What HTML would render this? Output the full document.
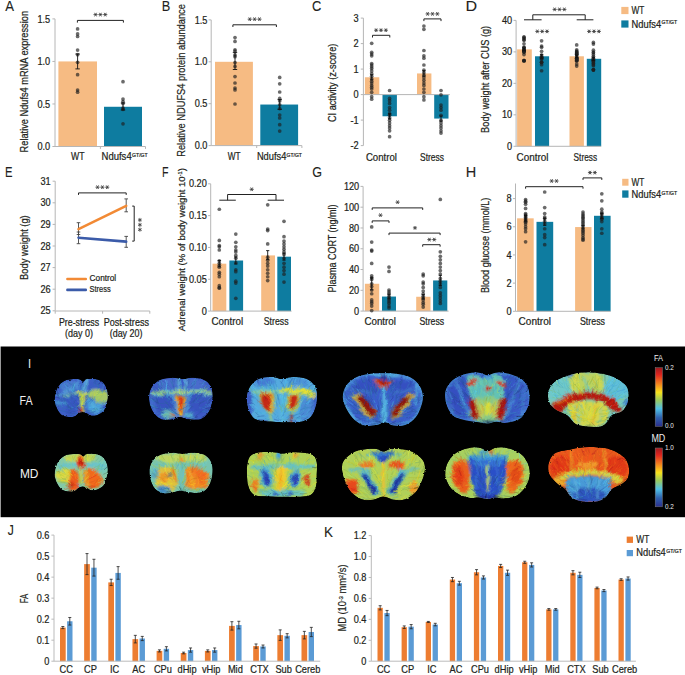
<!DOCTYPE html>
<html><head><meta charset="utf-8"><style>
html,body{margin:0;padding:0;background:#fff;width:685px;height:675px;overflow:hidden}
svg{display:block}
text{font-family:"Liberation Sans", sans-serif}
</style></head><body>
<svg width="685" height="675" viewBox="0 0 685 675">
<rect x="0" y="0" width="685" height="675" fill="#fff"/>
<text x="5.27" y="10.70" font-size="15.2" textLength="8.77" lengthAdjust="spacingAndGlyphs" fill="#231f20" stroke="#231f20" stroke-width="0.1">A</text>
<rect x="58.40" y="61.43" width="38.60" height="85.07" fill="#f6bb83"/>
<rect x="104.00" y="106.77" width="38.00" height="39.73" fill="#0e7ca0"/>
<line x1="55.00" y1="18.90" x2="55.00" y2="146.50" stroke="#b6b6b6" stroke-width="1.0" />
<line x1="52.40" y1="146.50" x2="55.00" y2="146.50" stroke="#b6b6b6" stroke-width="1.0" />
<text x="50.20" y="150.10" font-size="10.2" text-anchor="end" textLength="12.76" lengthAdjust="spacingAndGlyphs" fill="#231f20" stroke="#231f20" stroke-width="0.22" >0.0</text>
<line x1="52.40" y1="103.97" x2="55.00" y2="103.97" stroke="#b6b6b6" stroke-width="1.0" />
<text x="50.20" y="107.57" font-size="10.2" text-anchor="end" textLength="12.76" lengthAdjust="spacingAndGlyphs" fill="#231f20" stroke="#231f20" stroke-width="0.22" >0.5</text>
<line x1="52.40" y1="61.43" x2="55.00" y2="61.43" stroke="#b6b6b6" stroke-width="1.0" />
<text x="50.20" y="65.03" font-size="10.2" text-anchor="end" textLength="12.76" lengthAdjust="spacingAndGlyphs" fill="#231f20" stroke="#231f20" stroke-width="0.22" >1.0</text>
<line x1="52.40" y1="18.90" x2="55.00" y2="18.90" stroke="#b6b6b6" stroke-width="1.0" />
<text x="50.20" y="22.50" font-size="10.2" text-anchor="end" textLength="12.76" lengthAdjust="spacingAndGlyphs" fill="#231f20" stroke="#231f20" stroke-width="0.22" >1.5</text>
<line x1="55.00" y1="146.50" x2="145.50" y2="146.50" stroke="#b6b6b6" stroke-width="1.0" />
<line x1="100.40" y1="146.50" x2="100.40" y2="148.90" stroke="#b6b6b6" stroke-width="1.0" />
<line x1="145.50" y1="146.50" x2="145.50" y2="148.90" stroke="#b6b6b6" stroke-width="1.0" />
<circle cx="77.60" cy="28.90" r="1.85" fill="rgba(30,30,30,0.66)"/>
<circle cx="77.60" cy="33.90" r="1.85" fill="rgba(30,30,30,0.66)"/>
<circle cx="77.60" cy="36.50" r="1.85" fill="rgba(30,30,30,0.66)"/>
<circle cx="77.60" cy="50.10" r="1.85" fill="rgba(30,30,30,0.66)"/>
<circle cx="77.60" cy="54.70" r="1.85" fill="rgba(30,30,30,0.66)"/>
<circle cx="77.60" cy="62.30" r="1.85" fill="rgba(30,30,30,0.66)"/>
<circle cx="77.60" cy="74.70" r="1.85" fill="rgba(30,30,30,0.66)"/>
<circle cx="77.60" cy="90.10" r="1.85" fill="rgba(30,30,30,0.66)"/>
<circle cx="77.60" cy="92.20" r="1.85" fill="rgba(30,30,30,0.66)"/>
<line x1="77.60" y1="54.00" x2="77.60" y2="68.90" stroke="#111" stroke-width="0.9" />
<line x1="75.40" y1="54.00" x2="79.80" y2="54.00" stroke="#111" stroke-width="0.9" />
<line x1="75.40" y1="68.90" x2="79.80" y2="68.90" stroke="#111" stroke-width="0.9" />
<circle cx="123.00" cy="81.70" r="1.85" fill="rgba(30,30,30,0.66)"/>
<circle cx="123.00" cy="99.10" r="1.85" fill="rgba(30,30,30,0.66)"/>
<circle cx="123.00" cy="101.50" r="1.85" fill="rgba(30,30,30,0.66)"/>
<circle cx="123.00" cy="103.60" r="1.85" fill="rgba(30,30,30,0.66)"/>
<circle cx="123.00" cy="108.00" r="1.85" fill="rgba(30,30,30,0.66)"/>
<circle cx="123.00" cy="109.30" r="1.85" fill="rgba(30,30,30,0.66)"/>
<circle cx="123.00" cy="123.80" r="1.85" fill="rgba(30,30,30,0.66)"/>
<line x1="123.00" y1="103.00" x2="123.00" y2="110.00" stroke="#111" stroke-width="0.9" />
<line x1="120.80" y1="103.00" x2="125.20" y2="103.00" stroke="#111" stroke-width="0.9" />
<line x1="120.80" y1="110.00" x2="125.20" y2="110.00" stroke="#111" stroke-width="0.9" />
<path d="M77.40,22.60 V20.40 H123.40 V22.60" stroke="#222" stroke-width="1.0" fill="none" />
<path d="M93.50,14.60L97.60,14.60M94.53,12.82L96.58,16.38M96.58,12.82L94.53,16.38M98.35,14.60L102.45,14.60M99.38,12.82L101.43,16.38M101.43,12.82L99.38,16.38M103.20,14.60L107.30,14.60M104.22,12.82L106.28,16.38M106.28,12.82L104.22,16.38" stroke="#3a3a3a" stroke-width="0.85" fill="none" />
<text transform="translate(27.70,81.70) rotate(-90)" x="0" y="0" font-size="10.2" text-anchor="middle" textLength="141.40" lengthAdjust="spacingAndGlyphs" fill="#231f20" stroke="#231f20" stroke-width="0.22">Relative Ndufs4 mRNA expression</text>
<text x="71.00" y="160.30" font-size="10.3" textLength="13.50" lengthAdjust="spacingAndGlyphs" fill="#231f20" stroke="#231f20" stroke-width="0.22" >WT</text>
<text x="101.50" y="160.30" font-size="10.3" textLength="30.20" lengthAdjust="spacingAndGlyphs" fill="#231f20" stroke="#231f20" stroke-width="0.22" >Ndufs4</text>
<text x="132.10" y="157.00" font-size="5.4" textLength="15.60" lengthAdjust="spacingAndGlyphs" fill="#231f20" stroke="#231f20" stroke-width="0.22" >GT/GT</text>
<text x="161.85" y="10.50" font-size="15.2" textLength="8.54" lengthAdjust="spacingAndGlyphs" fill="#231f20" stroke="#231f20" stroke-width="0.1">B</text>
<rect x="215.00" y="61.80" width="37.90" height="83.80" fill="#f6bb83"/>
<rect x="260.30" y="104.54" width="37.80" height="41.06" fill="#0e7ca0"/>
<line x1="211.20" y1="19.90" x2="211.20" y2="145.60" stroke="#b6b6b6" stroke-width="1.0" />
<line x1="208.60" y1="145.60" x2="211.20" y2="145.60" stroke="#b6b6b6" stroke-width="1.0" />
<text x="207.40" y="149.20" font-size="10.2" text-anchor="end" textLength="12.76" lengthAdjust="spacingAndGlyphs" fill="#231f20" stroke="#231f20" stroke-width="0.22" >0.0</text>
<line x1="208.60" y1="103.70" x2="211.20" y2="103.70" stroke="#b6b6b6" stroke-width="1.0" />
<text x="207.40" y="107.30" font-size="10.2" text-anchor="end" textLength="12.76" lengthAdjust="spacingAndGlyphs" fill="#231f20" stroke="#231f20" stroke-width="0.22" >0.5</text>
<line x1="208.60" y1="61.80" x2="211.20" y2="61.80" stroke="#b6b6b6" stroke-width="1.0" />
<text x="207.40" y="65.40" font-size="10.2" text-anchor="end" textLength="12.76" lengthAdjust="spacingAndGlyphs" fill="#231f20" stroke="#231f20" stroke-width="0.22" >1.0</text>
<line x1="208.60" y1="19.90" x2="211.20" y2="19.90" stroke="#b6b6b6" stroke-width="1.0" />
<text x="207.40" y="23.50" font-size="10.2" text-anchor="end" textLength="12.76" lengthAdjust="spacingAndGlyphs" fill="#231f20" stroke="#231f20" stroke-width="0.22" >1.5</text>
<line x1="211.20" y1="145.60" x2="301.90" y2="145.60" stroke="#b6b6b6" stroke-width="1.0" />
<line x1="256.70" y1="145.60" x2="256.70" y2="148.00" stroke="#b6b6b6" stroke-width="1.0" />
<line x1="301.90" y1="145.60" x2="301.90" y2="148.00" stroke="#b6b6b6" stroke-width="1.0" />
<circle cx="235.00" cy="37.60" r="1.85" fill="rgba(30,30,30,0.66)"/>
<circle cx="235.00" cy="41.40" r="1.85" fill="rgba(30,30,30,0.66)"/>
<circle cx="235.00" cy="49.80" r="1.85" fill="rgba(30,30,30,0.66)"/>
<circle cx="235.00" cy="51.10" r="1.85" fill="rgba(30,30,30,0.66)"/>
<circle cx="235.00" cy="54.90" r="1.85" fill="rgba(30,30,30,0.66)"/>
<circle cx="235.00" cy="56.70" r="1.85" fill="rgba(30,30,30,0.66)"/>
<circle cx="235.00" cy="62.60" r="1.85" fill="rgba(30,30,30,0.66)"/>
<circle cx="235.00" cy="66.40" r="1.85" fill="rgba(30,30,30,0.66)"/>
<circle cx="235.00" cy="76.60" r="1.85" fill="rgba(30,30,30,0.66)"/>
<circle cx="235.00" cy="83.00" r="1.85" fill="rgba(30,30,30,0.66)"/>
<circle cx="235.00" cy="88.10" r="1.85" fill="rgba(30,30,30,0.66)"/>
<circle cx="235.00" cy="89.90" r="1.85" fill="rgba(30,30,30,0.66)"/>
<circle cx="235.00" cy="104.00" r="1.85" fill="rgba(30,30,30,0.66)"/>
<line x1="235.00" y1="52.40" x2="235.00" y2="69.50" stroke="#111" stroke-width="0.9" />
<line x1="232.80" y1="52.40" x2="237.20" y2="52.40" stroke="#111" stroke-width="0.9" />
<line x1="232.80" y1="69.50" x2="237.20" y2="69.50" stroke="#111" stroke-width="0.9" />
<circle cx="279.70" cy="77.40" r="1.85" fill="rgba(30,30,30,0.66)"/>
<circle cx="279.70" cy="83.80" r="1.85" fill="rgba(30,30,30,0.66)"/>
<circle cx="279.70" cy="92.00" r="1.85" fill="rgba(30,30,30,0.66)"/>
<circle cx="279.70" cy="98.40" r="1.85" fill="rgba(30,30,30,0.66)"/>
<circle cx="279.70" cy="100.90" r="1.85" fill="rgba(30,30,30,0.66)"/>
<circle cx="279.70" cy="104.80" r="1.85" fill="rgba(30,30,30,0.66)"/>
<circle cx="279.70" cy="108.60" r="1.85" fill="rgba(30,30,30,0.66)"/>
<circle cx="279.70" cy="115.00" r="1.85" fill="rgba(30,30,30,0.66)"/>
<circle cx="279.70" cy="118.00" r="1.85" fill="rgba(30,30,30,0.66)"/>
<circle cx="279.70" cy="124.70" r="1.85" fill="rgba(30,30,30,0.66)"/>
<circle cx="279.70" cy="131.10" r="1.85" fill="rgba(30,30,30,0.66)"/>
<line x1="279.70" y1="99.60" x2="279.70" y2="109.40" stroke="#111" stroke-width="0.9" />
<line x1="277.50" y1="99.60" x2="281.90" y2="99.60" stroke="#111" stroke-width="0.9" />
<line x1="277.50" y1="109.40" x2="281.90" y2="109.40" stroke="#111" stroke-width="0.9" />
<path d="M232.90,27.00 V24.80 H276.40 V27.00" stroke="#222" stroke-width="1.0" fill="none" />
<path d="M247.70,19.20L251.80,19.20M248.72,17.42L250.78,20.98M250.78,17.42L248.72,20.98M252.55,19.20L256.65,19.20M253.57,17.42L255.62,20.98M255.62,17.42L253.57,20.98M257.40,19.20L261.50,19.20M258.43,17.42L260.47,20.98M260.47,17.42L258.43,20.98" stroke="#3a3a3a" stroke-width="0.85" fill="none" />
<text transform="translate(185.20,80.45) rotate(-90)" x="0" y="0" font-size="10.2" text-anchor="middle" textLength="152.70" lengthAdjust="spacingAndGlyphs" fill="#231f20" stroke="#231f20" stroke-width="0.22">Relative NDUFS4 protein abundance</text>
<text x="227.80" y="160.30" font-size="10.3" textLength="12.80" lengthAdjust="spacingAndGlyphs" fill="#231f20" stroke="#231f20" stroke-width="0.22" >WT</text>
<text x="256.90" y="160.30" font-size="10.3" textLength="29.50" lengthAdjust="spacingAndGlyphs" fill="#231f20" stroke="#231f20" stroke-width="0.22" >Ndufs4</text>
<text x="286.60" y="157.00" font-size="5.4" textLength="15.30" lengthAdjust="spacingAndGlyphs" fill="#231f20" stroke="#231f20" stroke-width="0.22" >GT/GT</text>
<text x="312.05" y="10.60" font-size="15.2" textLength="9.25" lengthAdjust="spacingAndGlyphs" fill="#231f20" stroke="#231f20" stroke-width="0.1">C</text>
<rect x="364.90" y="77.26" width="14.40" height="17.34" fill="#f6bb83"/>
<rect x="382.50" y="94.60" width="14.40" height="21.67" fill="#0e7ca0"/>
<rect x="417.00" y="73.44" width="14.40" height="21.16" fill="#f6bb83"/>
<rect x="434.20" y="94.60" width="14.30" height="23.97" fill="#0e7ca0"/>
<line x1="363.40" y1="94.60" x2="449.80" y2="94.60" stroke="#b6b6b6" stroke-width="1.0" />
<line x1="363.40" y1="18.10" x2="363.40" y2="145.60" stroke="#b6b6b6" stroke-width="1.0" />
<line x1="360.80" y1="18.10" x2="363.40" y2="18.10" stroke="#b6b6b6" stroke-width="1.0" />
<text x="358.60" y="21.70" font-size="10.2" text-anchor="end" textLength="5.11" lengthAdjust="spacingAndGlyphs" fill="#231f20" stroke="#231f20" stroke-width="0.22" >3</text>
<line x1="360.80" y1="43.60" x2="363.40" y2="43.60" stroke="#b6b6b6" stroke-width="1.0" />
<text x="358.60" y="47.20" font-size="10.2" text-anchor="end" textLength="5.11" lengthAdjust="spacingAndGlyphs" fill="#231f20" stroke="#231f20" stroke-width="0.22" >2</text>
<line x1="360.80" y1="69.10" x2="363.40" y2="69.10" stroke="#b6b6b6" stroke-width="1.0" />
<text x="358.60" y="72.70" font-size="10.2" text-anchor="end" textLength="5.11" lengthAdjust="spacingAndGlyphs" fill="#231f20" stroke="#231f20" stroke-width="0.22" >1</text>
<line x1="360.80" y1="94.60" x2="363.40" y2="94.60" stroke="#b6b6b6" stroke-width="1.0" />
<text x="358.60" y="98.20" font-size="10.2" text-anchor="end" textLength="5.11" lengthAdjust="spacingAndGlyphs" fill="#231f20" stroke="#231f20" stroke-width="0.22" >0</text>
<line x1="360.80" y1="120.10" x2="363.40" y2="120.10" stroke="#b6b6b6" stroke-width="1.0" />
<text x="358.60" y="123.70" font-size="10.2" text-anchor="end" textLength="8.16" lengthAdjust="spacingAndGlyphs" fill="#231f20" stroke="#231f20" stroke-width="0.22" >-1</text>
<line x1="360.80" y1="145.60" x2="363.40" y2="145.60" stroke="#b6b6b6" stroke-width="1.0" />
<text x="358.60" y="149.20" font-size="10.2" text-anchor="end" textLength="8.16" lengthAdjust="spacingAndGlyphs" fill="#231f20" stroke="#231f20" stroke-width="0.22" >-2</text>
<circle cx="371.70" cy="43.34" r="1.85" fill="rgba(30,30,30,0.66)"/>
<circle cx="371.70" cy="52.27" r="1.85" fill="rgba(30,30,30,0.66)"/>
<circle cx="371.70" cy="54.05" r="1.85" fill="rgba(30,30,30,0.66)"/>
<circle cx="371.70" cy="55.84" r="1.85" fill="rgba(30,30,30,0.66)"/>
<circle cx="371.70" cy="63.49" r="1.85" fill="rgba(30,30,30,0.66)"/>
<circle cx="371.70" cy="65.02" r="1.85" fill="rgba(30,30,30,0.66)"/>
<circle cx="371.70" cy="66.80" r="1.85" fill="rgba(30,30,30,0.66)"/>
<circle cx="371.70" cy="68.59" r="1.85" fill="rgba(30,30,30,0.66)"/>
<circle cx="371.70" cy="70.88" r="1.85" fill="rgba(30,30,30,0.66)"/>
<circle cx="371.70" cy="73.69" r="1.85" fill="rgba(30,30,30,0.66)"/>
<circle cx="371.70" cy="76.24" r="1.85" fill="rgba(30,30,30,0.66)"/>
<circle cx="371.70" cy="78.79" r="1.85" fill="rgba(30,30,30,0.66)"/>
<circle cx="371.70" cy="81.34" r="1.85" fill="rgba(30,30,30,0.66)"/>
<circle cx="371.70" cy="83.12" r="1.85" fill="rgba(30,30,30,0.66)"/>
<circle cx="371.70" cy="85.42" r="1.85" fill="rgba(30,30,30,0.66)"/>
<circle cx="371.70" cy="87.20" r="1.85" fill="rgba(30,30,30,0.66)"/>
<circle cx="371.70" cy="88.99" r="1.85" fill="rgba(30,30,30,0.66)"/>
<circle cx="371.70" cy="92.30" r="1.85" fill="rgba(30,30,30,0.66)"/>
<circle cx="371.70" cy="96.64" r="1.85" fill="rgba(30,30,30,0.66)"/>
<circle cx="371.70" cy="99.19" r="1.85" fill="rgba(30,30,30,0.66)"/>
<circle cx="389.60" cy="90.52" r="1.85" fill="rgba(30,30,30,0.66)"/>
<circle cx="389.60" cy="98.42" r="1.85" fill="rgba(30,30,30,0.66)"/>
<circle cx="389.60" cy="100.72" r="1.85" fill="rgba(30,30,30,0.66)"/>
<circle cx="389.60" cy="103.52" r="1.85" fill="rgba(30,30,30,0.66)"/>
<circle cx="389.60" cy="107.60" r="1.85" fill="rgba(30,30,30,0.66)"/>
<circle cx="389.60" cy="110.16" r="1.85" fill="rgba(30,30,30,0.66)"/>
<circle cx="389.60" cy="113.72" r="1.85" fill="rgba(30,30,30,0.66)"/>
<circle cx="389.60" cy="115.25" r="1.85" fill="rgba(30,30,30,0.66)"/>
<circle cx="389.60" cy="117.80" r="1.85" fill="rgba(30,30,30,0.66)"/>
<circle cx="389.60" cy="120.35" r="1.85" fill="rgba(30,30,30,0.66)"/>
<circle cx="389.60" cy="122.91" r="1.85" fill="rgba(30,30,30,0.66)"/>
<circle cx="389.60" cy="125.71" r="1.85" fill="rgba(30,30,30,0.66)"/>
<circle cx="389.60" cy="128.00" r="1.85" fill="rgba(30,30,30,0.66)"/>
<circle cx="389.60" cy="130.81" r="1.85" fill="rgba(30,30,30,0.66)"/>
<circle cx="389.60" cy="136.67" r="1.85" fill="rgba(30,30,30,0.66)"/>
<circle cx="423.90" cy="26.00" r="1.85" fill="rgba(30,30,30,0.66)"/>
<circle cx="423.90" cy="29.32" r="1.85" fill="rgba(30,30,30,0.66)"/>
<circle cx="423.90" cy="50.48" r="1.85" fill="rgba(30,30,30,0.66)"/>
<circle cx="423.90" cy="55.84" r="1.85" fill="rgba(30,30,30,0.66)"/>
<circle cx="423.90" cy="58.13" r="1.85" fill="rgba(30,30,30,0.66)"/>
<circle cx="423.90" cy="65.02" r="1.85" fill="rgba(30,30,30,0.66)"/>
<circle cx="423.90" cy="70.12" r="1.85" fill="rgba(30,30,30,0.66)"/>
<circle cx="423.90" cy="72.67" r="1.85" fill="rgba(30,30,30,0.66)"/>
<circle cx="423.90" cy="75.22" r="1.85" fill="rgba(30,30,30,0.66)"/>
<circle cx="423.90" cy="77.77" r="1.85" fill="rgba(30,30,30,0.66)"/>
<circle cx="423.90" cy="80.32" r="1.85" fill="rgba(30,30,30,0.66)"/>
<circle cx="423.90" cy="83.12" r="1.85" fill="rgba(30,30,30,0.66)"/>
<circle cx="423.90" cy="85.42" r="1.85" fill="rgba(30,30,30,0.66)"/>
<circle cx="423.90" cy="88.99" r="1.85" fill="rgba(30,30,30,0.66)"/>
<circle cx="423.90" cy="92.30" r="1.85" fill="rgba(30,30,30,0.66)"/>
<circle cx="423.90" cy="96.64" r="1.85" fill="rgba(30,30,30,0.66)"/>
<circle cx="423.90" cy="99.95" r="1.85" fill="rgba(30,30,30,0.66)"/>
<circle cx="441.00" cy="90.52" r="1.85" fill="rgba(30,30,30,0.66)"/>
<circle cx="441.00" cy="94.85" r="1.85" fill="rgba(30,30,30,0.66)"/>
<circle cx="441.00" cy="105.05" r="1.85" fill="rgba(30,30,30,0.66)"/>
<circle cx="441.00" cy="107.60" r="1.85" fill="rgba(30,30,30,0.66)"/>
<circle cx="441.00" cy="110.16" r="1.85" fill="rgba(30,30,30,0.66)"/>
<circle cx="441.00" cy="115.25" r="1.85" fill="rgba(30,30,30,0.66)"/>
<circle cx="441.00" cy="120.35" r="1.85" fill="rgba(30,30,30,0.66)"/>
<circle cx="441.00" cy="122.91" r="1.85" fill="rgba(30,30,30,0.66)"/>
<circle cx="441.00" cy="125.71" r="1.85" fill="rgba(30,30,30,0.66)"/>
<circle cx="441.00" cy="128.00" r="1.85" fill="rgba(30,30,30,0.66)"/>
<circle cx="441.00" cy="130.81" r="1.85" fill="rgba(30,30,30,0.66)"/>
<circle cx="441.00" cy="133.10" r="1.85" fill="rgba(30,30,30,0.66)"/>
<line x1="371.70" y1="79.81" x2="371.70" y2="74.71" stroke="#111" stroke-width="0.9" />
<line x1="370.10" y1="79.81" x2="373.30" y2="79.81" stroke="#111" stroke-width="0.9" />
<line x1="370.10" y1="74.71" x2="373.30" y2="74.71" stroke="#111" stroke-width="0.9" />
<line x1="389.60" y1="113.72" x2="389.60" y2="118.82" stroke="#111" stroke-width="0.9" />
<line x1="388.00" y1="113.72" x2="391.20" y2="113.72" stroke="#111" stroke-width="0.9" />
<line x1="388.00" y1="118.82" x2="391.20" y2="118.82" stroke="#111" stroke-width="0.9" />
<line x1="423.90" y1="76.24" x2="423.90" y2="70.63" stroke="#111" stroke-width="0.9" />
<line x1="422.30" y1="76.24" x2="425.50" y2="76.24" stroke="#111" stroke-width="0.9" />
<line x1="422.30" y1="70.63" x2="425.50" y2="70.63" stroke="#111" stroke-width="0.9" />
<line x1="441.00" y1="116.02" x2="441.00" y2="121.12" stroke="#111" stroke-width="0.9" />
<line x1="439.40" y1="116.02" x2="442.60" y2="116.02" stroke="#111" stroke-width="0.9" />
<line x1="439.40" y1="121.12" x2="442.60" y2="121.12" stroke="#111" stroke-width="0.9" />
<path d="M372.50,37.50 V35.30 H389.80 V37.50" stroke="#222" stroke-width="1.0" fill="none" />
<path d="M374.10,30.20L378.20,30.20M375.12,28.42L377.17,31.98M377.17,28.42L375.12,31.98M378.95,30.20L383.05,30.20M379.98,28.42L382.02,31.98M382.02,28.42L379.98,31.98M383.80,30.20L387.90,30.20M384.83,28.42L386.88,31.98M386.88,28.42L384.83,31.98" stroke="#3a3a3a" stroke-width="0.85" fill="none" />
<path d="M423.90,21.10 V18.90 H441.00 V21.10" stroke="#222" stroke-width="1.0" fill="none" />
<path d="M425.60,13.90L429.70,13.90M426.62,12.12L428.67,15.68M428.67,12.12L426.62,15.68M430.45,13.90L434.55,13.90M431.48,12.12L433.52,15.68M433.52,12.12L431.48,15.68M435.30,13.90L439.40,13.90M436.33,12.12L438.38,15.68M438.38,12.12L436.33,15.68" stroke="#3a3a3a" stroke-width="0.85" fill="none" />
<text transform="translate(335.90,82.85) rotate(-90)" x="0" y="0" font-size="10.2" text-anchor="middle" textLength="78.30" lengthAdjust="spacingAndGlyphs" fill="#231f20" stroke="#231f20" stroke-width="0.22">CI activity (z-score)</text>
<text x="365.90" y="160.60" font-size="10.3" textLength="31.00" lengthAdjust="spacingAndGlyphs" fill="#231f20" stroke="#231f20" stroke-width="0.22" >Control</text>
<text x="420.00" y="160.60" font-size="10.3" textLength="24.00" lengthAdjust="spacingAndGlyphs" fill="#231f20" stroke="#231f20" stroke-width="0.22" >Stress</text>
<text x="465.48" y="10.50" font-size="15.2" textLength="11.61" lengthAdjust="spacingAndGlyphs" fill="#231f20" stroke="#231f20" stroke-width="0.1">D</text>
<rect x="517.10" y="49.36" width="14.70" height="96.94" fill="#f6bb83"/>
<rect x="535.00" y="56.28" width="14.10" height="90.02" fill="#0e7ca0"/>
<rect x="569.50" y="56.28" width="14.40" height="90.02" fill="#f6bb83"/>
<rect x="586.80" y="58.80" width="14.40" height="87.50" fill="#0e7ca0"/>
<line x1="516.10" y1="20.40" x2="516.10" y2="146.30" stroke="#b6b6b6" stroke-width="1.0" />
<line x1="513.50" y1="146.30" x2="516.10" y2="146.30" stroke="#b6b6b6" stroke-width="1.0" />
<text x="512.20" y="149.90" font-size="10.2" text-anchor="end" textLength="5.11" lengthAdjust="spacingAndGlyphs" fill="#231f20" stroke="#231f20" stroke-width="0.22" >0</text>
<line x1="513.50" y1="114.83" x2="516.10" y2="114.83" stroke="#b6b6b6" stroke-width="1.0" />
<text x="512.20" y="118.43" font-size="10.2" text-anchor="end" textLength="10.21" lengthAdjust="spacingAndGlyphs" fill="#231f20" stroke="#231f20" stroke-width="0.22" >10</text>
<line x1="513.50" y1="83.35" x2="516.10" y2="83.35" stroke="#b6b6b6" stroke-width="1.0" />
<text x="512.20" y="86.95" font-size="10.2" text-anchor="end" textLength="10.21" lengthAdjust="spacingAndGlyphs" fill="#231f20" stroke="#231f20" stroke-width="0.22" >20</text>
<line x1="513.50" y1="51.88" x2="516.10" y2="51.88" stroke="#b6b6b6" stroke-width="1.0" />
<text x="512.20" y="55.48" font-size="10.2" text-anchor="end" textLength="10.21" lengthAdjust="spacingAndGlyphs" fill="#231f20" stroke="#231f20" stroke-width="0.22" >30</text>
<line x1="513.50" y1="20.40" x2="516.10" y2="20.40" stroke="#b6b6b6" stroke-width="1.0" />
<text x="512.20" y="24.00" font-size="10.2" text-anchor="end" textLength="10.21" lengthAdjust="spacingAndGlyphs" fill="#231f20" stroke="#231f20" stroke-width="0.22" >40</text>
<line x1="516.10" y1="146.30" x2="601.20" y2="146.30" stroke="#b6b6b6" stroke-width="1.0" />
<circle cx="524.00" cy="60.69" r="1.85" fill="rgba(30,30,30,0.66)"/>
<circle cx="524.00" cy="37.08" r="1.85" fill="rgba(30,30,30,0.66)"/>
<circle cx="524.00" cy="38.50" r="1.85" fill="rgba(30,30,30,0.66)"/>
<circle cx="524.00" cy="60.69" r="1.85" fill="rgba(30,30,30,0.66)"/>
<circle cx="524.00" cy="40.36" r="1.85" fill="rgba(30,30,30,0.66)"/>
<circle cx="524.00" cy="43.76" r="1.85" fill="rgba(30,30,30,0.66)"/>
<circle cx="524.00" cy="52.21" r="1.85" fill="rgba(30,30,30,0.66)"/>
<circle cx="524.00" cy="47.56" r="1.85" fill="rgba(30,30,30,0.66)"/>
<circle cx="524.00" cy="52.11" r="1.85" fill="rgba(30,30,30,0.66)"/>
<circle cx="524.00" cy="39.64" r="1.85" fill="rgba(30,30,30,0.66)"/>
<circle cx="524.00" cy="48.12" r="1.85" fill="rgba(30,30,30,0.66)"/>
<circle cx="524.00" cy="50.63" r="1.85" fill="rgba(30,30,30,0.66)"/>
<circle cx="524.00" cy="50.70" r="1.85" fill="rgba(30,30,30,0.66)"/>
<circle cx="524.00" cy="50.54" r="1.85" fill="rgba(30,30,30,0.66)"/>
<circle cx="524.00" cy="50.40" r="1.85" fill="rgba(30,30,30,0.66)"/>
<circle cx="524.00" cy="54.54" r="1.85" fill="rgba(30,30,30,0.66)"/>
<circle cx="524.00" cy="37.21" r="1.85" fill="rgba(30,30,30,0.66)"/>
<circle cx="524.00" cy="60.63" r="1.85" fill="rgba(30,30,30,0.66)"/>
<circle cx="524.00" cy="60.69" r="1.85" fill="rgba(30,30,30,0.66)"/>
<circle cx="524.00" cy="50.08" r="1.85" fill="rgba(30,30,30,0.66)"/>
<circle cx="524.00" cy="50.22" r="1.85" fill="rgba(30,30,30,0.66)"/>
<circle cx="524.00" cy="47.16" r="1.85" fill="rgba(30,30,30,0.66)"/>
<circle cx="541.60" cy="70.76" r="1.85" fill="rgba(30,30,30,0.66)"/>
<circle cx="541.60" cy="40.86" r="1.85" fill="rgba(30,30,30,0.66)"/>
<circle cx="541.60" cy="47.30" r="1.85" fill="rgba(30,30,30,0.66)"/>
<circle cx="541.60" cy="57.54" r="1.85" fill="rgba(30,30,30,0.66)"/>
<circle cx="541.60" cy="57.36" r="1.85" fill="rgba(30,30,30,0.66)"/>
<circle cx="541.60" cy="56.62" r="1.85" fill="rgba(30,30,30,0.66)"/>
<circle cx="541.60" cy="64.76" r="1.85" fill="rgba(30,30,30,0.66)"/>
<circle cx="541.60" cy="51.28" r="1.85" fill="rgba(30,30,30,0.66)"/>
<circle cx="541.60" cy="46.02" r="1.85" fill="rgba(30,30,30,0.66)"/>
<circle cx="541.60" cy="54.98" r="1.85" fill="rgba(30,30,30,0.66)"/>
<circle cx="541.60" cy="58.06" r="1.85" fill="rgba(30,30,30,0.66)"/>
<circle cx="541.60" cy="58.22" r="1.85" fill="rgba(30,30,30,0.66)"/>
<circle cx="541.60" cy="62.12" r="1.85" fill="rgba(30,30,30,0.66)"/>
<circle cx="541.60" cy="62.29" r="1.85" fill="rgba(30,30,30,0.66)"/>
<circle cx="541.60" cy="59.28" r="1.85" fill="rgba(30,30,30,0.66)"/>
<circle cx="541.60" cy="62.58" r="1.85" fill="rgba(30,30,30,0.66)"/>
<circle cx="576.70" cy="66.04" r="1.85" fill="rgba(30,30,30,0.66)"/>
<circle cx="576.70" cy="44.95" r="1.85" fill="rgba(30,30,30,0.66)"/>
<circle cx="576.70" cy="64.07" r="1.85" fill="rgba(30,30,30,0.66)"/>
<circle cx="576.70" cy="59.90" r="1.85" fill="rgba(30,30,30,0.66)"/>
<circle cx="576.70" cy="57.66" r="1.85" fill="rgba(30,30,30,0.66)"/>
<circle cx="576.70" cy="52.80" r="1.85" fill="rgba(30,30,30,0.66)"/>
<circle cx="576.70" cy="54.99" r="1.85" fill="rgba(30,30,30,0.66)"/>
<circle cx="576.70" cy="59.95" r="1.85" fill="rgba(30,30,30,0.66)"/>
<circle cx="576.70" cy="54.12" r="1.85" fill="rgba(30,30,30,0.66)"/>
<circle cx="576.70" cy="51.08" r="1.85" fill="rgba(30,30,30,0.66)"/>
<circle cx="576.70" cy="57.06" r="1.85" fill="rgba(30,30,30,0.66)"/>
<circle cx="576.70" cy="58.60" r="1.85" fill="rgba(30,30,30,0.66)"/>
<circle cx="576.70" cy="58.36" r="1.85" fill="rgba(30,30,30,0.66)"/>
<circle cx="576.70" cy="52.01" r="1.85" fill="rgba(30,30,30,0.66)"/>
<circle cx="576.70" cy="53.44" r="1.85" fill="rgba(30,30,30,0.66)"/>
<circle cx="576.70" cy="61.18" r="1.85" fill="rgba(30,30,30,0.66)"/>
<circle cx="576.70" cy="54.30" r="1.85" fill="rgba(30,30,30,0.66)"/>
<circle cx="576.70" cy="58.81" r="1.85" fill="rgba(30,30,30,0.66)"/>
<circle cx="576.70" cy="60.24" r="1.85" fill="rgba(30,30,30,0.66)"/>
<circle cx="576.70" cy="49.75" r="1.85" fill="rgba(30,30,30,0.66)"/>
<circle cx="576.70" cy="51.95" r="1.85" fill="rgba(30,30,30,0.66)"/>
<circle cx="576.70" cy="60.10" r="1.85" fill="rgba(30,30,30,0.66)"/>
<circle cx="593.40" cy="69.82" r="1.85" fill="rgba(30,30,30,0.66)"/>
<circle cx="593.40" cy="42.43" r="1.85" fill="rgba(30,30,30,0.66)"/>
<circle cx="593.40" cy="44.11" r="1.85" fill="rgba(30,30,30,0.66)"/>
<circle cx="593.40" cy="69.82" r="1.85" fill="rgba(30,30,30,0.66)"/>
<circle cx="593.40" cy="69.82" r="1.85" fill="rgba(30,30,30,0.66)"/>
<circle cx="593.40" cy="52.08" r="1.85" fill="rgba(30,30,30,0.66)"/>
<circle cx="593.40" cy="54.44" r="1.85" fill="rgba(30,30,30,0.66)"/>
<circle cx="593.40" cy="60.94" r="1.85" fill="rgba(30,30,30,0.66)"/>
<circle cx="593.40" cy="59.17" r="1.85" fill="rgba(30,30,30,0.66)"/>
<circle cx="593.40" cy="69.82" r="1.85" fill="rgba(30,30,30,0.66)"/>
<circle cx="593.40" cy="63.11" r="1.85" fill="rgba(30,30,30,0.66)"/>
<circle cx="593.40" cy="65.87" r="1.85" fill="rgba(30,30,30,0.66)"/>
<circle cx="593.40" cy="60.32" r="1.85" fill="rgba(30,30,30,0.66)"/>
<circle cx="593.40" cy="52.73" r="1.85" fill="rgba(30,30,30,0.66)"/>
<circle cx="593.40" cy="58.44" r="1.85" fill="rgba(30,30,30,0.66)"/>
<circle cx="593.40" cy="56.25" r="1.85" fill="rgba(30,30,30,0.66)"/>
<circle cx="593.40" cy="63.58" r="1.85" fill="rgba(30,30,30,0.66)"/>
<circle cx="593.40" cy="61.78" r="1.85" fill="rgba(30,30,30,0.66)"/>
<circle cx="593.40" cy="58.03" r="1.85" fill="rgba(30,30,30,0.66)"/>
<circle cx="593.40" cy="60.73" r="1.85" fill="rgba(30,30,30,0.66)"/>
<circle cx="593.40" cy="50.14" r="1.85" fill="rgba(30,30,30,0.66)"/>
<circle cx="593.40" cy="64.79" r="1.85" fill="rgba(30,30,30,0.66)"/>
<line x1="524.00" y1="50.62" x2="524.00" y2="48.10" stroke="#111" stroke-width="0.9" />
<line x1="522.40" y1="50.62" x2="525.60" y2="50.62" stroke="#111" stroke-width="0.9" />
<line x1="522.40" y1="48.10" x2="525.60" y2="48.10" stroke="#111" stroke-width="0.9" />
<line x1="541.60" y1="58.17" x2="541.60" y2="54.39" stroke="#111" stroke-width="0.9" />
<line x1="540.00" y1="58.17" x2="543.20" y2="58.17" stroke="#111" stroke-width="0.9" />
<line x1="540.00" y1="54.39" x2="543.20" y2="54.39" stroke="#111" stroke-width="0.9" />
<line x1="576.70" y1="57.54" x2="576.70" y2="55.02" stroke="#111" stroke-width="0.9" />
<line x1="575.10" y1="57.54" x2="578.30" y2="57.54" stroke="#111" stroke-width="0.9" />
<line x1="575.10" y1="55.02" x2="578.30" y2="55.02" stroke="#111" stroke-width="0.9" />
<line x1="593.40" y1="60.37" x2="593.40" y2="57.23" stroke="#111" stroke-width="0.9" />
<line x1="591.80" y1="60.37" x2="595.00" y2="60.37" stroke="#111" stroke-width="0.9" />
<line x1="591.80" y1="57.23" x2="595.00" y2="57.23" stroke="#111" stroke-width="0.9" />
<path d="M532.8,19.8 V14.8 H585.2 V19.8" stroke="#222" stroke-width="1.0" fill="none" />
<line x1="524.00" y1="19.80" x2="541.60" y2="19.80" stroke="#222" stroke-width="1.0" />
<line x1="576.70" y1="19.80" x2="593.40" y2="19.80" stroke="#222" stroke-width="1.0" />
<path d="M552.60,9.40L556.70,9.40M553.62,7.62L555.67,11.18M555.67,7.62L553.62,11.18M557.45,9.40L561.55,9.40M558.48,7.62L560.52,11.18M560.52,7.62L558.48,11.18M562.30,9.40L566.40,9.40M563.33,7.62L565.38,11.18M565.38,7.62L563.33,11.18" stroke="#3a3a3a" stroke-width="0.85" fill="none" />
<path d="M535.30,31.40L539.40,31.40M536.33,29.62L538.38,33.18M538.38,29.62L536.33,33.18M540.15,31.40L544.25,31.40M541.18,29.62L543.23,33.18M543.23,29.62L541.18,33.18M545.00,31.40L549.10,31.40M546.03,29.62L548.08,33.18M548.08,29.62L546.03,33.18" stroke="#3a3a3a" stroke-width="0.85" fill="none" />
<path d="M587.10,31.40L591.20,31.40M588.12,29.62L590.17,33.18M590.17,29.62L588.12,33.18M591.95,31.40L596.05,31.40M592.98,29.62L595.02,33.18M595.02,29.62L592.98,33.18M596.80,31.40L600.90,31.40M597.83,29.62L599.88,33.18M599.88,29.62L597.83,33.18" stroke="#3a3a3a" stroke-width="0.85" fill="none" />
<rect x="621.30" y="6.90" width="7.20" height="7.20" fill="#f6bb83"/>
<text x="631.60" y="14.40" font-size="10.0" textLength="12.80" lengthAdjust="spacingAndGlyphs" fill="#231f20" stroke="#231f20" stroke-width="0.22" >WT</text>
<rect x="621.30" y="20.40" width="7.20" height="7.20" fill="#0e7ca0"/>
<text x="631.60" y="27.80" font-size="10.2" textLength="29.60" lengthAdjust="spacingAndGlyphs" fill="#231f20" stroke="#231f20" stroke-width="0.22" >Ndufs4</text>
<text x="661.60" y="24.40" font-size="5.4" textLength="15.60" lengthAdjust="spacingAndGlyphs" fill="#231f20" stroke="#231f20" stroke-width="0.22" >GT/GT</text>
<text transform="translate(489.10,79.35) rotate(-90)" x="0" y="0" font-size="10.2" text-anchor="middle" textLength="107.10" lengthAdjust="spacingAndGlyphs" fill="#231f20" stroke="#231f20" stroke-width="0.22">Body weight after CUS (g)</text>
<text x="516.50" y="160.60" font-size="10.3" textLength="32.00" lengthAdjust="spacingAndGlyphs" fill="#231f20" stroke="#231f20" stroke-width="0.22" >Control</text>
<text x="573.60" y="160.60" font-size="10.3" textLength="23.50" lengthAdjust="spacingAndGlyphs" fill="#231f20" stroke="#231f20" stroke-width="0.22" >Stress</text>
<text x="4.98" y="176.90" font-size="15.2" textLength="7.52" lengthAdjust="spacingAndGlyphs" fill="#231f20" stroke="#231f20" stroke-width="0.1">E</text>
<line x1="55.20" y1="181.20" x2="55.20" y2="310.80" stroke="#b6b6b6" stroke-width="1.0" />
<line x1="52.60" y1="310.80" x2="55.20" y2="310.80" stroke="#b6b6b6" stroke-width="1.0" />
<text x="50.60" y="314.40" font-size="10.2" text-anchor="end" textLength="10.21" lengthAdjust="spacingAndGlyphs" fill="#231f20" stroke="#231f20" stroke-width="0.22" >25</text>
<line x1="52.60" y1="289.20" x2="55.20" y2="289.20" stroke="#b6b6b6" stroke-width="1.0" />
<text x="50.60" y="292.80" font-size="10.2" text-anchor="end" textLength="10.21" lengthAdjust="spacingAndGlyphs" fill="#231f20" stroke="#231f20" stroke-width="0.22" >26</text>
<line x1="52.60" y1="267.60" x2="55.20" y2="267.60" stroke="#b6b6b6" stroke-width="1.0" />
<text x="50.60" y="271.20" font-size="10.2" text-anchor="end" textLength="10.21" lengthAdjust="spacingAndGlyphs" fill="#231f20" stroke="#231f20" stroke-width="0.22" >27</text>
<line x1="52.60" y1="246.00" x2="55.20" y2="246.00" stroke="#b6b6b6" stroke-width="1.0" />
<text x="50.60" y="249.60" font-size="10.2" text-anchor="end" textLength="10.21" lengthAdjust="spacingAndGlyphs" fill="#231f20" stroke="#231f20" stroke-width="0.22" >28</text>
<line x1="52.60" y1="224.40" x2="55.20" y2="224.40" stroke="#b6b6b6" stroke-width="1.0" />
<text x="50.60" y="228.00" font-size="10.2" text-anchor="end" textLength="10.21" lengthAdjust="spacingAndGlyphs" fill="#231f20" stroke="#231f20" stroke-width="0.22" >29</text>
<line x1="52.60" y1="202.80" x2="55.20" y2="202.80" stroke="#b6b6b6" stroke-width="1.0" />
<text x="50.60" y="206.40" font-size="10.2" text-anchor="end" textLength="10.21" lengthAdjust="spacingAndGlyphs" fill="#231f20" stroke="#231f20" stroke-width="0.22" >30</text>
<line x1="52.60" y1="181.20" x2="55.20" y2="181.20" stroke="#b6b6b6" stroke-width="1.0" />
<text x="50.60" y="184.80" font-size="10.2" text-anchor="end" textLength="10.21" lengthAdjust="spacingAndGlyphs" fill="#231f20" stroke="#231f20" stroke-width="0.22" >31</text>
<line x1="55.20" y1="311.00" x2="149.80" y2="311.00" stroke="#b6b6b6" stroke-width="1.0" />
<line x1="102.60" y1="311.00" x2="102.60" y2="313.70" stroke="#b6b6b6" stroke-width="1.0" />
<line x1="149.80" y1="311.00" x2="149.80" y2="313.70" stroke="#b6b6b6" stroke-width="1.0" />
<line x1="55.20" y1="311.00" x2="55.20" y2="313.70" stroke="#b6b6b6" stroke-width="1.0" />
<line x1="78.50" y1="222.70" x2="78.50" y2="234.50" stroke="#444" stroke-width="0.9" />
<line x1="76.70" y1="222.70" x2="80.30" y2="222.70" stroke="#444" stroke-width="0.9" />
<line x1="76.70" y1="234.50" x2="80.30" y2="234.50" stroke="#444" stroke-width="0.9" />
<line x1="78.50" y1="232.00" x2="78.50" y2="243.70" stroke="#444" stroke-width="0.9" />
<line x1="76.70" y1="232.00" x2="80.30" y2="232.00" stroke="#444" stroke-width="0.9" />
<line x1="76.70" y1="243.70" x2="80.30" y2="243.70" stroke="#444" stroke-width="0.9" />
<line x1="126.20" y1="198.90" x2="126.20" y2="211.80" stroke="#444" stroke-width="0.9" />
<line x1="124.40" y1="198.90" x2="128.00" y2="198.90" stroke="#444" stroke-width="0.9" />
<line x1="124.40" y1="211.80" x2="128.00" y2="211.80" stroke="#444" stroke-width="0.9" />
<line x1="126.20" y1="236.40" x2="126.20" y2="247.30" stroke="#444" stroke-width="0.9" />
<line x1="124.40" y1="236.40" x2="128.00" y2="236.40" stroke="#444" stroke-width="0.9" />
<line x1="124.40" y1="247.30" x2="128.00" y2="247.30" stroke="#444" stroke-width="0.9" />
<line x1="78.50" y1="229.20" x2="126.20" y2="205.90" stroke="#f28a35" stroke-width="2.6" stroke-linecap="round"/>
<line x1="78.50" y1="237.70" x2="126.20" y2="241.60" stroke="#3b5ba9" stroke-width="2.6" stroke-linecap="round"/>
<path d="M78.50,194.90 V192.90 H126.20 V194.90" stroke="#222" stroke-width="1.0" fill="none" />
<path d="M95.50,187.20L99.60,187.20M96.53,185.42L98.58,188.98M98.58,185.42L96.53,188.98M100.35,187.20L104.45,187.20M101.38,185.42L103.43,188.98M103.43,185.42L101.38,188.98M105.20,187.20L109.30,187.20M106.22,185.42L108.28,188.98M108.28,185.42L106.22,188.98" stroke="#3a3a3a" stroke-width="0.85" fill="none" />
<path d="M132.2,206.1 H134.2 V241.1 H132.2" stroke="#222" stroke-width="1.0" fill="none" />
<path d="M139.90,217.90L139.90,222.00M141.68,218.93L138.12,220.98M141.68,220.98L138.12,218.93M139.90,222.75L139.90,226.85M141.68,223.78L138.12,225.83M141.68,225.83L138.12,223.78M139.90,227.60L139.90,231.70M141.68,228.62L138.12,230.68M141.68,230.68L138.12,228.62" stroke="#3a3a3a" stroke-width="0.85" fill="none" />
<line x1="67.40" y1="279.00" x2="85.80" y2="279.00" stroke="#f28a35" stroke-width="2.6" stroke-linecap="round"/>
<text x="89.60" y="281.30" font-size="8.8" textLength="26.60" lengthAdjust="spacingAndGlyphs" fill="#231f20" stroke="#231f20" stroke-width="0.22" >Control</text>
<line x1="67.40" y1="289.90" x2="85.80" y2="289.90" stroke="#3b5ba9" stroke-width="2.6" stroke-linecap="round"/>
<text x="89.60" y="292.10" font-size="8.8" textLength="21.00" lengthAdjust="spacingAndGlyphs" fill="#231f20" stroke="#231f20" stroke-width="0.22" >Stress</text>
<text transform="translate(27.60,247.60) rotate(-90)" x="0" y="0" font-size="10.2" text-anchor="middle" textLength="64.60" lengthAdjust="spacingAndGlyphs" fill="#231f20" stroke="#231f20" stroke-width="0.22">Body weight (g)</text>
<text x="58.90" y="325.60" font-size="10.3" textLength="40.30" lengthAdjust="spacingAndGlyphs" fill="#231f20" stroke="#231f20" stroke-width="0.22" >Pre-stress</text>
<text x="103.70" y="325.60" font-size="10.3" textLength="45.30" lengthAdjust="spacingAndGlyphs" fill="#231f20" stroke="#231f20" stroke-width="0.22" >Post-stress</text>
<text x="64.90" y="337.00" font-size="10.3" textLength="28.00" lengthAdjust="spacingAndGlyphs" fill="#231f20" stroke="#231f20" stroke-width="0.22" >(day 0)</text>
<text x="109.70" y="337.00" font-size="10.3" textLength="32.80" lengthAdjust="spacingAndGlyphs" fill="#231f20" stroke="#231f20" stroke-width="0.22" >(day 20)</text>
<text x="161.93" y="176.90" font-size="15.2" textLength="6.51" lengthAdjust="spacingAndGlyphs" fill="#231f20" stroke="#231f20" stroke-width="0.1">F</text>
<rect x="212.50" y="263.68" width="13.80" height="47.42" fill="#f6bb83"/>
<rect x="229.40" y="260.50" width="13.70" height="50.60" fill="#0e7ca0"/>
<rect x="261.20" y="255.41" width="13.80" height="55.69" fill="#f6bb83"/>
<rect x="277.30" y="256.68" width="13.70" height="54.42" fill="#0e7ca0"/>
<line x1="210.70" y1="183.80" x2="210.70" y2="311.10" stroke="#b6b6b6" stroke-width="1.0" />
<line x1="208.10" y1="311.10" x2="210.70" y2="311.10" stroke="#b6b6b6" stroke-width="1.0" />
<text x="206.80" y="314.70" font-size="10.2" text-anchor="end" textLength="5.11" lengthAdjust="spacingAndGlyphs" fill="#231f20" stroke="#231f20" stroke-width="0.22" >0</text>
<line x1="208.10" y1="279.28" x2="210.70" y2="279.28" stroke="#b6b6b6" stroke-width="1.0" />
<text x="206.80" y="282.88" font-size="10.2" text-anchor="end" textLength="17.87" lengthAdjust="spacingAndGlyphs" fill="#231f20" stroke="#231f20" stroke-width="0.22" >0.05</text>
<line x1="208.10" y1="247.45" x2="210.70" y2="247.45" stroke="#b6b6b6" stroke-width="1.0" />
<text x="206.80" y="251.05" font-size="10.2" text-anchor="end" textLength="17.87" lengthAdjust="spacingAndGlyphs" fill="#231f20" stroke="#231f20" stroke-width="0.22" >0.10</text>
<line x1="208.10" y1="215.63" x2="210.70" y2="215.63" stroke="#b6b6b6" stroke-width="1.0" />
<text x="206.80" y="219.23" font-size="10.2" text-anchor="end" textLength="17.87" lengthAdjust="spacingAndGlyphs" fill="#231f20" stroke="#231f20" stroke-width="0.22" >0.15</text>
<line x1="208.10" y1="183.80" x2="210.70" y2="183.80" stroke="#b6b6b6" stroke-width="1.0" />
<text x="206.80" y="187.40" font-size="10.2" text-anchor="end" textLength="17.87" lengthAdjust="spacingAndGlyphs" fill="#231f20" stroke="#231f20" stroke-width="0.22" >0.20</text>
<line x1="210.70" y1="311.10" x2="291.60" y2="311.10" stroke="#b6b6b6" stroke-width="1.0" />
<circle cx="219.30" cy="209.26" r="1.85" fill="rgba(30,30,30,0.66)"/>
<circle cx="219.30" cy="240.45" r="1.85" fill="rgba(30,30,30,0.66)"/>
<circle cx="219.30" cy="245.54" r="1.85" fill="rgba(30,30,30,0.66)"/>
<circle cx="219.30" cy="246.81" r="1.85" fill="rgba(30,30,30,0.66)"/>
<circle cx="219.30" cy="250.00" r="1.85" fill="rgba(30,30,30,0.66)"/>
<circle cx="219.30" cy="260.82" r="1.85" fill="rgba(30,30,30,0.66)"/>
<circle cx="219.30" cy="263.36" r="1.85" fill="rgba(30,30,30,0.66)"/>
<circle cx="219.30" cy="265.27" r="1.85" fill="rgba(30,30,30,0.66)"/>
<circle cx="219.30" cy="267.18" r="1.85" fill="rgba(30,30,30,0.66)"/>
<circle cx="219.30" cy="272.27" r="1.85" fill="rgba(30,30,30,0.66)"/>
<circle cx="219.30" cy="274.18" r="1.85" fill="rgba(30,30,30,0.66)"/>
<circle cx="219.30" cy="276.73" r="1.85" fill="rgba(30,30,30,0.66)"/>
<circle cx="219.30" cy="285.64" r="1.85" fill="rgba(30,30,30,0.66)"/>
<circle cx="219.30" cy="287.55" r="1.85" fill="rgba(30,30,30,0.66)"/>
<circle cx="219.30" cy="288.19" r="1.85" fill="rgba(30,30,30,0.66)"/>
<circle cx="235.80" cy="234.08" r="1.85" fill="rgba(30,30,30,0.66)"/>
<circle cx="235.80" cy="242.36" r="1.85" fill="rgba(30,30,30,0.66)"/>
<circle cx="235.80" cy="246.81" r="1.85" fill="rgba(30,30,30,0.66)"/>
<circle cx="235.80" cy="250.00" r="1.85" fill="rgba(30,30,30,0.66)"/>
<circle cx="235.80" cy="251.91" r="1.85" fill="rgba(30,30,30,0.66)"/>
<circle cx="235.80" cy="255.41" r="1.85" fill="rgba(30,30,30,0.66)"/>
<circle cx="235.80" cy="258.27" r="1.85" fill="rgba(30,30,30,0.66)"/>
<circle cx="235.80" cy="262.73" r="1.85" fill="rgba(30,30,30,0.66)"/>
<circle cx="235.80" cy="269.73" r="1.85" fill="rgba(30,30,30,0.66)"/>
<circle cx="235.80" cy="271.64" r="1.85" fill="rgba(30,30,30,0.66)"/>
<circle cx="235.80" cy="281.18" r="1.85" fill="rgba(30,30,30,0.66)"/>
<circle cx="235.80" cy="283.09" r="1.85" fill="rgba(30,30,30,0.66)"/>
<circle cx="235.80" cy="298.37" r="1.85" fill="rgba(30,30,30,0.66)"/>
<circle cx="267.70" cy="204.80" r="1.85" fill="rgba(30,30,30,0.66)"/>
<circle cx="267.70" cy="228.99" r="1.85" fill="rgba(30,30,30,0.66)"/>
<circle cx="267.70" cy="230.58" r="1.85" fill="rgba(30,30,30,0.66)"/>
<circle cx="267.70" cy="243.95" r="1.85" fill="rgba(30,30,30,0.66)"/>
<circle cx="267.70" cy="257.19" r="1.85" fill="rgba(30,30,30,0.66)"/>
<circle cx="267.70" cy="260.18" r="1.85" fill="rgba(30,30,30,0.66)"/>
<circle cx="267.70" cy="263.36" r="1.85" fill="rgba(30,30,30,0.66)"/>
<circle cx="267.70" cy="266.10" r="1.85" fill="rgba(30,30,30,0.66)"/>
<circle cx="267.70" cy="269.73" r="1.85" fill="rgba(30,30,30,0.66)"/>
<circle cx="267.70" cy="273.23" r="1.85" fill="rgba(30,30,30,0.66)"/>
<circle cx="267.70" cy="276.73" r="1.85" fill="rgba(30,30,30,0.66)"/>
<circle cx="267.70" cy="280.55" r="1.85" fill="rgba(30,30,30,0.66)"/>
<circle cx="284.00" cy="221.35" r="1.85" fill="rgba(30,30,30,0.66)"/>
<circle cx="284.00" cy="236.63" r="1.85" fill="rgba(30,30,30,0.66)"/>
<circle cx="284.00" cy="241.09" r="1.85" fill="rgba(30,30,30,0.66)"/>
<circle cx="284.00" cy="243.95" r="1.85" fill="rgba(30,30,30,0.66)"/>
<circle cx="284.00" cy="246.81" r="1.85" fill="rgba(30,30,30,0.66)"/>
<circle cx="284.00" cy="249.36" r="1.85" fill="rgba(30,30,30,0.66)"/>
<circle cx="284.00" cy="251.91" r="1.85" fill="rgba(30,30,30,0.66)"/>
<circle cx="284.00" cy="254.45" r="1.85" fill="rgba(30,30,30,0.66)"/>
<circle cx="284.00" cy="258.27" r="1.85" fill="rgba(30,30,30,0.66)"/>
<circle cx="284.00" cy="263.36" r="1.85" fill="rgba(30,30,30,0.66)"/>
<circle cx="284.00" cy="267.18" r="1.85" fill="rgba(30,30,30,0.66)"/>
<circle cx="284.00" cy="270.62" r="1.85" fill="rgba(30,30,30,0.66)"/>
<circle cx="284.00" cy="274.18" r="1.85" fill="rgba(30,30,30,0.66)"/>
<circle cx="284.00" cy="282.08" r="1.85" fill="rgba(30,30,30,0.66)"/>
<line x1="219.30" y1="266.86" x2="219.30" y2="260.50" stroke="#111" stroke-width="0.9" />
<line x1="217.70" y1="266.86" x2="220.90" y2="266.86" stroke="#111" stroke-width="0.9" />
<line x1="217.70" y1="260.50" x2="220.90" y2="260.50" stroke="#111" stroke-width="0.9" />
<line x1="235.80" y1="264.00" x2="235.80" y2="257.00" stroke="#111" stroke-width="0.9" />
<line x1="234.20" y1="264.00" x2="237.40" y2="264.00" stroke="#111" stroke-width="0.9" />
<line x1="234.20" y1="257.00" x2="237.40" y2="257.00" stroke="#111" stroke-width="0.9" />
<line x1="267.70" y1="259.54" x2="267.70" y2="250.63" stroke="#111" stroke-width="0.9" />
<line x1="266.10" y1="259.54" x2="269.30" y2="259.54" stroke="#111" stroke-width="0.9" />
<line x1="266.10" y1="250.63" x2="269.30" y2="250.63" stroke="#111" stroke-width="0.9" />
<line x1="284.00" y1="260.18" x2="284.00" y2="253.18" stroke="#111" stroke-width="0.9" />
<line x1="282.40" y1="260.18" x2="285.60" y2="260.18" stroke="#111" stroke-width="0.9" />
<line x1="282.40" y1="253.18" x2="285.60" y2="253.18" stroke="#111" stroke-width="0.9" />
<path d="M227.6,200.2 V194.5 H276.0 V200.2" stroke="#222" stroke-width="1.0" fill="none" />
<line x1="219.30" y1="200.20" x2="235.80" y2="200.20" stroke="#222" stroke-width="1.0" />
<line x1="267.70" y1="200.20" x2="284.00" y2="200.20" stroke="#222" stroke-width="1.0" />
<path d="M249.65,189.30L253.75,189.30M250.67,187.52L252.72,191.08M252.72,187.52L250.67,191.08" stroke="#3a3a3a" stroke-width="0.85" fill="none" />
<text transform="translate(184.90,249.65) rotate(-90)" x="0" y="0" font-size="9.8" text-anchor="middle" textLength="163.30" lengthAdjust="spacingAndGlyphs" fill="#231f20" stroke="#231f20" stroke-width="0.22">Adrenal weight (% of body weight 10<tspan font-size="6" dy="-3">-1</tspan><tspan dy="3">)</tspan></text>
<text x="211.50" y="325.10" font-size="10.3" textLength="31.60" lengthAdjust="spacingAndGlyphs" fill="#231f20" stroke="#231f20" stroke-width="0.22" >Control</text>
<text x="263.80" y="325.10" font-size="10.3" textLength="24.70" lengthAdjust="spacingAndGlyphs" fill="#231f20" stroke="#231f20" stroke-width="0.22" >Stress</text>
<text x="312.17" y="176.80" font-size="15.2" textLength="9.78" lengthAdjust="spacingAndGlyphs" fill="#231f20" stroke="#231f20" stroke-width="0.1">G</text>
<rect x="364.90" y="283.77" width="14.30" height="27.33" fill="#f6bb83"/>
<rect x="382.00" y="296.55" width="14.00" height="14.55" fill="#0e7ca0"/>
<rect x="416.20" y="296.76" width="14.30" height="14.34" fill="#f6bb83"/>
<rect x="433.10" y="280.44" width="14.20" height="30.66" fill="#0e7ca0"/>
<line x1="363.10" y1="186.40" x2="363.10" y2="311.10" stroke="#b6b6b6" stroke-width="1.0" />
<line x1="360.50" y1="311.10" x2="363.10" y2="311.10" stroke="#b6b6b6" stroke-width="1.0" />
<text x="359.20" y="314.70" font-size="10.2" text-anchor="end" textLength="5.11" lengthAdjust="spacingAndGlyphs" fill="#231f20" stroke="#231f20" stroke-width="0.22" >0</text>
<line x1="360.50" y1="290.32" x2="363.10" y2="290.32" stroke="#b6b6b6" stroke-width="1.0" />
<text x="359.20" y="293.92" font-size="10.2" text-anchor="end" textLength="10.21" lengthAdjust="spacingAndGlyphs" fill="#231f20" stroke="#231f20" stroke-width="0.22" >20</text>
<line x1="360.50" y1="269.53" x2="363.10" y2="269.53" stroke="#b6b6b6" stroke-width="1.0" />
<text x="359.20" y="273.13" font-size="10.2" text-anchor="end" textLength="10.21" lengthAdjust="spacingAndGlyphs" fill="#231f20" stroke="#231f20" stroke-width="0.22" >40</text>
<line x1="360.50" y1="248.75" x2="363.10" y2="248.75" stroke="#b6b6b6" stroke-width="1.0" />
<text x="359.20" y="252.35" font-size="10.2" text-anchor="end" textLength="10.21" lengthAdjust="spacingAndGlyphs" fill="#231f20" stroke="#231f20" stroke-width="0.22" >60</text>
<line x1="360.50" y1="227.97" x2="363.10" y2="227.97" stroke="#b6b6b6" stroke-width="1.0" />
<text x="359.20" y="231.57" font-size="10.2" text-anchor="end" textLength="10.21" lengthAdjust="spacingAndGlyphs" fill="#231f20" stroke="#231f20" stroke-width="0.22" >80</text>
<line x1="360.50" y1="207.18" x2="363.10" y2="207.18" stroke="#b6b6b6" stroke-width="1.0" />
<text x="359.20" y="210.78" font-size="10.2" text-anchor="end" textLength="15.32" lengthAdjust="spacingAndGlyphs" fill="#231f20" stroke="#231f20" stroke-width="0.22" >100</text>
<line x1="360.50" y1="186.40" x2="363.10" y2="186.40" stroke="#b6b6b6" stroke-width="1.0" />
<text x="359.20" y="190.00" font-size="10.2" text-anchor="end" textLength="15.32" lengthAdjust="spacingAndGlyphs" fill="#231f20" stroke="#231f20" stroke-width="0.22" >120</text>
<line x1="363.10" y1="311.10" x2="448.60" y2="311.10" stroke="#b6b6b6" stroke-width="1.0" />
<circle cx="371.70" cy="226.93" r="1.85" fill="rgba(30,30,30,0.66)"/>
<circle cx="371.70" cy="242.10" r="1.85" fill="rgba(30,30,30,0.66)"/>
<circle cx="371.70" cy="250.10" r="1.85" fill="rgba(30,30,30,0.66)"/>
<circle cx="371.70" cy="251.04" r="1.85" fill="rgba(30,30,30,0.66)"/>
<circle cx="371.70" cy="263.40" r="1.85" fill="rgba(30,30,30,0.66)"/>
<circle cx="371.70" cy="275.87" r="1.85" fill="rgba(30,30,30,0.66)"/>
<circle cx="371.70" cy="277.74" r="1.85" fill="rgba(30,30,30,0.66)"/>
<circle cx="371.70" cy="279.41" r="1.85" fill="rgba(30,30,30,0.66)"/>
<circle cx="371.70" cy="283.87" r="1.85" fill="rgba(30,30,30,0.66)"/>
<circle cx="371.70" cy="286.58" r="1.85" fill="rgba(30,30,30,0.66)"/>
<circle cx="371.70" cy="290.11" r="1.85" fill="rgba(30,30,30,0.66)"/>
<circle cx="371.70" cy="293.75" r="1.85" fill="rgba(30,30,30,0.66)"/>
<circle cx="371.70" cy="299.88" r="1.85" fill="rgba(30,30,30,0.66)"/>
<circle cx="371.70" cy="301.75" r="1.85" fill="rgba(30,30,30,0.66)"/>
<circle cx="371.70" cy="303.41" r="1.85" fill="rgba(30,30,30,0.66)"/>
<circle cx="371.70" cy="306.11" r="1.85" fill="rgba(30,30,30,0.66)"/>
<circle cx="371.70" cy="310.58" r="1.85" fill="rgba(30,30,30,0.66)"/>
<circle cx="389.00" cy="267.04" r="1.85" fill="rgba(30,30,30,0.66)"/>
<circle cx="389.00" cy="271.40" r="1.85" fill="rgba(30,30,30,0.66)"/>
<circle cx="389.00" cy="290.11" r="1.85" fill="rgba(30,30,30,0.66)"/>
<circle cx="389.00" cy="291.88" r="1.85" fill="rgba(30,30,30,0.66)"/>
<circle cx="389.00" cy="293.75" r="1.85" fill="rgba(30,30,30,0.66)"/>
<circle cx="389.00" cy="296.34" r="1.85" fill="rgba(30,30,30,0.66)"/>
<circle cx="389.00" cy="298.11" r="1.85" fill="rgba(30,30,30,0.66)"/>
<circle cx="389.00" cy="299.88" r="1.85" fill="rgba(30,30,30,0.66)"/>
<circle cx="389.00" cy="301.75" r="1.85" fill="rgba(30,30,30,0.66)"/>
<circle cx="389.00" cy="303.41" r="1.85" fill="rgba(30,30,30,0.66)"/>
<circle cx="389.00" cy="306.11" r="1.85" fill="rgba(30,30,30,0.66)"/>
<circle cx="389.00" cy="307.88" r="1.85" fill="rgba(30,30,30,0.66)"/>
<circle cx="423.20" cy="274.11" r="1.85" fill="rgba(30,30,30,0.66)"/>
<circle cx="423.20" cy="275.87" r="1.85" fill="rgba(30,30,30,0.66)"/>
<circle cx="423.20" cy="282.11" r="1.85" fill="rgba(30,30,30,0.66)"/>
<circle cx="423.20" cy="283.87" r="1.85" fill="rgba(30,30,30,0.66)"/>
<circle cx="423.20" cy="287.41" r="1.85" fill="rgba(30,30,30,0.66)"/>
<circle cx="423.20" cy="291.04" r="1.85" fill="rgba(30,30,30,0.66)"/>
<circle cx="423.20" cy="293.75" r="1.85" fill="rgba(30,30,30,0.66)"/>
<circle cx="423.20" cy="296.34" r="1.85" fill="rgba(30,30,30,0.66)"/>
<circle cx="423.20" cy="298.11" r="1.85" fill="rgba(30,30,30,0.66)"/>
<circle cx="423.20" cy="299.88" r="1.85" fill="rgba(30,30,30,0.66)"/>
<circle cx="423.20" cy="302.58" r="1.85" fill="rgba(30,30,30,0.66)"/>
<circle cx="423.20" cy="304.35" r="1.85" fill="rgba(30,30,30,0.66)"/>
<circle cx="423.20" cy="307.05" r="1.85" fill="rgba(30,30,30,0.66)"/>
<circle cx="440.30" cy="199.39" r="1.85" fill="rgba(30,30,30,0.66)"/>
<circle cx="440.30" cy="251.87" r="1.85" fill="rgba(30,30,30,0.66)"/>
<circle cx="440.30" cy="256.34" r="1.85" fill="rgba(30,30,30,0.66)"/>
<circle cx="440.30" cy="259.87" r="1.85" fill="rgba(30,30,30,0.66)"/>
<circle cx="440.30" cy="263.40" r="1.85" fill="rgba(30,30,30,0.66)"/>
<circle cx="440.30" cy="267.04" r="1.85" fill="rgba(30,30,30,0.66)"/>
<circle cx="440.30" cy="270.57" r="1.85" fill="rgba(30,30,30,0.66)"/>
<circle cx="440.30" cy="274.11" r="1.85" fill="rgba(30,30,30,0.66)"/>
<circle cx="440.30" cy="278.47" r="1.85" fill="rgba(30,30,30,0.66)"/>
<circle cx="440.30" cy="281.17" r="1.85" fill="rgba(30,30,30,0.66)"/>
<circle cx="440.30" cy="283.87" r="1.85" fill="rgba(30,30,30,0.66)"/>
<circle cx="440.30" cy="287.41" r="1.85" fill="rgba(30,30,30,0.66)"/>
<circle cx="440.30" cy="292.81" r="1.85" fill="rgba(30,30,30,0.66)"/>
<circle cx="440.30" cy="295.41" r="1.85" fill="rgba(30,30,30,0.66)"/>
<circle cx="440.30" cy="298.11" r="1.85" fill="rgba(30,30,30,0.66)"/>
<circle cx="440.30" cy="300.81" r="1.85" fill="rgba(30,30,30,0.66)"/>
<circle cx="440.30" cy="303.41" r="1.85" fill="rgba(30,30,30,0.66)"/>
<line x1="371.70" y1="289.80" x2="371.70" y2="277.74" stroke="#111" stroke-width="0.9" />
<line x1="370.10" y1="289.80" x2="373.30" y2="289.80" stroke="#111" stroke-width="0.9" />
<line x1="370.10" y1="277.74" x2="373.30" y2="277.74" stroke="#111" stroke-width="0.9" />
<line x1="389.00" y1="298.84" x2="389.00" y2="294.27" stroke="#111" stroke-width="0.9" />
<line x1="387.40" y1="298.84" x2="390.60" y2="298.84" stroke="#111" stroke-width="0.9" />
<line x1="387.40" y1="294.27" x2="390.60" y2="294.27" stroke="#111" stroke-width="0.9" />
<line x1="423.20" y1="298.94" x2="423.20" y2="294.58" stroke="#111" stroke-width="0.9" />
<line x1="421.60" y1="298.94" x2="424.80" y2="298.94" stroke="#111" stroke-width="0.9" />
<line x1="421.60" y1="294.58" x2="424.80" y2="294.58" stroke="#111" stroke-width="0.9" />
<line x1="440.30" y1="285.54" x2="440.30" y2="275.35" stroke="#111" stroke-width="0.9" />
<line x1="438.70" y1="285.54" x2="441.90" y2="285.54" stroke="#111" stroke-width="0.9" />
<line x1="438.70" y1="275.35" x2="441.90" y2="275.35" stroke="#111" stroke-width="0.9" />
<path d="M372.20,209.90 V207.90 H422.70 V209.90" stroke="#222" stroke-width="1.0" fill="none" />
<path d="M395.55,202.20L399.65,202.20M396.58,200.42L398.62,203.98M398.62,200.42L396.58,203.98" stroke="#3a3a3a" stroke-width="0.85" fill="none" />
<path d="M372.20,222.90 V220.90 H389.00 V222.90" stroke="#222" stroke-width="1.0" fill="none" />
<path d="M378.45,215.20L382.55,215.20M379.48,213.42L381.52,216.98M381.52,213.42L379.48,216.98" stroke="#3a3a3a" stroke-width="0.85" fill="none" />
<path d="M389.00,235.10 V233.10 H440.10 V235.10" stroke="#222" stroke-width="1.0" fill="none" />
<path d="M412.95,227.90L417.05,227.90M413.98,226.12L416.02,229.68M416.02,226.12L413.98,229.68" stroke="#3a3a3a" stroke-width="0.85" fill="none" />
<path d="M422.70,246.70 V244.70 H440.10 V246.70" stroke="#222" stroke-width="1.0" fill="none" />
<path d="M427.32,239.60L431.43,239.60M428.35,237.82L430.40,241.38M430.40,237.82L428.35,241.38M432.18,239.60L436.28,239.60M433.20,237.82L435.25,241.38M435.25,237.82L433.20,241.38" stroke="#3a3a3a" stroke-width="0.85" fill="none" />
<text transform="translate(336.30,248.50) rotate(-90)" x="0" y="0" font-size="10.2" text-anchor="middle" textLength="88.20" lengthAdjust="spacingAndGlyphs" fill="#231f20" stroke="#231f20" stroke-width="0.22">Plasma CORT (ng/ml)</text>
<text x="364.40" y="325.10" font-size="10.3" textLength="31.60" lengthAdjust="spacingAndGlyphs" fill="#231f20" stroke="#231f20" stroke-width="0.22" >Control</text>
<text x="419.40" y="325.10" font-size="10.3" textLength="24.80" lengthAdjust="spacingAndGlyphs" fill="#231f20" stroke="#231f20" stroke-width="0.22" >Stress</text>
<text x="465.81" y="176.80" font-size="15.2" textLength="10.48" lengthAdjust="spacingAndGlyphs" fill="#231f20" stroke="#231f20" stroke-width="0.1">H</text>
<rect x="517.10" y="218.32" width="16.60" height="92.98" fill="#f6bb83"/>
<rect x="536.50" y="221.84" width="16.70" height="89.46" fill="#0e7ca0"/>
<rect x="575.10" y="227.06" width="16.40" height="84.24" fill="#f6bb83"/>
<rect x="594.00" y="215.79" width="16.60" height="95.51" fill="#0e7ca0"/>
<line x1="515.50" y1="183.50" x2="515.50" y2="311.30" stroke="#b6b6b6" stroke-width="1.0" />
<line x1="512.90" y1="311.30" x2="515.50" y2="311.30" stroke="#b6b6b6" stroke-width="1.0" />
<text x="511.60" y="314.90" font-size="10.2" text-anchor="end" textLength="5.11" lengthAdjust="spacingAndGlyphs" fill="#231f20" stroke="#231f20" stroke-width="0.22" >0</text>
<line x1="512.90" y1="283.12" x2="515.50" y2="283.12" stroke="#b6b6b6" stroke-width="1.0" />
<text x="511.60" y="286.73" font-size="10.2" text-anchor="end" textLength="5.11" lengthAdjust="spacingAndGlyphs" fill="#231f20" stroke="#231f20" stroke-width="0.22" >2</text>
<line x1="512.90" y1="254.95" x2="515.50" y2="254.95" stroke="#b6b6b6" stroke-width="1.0" />
<text x="511.60" y="258.55" font-size="10.2" text-anchor="end" textLength="5.11" lengthAdjust="spacingAndGlyphs" fill="#231f20" stroke="#231f20" stroke-width="0.22" >4</text>
<line x1="512.90" y1="226.78" x2="515.50" y2="226.78" stroke="#b6b6b6" stroke-width="1.0" />
<text x="511.60" y="230.38" font-size="10.2" text-anchor="end" textLength="5.11" lengthAdjust="spacingAndGlyphs" fill="#231f20" stroke="#231f20" stroke-width="0.22" >6</text>
<line x1="512.90" y1="198.60" x2="515.50" y2="198.60" stroke="#b6b6b6" stroke-width="1.0" />
<text x="511.60" y="202.20" font-size="10.2" text-anchor="end" textLength="5.11" lengthAdjust="spacingAndGlyphs" fill="#231f20" stroke="#231f20" stroke-width="0.22" >8</text>
<line x1="515.50" y1="311.30" x2="610.60" y2="311.30" stroke="#b6b6b6" stroke-width="1.0" />
<circle cx="525.60" cy="199.59" r="1.85" fill="rgba(30,30,30,0.66)"/>
<circle cx="525.60" cy="201.14" r="1.85" fill="rgba(30,30,30,0.66)"/>
<circle cx="525.60" cy="202.26" r="1.85" fill="rgba(30,30,30,0.66)"/>
<circle cx="525.60" cy="204.24" r="1.85" fill="rgba(30,30,30,0.66)"/>
<circle cx="525.60" cy="208.46" r="1.85" fill="rgba(30,30,30,0.66)"/>
<circle cx="525.60" cy="213.53" r="1.85" fill="rgba(30,30,30,0.66)"/>
<circle cx="525.60" cy="214.80" r="1.85" fill="rgba(30,30,30,0.66)"/>
<circle cx="525.60" cy="215.65" r="1.85" fill="rgba(30,30,30,0.66)"/>
<circle cx="525.60" cy="216.91" r="1.85" fill="rgba(30,30,30,0.66)"/>
<circle cx="525.60" cy="217.76" r="1.85" fill="rgba(30,30,30,0.66)"/>
<circle cx="525.60" cy="219.03" r="1.85" fill="rgba(30,30,30,0.66)"/>
<circle cx="525.60" cy="220.01" r="1.85" fill="rgba(30,30,30,0.66)"/>
<circle cx="525.60" cy="221.14" r="1.85" fill="rgba(30,30,30,0.66)"/>
<circle cx="525.60" cy="222.13" r="1.85" fill="rgba(30,30,30,0.66)"/>
<circle cx="525.60" cy="223.96" r="1.85" fill="rgba(30,30,30,0.66)"/>
<circle cx="525.60" cy="226.63" r="1.85" fill="rgba(30,30,30,0.66)"/>
<circle cx="525.60" cy="228.75" r="1.85" fill="rgba(30,30,30,0.66)"/>
<circle cx="525.60" cy="231.71" r="1.85" fill="rgba(30,30,30,0.66)"/>
<circle cx="525.60" cy="241.85" r="1.85" fill="rgba(30,30,30,0.66)"/>
<circle cx="544.70" cy="191.98" r="1.85" fill="rgba(30,30,30,0.66)"/>
<circle cx="544.70" cy="207.62" r="1.85" fill="rgba(30,30,30,0.66)"/>
<circle cx="544.70" cy="213.53" r="1.85" fill="rgba(30,30,30,0.66)"/>
<circle cx="544.70" cy="217.05" r="1.85" fill="rgba(30,30,30,0.66)"/>
<circle cx="544.70" cy="218.60" r="1.85" fill="rgba(30,30,30,0.66)"/>
<circle cx="544.70" cy="221.14" r="1.85" fill="rgba(30,30,30,0.66)"/>
<circle cx="544.70" cy="223.68" r="1.85" fill="rgba(30,30,30,0.66)"/>
<circle cx="544.70" cy="228.75" r="1.85" fill="rgba(30,30,30,0.66)"/>
<circle cx="544.70" cy="234.66" r="1.85" fill="rgba(30,30,30,0.66)"/>
<circle cx="544.70" cy="237.62" r="1.85" fill="rgba(30,30,30,0.66)"/>
<circle cx="544.70" cy="244.67" r="1.85" fill="rgba(30,30,30,0.66)"/>
<circle cx="583.00" cy="211.98" r="1.85" fill="rgba(30,30,30,0.66)"/>
<circle cx="583.00" cy="214.10" r="1.85" fill="rgba(30,30,30,0.66)"/>
<circle cx="583.00" cy="215.65" r="1.85" fill="rgba(30,30,30,0.66)"/>
<circle cx="583.00" cy="217.20" r="1.85" fill="rgba(30,30,30,0.66)"/>
<circle cx="583.00" cy="218.60" r="1.85" fill="rgba(30,30,30,0.66)"/>
<circle cx="583.00" cy="220.44" r="1.85" fill="rgba(30,30,30,0.66)"/>
<circle cx="583.00" cy="222.13" r="1.85" fill="rgba(30,30,30,0.66)"/>
<circle cx="583.00" cy="223.96" r="1.85" fill="rgba(30,30,30,0.66)"/>
<circle cx="583.00" cy="225.93" r="1.85" fill="rgba(30,30,30,0.66)"/>
<circle cx="583.00" cy="228.04" r="1.85" fill="rgba(30,30,30,0.66)"/>
<circle cx="583.00" cy="230.30" r="1.85" fill="rgba(30,30,30,0.66)"/>
<circle cx="583.00" cy="231.71" r="1.85" fill="rgba(30,30,30,0.66)"/>
<circle cx="583.00" cy="233.26" r="1.85" fill="rgba(30,30,30,0.66)"/>
<circle cx="583.00" cy="235.23" r="1.85" fill="rgba(30,30,30,0.66)"/>
<circle cx="583.00" cy="237.62" r="1.85" fill="rgba(30,30,30,0.66)"/>
<circle cx="583.00" cy="239.03" r="1.85" fill="rgba(30,30,30,0.66)"/>
<circle cx="583.00" cy="240.16" r="1.85" fill="rgba(30,30,30,0.66)"/>
<circle cx="601.80" cy="193.81" r="1.85" fill="rgba(30,30,30,0.66)"/>
<circle cx="601.80" cy="200.85" r="1.85" fill="rgba(30,30,30,0.66)"/>
<circle cx="601.80" cy="209.17" r="1.85" fill="rgba(30,30,30,0.66)"/>
<circle cx="601.80" cy="211.98" r="1.85" fill="rgba(30,30,30,0.66)"/>
<circle cx="601.80" cy="213.39" r="1.85" fill="rgba(30,30,30,0.66)"/>
<circle cx="601.80" cy="214.94" r="1.85" fill="rgba(30,30,30,0.66)"/>
<circle cx="601.80" cy="217.05" r="1.85" fill="rgba(30,30,30,0.66)"/>
<circle cx="601.80" cy="218.32" r="1.85" fill="rgba(30,30,30,0.66)"/>
<circle cx="601.80" cy="219.31" r="1.85" fill="rgba(30,30,30,0.66)"/>
<circle cx="601.80" cy="221.56" r="1.85" fill="rgba(30,30,30,0.66)"/>
<circle cx="601.80" cy="228.75" r="1.85" fill="rgba(30,30,30,0.66)"/>
<circle cx="601.80" cy="233.26" r="1.85" fill="rgba(30,30,30,0.66)"/>
<line x1="525.60" y1="221.14" x2="525.60" y2="215.50" stroke="#111" stroke-width="0.9" />
<line x1="524.00" y1="221.14" x2="527.20" y2="221.14" stroke="#111" stroke-width="0.9" />
<line x1="524.00" y1="215.50" x2="527.20" y2="215.50" stroke="#111" stroke-width="0.9" />
<line x1="544.70" y1="225.37" x2="544.70" y2="218.32" stroke="#111" stroke-width="0.9" />
<line x1="543.10" y1="225.37" x2="546.30" y2="225.37" stroke="#111" stroke-width="0.9" />
<line x1="543.10" y1="218.32" x2="546.30" y2="218.32" stroke="#111" stroke-width="0.9" />
<line x1="583.00" y1="228.89" x2="583.00" y2="225.37" stroke="#111" stroke-width="0.9" />
<line x1="581.40" y1="228.89" x2="584.60" y2="228.89" stroke="#111" stroke-width="0.9" />
<line x1="581.40" y1="225.37" x2="584.60" y2="225.37" stroke="#111" stroke-width="0.9" />
<line x1="601.80" y1="218.32" x2="601.80" y2="213.39" stroke="#111" stroke-width="0.9" />
<line x1="600.20" y1="218.32" x2="603.40" y2="218.32" stroke="#111" stroke-width="0.9" />
<line x1="600.20" y1="213.39" x2="603.40" y2="213.39" stroke="#111" stroke-width="0.9" />
<path d="M525.60,188.70 V186.70 H583.00 V188.70" stroke="#222" stroke-width="1.0" fill="none" />
<path d="M549.63,181.00L553.73,181.00M550.65,179.22L552.70,182.78M552.70,179.22L550.65,182.78M554.48,181.00L558.57,181.00M555.50,179.22L557.55,182.78M557.55,179.22L555.50,182.78" stroke="#3a3a3a" stroke-width="0.85" fill="none" />
<path d="M583.00,179.90 V177.90 H601.80 V179.90" stroke="#222" stroke-width="1.0" fill="none" />
<path d="M587.93,172.60L592.02,172.60M588.95,170.82L591.00,174.38M591.00,170.82L588.95,174.38M592.77,172.60L596.87,172.60M593.80,170.82L595.85,174.38M595.85,170.82L593.80,174.38" stroke="#3a3a3a" stroke-width="0.85" fill="none" />
<rect x="622.20" y="178.80" width="6.30" height="6.90" fill="#f6bb83"/>
<text x="631.60" y="186.10" font-size="10.0" textLength="12.80" lengthAdjust="spacingAndGlyphs" fill="#231f20" stroke="#231f20" stroke-width="0.22" >WT</text>
<rect x="622.20" y="190.40" width="6.30" height="7.30" fill="#0e7ca0"/>
<text x="631.60" y="197.90" font-size="10.2" textLength="29.60" lengthAdjust="spacingAndGlyphs" fill="#231f20" stroke="#231f20" stroke-width="0.22" >Ndufs4</text>
<text x="661.60" y="194.50" font-size="5.4" textLength="15.60" lengthAdjust="spacingAndGlyphs" fill="#231f20" stroke="#231f20" stroke-width="0.22" >GT/GT</text>
<text transform="translate(488.60,245.40) rotate(-90)" x="0" y="0" font-size="10.2" text-anchor="middle" textLength="95.40" lengthAdjust="spacingAndGlyphs" fill="#231f20" stroke="#231f20" stroke-width="0.22">Blood glucose (mmol/L)</text>
<text x="518.60" y="325.40" font-size="10.3" textLength="32.40" lengthAdjust="spacingAndGlyphs" fill="#231f20" stroke="#231f20" stroke-width="0.22" >Control</text>
<text x="579.90" y="325.40" font-size="10.3" textLength="25.10" lengthAdjust="spacingAndGlyphs" fill="#231f20" stroke="#231f20" stroke-width="0.22" >Stress</text>
<rect x="0.6" y="346.5" width="684.4" height="170.7" fill="#000"/>
<g id="brains"><filter id="rag" x="-5%" y="-5%" width="110%" height="110%">
<feTurbulence type="fractalNoise" baseFrequency="0.6" numOctaves="2" seed="4" result="n"/>
<feDisplacementMap in="SourceGraphic" in2="n" scale="2.2" xChannelSelector="R" yChannelSelector="G"/>
</filter>
<filter id="bl1" x="-20%" y="-20%" width="140%" height="140%"><feGaussianBlur stdDeviation="0.9" result="b"/><feTurbulence type="fractalNoise" baseFrequency="0.12" numOctaves="2" seed="1" result="t"/><feDisplacementMap in="b" in2="t" scale="5" xChannelSelector="R" yChannelSelector="G"/></filter>
<clipPath id="c1"><path d="M83.19,381.74 C84.37,381.67 84.73,379.38 87.00,378.99 C89.27,378.59 94.09,378.72 96.81,379.38 C99.53,380.03 101.62,381.15 103.35,382.92 C105.08,384.68 106.44,387.50 107.16,389.99 C107.89,392.48 107.89,395.36 107.71,397.85 C107.53,400.34 106.80,402.70 106.07,404.92 C105.35,407.15 104.89,409.51 103.35,411.21 C101.81,412.91 98.99,414.42 96.81,415.14 C94.63,415.86 91.91,415.80 90.27,415.53 C88.63,415.27 88.27,414.16 87.00,413.57 C85.73,412.98 84.09,412.00 82.64,412.00 C81.19,412.00 79.55,412.85 78.28,413.57 C77.01,414.29 76.28,415.73 75.01,416.32 C73.74,416.91 72.74,417.24 70.65,417.11 C68.56,416.98 64.65,416.78 62.47,415.53 C60.29,414.29 58.84,411.93 57.57,409.64 C56.30,407.35 55.21,404.40 54.84,401.78 C54.48,399.16 54.75,396.54 55.39,393.92 C56.03,391.30 57.02,388.29 58.66,386.06 C60.29,383.83 62.75,381.74 65.20,380.56 C67.65,379.38 70.92,379.18 73.38,378.99 C75.83,378.79 78.28,378.92 79.91,379.38 C81.55,379.84 82.00,381.80 83.19,381.74Z"/></clipPath>
<g filter="url(#rag)"><g clip-path="url(#c1)"><path d="M83.19,381.74 C84.37,381.67 84.73,379.38 87.00,378.99 C89.27,378.59 94.09,378.72 96.81,379.38 C99.53,380.03 101.62,381.15 103.35,382.92 C105.08,384.68 106.44,387.50 107.16,389.99 C107.89,392.48 107.89,395.36 107.71,397.85 C107.53,400.34 106.80,402.70 106.07,404.92 C105.35,407.15 104.89,409.51 103.35,411.21 C101.81,412.91 98.99,414.42 96.81,415.14 C94.63,415.86 91.91,415.80 90.27,415.53 C88.63,415.27 88.27,414.16 87.00,413.57 C85.73,412.98 84.09,412.00 82.64,412.00 C81.19,412.00 79.55,412.85 78.28,413.57 C77.01,414.29 76.28,415.73 75.01,416.32 C73.74,416.91 72.74,417.24 70.65,417.11 C68.56,416.98 64.65,416.78 62.47,415.53 C60.29,414.29 58.84,411.93 57.57,409.64 C56.30,407.35 55.21,404.40 54.84,401.78 C54.48,399.16 54.75,396.54 55.39,393.92 C56.03,391.30 57.02,388.29 58.66,386.06 C60.29,383.83 62.75,381.74 65.20,380.56 C67.65,379.38 70.92,379.18 73.38,378.99 C75.83,378.79 78.28,378.92 79.91,379.38 C81.55,379.84 82.00,381.80 83.19,381.74Z" fill="#3d5fc6"/><g filter="url(#bl1)"><ellipse cx="69.56" cy="386.06" rx="9.27" ry="5.11" fill="#4c78d2" fill-opacity="1" transform="rotate(-10 69.56 386.06)"/><line x1="57.57" y1="394.71" x2="73.92" y2="388.42" stroke="#5cb4e0" stroke-width="2.5" stroke-opacity="0.7" stroke-linecap="round"/><line x1="77.73" y1="378.99" x2="78.83" y2="392.35" stroke="#5ab8e0" stroke-width="2" stroke-opacity="0.7" stroke-linecap="round"/><line x1="85.91" y1="378.20" x2="84.82" y2="391.56" stroke="#6cc8e4" stroke-width="2.4" stroke-opacity="0.95" stroke-linecap="round"/><ellipse cx="95.72" cy="385.27" rx="7.63" ry="4.72" fill="#3a5cc4" fill-opacity="1" transform="rotate(0 95.72 385.27)"/><line x1="64.11" y1="395.10" x2="78.83" y2="393.92" stroke="#80c8b0" stroke-width="2.6" stroke-opacity="0.9" stroke-linecap="round"/><line x1="77.19" y1="393.53" x2="87.00" y2="393.13" stroke="#e0de40" stroke-width="2.6" stroke-opacity="1" stroke-linecap="round"/><path d="M87.00,391.95 C88.82,391.04 94.54,389.79 97.90,389.99 C101.26,390.19 105.53,391.17 107.16,393.13 C108.80,395.10 108.71,400.21 107.71,401.78 C106.71,403.35 103.71,403.22 101.17,402.57 C98.63,401.91 94.81,399.03 92.45,397.85 C90.09,396.67 87.91,396.47 87.00,395.49 C86.09,394.51 85.18,392.87 87.00,391.95Z" fill="#b4d45e" fill-opacity="0.9"/><line x1="82.09" y1="394.71" x2="82.64" y2="410.43" stroke="#c4d850" stroke-width="4" stroke-opacity="0.95" stroke-linecap="round"/><line x1="82.37" y1="395.88" x2="82.64" y2="409.64" stroke="#ece030" stroke-width="1.8" stroke-opacity="0.9" stroke-linecap="round"/><ellipse cx="81.00" cy="409.25" rx="2.18" ry="2.36" fill="#d42818" fill-opacity="1" transform="rotate(0 81.00 409.25)"/><ellipse cx="71.74" cy="404.92" rx="6.54" ry="10.22" fill="#3857c2" fill-opacity="1" transform="rotate(0 71.74 404.92)"/><line x1="55.93" y1="403.75" x2="65.20" y2="404.14" stroke="#4db6dc" stroke-width="2.5" stroke-opacity="0.7" stroke-linecap="round"/><path d="M88.09,399.81 C90.18,398.31 97.90,400.93 100.62,402.57 C103.35,404.20 105.35,407.67 104.44,409.64 C103.53,411.61 97.90,414.03 95.17,414.36 C92.45,414.68 89.27,414.03 88.09,411.61 C86.91,409.18 86.00,401.32 88.09,399.81Z" fill="#4aa6da" fill-opacity="0.85"/><line x1="90.27" y1="401.78" x2="100.62" y2="411.61" stroke="#6ccbe0" stroke-width="1.4" stroke-opacity="0.7" stroke-linecap="round"/></g><g fill="none" stroke-width="0.9" stroke-opacity="0.5" stroke-linecap="round"><path d="M87.4,398.8Q89.2,395.1 90.2,391.1" stroke="#6bb18c"/><path d="M72.9,391.7Q73.1,388.7 73.0,385.7" stroke="#387ac9"/><path d="M86.0,389.4Q86.1,387.0 85.2,384.7" stroke="#3b89c0"/><path d="M82.3,409.9Q83.5,405.2 84.3,400.4" stroke="#6986a2"/><path d="M72.6,407.8Q67.9,407.6 64.6,404.3" stroke="#3474b1"/><path d="M66.8,397.3Q64.3,396.0 62.1,394.3" stroke="#2e64a3"/><path d="M74.8,391.8Q74.6,387.6 74.5,383.4" stroke="#419cc2"/><path d="M96.4,395.2Q100.9,395.0 105.1,393.3" stroke="#c8d538"/><path d="M101.3,403.2Q102.6,400.5 105.6,401.1" stroke="#60b2a5"/><path d="M64.9,398.2Q62.2,395.6 59.0,393.6" stroke="#295197"/><path d="M64.7,401.8Q62.0,398.6 57.8,397.9" stroke="#2a549c"/><path d="M58.2,406.0Q56.1,405.3 53.9,404.7" stroke="#273688"/><path d="M70.3,395.7Q68.5,394.6 66.7,393.8" stroke="#3d91bb"/><path d="M62.3,406.5Q58.5,405.4 54.6,405.3" stroke="#3678b7"/><path d="M87.5,397.8Q88.5,395.5 87.9,393.0" stroke="#98cb63"/><path d="M73.8,393.2Q72.0,389.2 72.9,385.0" stroke="#3883b3"/><path d="M65.1,404.4Q63.9,401.5 62.3,398.8" stroke="#3981bf"/><path d="M80.4,390.3Q80.1,387.2 79.0,384.3" stroke="#44a1d5"/><path d="M99.4,393.1Q103.4,391.7 107.4,390.0" stroke="#95db8a"/><path d="M83.3,395.2Q81.9,391.1 81.8,386.8" stroke="#59bbc9"/><path d="M89.1,401.7Q91.8,401.2 92.4,398.6" stroke="#3472b2"/><path d="M100.1,413.7Q100.9,411.1 102.6,408.9" stroke="#2c5f9f"/><path d="M58.5,395.4Q58.5,392.0 55.8,389.8" stroke="#2e5baa"/><path d="M95.1,386.3Q99.3,383.8 104.0,382.4" stroke="#3571c2"/><path d="M87.8,413.3Q91.8,413.1 95.3,411.3" stroke="#2c53a0"/><path d="M68.2,386.1Q63.9,384.9 61.1,381.4" stroke="#2f67a4"/><path d="M71.9,413.3Q70.3,411.8 68.2,412.0" stroke="#2c479d"/><path d="M94.0,381.9Q93.3,379.6 93.1,377.2" stroke="#336cbd"/><path d="M83.4,405.0Q86.0,402.6 88.3,399.8" stroke="#5ecbdf"/><path d="M93.7,382.7Q96.6,381.5 96.1,378.4" stroke="#2b58a0"/><path d="M67.0,387.7Q65.3,385.4 63.7,383.1" stroke="#4ab2e3"/><path d="M70.9,398.0Q69.6,393.4 67.9,388.9" stroke="#3475b2"/><path d="M96.1,408.1Q98.5,409.6 100.7,411.2" stroke="#3777c1"/><path d="M72.0,386.9Q72.9,383.9 74.8,381.5" stroke="#4098c3"/><path d="M66.4,403.6Q65.4,401.3 64.8,399.0" stroke="#3474b7"/><path d="M59.4,402.8Q55.7,400.1 51.7,398.0" stroke="#3f91c9"/><path d="M97.1,390.6Q100.5,387.6 97.3,384.3" stroke="#377fb2"/><path d="M65.5,405.6Q62.2,404.1 59.0,402.5" stroke="#3b85c8"/><path d="M75.0,411.6Q71.6,411.7 68.5,410.2" stroke="#2c4fa0"/><path d="M103.9,391.5Q104.5,387.3 106.5,383.4" stroke="#2a2e8d"/><path d="M82.1,400.8Q82.1,398.7 81.2,396.8" stroke="#d7d52a"/><path d="M60.8,388.3Q61.3,385.3 60.9,382.2" stroke="#3c8bbf"/><path d="M75.5,409.6Q72.7,406.6 69.7,403.7" stroke="#3269b8"/><path d="M93.3,410.4Q94.4,408.4 96.6,408.6" stroke="#3984bc"/><path d="M70.0,398.9Q65.3,398.4 65.1,393.7" stroke="#3a81cb"/><path d="M79.2,413.3Q74.4,412.4 70.6,415.5" stroke="#2e66a4"/><path d="M98.7,383.6Q100.5,382.1 101.7,380.1" stroke="#294f97"/><path d="M73.8,391.7Q74.9,387.3 72.8,383.2" stroke="#377cb9"/><path d="M95.7,383.8Q95.0,379.8 93.6,376.0" stroke="#2c5ca3"/><path d="M95.0,395.8Q97.6,392.6 99.3,388.7" stroke="#c4e24e"/><path d="M96.6,402.1Q100.3,399.6 102.3,395.6" stroke="#9bc858"/><path d="M97.7,388.0Q99.5,385.5 99.2,382.4" stroke="#3163b4"/><path d="M59.1,406.1Q56.4,404.4 53.7,402.7" stroke="#2e67a0"/><path d="M88.2,399.1Q90.7,395.3 92.2,391.0" stroke="#b6d74e"/><path d="M78.8,398.0Q75.4,396.3 72.8,393.5" stroke="#2d49a1"/><path d="M70.6,401.5Q67.8,398.0 64.6,394.9" stroke="#377abc"/><path d="M70.1,387.6Q70.9,384.4 69.7,381.4" stroke="#3679bc"/><path d="M81.8,401.7Q80.5,398.5 83.4,396.5" stroke="#8eb750"/><path d="M95.9,384.0Q98.3,381.4 97.4,377.9" stroke="#3262b8"/><path d="M77.4,406.7Q75.2,404.4 72.5,402.7" stroke="#3470bf"/><path d="M59.7,397.4Q55.3,398.3 51.7,395.6" stroke="#2d389a"/><path d="M97.7,392.6Q101.4,392.0 104.9,390.5" stroke="#7eae5c"/><path d="M82.1,410.4Q81.8,408.3 82.0,406.2" stroke="#d0954b"/><path d="M100.1,408.4Q103.9,407.9 107.5,406.7" stroke="#2d429d"/><path d="M74.6,394.9Q77.0,392.8 80.1,392.1" stroke="#73b88a"/><path d="M57.4,394.8Q56.1,392.7 54.3,391.2" stroke="#294993"/><path d="M70.5,408.7Q67.9,408.3 67.5,405.6" stroke="#295799"/><path d="M74.7,408.6Q70.8,409.9 67.9,407.0" stroke="#2f64a8"/><path d="M88.5,391.9Q90.5,389.4 90.0,386.2" stroke="#305cb0"/><path d="M69.6,406.1Q65.6,404.4 64.7,400.2" stroke="#2c5ea0"/><path d="M79.1,401.0Q77.8,397.6 77.1,394.0" stroke="#2c56a3"/><path d="M79.5,401.3Q79.4,396.9 80.5,392.6" stroke="#718c9a"/><path d="M81.8,392.3Q81.1,387.4 83.1,383.1" stroke="#49ace4"/><path d="M83.1,409.7Q85.4,406.0 86.9,402.0" stroke="#357aac"/><path d="M70.3,412.9Q65.6,411.4 60.8,410.5" stroke="#305fb1"/><path d="M87.1,410.4Q90.9,410.2 93.8,412.7" stroke="#3372ab"/><path d="M81.4,388.9Q82.7,385.0 82.8,380.8" stroke="#3263ba"/><path d="M96.5,405.1Q98.6,405.0 100.5,404.1" stroke="#4296d8"/><path d="M89.7,407.3Q91.8,406.7 93.9,407.2" stroke="#55cefb"/><path d="M81.9,406.9Q82.0,402.8 80.5,398.9" stroke="#9cd46c"/><path d="M93.6,408.5Q97.9,409.9 102.3,411.3" stroke="#387ebb"/><path d="M72.3,409.4Q67.7,407.7 62.8,408.9" stroke="#3371b0"/><path d="M97.2,398.0Q98.0,394.0 99.1,390.1" stroke="#9ccd5d"/><path d="M71.6,409.3Q71.0,407.3 69.1,406.6" stroke="#2a549c"/><path d="M92.9,402.3Q93.9,399.6 95.0,397.0" stroke="#55c0db"/><path d="M75.4,398.8Q72.2,396.3 72.7,392.2" stroke="#3572c1"/><path d="M59.5,397.9Q58.3,393.9 54.3,392.5" stroke="#2d55a6"/><path d="M85.6,411.0Q84.2,408.3 83.5,405.3" stroke="#6c7b8b"/><path d="M77.5,410.6Q77.4,407.2 77.0,403.8" stroke="#274d91"/><path d="M97.1,402.2Q101.2,402.1 105.0,403.3" stroke="#63b7aa"/><path d="M82.3,398.0Q81.9,394.4 80.1,391.2" stroke="#a4d35b"/><path d="M68.6,390.8Q65.1,388.7 63.1,385.1" stroke="#3a7eca"/><path d="M97.0,384.7Q101.6,383.0 106.1,380.7" stroke="#2c58a2"/><path d="M81.8,388.8Q81.7,386.1 79.6,384.4" stroke="#3a83c0"/><path d="M75.0,396.1Q78.4,395.6 79.3,392.3" stroke="#387fb9"/><path d="M83.2,400.9Q81.1,397.0 79.5,392.8" stroke="#c7e149"/><path d="M86.2,396.8Q84.4,394.0 82.2,391.5" stroke="#b9d245"/><path d="M73.5,399.8Q70.4,397.7 70.6,393.9" stroke="#3363ba"/><path d="M72.6,392.1Q72.8,387.8 74.9,384.1" stroke="#5ed3ed"/><path d="M65.3,391.3Q63.3,389.2 61.1,387.5" stroke="#3f94c6"/><path d="M83.6,412.5Q79.4,411.8 78.1,407.8" stroke="#432a3e"/><path d="M73.4,401.0Q71.7,399.1 69.7,397.3" stroke="#326bb4"/><path d="M71.4,384.6Q69.3,383.6 67.5,382.0" stroke="#2f64a8"/><path d="M62.4,406.7Q60.7,403.3 58.5,400.2" stroke="#3c88ca"/><path d="M91.8,410.8Q94.6,409.9 97.3,408.9" stroke="#6cc8b8"/><path d="M61.1,399.4Q59.8,396.8 57.4,395.3" stroke="#3b89c0"/><path d="M98.7,383.9Q102.7,382.8 105.5,379.9" stroke="#2d3899"/><path d="M88.5,392.1Q90.3,390.9 91.9,389.4" stroke="#67c6c2"/><path d="M66.8,411.7Q62.0,411.2 57.5,409.8" stroke="#3061b2"/><path d="M75.1,407.7Q73.0,405.9 70.8,404.0" stroke="#305baf"/><path d="M90.5,403.0Q93.7,400.6 94.7,396.8" stroke="#326cb3"/><path d="M77.0,406.8Q80.9,405.1 81.7,400.9" stroke="#91cd76"/><path d="M74.6,417.9Q72.0,414.1 67.8,415.9" stroke="#2e53a8"/><path d="M75.1,405.6Q74.5,403.5 74.2,401.3" stroke="#2b5c9c"/><path d="M85.2,384.7Q84.7,380.8 85.2,376.9" stroke="#44a1d7"/><path d="M58.1,396.0Q57.1,391.6 57.2,387.1" stroke="#2b4d9a"/><path d="M97.9,386.2Q98.0,382.5 98.6,378.8" stroke="#3473b3"/><path d="M102.2,393.1Q102.1,388.4 104.0,384.0" stroke="#3f90cf"/><path d="M72.0,399.0Q71.8,395.9 71.0,392.8" stroke="#2c58a3"/><path d="M61.8,401.4Q59.6,401.0 57.3,400.9" stroke="#3474b3"/><path d="M62.6,387.2Q61.0,385.1 60.2,382.6" stroke="#3b86c4"/><path d="M79.7,398.5Q80.3,396.0 81.3,393.7" stroke="#a8c546"/><path d="M74.7,413.4Q71.3,413.7 68.0,413.1" stroke="#2f52a8"/><path d="M77.5,409.6Q73.2,408.4 69.5,405.8" stroke="#3f8dd2"/><path d="M83.9,391.1Q86.0,387.0 88.2,383.0" stroke="#377fb6"/><path d="M72.0,391.7Q71.0,389.2 70.1,386.8" stroke="#43a3c9"/><path d="M67.0,386.9Q66.6,382.0 65.9,377.1" stroke="#3c88c7"/><path d="M97.8,405.4Q102.3,403.7 107.1,403.9" stroke="#4ebfe7"/><path d="M55.8,405.1Q55.7,403.0 53.6,403.0" stroke="#3e8bd5"/><path d="M95.6,398.9Q97.9,399.1 99.5,397.4" stroke="#a9d558"/><path d="M80.9,400.3Q80.9,397.7 81.3,395.2" stroke="#9cb842"/><path d="M97.9,396.0Q99.8,395.4 101.0,393.7" stroke="#a9dd63"/><path d="M91.0,387.1Q94.0,384.9 96.7,382.3" stroke="#336eba"/><path d="M102.4,394.8Q103.7,392.6 105.1,390.6" stroke="#98cd66"/><path d="M93.5,399.1Q94.6,396.1 94.5,393.0" stroke="#d1d935"/><path d="M94.4,407.9Q97.2,408.5 99.8,409.5" stroke="#429bcc"/><path d="M88.3,398.7Q87.5,396.2 88.0,393.6" stroke="#3c89c7"/><path d="M83.6,403.8Q84.0,401.9 84.5,399.9" stroke="#9ed870"/><path d="M92.3,399.6Q95.8,396.8 98.5,393.0" stroke="#81bd76"/><path d="M80.5,411.9Q77.2,409.8 75.6,406.1" stroke="#346fbc"/><path d="M85.2,406.1Q87.6,402.9 90.5,400.1" stroke="#3b87c2"/><path d="M71.8,403.5Q67.9,400.7 63.3,399.3" stroke="#3063b2"/></g></g></g>

<filter id="bl2" x="-20%" y="-20%" width="140%" height="140%"><feGaussianBlur stdDeviation="0.9" result="b"/><feTurbulence type="fractalNoise" baseFrequency="0.12" numOctaves="2" seed="2" result="t"/><feDisplacementMap in="b" in2="t" scale="5" xChannelSelector="R" yChannelSelector="G"/></filter>
<clipPath id="c2"><path d="M182.97,379.03 C185.92,379.03 187.67,377.69 190.84,377.69 C194.01,377.69 198.93,377.99 201.99,379.03 C205.05,380.07 207.46,381.71 209.21,383.94 C210.96,386.17 212.05,389.14 212.49,392.41 C212.93,395.68 212.60,400.07 211.83,403.56 C211.07,407.05 209.75,410.77 207.90,413.37 C206.04,415.97 204.07,418.20 200.68,419.17 C197.29,420.14 191.06,419.54 187.56,419.17 C184.06,418.80 182.09,416.94 179.69,416.94 C177.28,416.94 176.19,418.80 173.13,419.17 C170.07,419.54 164.60,420.28 161.32,419.17 C158.04,418.05 155.42,415.23 153.45,412.48 C151.48,409.73 150.17,405.94 149.51,402.67 C148.86,399.40 148.86,395.83 149.51,392.86 C150.17,389.88 151.48,387.06 153.45,384.83 C155.42,382.60 158.04,380.67 161.32,379.48 C164.60,378.29 169.52,377.77 173.13,377.69 C176.74,377.62 180.02,379.03 182.97,379.03Z"/></clipPath>
<g filter="url(#rag)"><g clip-path="url(#c2)"><path d="M182.97,379.03 C185.92,379.03 187.67,377.69 190.84,377.69 C194.01,377.69 198.93,377.99 201.99,379.03 C205.05,380.07 207.46,381.71 209.21,383.94 C210.96,386.17 212.05,389.14 212.49,392.41 C212.93,395.68 212.60,400.07 211.83,403.56 C211.07,407.05 209.75,410.77 207.90,413.37 C206.04,415.97 204.07,418.20 200.68,419.17 C197.29,420.14 191.06,419.54 187.56,419.17 C184.06,418.80 182.09,416.94 179.69,416.94 C177.28,416.94 176.19,418.80 173.13,419.17 C170.07,419.54 164.60,420.28 161.32,419.17 C158.04,418.05 155.42,415.23 153.45,412.48 C151.48,409.73 150.17,405.94 149.51,402.67 C148.86,399.40 148.86,395.83 149.51,392.86 C150.17,389.88 151.48,387.06 153.45,384.83 C155.42,382.60 158.04,380.67 161.32,379.48 C164.60,378.29 169.52,377.77 173.13,377.69 C176.74,377.62 180.02,379.03 182.97,379.03Z" fill="#3d5cc6"/><g filter="url(#bl2)"><ellipse cx="167.88" cy="383.49" rx="10.50" ry="4.91" fill="#4a6ccc" fill-opacity="1" transform="rotate(0 167.88 383.49)"/><ellipse cx="195.43" cy="383.49" rx="9.84" ry="4.91" fill="#4a6ccc" fill-opacity="1" transform="rotate(0 195.43 383.49)"/><line x1="177.72" y1="377.69" x2="178.38" y2="390.18" stroke="#70c8e0" stroke-width="2" stroke-opacity="0.9" stroke-linecap="round"/><line x1="186.25" y1="377.69" x2="185.59" y2="390.18" stroke="#70c8e0" stroke-width="2" stroke-opacity="0.9" stroke-linecap="round"/><path d="M152.14,392.86 C154.76,391.89 163.07,390.40 167.88,390.18 C172.69,389.96 176.41,391.59 181.00,391.52 C185.59,391.44 190.51,389.73 195.43,389.73 C200.35,389.73 208.01,390.70 210.52,391.52 C213.03,392.34 213.03,394.42 210.52,394.64 C208.01,394.86 200.35,392.86 195.43,392.86 C190.51,392.86 185.59,394.57 181.00,394.64 C176.41,394.71 172.69,393.08 167.88,393.30 C163.07,393.53 154.76,396.05 152.14,395.98 C149.51,395.90 149.51,393.82 152.14,392.86Z" fill="#9ccc80" fill-opacity="0.95"/><line x1="161.32" y1="390.18" x2="203.96" y2="389.73" stroke="#70c4d8" stroke-width="1.4" stroke-opacity="0.8" stroke-linecap="round"/><ellipse cx="181.00" cy="392.86" rx="5.25" ry="2.23" fill="#c8d858" fill-opacity="0.9" transform="rotate(0 181.00 392.86)"/><line x1="154.76" y1="394.64" x2="210.52" y2="393.75" stroke="#6cc4dc" stroke-width="1.5" stroke-opacity="0.8" stroke-linecap="round"/><ellipse cx="164.60" cy="403.56" rx="8.53" ry="9.81" fill="#3852c0" fill-opacity="1" transform="rotate(8 164.60 403.56)"/><ellipse cx="198.06" cy="403.56" rx="8.53" ry="10.70" fill="#3852c0" fill-opacity="1" transform="rotate(-8 198.06 403.56)"/><polygon points="175.10,396.87 186.90,396.87 182.31,416.05 179.03,416.05" fill="#e8c030" fill-opacity="1"/><polygon points="177.39,397.76 184.61,397.76 181.66,412.48 180.02,412.48" fill="#d83018" fill-opacity="1"/><path d="M162.63,411.59 C164.05,410.03 171.16,408.76 173.13,409.80 C175.10,410.84 175.86,416.27 174.44,417.83 C173.02,419.39 166.57,420.21 164.60,419.17 C162.63,418.13 161.21,413.15 162.63,411.59Z" fill="#70c0b0" fill-opacity="0.8"/><ellipse cx="173.13" cy="415.16" rx="2.30" ry="1.78" fill="#e06020" fill-opacity="0.8" transform="rotate(0 173.13 415.16)"/><ellipse cx="188.87" cy="416.05" rx="5.25" ry="2.23" fill="#60c0c8" fill-opacity="0.8" transform="rotate(0 188.87 416.05)"/><line x1="173.13" y1="394.64" x2="177.06" y2="414.71" stroke="#60c0e0" stroke-width="1.4" stroke-opacity="0.8" stroke-linecap="round"/><line x1="189.53" y1="394.64" x2="185.59" y2="414.71" stroke="#60c0e0" stroke-width="1.4" stroke-opacity="0.8" stroke-linecap="round"/><line x1="152.14" y1="399.10" x2="154.76" y2="412.48" stroke="#4a88d8" stroke-width="2" stroke-opacity="0.6" stroke-linecap="round"/></g><g fill="none" stroke-width="0.9" stroke-opacity="0.5" stroke-linecap="round"><path d="M192.3,384.0Q193.1,381.1 195.3,379.1" stroke="#4bb2e9"/><path d="M179.0,414.5Q175.4,413.8 172.0,412.3" stroke="#3370b6"/><path d="M178.5,397.2Q177.1,395.2 176.4,392.8" stroke="#7e777c"/><path d="M171.7,410.5Q168.5,407.7 164.4,407.7" stroke="#3372b3"/><path d="M188.5,384.3Q189.0,379.7 189.1,375.1" stroke="#285395"/><path d="M166.7,391.6Q164.5,387.7 164.4,383.3" stroke="#3a7ecb"/><path d="M178.6,407.7Q174.2,405.8 170.7,402.5" stroke="#439dd5"/><path d="M180.1,393.7Q179.0,389.2 181.7,385.3" stroke="#6bc0ab"/><path d="M175.6,408.7Q175.8,406.5 174.9,404.5" stroke="#7e90ad"/><path d="M191.7,384.5Q195.3,382.5 197.9,379.4" stroke="#3c85cd"/><path d="M175.3,417.7Q173.2,417.9 171.2,418.9" stroke="#274b90"/><path d="M199.1,403.2Q201.7,403.0 203.8,401.5" stroke="#2b4e9b"/><path d="M189.0,417.7Q193.0,419.0 196.8,417.0" stroke="#2c409a"/><path d="M182.5,410.5Q183.3,408.3 183.4,405.9" stroke="#b48d6b"/><path d="M168.1,414.5Q163.9,413.4 160.4,410.9" stroke="#77ccac"/><path d="M157.6,407.7Q153.0,406.7 148.9,404.6" stroke="#3d8bc8"/><path d="M178.3,404.5Q180.0,401.2 183.3,399.5" stroke="#d7481c"/><path d="M193.6,401.9Q196.8,398.1 197.7,393.3" stroke="#2f67a4"/><path d="M202.5,406.8Q206.2,405.8 209.8,407.0" stroke="#2e62a8"/><path d="M168.1,397.2Q168.3,394.7 168.5,392.1" stroke="#2e5ea9"/><path d="M166.5,385.9Q167.7,383.3 167.1,380.6" stroke="#4cb6e5"/><path d="M174.7,409.6Q172.6,405.9 169.5,403.0" stroke="#2d63a0"/><path d="M163.7,417.6Q160.9,416.9 158.0,416.9" stroke="#3064b2"/><path d="M165.1,389.7Q162.7,387.1 161.1,383.9" stroke="#3b8aba"/><path d="M170.8,402.0Q167.7,399.0 165.6,395.2" stroke="#2f65ac"/><path d="M183.5,413.1Q184.5,409.3 183.1,405.6" stroke="#3c86d0"/><path d="M191.4,383.9Q192.7,381.4 195.5,380.8" stroke="#2e61a7"/><path d="M201.9,385.8Q203.0,381.1 207.6,379.7" stroke="#49abe3"/><path d="M168.7,400.8Q165.6,396.9 163.3,392.5" stroke="#3269b8"/><path d="M157.2,401.4Q153.5,399.8 150.0,397.6" stroke="#2d63a0"/><path d="M192.5,418.3Q196.2,417.3 199.6,419.0" stroke="#316baf"/><path d="M163.2,392.5Q160.8,392.3 158.5,392.7" stroke="#60ab97"/><path d="M156.8,406.8Q154.1,406.8 151.5,407.3" stroke="#285596"/><path d="M158.2,397.9Q155.6,397.0 153.2,395.7" stroke="#387dc2"/><path d="M203.4,395.2Q207.4,394.3 211.5,394.5" stroke="#84d39d"/><path d="M190.8,395.2Q192.9,393.1 195.1,391.1" stroke="#409bc1"/><path d="M173.0,412.6Q171.2,411.4 169.3,410.3" stroke="#3167b8"/><path d="M173.1,383.5Q171.6,379.8 172.6,376.0" stroke="#2d61a5"/><path d="M166.2,418.1Q163.7,419.1 161.2,419.8" stroke="#3148aa"/><path d="M183.3,395.7Q182.6,393.5 181.0,391.7" stroke="#a1df78"/><path d="M166.9,417.4Q164.2,414.8 160.8,413.4" stroke="#66cfd7"/><path d="M185.6,416.6Q189.2,414.4 192.0,411.2" stroke="#4197cd"/><path d="M191.1,386.9Q193.9,385.7 195.7,383.4" stroke="#2c5f9c"/><path d="M164.1,395.6Q161.1,394.3 158.2,392.7" stroke="#90c260"/><path d="M186.9,410.0Q188.0,407.6 188.1,404.8" stroke="#45a7d3"/><path d="M162.1,385.9Q160.8,382.6 161.0,379.0" stroke="#2d5ba7"/><path d="M168.0,395.0Q168.1,390.9 166.1,387.3" stroke="#5ec5d3"/><path d="M166.3,412.2Q161.7,411.9 157.4,413.2" stroke="#3a7ecb"/><path d="M164.9,412.5Q160.5,413.5 157.1,410.6" stroke="#325eb7"/><path d="M168.1,403.5Q166.4,402.2 164.6,401.2" stroke="#2f67a3"/><path d="M163.7,409.1Q161.9,408.0 160.4,406.6" stroke="#3a80cb"/><path d="M169.0,396.3Q169.7,393.3 168.7,390.3" stroke="#50c2e8"/><path d="M182.6,401.3Q184.2,398.8 184.3,395.7" stroke="#b67c3b"/><path d="M154.6,400.8Q152.8,399.8 150.8,399.1" stroke="#3e94bf"/><path d="M158.3,393.7Q154.6,391.7 152.0,388.5" stroke="#76b781"/><path d="M168.2,384.0Q164.6,382.7 161.6,380.5" stroke="#305db1"/><path d="M208.5,399.9Q210.2,398.6 211.3,396.7" stroke="#3c87cb"/><path d="M205.6,404.6Q208.9,405.3 211.7,403.6" stroke="#3981c0"/><path d="M186.1,398.3Q183.5,395.3 182.9,391.4" stroke="#419ac8"/><path d="M168.6,400.6Q168.5,397.8 166.0,396.7" stroke="#3265b8"/><path d="M157.2,407.9Q152.8,407.0 149.4,404.0" stroke="#3d8cc4"/><path d="M177.6,394.9Q175.9,391.3 175.8,387.4" stroke="#7ec58d"/><path d="M199.8,412.0Q203.8,409.9 208.2,409.4" stroke="#2d60a4"/><path d="M186.2,411.7Q187.9,409.3 189.5,406.9" stroke="#44a1d7"/><path d="M196.2,397.1Q197.8,395.2 198.2,392.7" stroke="#367cb3"/><path d="M177.5,399.5Q177.4,396.8 176.0,394.5" stroke="#dd9819"/><path d="M184.9,383.6Q182.8,380.8 183.7,377.4" stroke="#48aae3"/><path d="M166.2,394.9Q164.8,391.8 161.8,390.3" stroke="#83bc70"/><path d="M202.2,407.8Q205.8,406.0 208.7,403.3" stroke="#336bbb"/><path d="M178.7,416.9Q175.7,413.5 173.6,409.5" stroke="#397dc8"/><path d="M165.1,412.9Q161.0,413.9 158.2,417.0" stroke="#48a9e0"/><path d="M199.6,383.8Q203.1,383.6 206.2,382.0" stroke="#326db2"/><path d="M180.8,401.7Q181.4,399.3 181.8,397.0" stroke="#f35320"/><path d="M157.1,407.3Q154.5,406.1 152.1,404.7" stroke="#326eab"/><path d="M199.3,396.5Q201.3,395.4 202.3,393.4" stroke="#294895"/><path d="M193.4,402.1Q194.4,399.4 197.0,398.3" stroke="#2d49a0"/><path d="M171.1,397.1Q171.9,394.3 171.4,391.5" stroke="#4cb2d2"/><path d="M172.5,391.9Q170.7,387.7 166.9,385.0" stroke="#45a0dd"/><path d="M177.9,416.6Q174.9,412.6 170.2,410.9" stroke="#4092d2"/><path d="M175.2,416.5Q171.2,416.5 167.9,418.9" stroke="#8ada9f"/><path d="M201.6,402.3Q204.9,400.8 208.1,399.0" stroke="#2b5e9c"/><path d="M202.3,411.7Q206.4,412.4 210.3,410.8" stroke="#387cc5"/><path d="M188.6,385.9Q189.6,382.4 189.9,378.9" stroke="#3677bb"/><path d="M194.8,416.8Q198.1,414.5 201.0,411.8" stroke="#2b539e"/><path d="M177.8,383.7Q177.3,379.8 176.6,375.9" stroke="#3882b3"/><path d="M168.3,415.0Q165.5,414.7 163.0,415.9" stroke="#61b5aa"/><path d="M183.8,418.7Q185.4,417.0 187.5,418.0" stroke="#293a8f"/><path d="M205.8,408.6Q208.5,408.4 211.1,408.5" stroke="#305db1"/><path d="M171.3,401.9Q169.4,399.7 167.5,397.5" stroke="#3e8ad0"/><path d="M196.1,392.0Q199.5,390.5 202.8,388.5" stroke="#74c098"/><path d="M176.3,416.6Q174.1,415.4 171.7,414.5" stroke="#89819c"/><path d="M199.7,391.7Q203.6,389.1 206.3,385.4" stroke="#79bd87"/><path d="M187.8,418.5Q192.8,418.6 197.4,416.9" stroke="#2c3094"/><path d="M180.2,415.5Q175.7,413.8 172.2,410.5" stroke="#285195"/><path d="M198.9,405.5Q199.7,403.6 201.4,402.4" stroke="#2c4d9f"/><path d="M162.2,388.3Q159.9,384.5 155.8,382.6" stroke="#2a569c"/><path d="M183.7,416.1Q188.2,415.6 192.8,415.2" stroke="#49ade5"/><path d="M155.5,398.0Q152.5,395.7 148.8,394.9" stroke="#326fb1"/><path d="M158.2,396.7Q156.4,395.0 155.5,392.8" stroke="#3c8cbd"/><path d="M163.3,413.8Q160.2,411.6 160.4,407.8" stroke="#294a95"/><path d="M190.7,405.4Q193.6,403.4 196.3,401.1" stroke="#3269b7"/><path d="M179.6,409.4Q181.1,407.0 181.8,404.3" stroke="#ff9b20"/><path d="M190.9,397.8Q193.4,395.7 194.3,392.5" stroke="#2f67a8"/><path d="M202.9,390.7Q206.3,388.6 208.5,385.3" stroke="#3b82ca"/><path d="M181.5,384.3Q180.2,380.2 178.5,376.1" stroke="#4bb1e7"/><path d="M161.1,409.3Q158.4,408.5 155.6,408.0" stroke="#3141a7"/><path d="M195.5,402.9Q196.9,400.3 198.3,397.8" stroke="#3879c7"/><path d="M176.3,389.7Q175.5,385.8 176.1,381.9" stroke="#3e8fc8"/><path d="M166.2,386.9Q165.1,385.2 164.0,383.5" stroke="#3b84ca"/><path d="M181.5,407.7Q181.2,403.1 178.0,399.9" stroke="#d5581b"/><path d="M181.1,384.0Q181.0,380.5 181.1,377.0" stroke="#449cdd"/><path d="M162.4,408.3Q159.2,405.5 156.1,402.6" stroke="#2f64ab"/><path d="M184.6,391.2Q184.2,388.9 183.9,386.5" stroke="#6db38c"/><path d="M204.4,397.8Q205.9,395.7 207.8,394.0" stroke="#316bb0"/><path d="M153.7,401.6Q150.0,398.9 145.6,397.7" stroke="#377cbc"/><path d="M159.0,403.8Q157.8,401.9 157.2,399.8" stroke="#2b529e"/><path d="M195.1,385.0Q195.1,380.6 196.7,376.4" stroke="#419dc5"/><path d="M197.2,399.2Q200.2,397.5 202.5,395.1" stroke="#2d62a3"/><path d="M166.3,388.2Q167.9,384.1 165.5,380.4" stroke="#52c5f8"/><path d="M203.8,391.6Q206.2,389.5 208.4,387.3" stroke="#86c984"/><path d="M185.9,389.7Q186.9,387.6 187.0,385.3" stroke="#387ebd"/><path d="M186.4,398.4Q185.0,394.2 185.2,389.8" stroke="#6bc9be"/><path d="M196.7,403.1Q200.0,400.3 203.3,397.5" stroke="#367bb8"/><path d="M202.1,417.4Q204.9,415.6 207.8,413.9" stroke="#121b3a"/><path d="M181.4,387.8Q179.1,384.4 180.2,380.5" stroke="#46a8d5"/><path d="M166.5,418.0Q163.7,417.9 160.9,417.8" stroke="#3d8bcb"/><path d="M191.2,402.9Q193.2,400.8 195.4,399.0" stroke="#2c5ca5"/><path d="M172.0,400.3Q170.7,398.0 168.9,396.0" stroke="#2a4e99"/><path d="M167.5,403.0Q163.0,403.6 158.3,403.5" stroke="#2e63a5"/><path d="M179.9,401.8Q180.3,399.0 179.9,396.1" stroke="#d83c1d"/><path d="M179.1,381.1Q181.7,378.9 184.2,376.7" stroke="#273e89"/><path d="M207.4,404.1Q210.8,402.1 213.3,399.2" stroke="#282c87"/><path d="M177.0,416.8Q172.9,416.4 168.9,417.3" stroke="#797d9b"/><path d="M176.8,402.8Q177.0,400.4 176.7,397.9" stroke="#d6a466"/><path d="M183.1,403.9Q187.5,403.6 188.2,399.2" stroke="#3579b4"/><path d="M163.1,384.9Q160.9,382.2 158.9,379.4" stroke="#3067aa"/><path d="M196.1,392.9Q198.5,392.8 200.3,391.2" stroke="#3065b4"/><path d="M190.3,418.0Q192.3,417.5 194.3,417.6" stroke="#53caf4"/><path d="M159.1,389.6Q158.7,385.8 157.8,382.2" stroke="#3372ad"/><path d="M205.3,408.5Q208.9,407.5 212.5,408.0" stroke="#25287c"/><path d="M206.4,403.0Q209.8,401.8 211.7,398.8" stroke="#315eb4"/><path d="M200.7,398.1Q203.6,395.2 205.7,391.6" stroke="#3471b9"/><path d="M194.1,391.7Q194.6,386.9 192.5,382.5" stroke="#3c89c5"/><path d="M183.9,411.4Q185.1,407.9 186.5,404.6" stroke="#4aace9"/><path d="M165.7,397.6Q164.3,395.7 162.9,394.0" stroke="#3b84ca"/><path d="M162.6,397.9Q159.9,395.3 157.5,392.7" stroke="#7ad5b6"/><path d="M205.4,407.0Q207.5,406.6 209.3,405.6" stroke="#4195d8"/><path d="M199.4,407.8Q202.6,408.3 205.8,409.0" stroke="#3b85c5"/><path d="M189.3,396.8Q192.4,395.8 193.3,392.7" stroke="#4299d2"/><path d="M155.1,391.7Q154.3,389.5 153.4,387.2" stroke="#3066ad"/><path d="M157.9,403.0Q154.6,401.8 152.4,399.1" stroke="#294390"/><path d="M172.0,408.8Q169.2,405.8 166.2,403.1" stroke="#2e53a6"/><path d="M168.7,410.4Q164.6,408.8 160.1,408.8" stroke="#3b8cba"/><path d="M155.2,395.8Q153.3,393.2 150.2,393.2" stroke="#58d0f7"/><path d="M158.7,390.0Q156.9,388.1 154.7,386.7" stroke="#2b5aa2"/><path d="M207.9,397.8Q210.3,396.4 213.1,396.3" stroke="#2b5d9b"/><path d="M207.4,392.8Q209.1,391.7 210.6,390.3" stroke="#84b764"/><path d="M180.9,409.7Q184.9,408.2 188.1,405.5" stroke="#2d5fa7"/><path d="M209.4,395.6Q211.4,396.1 213.4,396.0" stroke="#305bae"/><path d="M170.9,414.9Q167.6,413.5 164.4,412.0" stroke="#6ecfc6"/><path d="M171.0,391.9Q171.4,387.7 168.1,385.3" stroke="#316fa6"/><path d="M167.6,414.2Q165.1,414.4 162.7,415.1" stroke="#7fc78e"/><path d="M179.6,393.1Q180.2,391.1 179.2,389.3" stroke="#cfeb4d"/><path d="M161.6,393.0Q160.6,390.4 158.6,388.5" stroke="#88dba5"/><path d="M167.6,397.8Q166.0,393.5 164.0,389.5" stroke="#3982bb"/><path d="M160.4,387.2Q159.1,383.6 157.9,379.9" stroke="#459fdd"/><path d="M202.8,412.1Q205.0,413.0 206.8,411.6" stroke="#2e5da9"/><path d="M172.9,402.8Q173.7,399.8 172.6,396.9" stroke="#51bad8"/><path d="M189.3,409.5Q191.5,407.8 193.4,405.8" stroke="#2b58a0"/><path d="M181.8,394.9Q180.3,390.6 179.8,386.2" stroke="#67ac89"/><path d="M186.0,396.7Q189.0,393.0 193.7,392.3" stroke="#4dbae4"/><path d="M157.2,403.3Q157.8,400.1 156.2,397.2" stroke="#2b529c"/><path d="M174.4,390.5Q172.7,385.9 174.1,381.2" stroke="#3059ad"/><path d="M189.5,401.0Q189.8,398.8 191.2,397.2" stroke="#3c8cc1"/><path d="M198.6,394.3Q199.2,391.8 201.4,390.5" stroke="#62d3e7"/><path d="M155.3,401.4Q154.1,399.6 152.9,397.8" stroke="#2f63ad"/><path d="M168.9,409.6Q166.9,408.2 165.6,406.2" stroke="#2d5ca8"/><path d="M161.6,389.5Q160.5,386.4 158.0,384.3" stroke="#3369bd"/><path d="M208.8,400.6Q212.0,397.8 215.0,394.7" stroke="#18244f"/><path d="M191.3,413.9Q194.0,410.0 198.7,410.1" stroke="#315fb4"/><path d="M167.1,397.0Q168.4,392.6 165.5,389.0" stroke="#57cbef"/><path d="M172.6,385.8Q172.2,383.1 170.8,380.8" stroke="#3b8bbd"/><path d="M208.5,402.5Q211.4,398.8 215.3,396.2" stroke="#2b519e"/><path d="M155.9,393.1Q154.3,391.0 152.6,389.1" stroke="#3b88c3"/><path d="M190.2,388.0Q193.4,384.7 196.3,381.3" stroke="#3269bb"/><path d="M190.4,417.0Q193.8,415.5 197.5,415.0" stroke="#3267ba"/><path d="M189.4,396.5Q192.2,393.8 193.7,390.3" stroke="#2f68a3"/><path d="M186.1,393.7Q186.8,388.8 185.7,384.0" stroke="#316fa5"/><path d="M169.7,407.8Q168.3,404.3 165.6,401.7" stroke="#2e64a4"/><path d="M196.6,400.4Q197.9,397.8 200.1,395.9" stroke="#3476ac"/><path d="M206.7,403.2Q205.1,398.9 206.6,394.6" stroke="#2f5aac"/><path d="M186.3,400.6Q185.6,396.1 186.3,391.6" stroke="#65779f"/><path d="M173.0,386.4Q172.2,383.5 170.7,380.9" stroke="#2f63b0"/><path d="M163.0,396.2Q162.5,393.9 160.9,392.4" stroke="#8dd895"/><path d="M162.7,385.1Q161.5,382.1 160.7,378.9" stroke="#429ad0"/></g></g></g>

<filter id="bl3" x="-20%" y="-20%" width="140%" height="140%"><feGaussianBlur stdDeviation="0.9" result="b"/><feTurbulence type="fractalNoise" baseFrequency="0.12" numOctaves="2" seed="3" result="t"/><feDisplacementMap in="b" in2="t" scale="5" xChannelSelector="R" yChannelSelector="G"/></filter>
<clipPath id="c3"><path d="M282.20,379.07 C285.08,379.07 287.24,377.30 290.84,377.14 C294.44,376.98 300.20,377.14 303.80,378.11 C307.40,379.07 310.28,380.75 312.44,382.91 C314.60,385.08 316.16,387.48 316.76,391.09 C317.36,394.70 317.00,400.31 316.04,404.56 C315.08,408.81 313.28,413.78 311.00,416.59 C308.72,419.39 305.96,420.43 302.36,421.39 C298.76,422.36 293.36,422.28 289.40,422.36 C285.44,422.44 282.20,422.04 278.60,421.88 C275.00,421.72 271.76,421.88 267.80,421.39 C263.84,420.91 257.96,420.83 254.84,418.99 C251.72,417.15 250.40,413.54 249.08,410.33 C247.76,407.13 247.04,403.12 246.92,399.75 C246.80,396.38 247.28,393.02 248.36,390.13 C249.44,387.24 251.12,384.44 253.40,382.43 C255.68,380.43 258.68,378.99 262.04,378.11 C265.40,377.22 270.20,376.98 273.56,377.14 C276.92,377.30 279.32,379.07 282.20,379.07Z"/></clipPath>
<g filter="url(#rag)"><g clip-path="url(#c3)"><path d="M282.20,379.07 C285.08,379.07 287.24,377.30 290.84,377.14 C294.44,376.98 300.20,377.14 303.80,378.11 C307.40,379.07 310.28,380.75 312.44,382.91 C314.60,385.08 316.16,387.48 316.76,391.09 C317.36,394.70 317.00,400.31 316.04,404.56 C315.08,408.81 313.28,413.78 311.00,416.59 C308.72,419.39 305.96,420.43 302.36,421.39 C298.76,422.36 293.36,422.28 289.40,422.36 C285.44,422.44 282.20,422.04 278.60,421.88 C275.00,421.72 271.76,421.88 267.80,421.39 C263.84,420.91 257.96,420.83 254.84,418.99 C251.72,417.15 250.40,413.54 249.08,410.33 C247.76,407.13 247.04,403.12 246.92,399.75 C246.80,396.38 247.28,393.02 248.36,390.13 C249.44,387.24 251.12,384.44 253.40,382.43 C255.68,380.43 258.68,378.99 262.04,378.11 C265.40,377.22 270.20,376.98 273.56,377.14 C276.92,377.30 279.32,379.07 282.20,379.07Z" fill="#54aade"/><g filter="url(#bl3)"><ellipse cx="264.20" cy="381.95" rx="10.80" ry="3.85" fill="#4272d2" fill-opacity="0.85" transform="rotate(0 264.20 381.95)"/><ellipse cx="298.04" cy="382.43" rx="10.80" ry="3.85" fill="#4a8ad6" fill-opacity="0.75" transform="rotate(0 298.04 382.43)"/><ellipse cx="248.36" cy="404.56" rx="4.32" ry="14.43" fill="#3d5cc6" fill-opacity="1" transform="rotate(0 248.36 404.56)"/><ellipse cx="314.60" cy="405.52" rx="4.32" ry="13.47" fill="#3d5cc6" fill-opacity="0.9" transform="rotate(0 314.60 405.52)"/><line x1="253.40" y1="392.05" x2="280.04" y2="390.61" stroke="#8ccfa0" stroke-width="3.2" stroke-opacity="0.9" stroke-linecap="round"/><path d="M282.20,388.69 C285.20,387.89 295.16,387.48 300.20,387.73 C305.24,387.97 309.92,388.45 312.44,390.13 C314.96,391.81 316.04,396.70 315.32,397.83 C314.60,398.95 311.00,397.67 308.12,396.86 C305.24,396.06 302.36,393.74 298.04,393.02 C293.72,392.29 284.84,393.26 282.20,392.53 C279.56,391.81 279.20,389.49 282.20,388.69Z" fill="#e6e034" fill-opacity="1"/><path d="M260.60,393.98 C262.52,392.45 269.72,391.25 272.12,393.02 C274.52,394.78 275.12,401.19 275.00,404.56 C274.88,407.93 272.84,412.02 271.40,413.22 C269.96,414.42 268.16,413.62 266.36,411.77 C264.56,409.93 261.56,405.12 260.60,402.16 C259.64,399.19 258.68,395.50 260.60,393.98Z" fill="#dcb434" fill-opacity="0.9"/><path d="M262.04,395.42 C263.48,394.14 268.40,392.94 269.96,394.46 C271.52,395.98 271.52,401.91 271.40,404.56 C271.28,407.21 270.32,409.53 269.24,410.33 C268.16,411.13 266.24,410.73 264.92,409.37 C263.60,408.01 261.80,404.48 261.32,402.16 C260.84,399.83 260.60,396.70 262.04,395.42Z" fill="#c42a18" fill-opacity="1"/><path d="M288.68,395.42 C290.72,392.86 296.96,392.86 298.76,393.98 C300.56,395.10 300.32,399.19 299.48,402.16 C298.64,405.12 295.88,410.57 293.72,411.77 C291.56,412.98 287.36,412.10 286.52,409.37 C285.68,406.64 286.64,397.99 288.68,395.42Z" fill="#d4d044" fill-opacity="0.9"/><path d="M290.84,396.38 C292.16,394.30 296.24,394.46 297.32,395.42 C298.40,396.38 298.04,399.83 297.32,402.16 C296.60,404.48 294.32,408.41 293.00,409.37 C291.68,410.33 289.76,410.09 289.40,407.93 C289.04,405.76 289.52,398.47 290.84,396.38Z" fill="#c42a18" fill-opacity="1"/><line x1="282.20" y1="393.98" x2="282.20" y2="421.39" stroke="#5cc0e0" stroke-width="3.2" stroke-opacity="0.8" stroke-linecap="round"/><line x1="291.56" y1="414.18" x2="291.56" y2="422.84" stroke="#b02818" stroke-width="2.4" stroke-opacity="0.95" stroke-linecap="round"/><line x1="269.96" y1="414.18" x2="269.96" y2="421.39" stroke="#b0d060" stroke-width="2" stroke-opacity="0.8" stroke-linecap="round"/><path d="M300.92,399.75 C302.84,396.54 310.76,396.94 312.44,399.75 C314.12,402.56 312.92,413.38 311.00,416.59 C309.08,419.79 302.60,421.80 300.92,418.99 C299.24,416.18 299.00,402.96 300.92,399.75Z" fill="#4a82d2" fill-opacity="0.75"/></g><g fill="none" stroke-width="0.9" stroke-opacity="0.5" stroke-linecap="round"><path d="M258.3,401.5Q256.7,397.6 252.8,395.9" stroke="#387ebe"/><path d="M254.0,398.3Q252.0,397.6 251.7,395.5" stroke="#3578b5"/><path d="M270.8,413.6Q268.5,412.6 266.5,411.0" stroke="#7edaba"/><path d="M281.7,419.1Q286.2,419.0 290.3,420.7" stroke="#51abb7"/><path d="M299.0,406.7Q301.9,402.9 306.6,402.8" stroke="#449fd6"/><path d="M285.9,411.5Q290.1,410.2 293.3,407.4" stroke="#90cb71"/><path d="M282.7,395.3Q284.2,392.2 284.5,388.8" stroke="#86d8a3"/><path d="M295.8,391.5Q293.1,387.8 293.2,383.3" stroke="#66cdd3"/><path d="M283.4,403.5Q283.2,399.4 282.4,395.5" stroke="#53caf4"/><path d="M296.3,383.5Q297.0,381.5 297.2,379.4" stroke="#3a85bc"/><path d="M288.5,408.8Q290.9,407.0 291.7,404.1" stroke="#cf3a1b"/><path d="M282.4,412.4Q284.0,410.3 283.4,407.8" stroke="#64bbb1"/><path d="M294.8,407.9Q297.6,405.4 298.8,402.0" stroke="#91d586"/><path d="M262.4,388.9Q260.5,387.7 259.2,385.7" stroke="#67ae8e"/><path d="M277.4,404.2Q275.1,401.7 273.1,399.0" stroke="#65b49f"/><path d="M258.3,388.6Q256.7,385.7 257.0,382.5" stroke="#46a1e2"/><path d="M275.7,393.2Q275.1,388.2 273.0,383.7" stroke="#3e92c3"/><path d="M272.9,422.2Q268.1,420.8 263.2,421.0" stroke="#234049"/><path d="M254.0,393.4Q252.0,390.0 248.3,388.7" stroke="#4db7ea"/><path d="M274.1,408.5Q271.6,408.1 269.3,407.0" stroke="#abd152"/><path d="M273.7,415.3Q271.6,414.2 269.4,413.1" stroke="#6bccc4"/><path d="M295.0,402.9Q296.8,400.1 299.7,398.3" stroke="#ff7420"/><path d="M284.2,392.3Q285.8,388.7 286.6,384.9" stroke="#bdd444"/><path d="M290.2,384.3Q288.3,381.0 289.8,377.6" stroke="#45a6d5"/><path d="M294.9,417.3Q297.2,417.1 299.3,418.0" stroke="#409bc1"/><path d="M258.1,383.0Q257.3,380.8 257.4,378.5" stroke="#284690"/><path d="M300.6,406.3Q300.8,403.8 302.8,402.2" stroke="#3b89c1"/><path d="M301.9,416.0Q306.2,416.2 309.3,419.3" stroke="#4ab1e4"/><path d="M301.9,394.5Q302.3,392.5 303.8,391.0" stroke="#b8d145"/><path d="M257.8,408.5Q255.2,406.0 253.1,403.2" stroke="#50c0f3"/><path d="M305.5,403.6Q307.6,404.0 308.5,402.1" stroke="#3f8ed0"/><path d="M294.9,382.5Q295.8,377.6 295.8,372.6" stroke="#51c2f3"/><path d="M257.3,391.7Q254.8,390.1 253.6,387.5" stroke="#56d2fe"/><path d="M263.6,381.4Q260.0,379.9 258.2,376.5" stroke="#419dc3"/><path d="M270.1,388.0Q268.9,385.5 267.0,383.4" stroke="#3d8bcd"/><path d="M261.1,413.0Q257.9,411.4 254.5,410.2" stroke="#48aedb"/><path d="M277.6,396.5Q276.8,394.1 276.5,391.5" stroke="#5eb1a8"/><path d="M269.3,419.8Q267.4,419.1 265.3,418.6" stroke="#3f96c2"/><path d="M291.7,382.3Q293.9,380.2 296.6,378.9" stroke="#49b2da"/><path d="M299.0,404.1Q301.9,400.6 305.0,397.4" stroke="#57d5ff"/><path d="M299.8,396.2Q303.1,392.8 306.4,389.3" stroke="#d7da30"/><path d="M297.6,394.3Q298.1,389.6 299.8,385.1" stroke="#d2e23f"/><path d="M291.4,391.0Q290.7,387.6 291.0,384.1" stroke="#7caf62"/><path d="M253.0,407.8Q252.0,405.3 249.5,404.4" stroke="#4cb8e7"/><path d="M289.4,402.7Q289.1,398.6 291.1,395.0" stroke="#be9942"/><path d="M306.3,414.0Q308.2,411.6 311.1,410.4" stroke="#357aad"/><path d="M283.2,415.9Q284.7,411.8 285.4,407.4" stroke="#377dbc"/><path d="M269.7,411.7Q266.2,412.7 262.6,413.4" stroke="#5ec8d8"/><path d="M308.6,387.0Q311.7,384.5 315.4,383.0" stroke="#2e63a8"/><path d="M284.7,399.2Q282.7,394.7 281.9,389.9" stroke="#68d1d6"/><path d="M298.4,413.1Q303.1,411.7 306.6,408.2" stroke="#48add9"/><path d="M296.0,391.3Q297.9,389.5 298.3,387.0" stroke="#d5d830"/><path d="M307.2,400.9Q309.2,398.4 312.3,397.8" stroke="#6faf7d"/><path d="M288.1,419.8Q292.2,419.2 296.4,419.6" stroke="#788aac"/><path d="M299.9,390.4Q301.2,387.3 303.0,384.4" stroke="#78c497"/><path d="M274.3,396.8Q274.2,394.4 272.5,392.8" stroke="#49a5bb"/><path d="M278.5,395.5Q277.0,394.1 276.8,392.0" stroke="#5fb4ac"/><path d="M284.4,387.7Q283.6,383.5 280.1,381.1" stroke="#3577b4"/><path d="M265.1,400.8Q266.2,396.0 265.8,391.1" stroke="#b81e1e"/><path d="M289.1,413.6Q292.0,412.2 293.3,409.2" stroke="#49b1dd"/><path d="M299.1,393.7Q301.0,393.0 302.4,391.5" stroke="#95c256"/><path d="M261.7,387.0Q261.3,383.5 261.7,379.9" stroke="#47a7df"/><path d="M300.5,422.9Q303.4,419.1 307.7,417.1" stroke="#2b57a0"/><path d="M301.2,416.0Q304.7,416.6 307.9,414.9" stroke="#49aedf"/><path d="M311.7,390.3Q313.4,388.5 314.8,386.4" stroke="#53bed9"/><path d="M264.2,389.4Q263.0,387.3 262.8,384.9" stroke="#45a4d9"/><path d="M288.3,391.0Q290.8,386.7 292.4,382.0" stroke="#90bc54"/><path d="M286.2,408.4Q286.6,404.1 286.1,399.7" stroke="#7ac28f"/><path d="M269.2,398.6Q266.6,395.3 262.9,393.3" stroke="#ffa01f"/><path d="M277.1,405.9Q276.9,403.6 276.2,401.3" stroke="#3986b5"/><path d="M294.9,404.3Q297.5,402.2 299.4,399.5" stroke="#e7771c"/><path d="M273.8,407.8Q270.3,406.7 267.1,405.0" stroke="#ff8f1f"/><path d="M297.0,406.4Q299.7,403.2 302.8,400.3" stroke="#70c4a9"/><path d="M285.0,385.3Q286.1,380.8 286.2,376.1" stroke="#53c9f7"/><path d="M269.2,405.6Q267.2,405.1 265.2,404.6" stroke="#b91e1a"/><path d="M299.6,382.0Q301.0,378.6 298.8,375.7" stroke="#3779c2"/><path d="M281.5,410.4Q280.6,407.8 279.8,405.2" stroke="#56b9c9"/><path d="M286.9,382.6Q286.9,380.6 287.9,378.8" stroke="#50bff2"/><path d="M287.2,392.9Q287.2,390.6 287.1,388.4" stroke="#82bc72"/><path d="M294.7,407.6Q297.3,403.8 297.5,399.2" stroke="#a38240"/><path d="M287.3,393.5Q288.2,391.6 289.3,389.9" stroke="#7aceaa"/><path d="M307.4,394.9Q308.8,390.9 310.0,386.8" stroke="#8fb247"/><path d="M308.0,404.5Q308.5,402.2 309.4,400.0" stroke="#50c3ef"/><path d="M284.0,406.9Q284.3,402.6 286.0,398.6" stroke="#4bb3e5"/><path d="M282.5,386.1Q282.8,383.7 282.8,381.1" stroke="#46a2e0"/><path d="M269.8,401.0Q267.8,399.3 266.3,397.3" stroke="#e42520"/><path d="M297.5,398.7Q299.2,397.3 301.2,397.7" stroke="#7ec084"/><path d="M278.9,399.8Q278.2,396.1 276.3,392.9" stroke="#3477ac"/><path d="M271.8,389.7Q272.9,384.8 273.4,379.9" stroke="#49afdc"/><path d="M270.1,388.7Q269.9,384.9 271.4,381.4" stroke="#3c8ac5"/><path d="M314.4,390.4Q314.3,388.2 315.8,386.6" stroke="#4fbcdf"/><path d="M308.7,403.8Q311.5,403.1 313.9,401.6" stroke="#3573ba"/><path d="M256.9,384.2Q257.0,380.8 255.0,378.2" stroke="#49ade4"/><path d="M303.8,407.7Q305.5,404.9 306.8,401.8" stroke="#3a83c6"/><path d="M278.1,416.7Q274.3,414.5 271.7,410.8" stroke="#3f93c7"/><path d="M275.2,404.4Q272.4,400.2 269.7,396.0" stroke="#e1eb3b"/><path d="M281.0,409.3Q281.3,406.8 281.2,404.2" stroke="#50a8b2"/><path d="M267.7,421.1Q263.2,419.8 258.6,419.5" stroke="#2d3196"/><path d="M312.5,391.2Q315.0,389.3 317.0,386.8" stroke="#2a549b"/><path d="M276.8,386.7Q275.8,383.7 275.2,380.7" stroke="#3d90c3"/><path d="M287.9,387.3Q289.5,384.8 290.3,382.1" stroke="#3f94ca"/><path d="M276.3,398.1Q275.4,395.7 276.7,393.4" stroke="#85d59f"/><path d="M298.1,400.4Q299.8,399.0 301.4,397.6" stroke="#83c685"/><path d="M283.6,414.2Q283.4,410.2 283.0,406.2" stroke="#49aee4"/><path d="M290.7,416.3Q294.0,415.7 297.0,414.3" stroke="#3a85c0"/><path d="M286.9,420.0Q288.9,418.3 290.8,416.4" stroke="#62748e"/><path d="M285.4,406.9Q289.3,403.8 291.8,399.5" stroke="#d46f1a"/><path d="M288.1,386.9Q289.2,382.6 291.9,379.0" stroke="#3a88b6"/><path d="M281.3,383.3Q284.1,379.3 284.1,374.5" stroke="#3064b3"/><path d="M285.5,398.2Q286.3,395.4 286.5,392.6" stroke="#4cb7e1"/><path d="M287.8,383.2Q286.8,380.9 287.7,378.6" stroke="#49addf"/><path d="M272.5,415.8Q269.8,413.9 266.5,412.9" stroke="#56afb3"/><path d="M265.1,413.1Q261.0,412.7 256.9,412.9" stroke="#4dbade"/><path d="M252.5,408.4Q248.7,405.7 244.3,404.4" stroke="#3779c2"/><path d="M299.6,404.7Q302.3,404.3 302.8,401.7" stroke="#45a2d7"/><path d="M286.8,417.8Q289.3,415.2 292.0,412.7" stroke="#3882b3"/><path d="M281.5,417.2Q284.0,412.9 286.6,408.6" stroke="#3f8fd0"/><path d="M263.8,408.3Q262.9,405.3 261.0,402.8" stroke="#b15e4d"/><path d="M307.1,399.3Q309.7,396.1 313.5,394.3" stroke="#c0e655"/><path d="M299.9,409.4Q304.1,407.5 308.7,406.8" stroke="#4094d2"/><path d="M266.9,410.3Q265.6,408.0 265.0,405.5" stroke="#d6231f"/><path d="M272.6,390.1Q268.1,388.0 266.5,383.3" stroke="#5bada6"/><path d="M272.3,411.5Q270.0,409.8 267.6,408.2" stroke="#f28e1d"/><path d="M276.9,400.1Q277.9,397.9 278.3,395.5" stroke="#439fce"/><path d="M257.4,396.1Q255.4,392.9 254.5,389.2" stroke="#6aae88"/><path d="M277.5,412.7Q275.3,411.1 273.8,408.9" stroke="#47a8dc"/><path d="M255.8,405.7Q254.0,403.5 251.3,402.7" stroke="#2b589f"/><path d="M297.8,406.2Q299.6,401.6 300.8,396.8" stroke="#8fb046"/><path d="M272.1,388.0Q269.8,386.6 269.9,383.9" stroke="#3579ad"/><path d="M282.5,388.0Q283.6,385.3 281.6,383.2" stroke="#4093d2"/><path d="M267.3,385.4Q266.8,382.5 264.9,380.3" stroke="#4297d5"/><path d="M298.7,413.8Q301.4,413.6 302.6,411.2" stroke="#3d8fc1"/><path d="M289.0,401.6Q291.8,399.1 290.7,395.5" stroke="#ec3e1f"/><path d="M252.5,391.8Q250.3,388.7 249.1,385.0" stroke="#71ac74"/><path d="M276.1,397.7Q273.9,393.2 271.0,389.2" stroke="#59b3b6"/><path d="M287.7,409.1Q288.1,404.9 288.0,400.8" stroke="#78ae6c"/><path d="M280.2,397.4Q280.7,394.5 280.3,391.6" stroke="#63d5e8"/><path d="M271.3,399.2Q271.4,397.0 270.7,395.0" stroke="#e8851c"/><path d="M291.6,413.0Q295.1,411.7 296.4,408.2" stroke="#77caa7"/><path d="M283.3,394.3Q280.9,391.0 282.5,387.3" stroke="#c6e048"/><path d="M259.0,417.2Q257.2,418.4 255.1,418.2" stroke="#45a6d3"/><path d="M275.7,400.7Q273.5,400.0 272.1,398.1" stroke="#7fca95"/><path d="M284.8,388.2Q287.1,383.8 283.8,380.1" stroke="#46a1e2"/><path d="M299.6,410.3Q303.1,408.3 307.1,407.4" stroke="#377bb7"/><path d="M271.7,388.5Q270.4,384.9 269.0,381.3" stroke="#3a88b9"/><path d="M304.3,386.8Q306.0,385.5 307.7,384.3" stroke="#3e93c4"/><path d="M285.0,414.1Q284.9,409.9 283.8,405.7" stroke="#5eafa4"/><path d="M262.6,405.9Q261.1,402.0 257.2,400.4" stroke="#a57d6c"/><path d="M263.5,387.9Q262.2,386.0 260.6,384.3" stroke="#4bb8df"/><path d="M262.2,405.2Q258.0,402.5 253.3,401.1" stroke="#4ab2dd"/><path d="M299.4,411.0Q300.7,406.5 301.2,401.8" stroke="#51c3f5"/><path d="M267.5,399.6Q264.2,396.0 261.6,391.9" stroke="#a91b1e"/><path d="M295.4,403.7Q297.9,399.7 301.2,396.4" stroke="#ac8e4c"/><path d="M286.8,392.9Q289.2,388.6 292.9,385.5" stroke="#cfbf18"/><path d="M265.8,396.1Q263.7,393.5 260.4,392.7" stroke="#a2b93e"/><path d="M304.6,397.8Q307.6,396.4 310.5,394.6" stroke="#5ebfc5"/><path d="M275.1,407.1Q275.2,404.3 275.8,401.5" stroke="#70d8d3"/><path d="M303.4,384.0Q305.1,381.9 306.7,379.8" stroke="#397dc4"/><path d="M292.8,407.3Q296.7,408.0 300.3,406.3" stroke="#8ac674"/><path d="M281.1,420.1Q277.6,421.0 274.4,419.4" stroke="#304faa"/><path d="M254.3,404.8Q252.0,405.3 249.9,404.4" stroke="#55c5e6"/><path d="M293.2,384.7Q292.8,380.7 295.3,377.6" stroke="#3676ba"/><path d="M273.5,421.1Q271.4,418.5 268.5,416.7" stroke="#88d191"/><path d="M263.2,396.2Q261.8,393.5 260.6,390.8" stroke="#bf8846"/><path d="M264.0,415.9Q260.8,416.0 257.7,416.6" stroke="#2b5d9d"/><path d="M263.2,387.1Q261.3,385.1 261.4,382.2" stroke="#3982c0"/><path d="M270.5,411.4Q267.5,410.5 265.3,408.4" stroke="#a97d43"/><path d="M287.3,415.1Q290.3,412.2 294.3,411.0" stroke="#6fb994"/><path d="M304.3,410.0Q307.6,407.0 312.0,406.5" stroke="#3980c1"/><path d="M307.6,398.1Q307.2,394.8 309.6,392.5" stroke="#84b157"/><path d="M273.1,420.2Q269.7,418.9 266.2,418.1" stroke="#5abdcc"/><path d="M288.2,410.7Q292.9,409.2 297.6,407.5" stroke="#a6c144"/><path d="M290.7,384.1Q288.7,381.0 288.0,377.5" stroke="#3f8ed4"/><path d="M308.0,396.3Q312.1,395.4 316.1,394.1" stroke="#8bb753"/><path d="M291.9,378.8Q295.3,377.7 299.0,377.9" stroke="#377db4"/><path d="M260.0,398.5Q257.8,394.9 256.0,391.1" stroke="#67b9a6"/><path d="M297.7,402.2Q301.5,400.8 304.7,398.4" stroke="#429fc6"/><path d="M286.1,421.4Q288.7,421.4 291.2,421.0" stroke="#485568"/><path d="M294.2,416.2Q296.3,414.0 299.2,414.4" stroke="#4194d6"/><path d="M288.5,394.4Q291.3,390.3 292.0,385.4" stroke="#eded31"/><path d="M255.9,390.9Q253.0,389.8 251.1,387.3" stroke="#4fbfeb"/><path d="M297.8,402.8Q299.9,399.1 303.0,396.1" stroke="#50afc1"/><path d="M264.7,391.4Q263.8,389.4 263.4,387.3" stroke="#52c7f3"/><path d="M290.1,382.6Q292.4,378.9 293.4,374.6" stroke="#357bae"/><path d="M282.7,418.8Q283.9,416.9 285.5,415.4" stroke="#49ade6"/><path d="M271.9,387.1Q269.3,383.5 271.0,379.4" stroke="#4cb7e5"/><path d="M282.4,406.8Q282.7,402.9 283.6,399.2" stroke="#4fa5af"/><path d="M253.0,394.3Q249.4,392.6 246.0,390.7" stroke="#3060b3"/><path d="M310.7,391.9Q314.3,390.2 315.1,386.4" stroke="#68d6df"/><path d="M283.3,398.7Q284.9,394.5 283.1,390.4" stroke="#45a5c4"/><path d="M283.8,414.3Q281.7,410.9 279.7,407.5" stroke="#4bb2eb"/><path d="M289.8,420.1Q294.3,421.5 299.0,422.2" stroke="#3046a7"/><path d="M268.2,409.6Q265.7,406.9 264.6,403.4" stroke="#cd2d1c"/><path d="M258.3,414.9Q256.4,414.1 255.6,412.3" stroke="#316da7"/><path d="M279.5,403.7Q279.2,400.7 278.0,398.0" stroke="#3d91bc"/><path d="M261.8,413.4Q260.2,412.0 258.2,411.2" stroke="#47a3e4"/><path d="M273.7,401.6Q271.7,397.7 273.1,393.6" stroke="#daa445"/><path d="M303.1,394.9Q307.4,394.7 311.2,392.7" stroke="#63b6a7"/><path d="M306.5,413.8Q308.1,411.1 310.3,409.0" stroke="#4cb8e6"/><path d="M288.3,402.6Q288.7,398.7 287.1,395.1" stroke="#b08e3d"/><path d="M285.4,405.4Q285.6,402.1 286.4,398.8" stroke="#71d5ca"/><path d="M311.4,391.3Q313.8,391.0 315.5,389.3" stroke="#55b6c7"/><path d="M285.1,412.2Q289.5,410.6 290.5,406.2" stroke="#4ab3dc"/><path d="M287.6,418.9Q287.9,416.6 290.2,416.9" stroke="#4094d4"/><path d="M280.2,392.7Q277.1,390.9 277.1,387.4" stroke="#7cd3af"/><path d="M299.4,400.4Q300.8,398.7 303.0,399.1" stroke="#66b9a8"/><path d="M311.1,408.0Q311.4,406.0 313.3,405.3" stroke="#326bb7"/><path d="M265.9,390.8Q263.6,388.5 262.1,385.7" stroke="#86d59d"/><path d="M270.0,390.6Q268.6,386.0 268.8,381.3" stroke="#4bb7df"/><path d="M252.9,410.3Q250.0,409.9 247.4,411.2" stroke="#3e8dce"/><path d="M281.4,410.4Q281.9,407.0 279.1,405.0" stroke="#83b968"/><path d="M266.4,388.2Q265.3,383.4 264.8,378.6" stroke="#3f91cc"/><path d="M268.7,395.6Q271.7,393.3 270.5,389.7" stroke="#d4dc36"/><path d="M256.6,398.5Q255.3,395.6 253.4,393.1" stroke="#50c0ef"/><path d="M273.0,388.7Q269.5,385.8 266.1,382.8" stroke="#68d0d3"/><path d="M271.1,403.2Q269.2,402.0 268.6,399.8" stroke="#f0521f"/><path d="M287.1,407.2Q288.1,403.5 291.6,402.1" stroke="#ceea4e"/><path d="M295.5,418.3Q298.3,418.8 301.1,419.1" stroke="#46a7d3"/><path d="M266.3,399.8Q265.6,396.9 263.0,395.4" stroke="#b61e20"/><path d="M294.7,419.1Q298.3,418.5 301.8,417.5" stroke="#429eca"/><path d="M306.3,403.7Q308.6,402.3 310.5,400.5" stroke="#50c0f2"/><path d="M251.9,400.6Q250.0,399.7 248.5,398.2" stroke="#3267b9"/><path d="M254.5,385.2Q253.4,382.8 251.2,381.2" stroke="#3169b3"/><path d="M296.9,417.9Q301.0,416.5 303.9,413.2" stroke="#326bb6"/><path d="M314.3,401.6Q315.0,398.9 316.5,396.7" stroke="#2c5da5"/><path d="M286.5,409.6Q285.3,406.6 284.2,403.4" stroke="#67b297"/><path d="M312.0,394.0Q313.7,391.8 315.2,389.5" stroke="#6ab08d"/><path d="M281.8,404.1Q283.0,400.6 284.8,397.3" stroke="#53c9f7"/><path d="M293.1,416.3Q295.5,415.1 298.0,414.1" stroke="#3c8ebd"/><path d="M298.5,390.4Q301.7,386.8 301.8,382.0" stroke="#6ac3b3"/></g></g></g>

<filter id="bl4" x="-20%" y="-20%" width="140%" height="140%"><feGaussianBlur stdDeviation="0.9" result="b"/><feTurbulence type="fractalNoise" baseFrequency="0.12" numOctaves="2" seed="4" result="t"/><feDisplacementMap in="b" in2="t" scale="5" xChannelSelector="R" yChannelSelector="G"/></filter>
<clipPath id="c4"><path d="M383.30,373.29 C387.52,373.29 391.46,373.19 395.96,373.85 C400.46,374.50 406.37,375.25 410.31,377.22 C414.25,379.19 417.48,382.37 419.59,385.65 C421.70,388.93 422.83,393.14 422.97,396.89 C423.11,400.64 421.70,404.66 420.44,408.13 C419.17,411.60 417.90,414.87 415.37,417.68 C412.84,420.49 408.90,423.68 405.24,424.99 C401.59,426.30 396.80,426.02 393.43,425.55 C390.05,425.08 387.80,422.27 384.99,422.18 C382.17,422.09 379.92,424.43 376.55,424.99 C373.17,425.55 368.39,426.40 364.73,425.55 C361.07,424.71 357.56,422.55 354.60,419.93 C351.65,417.31 348.98,413.56 347.01,409.82 C345.04,406.07 342.93,401.48 342.79,397.45 C342.65,393.42 343.91,389.02 346.16,385.65 C348.41,382.28 352.21,379.19 356.29,377.22 C360.37,375.25 366.14,374.50 370.64,373.85 C375.14,373.19 379.08,373.29 383.30,373.29Z"/></clipPath>
<g filter="url(#rag)"><g clip-path="url(#c4)"><path d="M383.30,373.29 C387.52,373.29 391.46,373.19 395.96,373.85 C400.46,374.50 406.37,375.25 410.31,377.22 C414.25,379.19 417.48,382.37 419.59,385.65 C421.70,388.93 422.83,393.14 422.97,396.89 C423.11,400.64 421.70,404.66 420.44,408.13 C419.17,411.60 417.90,414.87 415.37,417.68 C412.84,420.49 408.90,423.68 405.24,424.99 C401.59,426.30 396.80,426.02 393.43,425.55 C390.05,425.08 387.80,422.27 384.99,422.18 C382.17,422.09 379.92,424.43 376.55,424.99 C373.17,425.55 368.39,426.40 364.73,425.55 C361.07,424.71 357.56,422.55 354.60,419.93 C351.65,417.31 348.98,413.56 347.01,409.82 C345.04,406.07 342.93,401.48 342.79,397.45 C342.65,393.42 343.91,389.02 346.16,385.65 C348.41,382.28 352.21,379.19 356.29,377.22 C360.37,375.25 366.14,374.50 370.64,373.85 C375.14,373.19 379.08,373.29 383.30,373.29Z" fill="#3a5ccb"/><g filter="url(#bl4)"><ellipse cx="366.42" cy="387.34" rx="13.50" ry="7.31" fill="#3450c0" fill-opacity="0.9" transform="rotate(0 366.42 387.34)"/><ellipse cx="401.87" cy="387.34" rx="12.66" ry="7.31" fill="#3450c0" fill-opacity="0.9" transform="rotate(0 401.87 387.34)"/><line x1="371.48" y1="374.97" x2="396.80" y2="374.97" stroke="#58c0e0" stroke-width="2.6" stroke-opacity="0.8" stroke-linecap="round"/><ellipse cx="383.30" cy="377.22" rx="3.80" ry="2.81" fill="#2a3aa0" fill-opacity="1" transform="rotate(0 383.30 377.22)"/><polygon points="372.33,380.03 394.27,380.03 384.99,388.46 381.61,388.46" fill="#e05a20" fill-opacity="1"/><polygon points="375.70,380.59 390.90,380.59 384.14,386.77 382.46,386.77" fill="#b01e10" fill-opacity="1"/><line x1="384.14" y1="388.46" x2="384.14" y2="424.99" stroke="#58b8e0" stroke-width="3.6" stroke-opacity="0.95" stroke-linecap="round"/><polygon points="351.23,395.20 359.67,394.08 376.55,412.06 373.17,418.81 366.42,416.56" fill="#e0c038" fill-opacity="0.85"/><polygon points="355.45,396.89 363.04,396.33 376.55,413.19 371.48,417.68" fill="#8c1408" fill-opacity="1"/><polygon points="415.37,395.20 406.93,394.08 390.05,412.06 393.43,418.81 400.18,416.56" fill="#e0c038" fill-opacity="0.85"/><polygon points="411.15,396.89 403.56,396.33 390.05,413.19 395.12,417.68" fill="#8c1408" fill-opacity="1"/><line x1="346.16" y1="405.32" x2="354.60" y2="419.37" stroke="#58c0e0" stroke-width="2.4" stroke-opacity="0.7" stroke-linecap="round"/><line x1="417.06" y1="385.65" x2="415.37" y2="405.32" stroke="#58c0e0" stroke-width="2.4" stroke-opacity="0.7" stroke-linecap="round"/><line x1="366.42" y1="419.93" x2="379.08" y2="423.30" stroke="#58b8d8" stroke-width="1.8" stroke-opacity="0.6" stroke-linecap="round"/><line x1="351.23" y1="388.46" x2="370.64" y2="392.96" stroke="#58b8d8" stroke-width="1.6" stroke-opacity="0.5" stroke-linecap="round"/><line x1="395.96" y1="392.96" x2="412.84" y2="388.46" stroke="#58b8d8" stroke-width="1.6" stroke-opacity="0.5" stroke-linecap="round"/><line x1="384.14" y1="405.32" x2="384.14" y2="424.99" stroke="#58b8e0" stroke-width="6" stroke-opacity="0.7" stroke-linecap="round"/><path d="M383.30,373.29 C387.52,373.29 391.46,373.19 395.96,373.85 C400.46,374.50 406.37,375.25 410.31,377.22 C414.25,379.19 417.48,382.37 419.59,385.65 C421.70,388.93 422.83,393.14 422.97,396.89 C423.11,400.64 421.70,404.66 420.44,408.13 C419.17,411.60 417.90,414.87 415.37,417.68 C412.84,420.49 408.90,423.68 405.24,424.99 C401.59,426.30 396.80,426.02 393.43,425.55 C390.05,425.08 387.80,422.27 384.99,422.18 C382.17,422.09 379.92,424.43 376.55,424.99 C373.17,425.55 368.39,426.40 364.73,425.55 C361.07,424.71 357.56,422.55 354.60,419.93 C351.65,417.31 348.98,413.56 347.01,409.82 C345.04,406.07 342.93,401.48 342.79,397.45 C342.65,393.42 343.91,389.02 346.16,385.65 C348.41,382.28 352.21,379.19 356.29,377.22 C360.37,375.25 366.14,374.50 370.64,373.85 C375.14,373.19 379.08,373.29 383.30,373.29Z" fill="none" stroke="#5cc0e4" stroke-width="4" stroke-opacity="0.55"/></g><g fill="none" stroke-width="0.9" stroke-opacity="0.5" stroke-linecap="round"><path d="M370.3,416.7Q367.7,414.9 365.6,412.5" stroke="#b49155"/><path d="M372.5,408.5Q370.5,405.0 369.1,401.1" stroke="#644170"/><path d="M401.0,398.9Q401.9,396.4 402.9,393.9" stroke="#2f64ac"/><path d="M389.0,416.4Q391.0,413.1 394.1,410.5" stroke="#53466e"/><path d="M415.1,402.7Q416.0,399.5 417.7,396.7" stroke="#3780b1"/><path d="M373.7,417.8Q372.6,415.4 371.4,413.1" stroke="#784c3e"/><path d="M371.5,424.8Q369.5,425.3 367.9,424.1" stroke="#3040a6"/><path d="M378.3,407.8Q379.4,403.5 377.7,399.4" stroke="#3159b0"/><path d="M375.7,398.7Q375.5,393.7 374.0,389.0" stroke="#3270ae"/><path d="M403.9,414.6Q407.1,411.3 409.2,407.2" stroke="#3c8dbe"/><path d="M382.8,383.0Q379.4,379.3 381.5,374.8" stroke="#6e3c6b"/><path d="M373.3,399.8Q371.5,396.3 370.2,392.5" stroke="#3474b3"/><path d="M400.1,413.4Q403.9,411.8 406.5,408.6" stroke="#4cb7e9"/><path d="M406.3,409.3Q409.1,406.8 412.7,408.2" stroke="#3058af"/><path d="M356.8,383.8Q354.5,381.8 353.5,378.9" stroke="#367cb1"/><path d="M390.5,408.4Q393.4,406.4 393.8,402.8" stroke="#2f61b0"/><path d="M379.8,423.0Q383.4,420.4 385.7,416.6" stroke="#3f96c3"/><path d="M357.0,411.6Q352.2,410.7 347.9,408.3" stroke="#3573bb"/><path d="M392.7,422.8Q396.5,424.9 400.9,424.8" stroke="#273989"/><path d="M373.1,400.6Q369.6,397.9 369.8,393.5" stroke="#2c4e9e"/><path d="M356.9,388.1Q356.6,385.8 356.1,383.5" stroke="#27468d"/><path d="M349.3,401.5Q346.6,398.0 343.0,395.3" stroke="#3068aa"/><path d="M364.2,412.7Q361.9,411.9 359.6,411.0" stroke="#838686"/><path d="M359.8,418.4Q357.9,417.3 355.7,416.9" stroke="#294391"/><path d="M375.9,416.6Q373.7,415.3 372.6,413.1" stroke="#72555d"/><path d="M382.7,375.9Q383.7,373.9 384.0,371.7" stroke="#3882b2"/><path d="M398.3,385.9Q400.7,383.3 402.0,380.0" stroke="#2f5faf"/><path d="M376.0,412.8Q371.7,410.6 367.0,409.4" stroke="#a81b21"/><path d="M407.1,398.9Q406.6,395.9 407.5,393.0" stroke="#9e6b37"/><path d="M367.4,379.1Q366.3,375.7 365.0,372.3" stroke="#459fde"/><path d="M364.5,403.8Q365.8,399.2 366.6,394.6" stroke="#2a3b90"/><path d="M406.8,399.4Q408.8,395.4 410.6,391.3" stroke="#be954b"/><path d="M366.0,387.0Q367.2,383.1 367.0,379.0" stroke="#316aad"/><path d="M406.0,401.2Q408.2,399.8 410.3,398.5" stroke="#a66f35"/><path d="M360.7,396.5Q360.6,392.1 358.5,388.1" stroke="#284f94"/><path d="M356.0,402.4Q352.6,400.0 350.1,396.6" stroke="#3779be"/><path d="M363.3,391.8Q361.8,390.2 359.7,389.5" stroke="#3881b6"/><path d="M353.6,393.3Q353.1,389.8 350.3,387.8" stroke="#3256b4"/><path d="M408.2,392.8Q410.0,390.9 412.2,389.5" stroke="#387dbf"/><path d="M350.2,387.0Q346.5,385.6 342.6,385.3" stroke="#48ace0"/><path d="M386.4,404.7Q386.5,402.4 386.4,400.1" stroke="#4bb2eb"/><path d="M407.3,381.3Q408.6,379.7 409.7,378.0" stroke="#3d89d0"/><path d="M372.2,416.5Q370.4,420.6 365.9,420.0" stroke="#45a6d4"/><path d="M420.5,398.7Q421.9,396.8 424.1,396.0" stroke="#2b509e"/><path d="M384.8,377.2Q382.9,375.2 380.3,374.3" stroke="#3369bf"/><path d="M379.8,422.0Q377.1,422.6 374.4,423.3" stroke="#316bae"/><path d="M377.0,422.5Q375.6,424.0 373.7,423.3" stroke="#2f5eae"/><path d="M362.1,413.9Q357.4,413.6 352.8,413.0" stroke="#295197"/><path d="M397.3,403.0Q395.0,399.0 396.2,394.6" stroke="#2f5ead"/><path d="M414.0,400.2Q416.6,396.1 418.8,391.9" stroke="#3a82c4"/><path d="M378.4,391.0Q378.3,388.7 378.1,386.5" stroke="#3e8cd0"/><path d="M391.8,420.4Q393.1,418.9 395.1,418.7" stroke="#6b739c"/><path d="M383.7,379.0Q383.7,376.9 383.7,374.9" stroke="#305aaf"/><path d="M370.4,383.4Q370.4,381.0 370.5,378.7" stroke="#336eba"/><path d="M381.6,402.3Q380.3,400.8 381.0,398.8" stroke="#274e90"/><path d="M390.8,396.8Q392.6,394.3 394.0,391.6" stroke="#2a5b99"/><path d="M395.3,422.9Q398.5,422.5 401.5,421.3" stroke="#326cb2"/><path d="M373.4,405.4Q371.2,401.8 370.2,397.8" stroke="#294995"/><path d="M386.4,389.4Q386.3,386.9 385.2,384.5" stroke="#795d8f"/><path d="M379.1,423.5Q375.3,423.8 371.4,423.7" stroke="#2c5d9e"/><path d="M412.2,384.0Q415.4,382.8 417.0,379.8" stroke="#4197ce"/><path d="M384.8,408.7Q383.2,406.2 383.2,403.3" stroke="#50bef4"/><path d="M417.1,394.0Q417.6,390.5 420.6,388.5" stroke="#46a7db"/><path d="M365.1,423.3Q363.1,423.0 361.1,423.3" stroke="#4197d2"/><path d="M358.7,397.3Q359.9,394.3 358.6,391.3" stroke="#887a7e"/><path d="M389.7,391.4Q391.9,387.3 395.0,383.7" stroke="#387bc1"/><path d="M376.1,391.8Q377.0,389.7 377.7,387.6" stroke="#2f4ea7"/><path d="M375.1,384.0Q373.1,380.8 370.4,378.2" stroke="#6b54ad"/><path d="M354.0,395.9Q349.2,395.2 345.0,392.5" stroke="#316ab2"/><path d="M419.0,401.0Q420.6,399.2 422.9,398.4" stroke="#27478e"/><path d="M359.7,411.3Q355.8,410.9 352.1,409.5" stroke="#2d62a1"/><path d="M387.6,409.4Q387.4,406.2 387.5,403.1" stroke="#3577b0"/><path d="M377.2,414.8Q377.4,412.4 377.4,410.0" stroke="#2b4a9a"/><path d="M390.1,381.4Q390.7,377.2 393.5,374.0" stroke="#3b81cb"/><path d="M371.0,407.6Q369.0,405.4 366.5,403.9" stroke="#b51d20"/><path d="M398.6,423.7Q402.2,423.4 405.7,424.3" stroke="#2f5dac"/><path d="M392.2,417.4Q390.8,412.8 390.7,408.0" stroke="#69598c"/><path d="M346.1,403.5Q346.3,401.2 345.0,399.4" stroke="#387ac6"/><path d="M380.5,406.7Q379.2,403.9 379.2,400.8" stroke="#3a7ecb"/><path d="M378.8,400.2Q380.8,397.1 380.2,393.5" stroke="#3f91cc"/><path d="M367.9,416.9Q365.2,416.3 362.6,415.3" stroke="#3475b0"/><path d="M415.5,404.5Q416.0,402.4 417.6,401.0" stroke="#48ace0"/><path d="M366.2,410.6Q362.6,409.0 358.8,409.8" stroke="#b5994b"/><path d="M382.9,392.5Q383.2,389.7 383.9,387.0" stroke="#4ebdeb"/><path d="M362.1,413.8Q359.2,413.8 356.5,412.9" stroke="#295898"/><path d="M419.0,402.6Q421.2,402.2 423.4,401.5" stroke="#2f64aa"/><path d="M363.1,382.6Q362.7,380.6 361.1,379.2" stroke="#295399"/><path d="M383.8,422.6Q381.5,421.0 378.7,420.5" stroke="#3d8ccc"/><path d="M388.6,399.4Q388.7,396.9 388.5,394.3" stroke="#3372b1"/><path d="M356.0,385.3Q355.6,380.5 355.3,375.8" stroke="#3a86bd"/><path d="M384.5,393.9Q384.5,390.3 386.4,387.2" stroke="#46a9d4"/><path d="M384.9,422.7Q385.9,420.7 387.7,419.4" stroke="#3b82cb"/><path d="M387.1,411.5Q388.0,406.8 387.7,402.0" stroke="#3a82c5"/><path d="M411.1,413.6Q413.6,412.7 415.9,411.2" stroke="#3b86c3"/><path d="M410.2,385.8Q413.3,382.5 417.7,381.5" stroke="#2e5aa9"/><path d="M382.4,417.9Q378.4,416.8 374.6,415.3" stroke="#316aab"/><path d="M392.1,383.3Q390.3,380.0 389.6,376.3" stroke="#564d87"/><path d="M413.6,415.2Q416.2,414.9 418.8,414.4" stroke="#295499"/><path d="M366.3,417.6Q363.1,417.6 360.0,417.2" stroke="#3c8dba"/><path d="M397.6,416.6Q399.9,415.9 401.6,414.1" stroke="#616f98"/><path d="M350.6,389.1Q350.9,386.8 349.3,385.0" stroke="#3271a9"/><path d="M407.4,412.5Q411.6,410.5 416.1,411.7" stroke="#295095"/><path d="M379.1,419.5Q377.9,415.9 378.6,412.2" stroke="#3a86bf"/><path d="M357.5,410.6Q353.6,407.7 350.2,404.3" stroke="#2a599b"/><path d="M365.8,409.6Q361.6,408.1 357.3,406.9" stroke="#a2c64d"/><path d="M371.3,391.3Q371.3,388.9 372.0,386.7" stroke="#275092"/><path d="M384.6,423.5Q379.8,423.1 375.3,421.1" stroke="#2b2f90"/><path d="M409.4,386.0Q410.8,382.6 412.9,379.7" stroke="#2c4fa0"/><path d="M372.6,389.0Q375.7,386.1 376.4,381.9" stroke="#2e62aa"/><path d="M360.5,400.9Q356.6,399.8 352.6,398.8" stroke="#a98340"/><path d="M367.9,391.5Q365.6,388.3 364.3,384.6" stroke="#387ac7"/><path d="M363.2,394.4Q358.9,393.1 355.2,390.8" stroke="#7f7a84"/><path d="M384.2,382.6Q383.2,380.1 383.7,377.6" stroke="#78326e"/><path d="M362.3,415.7Q358.7,413.2 354.9,411.0" stroke="#3776c5"/><path d="M394.4,385.0Q392.9,383.2 392.5,381.0" stroke="#2d439e"/><path d="M352.2,394.1Q350.2,391.6 347.1,390.9" stroke="#2e63a3"/><path d="M382.7,420.6Q383.5,416.7 384.3,412.8" stroke="#2d649f"/><path d="M385.5,420.5Q389.0,418.7 392.4,416.5" stroke="#3265ba"/><path d="M386.7,397.8Q387.8,395.8 389.3,394.3" stroke="#3571c2"/><path d="M365.7,416.5Q363.4,418.2 360.6,418.9" stroke="#3069ad"/><path d="M357.3,412.8Q354.0,410.3 350.6,408.2" stroke="#3776c8"/><path d="M387.5,408.0Q386.6,405.0 387.5,402.0" stroke="#3d89d3"/><path d="M386.9,404.5Q388.0,401.4 390.5,399.1" stroke="#3982be"/><path d="M356.6,399.2Q353.4,396.9 352.7,393.0" stroke="#a3c951"/><path d="M347.0,400.3Q344.3,396.3 342.1,392.1" stroke="#43a0cd"/><path d="M379.2,417.6Q378.9,412.8 378.4,408.0" stroke="#2b5b9c"/><path d="M369.6,395.3Q368.6,393.3 369.0,391.1" stroke="#335fb9"/><path d="M406.0,408.4Q408.3,407.9 409.6,406.0" stroke="#2f61ae"/><path d="M388.9,388.0Q387.1,383.4 386.4,378.5" stroke="#ab1c20"/><path d="M376.3,394.1Q374.6,391.6 373.3,388.8" stroke="#285597"/><path d="M399.3,422.6Q403.9,423.3 408.3,421.4" stroke="#449dd9"/><path d="M357.5,392.3Q355.6,388.7 352.5,386.1" stroke="#27408a"/><path d="M416.5,397.4Q420.0,398.2 423.4,397.4" stroke="#2f67a7"/><path d="M391.5,392.5Q391.6,390.2 392.9,388.2" stroke="#2c5ca5"/><path d="M400.7,382.9Q401.9,381.3 403.3,379.8" stroke="#3779bd"/><path d="M396.1,403.7Q399.2,400.0 401.3,395.7" stroke="#2e5baa"/><path d="M399.1,414.8Q402.2,414.5 405.4,414.3" stroke="#2c4b9f"/><path d="M393.3,395.9Q395.2,394.2 395.8,391.8" stroke="#326ead"/><path d="M375.9,415.4Q371.8,413.5 367.3,413.0" stroke="#9c191e"/><path d="M380.2,413.9Q378.1,413.8 376.2,412.9" stroke="#3e90ca"/><path d="M381.7,408.3Q382.5,404.6 381.4,400.9" stroke="#3474b1"/><path d="M353.5,396.3Q348.6,396.2 343.7,395.8" stroke="#3c88c4"/><path d="M411.6,400.5Q416.2,400.2 420.3,398.1" stroke="#377ac2"/><path d="M363.9,382.6Q364.0,379.9 364.3,377.2" stroke="#2e5ba9"/><path d="M385.4,398.7Q387.9,397.2 388.0,394.2" stroke="#316aaf"/><path d="M376.4,425.0Q374.2,424.0 371.9,424.5" stroke="#295298"/><path d="M390.3,417.6Q392.6,417.2 393.1,415.0" stroke="#786151"/><path d="M363.5,412.3Q360.9,410.3 357.9,408.8" stroke="#928e7a"/><path d="M367.8,391.9Q368.7,389.1 369.0,386.1" stroke="#3166b7"/><path d="M409.0,384.9Q408.9,381.5 411.5,379.3" stroke="#336bbe"/><path d="M351.2,401.0Q350.0,398.8 347.6,398.0" stroke="#3879c9"/><path d="M406.8,394.5Q410.9,393.2 414.1,390.5" stroke="#626c90"/><path d="M389.0,379.7Q391.0,376.5 389.8,372.9" stroke="#46a6d9"/><path d="M390.5,415.1Q391.2,410.8 394.0,407.6" stroke="#57527a"/><path d="M361.7,413.1Q357.7,410.4 352.8,410.8" stroke="#2a579c"/><path d="M387.5,416.4Q386.3,412.5 389.1,409.5" stroke="#3c8eba"/><path d="M400.6,417.5Q405.2,417.0 409.5,415.1" stroke="#367caf"/><path d="M389.6,422.7Q392.6,424.4 396.1,423.8" stroke="#2f66a7"/><path d="M350.2,405.4Q347.8,403.9 345.0,404.5" stroke="#2d5fa4"/><path d="M355.1,384.7Q351.3,381.7 346.9,379.8" stroke="#449cdd"/><path d="M377.8,411.4Q373.0,410.6 369.1,407.8" stroke="#a21a1f"/><path d="M396.8,411.0Q397.4,408.6 398.6,406.5" stroke="#b31d1c"/><path d="M399.9,408.3Q404.2,406.3 408.8,405.1" stroke="#c2a354"/><path d="M403.9,423.5Q407.5,421.3 411.7,421.4" stroke="#3984b9"/><path d="M412.4,402.0Q416.5,401.4 420.4,400.0" stroke="#3369be"/><path d="M390.0,413.5Q391.0,410.4 392.2,407.5" stroke="#2e65a5"/><path d="M406.6,417.6Q409.9,417.2 412.9,418.7" stroke="#294d95"/><path d="M365.9,398.8Q365.0,396.8 363.0,395.9" stroke="#294092"/><path d="M370.1,405.6Q369.2,401.0 367.2,396.9" stroke="#2b569f"/><path d="M360.4,387.5Q359.0,383.7 356.3,380.7" stroke="#3265b9"/><path d="M360.5,405.6Q358.7,401.1 356.1,397.0" stroke="#b77635"/><path d="M398.2,409.1Q402.2,407.3 406.4,406.1" stroke="#ac833b"/><path d="M390.4,392.3Q390.7,388.5 391.8,384.9" stroke="#2f66a9"/><path d="M380.8,420.1Q376.8,417.8 374.2,413.9" stroke="#316bad"/><path d="M371.2,394.6Q372.3,390.3 370.0,386.6" stroke="#2d5ca8"/><path d="M370.7,382.6Q368.8,381.4 368.4,379.2" stroke="#294090"/><path d="M408.6,401.3Q410.6,400.7 412.4,399.9" stroke="#4db8ec"/><path d="M411.0,410.6Q415.7,409.7 420.3,408.3" stroke="#3475b0"/><path d="M405.5,400.7Q409.3,398.0 412.0,394.3" stroke="#966f39"/><path d="M356.3,413.7Q352.7,411.1 348.3,410.5" stroke="#3066b2"/><path d="M382.8,416.7Q385.1,412.3 386.2,407.5" stroke="#47a5e3"/><path d="M367.8,406.3Q366.3,402.8 363.8,400.0" stroke="#8e171b"/><path d="M402.0,408.3Q402.9,403.7 406.3,400.5" stroke="#9f1a1f"/><path d="M360.1,419.5Q357.1,420.9 353.9,421.6" stroke="#284e93"/><path d="M383.2,392.7Q382.3,390.6 382.0,388.3" stroke="#2c609c"/><path d="M416.3,409.2Q418.0,407.3 420.3,406.4" stroke="#3a81c5"/><path d="M387.1,411.2Q388.6,407.0 390.3,402.9" stroke="#3d90c4"/><path d="M383.2,406.0Q385.6,402.7 388.6,399.9" stroke="#4ebde6"/><path d="M397.8,405.1Q398.9,402.3 400.9,399.9" stroke="#5a3969"/><path d="M401.9,419.4Q404.4,415.7 407.6,412.6" stroke="#3066b0"/><path d="M364.0,419.4Q360.2,421.9 356.4,424.3" stroke="#3a84c3"/><path d="M382.6,408.2Q381.9,405.0 382.6,401.8" stroke="#3780b0"/><path d="M350.6,388.3Q349.8,386.4 348.6,384.7" stroke="#3676c1"/><path d="M393.9,416.5Q398.2,414.7 402.7,416.2" stroke="#947c4a"/><path d="M395.5,401.8Q396.2,398.8 396.9,395.8" stroke="#2e5aa9"/><path d="M392.9,390.0Q393.5,387.5 394.4,385.0" stroke="#326fad"/><path d="M406.9,415.2Q410.0,415.0 412.0,412.8" stroke="#2b58a0"/><path d="M370.6,398.8Q370.2,395.4 368.6,392.3" stroke="#3675c1"/><path d="M348.8,388.0Q347.7,384.9 347.3,381.6" stroke="#377fb2"/><path d="M416.2,412.9Q418.2,408.9 422.5,407.4" stroke="#377abc"/><path d="M395.0,404.1Q395.8,402.0 397.5,400.4" stroke="#315fb5"/><path d="M375.9,420.7Q373.0,421.2 370.7,419.3" stroke="#3f91ce"/><path d="M407.5,409.8Q410.5,407.4 413.8,405.7" stroke="#284490"/><path d="M377.3,390.5Q377.9,386.9 377.8,383.2" stroke="#704f94"/><path d="M387.5,390.1Q386.3,385.9 386.2,381.5" stroke="#a5617d"/><path d="M392.9,416.8Q391.7,413.3 391.6,409.7" stroke="#814850"/><path d="M365.0,377.8Q365.6,375.1 364.2,372.8" stroke="#2c619d"/><path d="M373.2,393.5Q372.5,390.7 371.8,387.9" stroke="#27448c"/><path d="M365.1,381.8Q363.7,379.1 361.0,377.5" stroke="#367cb5"/><path d="M397.3,397.5Q400.7,396.7 403.7,394.7" stroke="#284d91"/><path d="M417.2,404.2Q418.5,401.7 419.0,398.9" stroke="#2b5c9a"/><path d="M409.8,408.6Q414.1,408.7 417.3,411.6" stroke="#285293"/><path d="M379.6,388.5Q379.5,385.5 378.2,382.8" stroke="#bd565b"/><path d="M405.1,382.6Q405.0,379.7 406.0,376.9" stroke="#346fc1"/><path d="M409.9,399.7Q411.4,397.5 412.9,395.4" stroke="#91866b"/><path d="M396.9,405.6Q396.6,401.0 398.6,396.8" stroke="#3471bd"/><path d="M371.4,392.7Q372.2,389.3 374.0,386.3" stroke="#3472b9"/><path d="M396.6,412.6Q401.5,412.9 406.4,412.3" stroke="#727fa2"/><path d="M355.4,405.6Q353.4,402.0 349.8,399.8" stroke="#295299"/><path d="M391.0,393.7Q392.3,389.5 395.3,386.3" stroke="#397dc5"/><path d="M382.2,421.2Q377.9,421.4 373.5,421.1" stroke="#2c5ca4"/><path d="M375.8,387.4Q373.9,384.6 373.4,381.3" stroke="#2c3795"/><path d="M372.0,397.0Q371.6,394.3 370.6,391.7" stroke="#3156b2"/><path d="M358.9,395.7Q355.7,392.0 353.3,387.6" stroke="#2e51a6"/><path d="M382.3,403.8Q381.8,401.7 381.2,399.7" stroke="#49ade3"/><path d="M398.2,383.2Q400.4,381.7 402.5,380.0" stroke="#3163b5"/><path d="M416.1,406.7Q418.9,404.0 422.6,402.6" stroke="#377abd"/><path d="M375.2,403.2Q371.6,402.4 368.0,401.6" stroke="#3068ac"/><path d="M370.7,407.8Q369.7,403.5 367.3,399.8" stroke="#2c3496"/><path d="M373.5,421.0Q368.9,421.9 364.4,420.6" stroke="#2c5ba3"/><path d="M379.2,421.9Q376.0,420.1 372.4,419.1" stroke="#295697"/><path d="M406.1,389.4Q407.8,387.3 408.4,384.7" stroke="#377abd"/><path d="M352.7,401.1Q350.1,399.4 348.1,397.1" stroke="#47a8da"/><path d="M356.2,383.4Q353.8,382.3 351.6,380.6" stroke="#3474b2"/><path d="M363.8,404.3Q360.8,402.8 359.2,399.9" stroke="#995b24"/><path d="M409.7,402.7Q411.1,399.7 413.7,397.6" stroke="#377eb6"/><path d="M365.7,390.9Q363.9,389.0 362.1,387.0" stroke="#2e63a1"/><path d="M399.7,383.0Q401.5,379.4 402.1,375.4" stroke="#294091"/><path d="M376.6,395.7Q377.5,392.2 378.5,388.8" stroke="#377db3"/><path d="M350.0,391.3Q347.5,388.2 343.8,386.7" stroke="#367ab6"/><path d="M387.9,378.9Q386.7,375.3 386.6,371.4" stroke="#3d90bb"/><path d="M361.8,390.6Q359.4,387.8 358.2,384.4" stroke="#2a5199"/><path d="M363.9,416.5Q361.4,414.9 359.1,413.0" stroke="#2b5b9d"/><path d="M401.9,402.3Q405.0,400.7 407.8,398.6" stroke="#88161a"/><path d="M352.6,404.5Q349.0,402.6 346.2,399.6" stroke="#4ab1e5"/><path d="M356.9,384.6Q353.8,385.2 350.8,384.2" stroke="#3371b3"/><path d="M391.7,406.3Q393.2,404.3 393.3,401.8" stroke="#60d2e9"/><path d="M360.9,394.9Q358.4,392.2 355.6,389.8" stroke="#315db3"/><path d="M386.2,424.5Q391.2,424.1 395.4,421.5" stroke="#273788"/><path d="M363.9,381.9Q363.5,379.4 364.7,377.3" stroke="#3374ac"/><path d="M366.1,398.8Q365.8,394.0 365.3,389.2" stroke="#2b5e9c"/><path d="M359.7,407.2Q358.0,406.1 356.3,404.9" stroke="#284e94"/><path d="M399.2,417.0Q401.4,415.3 403.7,413.6" stroke="#657398"/><path d="M371.3,418.7Q368.7,419.4 366.1,419.1" stroke="#367cb0"/><path d="M357.6,390.7Q355.7,386.5 351.3,384.9" stroke="#336bbb"/><path d="M371.4,403.9Q368.7,400.8 368.5,396.7" stroke="#294994"/><path d="M346.9,402.4Q344.8,402.7 343.6,401.0" stroke="#3f97c2"/><path d="M379.2,417.7Q378.1,415.0 376.9,412.4" stroke="#3a7ecc"/><path d="M406.1,410.7Q410.2,408.1 411.0,403.3" stroke="#2e61ad"/><path d="M383.0,381.5Q384.4,378.5 386.0,375.5" stroke="#3150af"/><path d="M382.6,423.9Q384.1,422.5 385.7,421.1" stroke="#2d3f9c"/><path d="M415.6,395.7Q418.0,393.5 420.4,391.2" stroke="#4090d8"/><path d="M359.9,394.1Q359.2,391.2 357.1,388.9" stroke="#459fe0"/><path d="M385.8,389.5Q386.3,387.1 386.5,384.7" stroke="#7e6296"/><path d="M394.6,418.7Q396.4,420.3 398.8,419.9" stroke="#3577b6"/><path d="M401.1,402.0Q400.9,400.0 400.8,397.9" stroke="#663461"/><path d="M378.6,389.5Q376.1,387.7 376.8,384.7" stroke="#346fc0"/><path d="M371.0,393.9Q368.2,389.8 368.2,384.8" stroke="#2a569a"/><path d="M386.4,397.0Q385.8,393.7 384.8,390.5" stroke="#336bbb"/><path d="M361.2,408.1Q357.4,407.2 354.3,404.9" stroke="#2d53a4"/><path d="M393.4,382.9Q392.5,379.1 389.8,376.2" stroke="#2e64a0"/><path d="M396.0,397.1Q398.3,394.4 400.0,391.3" stroke="#2c5ba3"/><path d="M400.3,410.4Q405.1,411.2 409.9,410.2" stroke="#3779c4"/><path d="M381.2,392.6Q382.3,390.0 382.8,387.1" stroke="#3d8ec2"/><path d="M400.3,384.6Q401.3,382.7 402.2,380.9" stroke="#2c489c"/><path d="M395.4,390.6Q395.6,385.8 396.3,381.1" stroke="#3051ab"/><path d="M347.9,398.5Q344.4,395.1 344.5,390.2" stroke="#285395"/><path d="M356.0,411.8Q354.1,410.6 352.1,409.6" stroke="#3673c1"/><path d="M400.2,391.8Q399.1,389.0 400.8,386.6" stroke="#2d60a0"/><path d="M406.1,402.0Q409.6,400.0 412.3,396.8" stroke="#949491"/><path d="M388.6,384.8Q386.3,380.4 386.7,375.5" stroke="#744da4"/><path d="M381.3,414.9Q379.9,410.5 380.3,405.8" stroke="#3b87c2"/><path d="M381.4,411.2Q382.9,408.1 383.4,404.7" stroke="#3579b1"/><path d="M378.5,409.3Q378.6,407.2 377.4,405.5" stroke="#284b92"/><path d="M361.6,399.6Q360.2,397.4 358.4,395.5" stroke="#98191d"/><path d="M379.9,383.6Q379.1,381.7 380.5,380.1" stroke="#dc241e"/><path d="M375.8,388.1Q376.2,384.2 374.6,380.7" stroke="#93579c"/><path d="M392.2,385.6Q392.1,382.9 391.8,380.3" stroke="#27428b"/><path d="M383.7,382.9Q384.9,378.2 384.5,373.5" stroke="#292d8a"/><path d="M377.4,408.8Q376.2,404.3 373.9,400.3" stroke="#4bb3e9"/><path d="M371.2,395.0Q370.5,391.2 371.2,387.3" stroke="#4194d3"/><path d="M396.1,386.9Q397.3,385.0 397.4,382.7" stroke="#3063b1"/><path d="M387.8,396.9Q388.1,394.3 389.3,391.9" stroke="#3677c0"/><path d="M370.5,418.1Q368.1,414.6 365.4,411.3" stroke="#b59256"/><path d="M378.2,390.6Q377.0,387.7 378.8,385.0" stroke="#336abd"/><path d="M411.6,398.3Q413.8,395.3 416.2,392.4" stroke="#879199"/><path d="M359.0,407.3Q355.1,406.9 351.3,405.8" stroke="#326cb3"/><path d="M386.3,389.6Q385.6,385.8 383.8,382.3" stroke="#875066"/><path d="M396.6,409.5Q400.6,407.2 402.7,403.1" stroke="#986227"/><path d="M360.1,420.1Q357.7,419.8 355.2,420.0" stroke="#326db1"/><path d="M391.0,424.0Q393.8,425.0 396.7,425.4" stroke="#2d3899"/><path d="M403.4,423.4Q405.9,423.2 408.3,423.5" stroke="#3368be"/><path d="M389.9,403.2Q388.7,399.7 388.9,395.9" stroke="#326abb"/><path d="M397.2,423.4Q399.6,422.4 401.5,420.7" stroke="#2c5ca0"/><path d="M379.6,386.2Q378.4,384.5 378.2,382.5" stroke="#b15981"/><path d="M358.8,406.4Q355.7,405.1 353.4,402.7" stroke="#3069aa"/><path d="M369.9,380.0Q369.4,376.5 367.9,373.4" stroke="#2e58a8"/><path d="M390.2,418.1Q390.8,416.1 391.3,414.1" stroke="#6c6788"/><path d="M371.9,386.5Q374.9,383.7 373.3,379.9" stroke="#7257b4"/><path d="M367.0,417.2Q364.0,415.2 360.9,413.6" stroke="#687185"/><path d="M388.3,378.0Q387.8,374.0 386.0,370.4" stroke="#419ace"/><path d="M384.7,424.5Q382.2,423.0 379.7,421.8" stroke="#142a36"/><path d="M409.2,409.4Q413.1,408.0 416.6,405.7" stroke="#3366bc"/><path d="M390.8,400.4Q393.7,399.1 393.1,395.9" stroke="#293c8f"/><path d="M390.3,385.7Q393.7,383.2 394.6,379.1" stroke="#326db5"/><path d="M399.8,388.3Q399.9,384.5 402.4,381.7" stroke="#2c51a1"/></g></g></g>

<filter id="bl5" x="-20%" y="-20%" width="140%" height="140%"><feGaussianBlur stdDeviation="0.9" result="b"/><feTurbulence type="fractalNoise" baseFrequency="0.12" numOctaves="2" seed="5" result="t"/><feDisplacementMap in="b" in2="t" scale="5" xChannelSelector="R" yChannelSelector="G"/></filter>
<clipPath id="c5"><path d="M487.60,375.24 C489.94,375.24 492.27,373.48 494.61,373.02 C496.94,372.56 498.70,372.19 501.62,372.47 C504.54,372.74 508.62,373.48 512.13,374.69 C515.63,375.89 519.87,377.09 522.64,379.68 C525.41,382.27 527.75,386.16 528.77,390.23 C529.79,394.30 529.79,399.75 528.77,404.10 C527.75,408.45 524.83,413.54 522.64,416.31 C520.45,419.08 518.55,419.64 515.63,420.75 C512.71,421.86 508.33,422.79 505.12,422.97 C501.91,423.16 499.28,421.77 496.36,421.86 C493.44,421.95 491.10,423.52 487.60,423.52 C484.10,423.52 479.42,422.51 475.34,421.86 C471.25,421.21 466.87,420.75 463.07,419.64 C459.28,418.53 455.33,417.79 452.56,415.20 C449.79,412.61 447.60,408.17 446.43,404.10 C445.26,400.03 444.53,394.76 445.55,390.78 C446.57,386.80 449.64,382.92 452.56,380.24 C455.48,377.55 459.57,375.98 463.07,374.69 C466.58,373.39 470.66,372.74 473.58,372.47 C476.50,372.19 478.26,372.56 480.59,373.02 C482.93,373.48 485.26,375.24 487.60,375.24Z"/></clipPath>
<g filter="url(#rag)"><g clip-path="url(#c5)"><path d="M487.60,375.24 C489.94,375.24 492.27,373.48 494.61,373.02 C496.94,372.56 498.70,372.19 501.62,372.47 C504.54,372.74 508.62,373.48 512.13,374.69 C515.63,375.89 519.87,377.09 522.64,379.68 C525.41,382.27 527.75,386.16 528.77,390.23 C529.79,394.30 529.79,399.75 528.77,404.10 C527.75,408.45 524.83,413.54 522.64,416.31 C520.45,419.08 518.55,419.64 515.63,420.75 C512.71,421.86 508.33,422.79 505.12,422.97 C501.91,423.16 499.28,421.77 496.36,421.86 C493.44,421.95 491.10,423.52 487.60,423.52 C484.10,423.52 479.42,422.51 475.34,421.86 C471.25,421.21 466.87,420.75 463.07,419.64 C459.28,418.53 455.33,417.79 452.56,415.20 C449.79,412.61 447.60,408.17 446.43,404.10 C445.26,400.03 444.53,394.76 445.55,390.78 C446.57,386.80 449.64,382.92 452.56,380.24 C455.48,377.55 459.57,375.98 463.07,374.69 C466.58,373.39 470.66,372.74 473.58,372.47 C476.50,372.19 478.26,372.56 480.59,373.02 C482.93,373.48 485.26,375.24 487.60,375.24Z" fill="#3656c4"/><g filter="url(#bl5)"><ellipse cx="456.06" cy="398.55" rx="10.51" ry="19.42" fill="#3550c0" fill-opacity="1" transform="rotate(0 456.06 398.55)"/><ellipse cx="519.14" cy="398.55" rx="10.51" ry="19.42" fill="#3a58c8" fill-opacity="1" transform="rotate(0 519.14 398.55)"/><line x1="456.06" y1="381.90" x2="470.08" y2="417.98" stroke="#58b4e0" stroke-width="1.6" stroke-opacity="0.7" stroke-linecap="round"/><line x1="519.14" y1="381.90" x2="505.12" y2="417.98" stroke="#58b4e0" stroke-width="1.6" stroke-opacity="0.7" stroke-linecap="round"/><line x1="449.06" y1="393.00" x2="452.56" y2="412.43" stroke="#5ab8e0" stroke-width="1.2" stroke-opacity="0.5" stroke-linecap="round"/><line x1="524.39" y1="390.23" x2="522.64" y2="415.20" stroke="#5ab8e0" stroke-width="1.2" stroke-opacity="0.6" stroke-linecap="round"/><path d="M470.08,374.69 C472.71,373.94 478.84,377.46 483.22,377.46 C487.60,377.46 492.71,373.94 496.36,374.69 C500.01,375.43 503.95,377.92 505.12,381.90 C506.29,385.88 503.37,392.44 503.37,398.55 C503.37,404.66 507.75,414.83 505.12,418.53 C502.49,422.23 493.44,420.75 487.60,420.75 C481.76,420.75 472.85,422.23 470.08,418.53 C467.31,414.83 471.39,404.66 470.96,398.55 C470.52,392.44 467.60,385.88 467.45,381.90 C467.31,377.92 467.45,375.43 470.08,374.69Z" fill="#64c2b4" fill-opacity="1"/><path d="M477.09,398.55 C480.74,395.41 494.46,395.41 498.11,398.55 C501.76,401.69 500.74,413.91 498.99,417.42 C497.24,420.94 491.40,419.64 487.60,419.64 C483.80,419.64 477.96,420.94 476.21,417.42 C474.46,413.91 473.44,401.69 477.09,398.55Z" fill="#88c888" fill-opacity="1"/><ellipse cx="487.60" cy="408.54" rx="3.07" ry="7.21" fill="#e8e030" fill-opacity="0.85" transform="rotate(0 487.60 408.54)"/><ellipse cx="482.34" cy="409.65" rx="1.75" ry="5.55" fill="#f0a020" fill-opacity="0.7" transform="rotate(0 482.34 409.65)"/><ellipse cx="492.86" cy="409.65" rx="1.75" ry="5.55" fill="#f0a020" fill-opacity="0.7" transform="rotate(0 492.86 409.65)"/><line x1="480.59" y1="401.32" x2="482.34" y2="417.98" stroke="#d8d840" stroke-width="1.5" stroke-opacity="0.8" stroke-linecap="round"/><line x1="494.61" y1="401.32" x2="492.86" y2="417.98" stroke="#d8d840" stroke-width="1.5" stroke-opacity="0.8" stroke-linecap="round"/><polygon points="467.45,399.66 474.46,398.55 478.84,418.53 471.83,419.64" fill="#a81810" fill-opacity="1"/><polygon points="507.75,399.66 500.74,398.55 496.36,418.53 503.37,419.64" fill="#a81810" fill-opacity="1"/><line x1="476.21" y1="399.66" x2="479.72" y2="416.31" stroke="#f0901c" stroke-width="1.6" stroke-opacity="0.85" stroke-linecap="round"/><line x1="498.99" y1="399.66" x2="495.48" y2="416.31" stroke="#f0901c" stroke-width="1.6" stroke-opacity="0.85" stroke-linecap="round"/><ellipse cx="471.83" cy="382.45" rx="6.57" ry="1.94" fill="#d03018" fill-opacity="1" transform="rotate(-20 471.83 382.45)"/><ellipse cx="501.62" cy="383.56" rx="6.57" ry="1.94" fill="#d03018" fill-opacity="1" transform="rotate(20 501.62 383.56)"/><ellipse cx="487.60" cy="388.56" rx="3.50" ry="2.50" fill="#c42818" fill-opacity="1" transform="rotate(0 487.60 388.56)"/><ellipse cx="487.60" cy="377.46" rx="5.26" ry="2.22" fill="#4a98d8" fill-opacity="0.7" transform="rotate(0 487.60 377.46)"/><ellipse cx="487.60" cy="421.86" rx="10.51" ry="2.22" fill="#405828" fill-opacity="0.6" transform="rotate(0 487.60 421.86)"/><path d="M487.60,375.24 C489.94,375.24 492.27,373.48 494.61,373.02 C496.94,372.56 498.70,372.19 501.62,372.47 C504.54,372.74 508.62,373.48 512.13,374.69 C515.63,375.89 519.87,377.09 522.64,379.68 C525.41,382.27 527.75,386.16 528.77,390.23 C529.79,394.30 529.79,399.75 528.77,404.10 C527.75,408.45 524.83,413.54 522.64,416.31 C520.45,419.08 518.55,419.64 515.63,420.75 C512.71,421.86 508.33,422.79 505.12,422.97 C501.91,423.16 499.28,421.77 496.36,421.86 C493.44,421.95 491.10,423.52 487.60,423.52 C484.10,423.52 479.42,422.51 475.34,421.86 C471.25,421.21 466.87,420.75 463.07,419.64 C459.28,418.53 455.33,417.79 452.56,415.20 C449.79,412.61 447.60,408.17 446.43,404.10 C445.26,400.03 444.53,394.76 445.55,390.78 C446.57,386.80 449.64,382.92 452.56,380.24 C455.48,377.55 459.57,375.98 463.07,374.69 C466.58,373.39 470.66,372.74 473.58,372.47 C476.50,372.19 478.26,372.56 480.59,373.02 C482.93,373.48 485.26,375.24 487.60,375.24Z" fill="none" stroke="#58b8e0" stroke-width="3" stroke-opacity="0.45"/></g><g fill="none" stroke-width="0.9" stroke-opacity="0.5" stroke-linecap="round"><path d="M466.1,384.5Q461.7,382.0 457.4,379.6" stroke="#295198"/><path d="M481.4,393.1Q480.7,388.5 482.9,384.2" stroke="#78caa4"/><path d="M508.4,390.2Q511.2,386.1 515.5,383.5" stroke="#46a1e1"/><path d="M506.5,403.3Q508.2,398.7 508.0,393.9" stroke="#2a519a"/><path d="M481.1,413.6Q479.0,412.1 477.8,409.8" stroke="#b8c93a"/><path d="M517.9,412.1Q518.8,408.4 522.2,406.7" stroke="#3a80cc"/><path d="M496.5,410.1Q499.8,409.3 502.6,407.2" stroke="#a41b20"/><path d="M469.2,413.5Q465.7,412.2 461.9,412.3" stroke="#4091d2"/><path d="M515.1,406.6Q518.2,403.4 521.6,400.6" stroke="#3144a8"/><path d="M461.5,406.4Q458.9,403.8 459.5,400.1" stroke="#294a95"/><path d="M506.3,382.5Q506.5,379.7 505.2,377.3" stroke="#305cb0"/><path d="M504.0,408.2Q506.5,408.2 507.6,406.0" stroke="#336bbc"/><path d="M460.8,396.4Q458.9,393.5 458.6,390.0" stroke="#449ede"/><path d="M495.6,414.6Q498.1,413.0 499.8,410.5" stroke="#cb2121"/><path d="M485.2,405.4Q482.3,401.4 484.5,396.9" stroke="#78ba85"/><path d="M475.0,391.7Q473.1,389.2 471.6,386.5" stroke="#57c3dc"/><path d="M514.5,405.6Q519.3,405.4 523.2,402.5" stroke="#377bb8"/><path d="M503.2,410.8Q505.9,409.1 507.3,406.2" stroke="#715791"/><path d="M494.6,419.2Q498.9,419.2 502.8,417.4" stroke="#8e746f"/><path d="M462.1,379.6Q458.7,379.2 458.3,375.9" stroke="#3471b8"/><path d="M484.8,410.7Q483.3,406.0 479.9,402.4" stroke="#90b74d"/><path d="M479.3,408.9Q477.2,406.5 474.7,404.6" stroke="#bbc735"/><path d="M513.4,393.8Q513.4,391.1 515.5,389.3" stroke="#315cb4"/><path d="M456.9,386.7Q455.8,382.6 452.9,379.5" stroke="#3881b6"/><path d="M476.0,386.8Q475.3,383.6 472.9,381.3" stroke="#87d59c"/><path d="M474.7,399.5Q474.1,395.9 471.3,393.6" stroke="#419acb"/><path d="M484.0,385.8Q483.2,382.1 484.6,378.6" stroke="#75ad6f"/><path d="M490.3,413.8Q490.0,411.4 489.9,409.0" stroke="#ceda39"/><path d="M469.8,415.7Q465.1,415.0 460.4,415.8" stroke="#4ab1e5"/><path d="M484.4,410.2Q484.0,407.6 484.4,405.0" stroke="#c1d540"/><path d="M509.3,401.3Q511.3,399.2 513.9,397.9" stroke="#295599"/><path d="M499.6,412.8Q502.5,412.7 504.9,411.3" stroke="#d92320"/><path d="M472.0,415.5Q468.9,414.1 465.6,413.2" stroke="#6da977"/><path d="M464.5,383.9Q462.9,380.7 462.5,377.1" stroke="#2e57a9"/><path d="M525.4,388.8Q527.3,388.1 528.9,386.9" stroke="#2a5a99"/><path d="M490.7,394.7Q489.6,392.4 489.0,389.9" stroke="#68ad8b"/><path d="M515.4,381.7Q518.2,379.0 521.5,377.1" stroke="#294d97"/><path d="M475.1,405.7Q471.4,405.4 469.2,402.3" stroke="#b01d22"/><path d="M467.9,387.7Q464.7,385.2 464.5,381.2" stroke="#2e62aa"/><path d="M486.8,422.5Q489.2,419.9 491.9,417.6" stroke="#619984"/><path d="M462.1,381.5Q459.5,378.4 457.3,374.9" stroke="#2d5ea9"/><path d="M505.9,411.9Q509.2,408.4 514.1,408.2" stroke="#3b89bb"/><path d="M472.7,396.1Q472.1,393.3 469.4,392.0" stroke="#48a8c3"/><path d="M476.1,418.4Q473.0,416.4 470.1,414.0" stroke="#8d171b"/><path d="M504.4,383.3Q507.6,380.1 511.3,377.4" stroke="#3270aa"/><path d="M488.6,389.7Q488.1,386.4 488.0,383.1" stroke="#a69486"/><path d="M459.8,413.7Q455.6,411.2 451.7,408.2" stroke="#28458f"/><path d="M476.7,415.6Q474.0,416.4 472.3,414.2" stroke="#98191d"/><path d="M521.0,394.6Q523.9,393.3 526.9,392.5" stroke="#439cda"/><path d="M489.1,384.9Q486.4,382.5 485.0,379.2" stroke="#7cca9c"/><path d="M480.1,389.0Q479.8,386.8 481.1,385.1" stroke="#4eb3cd"/><path d="M493.6,408.6Q492.6,405.4 494.6,402.6" stroke="#82b25d"/><path d="M473.7,397.8Q474.2,392.8 471.6,388.5" stroke="#46a9d1"/><path d="M498.5,391.4Q503.0,390.0 500.4,386.0" stroke="#3b84cc"/><path d="M519.3,394.5Q520.2,391.9 521.8,389.6" stroke="#316eaa"/><path d="M499.6,396.0Q501.5,393.2 501.1,389.8" stroke="#79cfac"/><path d="M499.0,417.6Q501.0,417.3 503.0,417.0" stroke="#a71b1b"/><path d="M498.1,375.2Q498.0,372.9 499.1,371.0" stroke="#2f62ad"/><path d="M470.2,393.5Q468.0,392.4 465.7,391.5" stroke="#3b84c7"/><path d="M452.1,402.9Q447.9,403.4 445.0,400.3" stroke="#2a5299"/><path d="M484.8,394.7Q483.4,390.5 485.5,386.5" stroke="#6bcabf"/><path d="M450.9,399.7Q448.7,397.9 446.4,396.2" stroke="#346bc1"/><path d="M493.4,410.8Q496.2,408.1 499.8,406.9" stroke="#afc944"/><path d="M481.8,377.1Q482.0,373.6 485.5,373.0" stroke="#2b489a"/><path d="M465.7,407.1Q463.1,406.4 460.6,405.6" stroke="#3473b3"/><path d="M525.5,392.8Q528.6,390.4 528.3,386.5" stroke="#101e34"/><path d="M473.2,376.6Q475.9,373.3 476.4,369.1" stroke="#3574b8"/><path d="M518.1,384.6Q522.3,385.1 525.5,382.5" stroke="#326bb4"/><path d="M497.8,421.5Q501.7,421.1 505.5,420.1" stroke="#326aba"/><path d="M521.4,388.8Q524.1,387.7 525.7,385.3" stroke="#3067ad"/><path d="M497.6,398.1Q501.9,396.3 504.5,392.4" stroke="#75bd91"/><path d="M470.0,399.4Q467.6,397.3 466.2,394.5" stroke="#294c96"/><path d="M455.3,404.7Q455.1,400.5 452.2,397.6" stroke="#2b4899"/><path d="M500.6,398.4Q502.9,398.3 504.9,397.2" stroke="#846a6f"/><path d="M503.6,404.8Q505.1,402.5 507.3,400.6" stroke="#91171c"/><path d="M508.7,404.8Q512.3,404.3 514.1,401.3" stroke="#4195da"/><path d="M502.5,404.7Q501.3,400.5 505.0,398.1" stroke="#ae5e43"/><path d="M473.7,381.7Q474.2,377.9 473.0,374.2" stroke="#989183"/><path d="M501.4,377.7Q504.3,374.0 509.1,374.2" stroke="#3b8cb9"/><path d="M511.1,389.8Q510.0,385.4 510.1,380.8" stroke="#2e62ab"/><path d="M459.7,417.2Q456.3,414.2 452.0,415.7" stroke="#2d5ca6"/><path d="M479.0,408.2Q478.5,403.6 480.1,399.3" stroke="#abc949"/><path d="M514.3,398.7Q513.4,395.3 515.0,392.1" stroke="#3271a7"/><path d="M487.7,396.8Q491.9,394.7 493.0,390.1" stroke="#52bcd7"/><path d="M498.1,406.2Q501.6,404.3 504.5,401.7" stroke="#bf1f21"/><path d="M450.1,402.8Q447.9,402.2 446.2,400.8" stroke="#295798"/><path d="M467.5,407.6Q465.8,405.4 463.2,405.4" stroke="#3b81cb"/><path d="M506.6,383.2Q507.8,381.1 509.7,379.5" stroke="#387dc2"/><path d="M490.1,398.9Q489.1,396.3 488.4,393.5" stroke="#70b790"/><path d="M465.0,389.3Q461.2,387.1 458.1,384.0" stroke="#397bcb"/><path d="M475.6,394.5Q473.7,389.9 472.5,385.1" stroke="#46aacd"/><path d="M500.4,421.0Q504.0,421.9 507.7,422.7" stroke="#2f349f"/><path d="M501.1,385.7Q502.8,381.3 506.9,379.1" stroke="#76d9c8"/><path d="M476.6,415.0Q472.7,415.2 469.2,417.0" stroke="#a81b1b"/><path d="M475.0,395.2Q475.1,393.0 475.4,390.8" stroke="#57d4ff"/><path d="M488.4,407.3Q485.2,404.7 483.3,401.0" stroke="#d5d62d"/><path d="M468.3,401.5Q464.7,398.9 461.4,395.7" stroke="#2e53a6"/><path d="M507.4,408.9Q509.1,407.7 511.2,406.9" stroke="#4cb5ec"/><path d="M522.0,391.3Q524.9,387.9 528.5,385.3" stroke="#3679ba"/><path d="M467.4,396.2Q466.2,394.5 465.0,392.8" stroke="#2a5a99"/><path d="M522.7,409.4Q526.3,407.6 530.0,409.2" stroke="#3265b9"/><path d="M459.5,383.2Q457.9,380.1 459.0,376.8" stroke="#2b5d9a"/><path d="M487.1,414.1Q486.5,412.1 485.2,410.4" stroke="#b4dd57"/><path d="M481.6,390.4Q480.9,385.9 480.9,381.4" stroke="#88dba7"/><path d="M499.3,417.9Q501.5,414.6 504.9,412.7" stroke="#a71b20"/><path d="M473.6,391.2Q471.9,388.6 471.9,385.5" stroke="#61bbb7"/><path d="M453.3,386.2Q451.6,384.2 449.4,383.0" stroke="#336abd"/><path d="M478.9,411.6Q477.3,407.1 475.1,402.9" stroke="#9b8041"/><path d="M477.1,407.5Q475.3,406.0 474.4,403.9" stroke="#ad5a2f"/><path d="M524.0,401.9Q527.5,400.0 530.8,397.8" stroke="#2f46a5"/><path d="M520.6,401.1Q524.4,398.7 527.9,395.7" stroke="#326ab4"/><path d="M463.1,415.0Q462.3,412.7 460.7,411.0" stroke="#3672c5"/><path d="M477.3,384.5Q475.2,382.6 474.3,379.9" stroke="#a6a292"/><path d="M468.2,384.1Q468.3,381.9 466.8,380.3" stroke="#ab8685"/><path d="M515.0,390.1Q517.6,386.9 520.5,384.0" stroke="#3a86be"/><path d="M513.4,395.1Q517.0,394.7 517.9,391.3" stroke="#284691"/><path d="M502.8,403.4Q504.4,400.8 505.7,398.0" stroke="#91171c"/><path d="M487.6,412.2Q488.7,408.6 489.9,405.0" stroke="#bedb4b"/><path d="M461.6,379.7Q457.4,378.5 455.8,374.5" stroke="#3060b2"/><path d="M485.1,411.4Q486.6,407.9 487.6,404.3" stroke="#d8da2e"/><path d="M488.2,418.4Q490.5,415.9 492.4,413.1" stroke="#94d886"/><path d="M485.6,413.5Q486.2,410.6 487.4,408.0" stroke="#c8dd43"/><path d="M499.2,422.9Q501.1,421.7 502.6,419.9" stroke="#293c54"/><path d="M483.3,412.7Q479.5,409.5 477.0,405.3" stroke="#b4cb41"/><path d="M483.9,390.5Q481.3,389.0 481.5,385.9" stroke="#4ab2e1"/><path d="M503.6,409.1Q506.3,408.0 507.2,405.2" stroke="#5a477e"/><path d="M502.1,408.5Q506.3,407.6 510.5,407.0" stroke="#614c88"/><path d="M521.4,402.0Q524.2,399.0 526.7,395.6" stroke="#3675be"/><path d="M486.3,423.4Q483.6,419.7 479.7,417.3" stroke="#69a48b"/><path d="M512.1,412.8Q514.1,413.0 516.1,413.2" stroke="#3266b8"/><path d="M497.0,388.3Q497.4,384.8 498.2,381.3" stroke="#79c69b"/><path d="M500.6,403.4Q502.0,400.6 504.5,398.8" stroke="#99191e"/><path d="M508.2,384.6Q511.5,383.0 514.2,380.5" stroke="#3064b3"/><path d="M520.6,405.4Q522.3,404.2 524.4,403.9" stroke="#45a1d9"/><path d="M495.3,384.1Q496.2,380.1 494.8,376.3" stroke="#85d49e"/><path d="M493.0,396.1Q492.4,392.8 492.0,389.5" stroke="#6eb48d"/><path d="M484.8,419.8Q480.9,419.6 476.9,419.4" stroke="#7eb264"/><path d="M497.2,393.3Q497.5,390.4 498.6,387.7" stroke="#a1d769"/><path d="M487.5,402.6Q489.2,398.0 487.5,393.5" stroke="#8ede9e"/><path d="M500.3,411.3Q503.4,412.5 505.1,409.8" stroke="#a61b20"/><path d="M466.3,396.9Q464.6,395.0 463.0,393.1" stroke="#2b3593"/><path d="M488.4,402.4Q489.3,398.6 491.4,395.2" stroke="#97c254"/><path d="M515.4,379.5Q515.7,377.1 517.3,375.3" stroke="#293b8e"/><path d="M489.7,398.5Q489.0,393.7 488.9,388.9" stroke="#67bfb0"/><path d="M509.6,413.8Q512.8,412.9 516.0,412.3" stroke="#3e8bd1"/><path d="M513.2,390.8Q516.9,387.4 518.4,382.7" stroke="#3679b6"/><path d="M462.2,377.7Q461.4,375.7 461.2,373.6" stroke="#27458e"/><path d="M490.9,418.0Q494.1,419.6 497.3,417.9" stroke="#6fb388"/><path d="M469.4,378.3Q465.0,376.8 461.9,373.2" stroke="#4398dc"/><path d="M514.3,398.1Q518.4,398.5 522.1,396.9" stroke="#326fae"/><path d="M483.8,420.9Q479.6,420.8 475.4,420.0" stroke="#4f8581"/><path d="M452.3,388.4Q448.8,387.9 445.8,386.2" stroke="#2c479e"/><path d="M478.8,394.3Q480.0,391.6 479.8,388.6" stroke="#47a7e3"/><path d="M508.0,395.5Q509.2,393.0 511.5,391.7" stroke="#2b3d96"/><path d="M506.4,394.4Q508.3,392.0 508.6,389.0" stroke="#2f4ea8"/><path d="M501.8,406.5Q503.0,404.2 505.1,402.7" stroke="#cd2122"/><path d="M511.7,390.3Q515.8,391.5 519.9,390.2" stroke="#316aae"/><path d="M463.1,408.2Q461.0,404.9 457.3,403.4" stroke="#4093d6"/><path d="M495.6,411.3Q499.8,409.7 503.2,406.5" stroke="#be1f1f"/><path d="M474.6,392.4Q473.0,390.8 470.9,390.4" stroke="#67bcab"/><path d="M468.7,387.0Q466.5,385.5 464.4,384.0" stroke="#7e85a8"/><path d="M470.1,390.9Q467.9,388.5 466.5,385.6" stroke="#3d89cf"/><path d="M511.3,391.3Q513.5,389.2 514.6,386.5" stroke="#2f67aa"/><path d="M498.4,400.7Q500.5,400.1 502.0,398.5" stroke="#926a46"/><path d="M481.5,417.5Q478.3,416.2 475.1,415.2" stroke="#927242"/><path d="M465.5,415.0Q461.9,415.9 458.6,417.7" stroke="#2e54a6"/><path d="M515.0,392.1Q517.0,388.8 517.8,385.1" stroke="#2b589f"/><path d="M512.6,410.5Q516.6,408.0 521.3,407.2" stroke="#325bb6"/><path d="M465.8,406.2Q461.8,406.0 458.6,403.6" stroke="#326fac"/><path d="M510.5,401.8Q513.7,400.0 515.4,396.8" stroke="#2e62a7"/><path d="M482.5,421.1Q479.2,420.4 475.8,420.8" stroke="#87d49a"/><path d="M513.6,418.1Q518.4,418.3 523.1,417.5" stroke="#2a589a"/><path d="M466.8,398.5Q464.7,394.7 462.1,391.2" stroke="#305cb1"/><path d="M514.0,417.3Q518.2,418.1 522.1,416.6" stroke="#397dcb"/><path d="M456.5,398.5Q454.3,397.4 451.9,396.8" stroke="#2d4aa0"/><path d="M516.1,408.0Q521.0,407.2 525.4,405.1" stroke="#314eaf"/><path d="M519.0,382.2Q520.2,380.0 521.1,377.7" stroke="#397fc0"/><path d="M457.1,386.3Q454.0,385.5 450.7,385.6" stroke="#3674c5"/><path d="M514.5,414.7Q517.7,414.1 520.8,415.0" stroke="#3980bd"/><path d="M475.3,405.2Q473.8,401.9 471.4,399.3" stroke="#ae6836"/><path d="M486.7,380.4Q488.2,378.6 489.8,377.0" stroke="#56c0d8"/><path d="M480.1,422.0Q477.5,418.8 474.5,416.1" stroke="#a0de79"/><path d="M525.8,405.5Q528.3,404.6 530.4,406.2" stroke="#2d3597"/><path d="M494.0,375.0Q495.5,373.4 495.2,371.2" stroke="#3e8cce"/><path d="M501.3,415.3Q504.4,415.6 507.4,414.8" stroke="#316eaa"/><path d="M519.3,397.7Q519.4,395.3 520.5,393.1" stroke="#2c509f"/><path d="M518.4,402.0Q521.2,397.9 521.1,393.0" stroke="#2e62a7"/><path d="M495.2,417.9Q499.1,416.8 502.6,415.0" stroke="#b51d21"/><path d="M515.8,408.7Q519.4,406.3 523.0,403.8" stroke="#3a83c1"/><path d="M503.0,386.1Q504.6,384.7 506.0,383.0" stroke="#844e72"/><path d="M493.4,392.0Q494.9,389.4 495.1,386.4" stroke="#4ebfe8"/><path d="M482.7,387.2Q483.7,384.1 484.1,381.0" stroke="#69c4b8"/><path d="M497.7,388.2Q498.0,385.9 497.0,383.8" stroke="#72c4a5"/><path d="M450.4,399.3Q448.6,394.8 444.9,391.4" stroke="#295599"/><path d="M452.4,394.2Q448.5,391.5 447.0,387.0" stroke="#2d55a5"/><path d="M516.8,403.5Q519.3,400.4 522.8,398.4" stroke="#3471ba"/><path d="M496.6,409.4Q498.6,405.9 501.7,403.6" stroke="#996031"/><path d="M467.3,380.2Q464.8,376.4 462.8,372.4" stroke="#2c5d9f"/><path d="M508.9,414.0Q513.1,413.7 517.0,412.5" stroke="#336eba"/><path d="M476.1,398.2Q475.2,394.7 473.7,391.3" stroke="#5ec8d8"/><path d="M518.4,406.3Q520.8,404.3 523.9,403.9" stroke="#316aae"/><path d="M467.4,409.1Q465.8,407.7 464.0,406.5" stroke="#3b84c7"/><path d="M486.2,404.5Q486.3,401.9 484.9,399.9" stroke="#b9d447"/><path d="M514.5,398.8Q516.3,394.6 519.5,391.3" stroke="#3370b0"/><path d="M464.7,405.8Q461.6,405.7 458.6,404.5" stroke="#285395"/><path d="M494.2,379.3Q491.4,376.6 490.9,372.7" stroke="#6ebea1"/><path d="M518.7,383.2Q521.6,382.1 524.7,381.2" stroke="#2c5aa5"/><path d="M488.0,401.0Q489.4,398.8 489.7,396.3" stroke="#92cf79"/><path d="M471.1,404.6Q469.3,400.6 469.0,396.2" stroke="#64346d"/><path d="M474.7,402.4Q473.7,398.5 472.8,394.4" stroke="#89dba4"/><path d="M508.3,386.2Q509.7,384.2 509.7,381.8" stroke="#3066b0"/><path d="M478.3,414.2Q477.5,410.7 475.8,407.6" stroke="#a5793a"/><path d="M507.7,413.7Q509.5,412.2 511.6,411.0" stroke="#316caf"/><path d="M518.6,392.3Q521.2,389.3 522.6,385.5" stroke="#27418c"/><path d="M497.0,411.2Q496.2,408.8 497.8,406.9" stroke="#c6e953"/><path d="M507.4,394.7Q510.0,390.8 513.1,387.2" stroke="#2c5ba5"/><path d="M475.1,377.4Q471.8,374.0 470.7,369.5" stroke="#54cbfc"/><path d="M462.2,415.3Q458.2,416.9 454.0,416.1" stroke="#2d61a4"/><path d="M521.2,392.6Q523.0,389.9 525.1,387.3" stroke="#3c85cd"/><path d="M487.4,384.4Q488.3,382.3 487.6,380.1" stroke="#62ad96"/><path d="M506.4,418.6Q509.6,420.0 512.6,421.8" stroke="#2a579b"/><path d="M457.6,398.8Q455.8,397.4 454.0,396.2" stroke="#2b4a99"/><path d="M504.3,420.1Q508.1,417.9 511.6,415.2" stroke="#294b96"/><path d="M498.0,403.2Q501.0,399.4 500.8,394.5" stroke="#886552"/><path d="M460.1,381.9Q456.0,379.2 452.6,375.9" stroke="#3c88ca"/><path d="M491.9,417.4Q494.3,414.8 497.1,412.6" stroke="#9dba44"/><path d="M499.1,414.9Q502.0,415.4 505.0,415.5" stroke="#8b4543"/><path d="M505.7,401.9Q507.3,397.9 508.6,393.9" stroke="#2d459e"/><path d="M467.3,382.7Q466.0,378.3 463.8,374.2" stroke="#439ed5"/><path d="M486.2,381.9Q485.5,379.7 484.6,377.7" stroke="#98d67b"/><path d="M468.6,396.4Q465.0,393.4 461.5,390.4" stroke="#284a92"/><path d="M511.8,398.7Q514.1,398.2 516.0,396.8" stroke="#3f91d2"/><path d="M450.3,401.2Q447.3,402.7 444.1,401.8" stroke="#387cc1"/><path d="M507.2,397.0Q509.4,396.9 511.6,396.9" stroke="#2c58a4"/><path d="M479.7,404.7Q480.8,400.5 478.8,396.5" stroke="#8bca7b"/><path d="M491.4,394.4Q494.5,391.0 496.8,387.0" stroke="#50aebe"/><path d="M477.9,410.0Q477.7,407.5 476.4,405.4" stroke="#9ac858"/><path d="M514.9,385.0Q516.6,380.6 517.7,376.1" stroke="#2a589d"/><path d="M496.8,413.4Q500.0,409.6 504.7,408.1" stroke="#b61e1e"/><path d="M485.8,410.7Q485.1,406.2 482.6,402.5" stroke="#9bdb7d"/><path d="M468.0,405.6Q464.6,402.0 460.2,399.8" stroke="#3678bb"/><path d="M451.6,402.6Q447.3,402.4 443.1,401.4" stroke="#3c86cc"/><path d="M465.0,404.7Q462.4,401.1 461.7,396.7" stroke="#4ebdec"/><path d="M508.5,385.2Q509.3,383.3 510.9,381.9" stroke="#2e4fa4"/><path d="M470.5,416.2Q467.1,416.1 463.8,415.4" stroke="#2f65a7"/><path d="M484.5,390.3Q484.2,385.5 486.0,381.1" stroke="#65b6a4"/><path d="M516.9,416.6Q521.6,416.6 526.1,415.2" stroke="#0b1422"/><path d="M486.5,422.1Q490.1,421.7 493.8,421.2" stroke="#30545f"/><path d="M460.9,402.5Q457.4,401.4 454.5,399.1" stroke="#28438f"/><path d="M505.9,400.2Q506.4,396.9 509.4,395.5" stroke="#314fad"/><path d="M494.1,411.3Q495.3,406.7 495.6,401.9" stroke="#c9cf31"/><path d="M493.8,385.9Q494.8,383.5 496.5,381.5" stroke="#94de93"/><path d="M481.8,390.3Q481.7,386.7 479.3,383.9" stroke="#5bb4b5"/><path d="M520.3,394.8Q524.9,393.2 527.5,389.1" stroke="#3164b5"/><path d="M483.2,385.6Q482.4,383.4 482.0,381.1" stroke="#6bc7bb"/><path d="M459.2,416.6Q455.3,413.4 450.8,415.6" stroke="#397cc9"/><path d="M489.0,388.1Q490.5,383.3 494.8,380.8" stroke="#6cbfa7"/><path d="M504.7,421.6Q505.6,419.2 508.0,418.4" stroke="#3069a7"/><path d="M500.3,391.5Q501.4,388.8 503.5,386.9" stroke="#5aa69a"/><path d="M488.2,403.6Q489.9,401.6 490.9,399.1" stroke="#b4d047"/><path d="M499.2,394.9Q502.4,394.7 503.6,391.8" stroke="#73d9cf"/><path d="M487.5,420.8Q487.9,422.8 488.9,424.6" stroke="#223d4d"/><path d="M450.1,403.5Q447.7,403.7 445.5,402.4" stroke="#3372b2"/><path d="M487.7,422.6Q491.1,422.5 493.5,425.0" stroke="#101d25"/><path d="M455.7,402.8Q451.8,403.3 448.4,401.2" stroke="#2f4fa9"/><path d="M463.8,399.8Q462.3,398.1 460.8,396.2" stroke="#377fb7"/><path d="M454.4,410.1Q451.2,410.0 448.1,410.1" stroke="#306ba3"/><path d="M497.2,416.2Q500.9,416.1 504.6,415.2" stroke="#ac1c1b"/><path d="M508.1,379.9Q509.7,377.3 511.0,374.5" stroke="#2c539f"/><path d="M490.9,388.6Q492.5,386.8 492.7,384.4" stroke="#acdf62"/><path d="M484.8,383.1Q484.1,381.0 483.7,378.9" stroke="#6cb796"/><path d="M466.6,387.3Q465.1,385.5 463.0,384.2" stroke="#2c519f"/><path d="M464.1,384.0Q463.2,381.5 461.5,379.3" stroke="#295197"/><path d="M481.4,414.4Q479.5,411.4 478.0,408.2" stroke="#bbd242"/><path d="M482.4,412.0Q481.2,408.0 479.3,404.2" stroke="#c0e352"/><path d="M473.3,386.0Q471.8,383.3 471.2,380.2" stroke="#c06252"/><path d="M467.1,389.1Q464.4,386.6 462.5,383.6" stroke="#2b4096"/><path d="M516.5,392.2Q518.2,391.2 519.4,389.6" stroke="#2d5aa7"/><path d="M508.8,385.6Q510.6,384.0 511.4,381.7" stroke="#3a7fcd"/><path d="M458.7,400.5Q457.6,398.5 455.7,397.4" stroke="#3260b6"/><path d="M500.5,408.9Q502.5,406.4 502.3,403.3" stroke="#87161a"/><path d="M485.8,389.6Q484.1,387.9 484.1,385.5" stroke="#69d0d1"/><path d="M486.8,401.0Q485.8,398.8 487.1,396.7" stroke="#8eb44c"/><path d="M466.8,408.8Q463.8,408.4 460.8,408.6" stroke="#357aae"/><path d="M485.9,403.6Q485.2,400.6 486.8,398.0" stroke="#86b052"/><path d="M519.6,399.8Q520.8,397.3 522.9,395.6" stroke="#3f8ed3"/><path d="M455.5,386.5Q453.1,383.8 451.2,380.7" stroke="#397ec7"/><path d="M463.2,409.7Q461.0,407.0 457.7,405.9" stroke="#2d51a4"/><path d="M519.8,399.3Q522.0,399.0 524.3,398.6" stroke="#3a7fcd"/><path d="M473.8,413.8Q470.9,414.3 468.6,416.1" stroke="#7b5552"/><path d="M493.8,394.6Q493.0,390.6 493.1,386.6" stroke="#64a88a"/><path d="M507.6,385.9Q506.9,381.8 507.6,377.6" stroke="#3676be"/><path d="M492.0,378.7Q491.1,375.2 489.1,372.1" stroke="#397ec4"/><path d="M510.1,409.3Q513.9,406.8 517.3,403.9" stroke="#3a83bf"/><path d="M495.7,410.2Q498.1,407.7 500.7,405.3" stroke="#9e6d38"/><path d="M488.8,415.0Q491.7,411.3 493.9,407.2" stroke="#ebe427"/><path d="M479.4,386.7Q479.0,384.2 478.1,381.8" stroke="#50acba"/><path d="M473.1,382.6Q471.4,380.8 470.0,378.7" stroke="#a45547"/><path d="M456.5,383.1Q455.2,381.3 453.2,380.5" stroke="#3981be"/><path d="M500.9,380.2Q500.3,377.2 501.4,374.3" stroke="#6fc8b3"/><path d="M474.5,417.6Q469.8,415.8 464.9,416.6" stroke="#3167b2"/><path d="M495.7,410.3Q496.7,406.8 496.6,403.2" stroke="#95d57d"/><path d="M465.2,388.2Q464.8,385.3 464.4,382.5" stroke="#315fb4"/><path d="M484.2,417.1Q484.8,415.1 484.8,413.0" stroke="#c0d03c"/><path d="M517.4,384.0Q518.9,380.4 520.4,376.8" stroke="#3c89c5"/><path d="M515.1,393.7Q517.1,392.5 519.0,391.2" stroke="#2b479a"/><path d="M461.7,399.2Q460.1,398.0 458.9,396.4" stroke="#326fad"/><path d="M485.4,415.9Q484.5,413.6 484.0,411.3" stroke="#a4d058"/><path d="M510.7,378.4Q515.3,376.7 519.5,374.2" stroke="#2c58a3"/><path d="M506.9,396.8Q509.6,394.4 511.5,391.4" stroke="#2e5daa"/><path d="M496.0,388.7Q495.9,385.8 495.4,383.0" stroke="#5aa79c"/><path d="M492.1,382.4Q492.3,379.9 492.6,377.5" stroke="#409cc0"/><path d="M456.7,396.3Q452.8,393.3 448.5,390.8" stroke="#295797"/><path d="M525.3,393.2Q528.4,395.0 531.9,396.0" stroke="#3776c3"/><path d="M515.2,403.3Q516.9,401.1 518.7,399.0" stroke="#3471b9"/><path d="M455.8,397.8Q453.0,396.4 451.5,393.8" stroke="#295798"/><path d="M477.1,386.9Q476.4,382.6 477.4,378.3" stroke="#62d5ec"/><path d="M473.7,403.1Q472.4,398.9 469.6,395.6" stroke="#81717a"/><path d="M483.3,399.7Q481.1,397.1 480.3,393.8" stroke="#7ac79b"/><path d="M451.8,399.1Q450.5,394.8 448.8,390.6" stroke="#4094d3"/><path d="M477.2,394.0Q478.0,390.3 478.2,386.5" stroke="#47a8da"/><path d="M491.4,419.1Q494.5,416.4 498.5,415.7" stroke="#86cc8b"/><path d="M472.7,395.2Q471.3,390.7 469.0,386.6" stroke="#70c7b0"/><path d="M503.5,390.6Q503.9,386.2 506.1,382.4" stroke="#875664"/></g></g></g>

<filter id="bl6" x="-20%" y="-20%" width="140%" height="140%"><feGaussianBlur stdDeviation="1.0" result="b"/><feTurbulence type="fractalNoise" baseFrequency="0.12" numOctaves="2" seed="6" result="t"/><feDisplacementMap in="b" in2="t" scale="5" xChannelSelector="R" yChannelSelector="G"/></filter>
<clipPath id="c6"><path d="M571.57,374.48 C577.54,372.87 584.19,372.21 590.51,372.38 C596.84,372.54 603.92,373.54 609.54,375.48 C615.15,377.42 621.07,381.19 624.22,384.01 C627.36,386.83 627.86,389.23 628.40,392.38 C628.93,395.52 628.48,399.74 627.41,402.90 C626.35,406.06 624.64,409.23 622.00,411.32 C619.36,413.42 614.02,413.73 611.59,415.48 C609.16,417.22 609.17,419.96 607.41,421.79 C605.64,423.62 604.18,425.67 601.01,426.45 C597.84,427.22 592.58,426.85 588.38,426.45 C584.19,426.04 579.33,425.84 575.84,424.01 C572.34,422.18 570.56,417.76 567.39,415.48 C564.22,413.20 559.79,412.42 556.81,410.32 C553.83,408.23 550.92,405.89 549.51,402.90 C548.11,399.91 547.50,395.86 548.37,392.38 C549.23,388.89 550.81,385.00 554.68,382.02 C558.55,379.03 565.60,376.09 571.57,374.48Z"/></clipPath>
<g filter="url(#rag)"><g clip-path="url(#c6)"><path d="M571.57,374.48 C577.54,372.87 584.19,372.21 590.51,372.38 C596.84,372.54 603.92,373.54 609.54,375.48 C615.15,377.42 621.07,381.19 624.22,384.01 C627.36,386.83 627.86,389.23 628.40,392.38 C628.93,395.52 628.48,399.74 627.41,402.90 C626.35,406.06 624.64,409.23 622.00,411.32 C619.36,413.42 614.02,413.73 611.59,415.48 C609.16,417.22 609.17,419.96 607.41,421.79 C605.64,423.62 604.18,425.67 601.01,426.45 C597.84,427.22 592.58,426.85 588.38,426.45 C584.19,426.04 579.33,425.84 575.84,424.01 C572.34,422.18 570.56,417.76 567.39,415.48 C564.22,413.20 559.79,412.42 556.81,410.32 C553.83,408.23 550.92,405.89 549.51,402.90 C548.11,399.91 547.50,395.86 548.37,392.38 C549.23,388.89 550.81,385.00 554.68,382.02 C558.55,379.03 565.60,376.09 571.57,374.48Z" fill="#7cc8b8"/><g filter="url(#bl6)"><ellipse cx="559.60" cy="389.33" rx="12.30" ry="12.19" fill="#70c8c8" fill-opacity="1" transform="rotate(0 559.60 389.33)"/><ellipse cx="616.18" cy="388.22" rx="12.30" ry="12.19" fill="#62c0d8" fill-opacity="1" transform="rotate(0 616.18 388.22)"/><path d="M571.90,374.37 C574.63,371.51 583.38,372.43 588.30,372.71 C593.22,372.99 598.96,373.17 601.42,376.03 C603.88,378.89 605.25,387.20 603.06,389.88 C600.87,392.56 593.49,392.10 588.30,392.10 C583.11,392.10 574.63,392.84 571.90,389.88 C569.17,386.93 569.17,377.23 571.90,374.37Z" fill="#bcd25e" fill-opacity="1"/><line x1="584.20" y1="377.14" x2="588.30" y2="388.22" stroke="#78c8c0" stroke-width="2.5" stroke-opacity="0.7" stroke-linecap="round"/><line x1="576.82" y1="374.37" x2="571.90" y2="391.54" stroke="#e8e040" stroke-width="2.2" stroke-opacity="0.8" stroke-linecap="round"/><line x1="596.50" y1="374.37" x2="601.42" y2="388.22" stroke="#e8e040" stroke-width="2" stroke-opacity="0.6" stroke-linecap="round"/><ellipse cx="588.30" cy="391.54" rx="4.92" ry="2.22" fill="#70c0b8" fill-opacity="0.9" transform="rotate(0 588.30 391.54)"/><path d="M552.22,408.16 C551.95,405.95 555.50,401.70 558.78,399.30 C562.06,396.90 566.98,394.96 571.90,393.76 C576.82,392.56 582.83,391.91 588.30,392.10 C593.77,392.28 599.78,393.11 604.70,394.87 C609.62,396.62 615.09,399.85 617.82,402.62 C620.55,405.39 622.19,410.20 621.10,411.49 C620.01,412.78 613.99,411.76 611.26,410.38 C608.53,409.00 607.84,405.02 604.70,403.18 C601.56,401.33 596.50,399.76 592.40,399.30 C588.30,398.84 584.06,399.48 580.10,400.41 C576.14,401.33 571.90,402.81 568.62,404.84 C565.34,406.87 563.15,412.04 560.42,412.60 C557.69,413.15 552.49,410.38 552.22,408.16Z" fill="#b81e10" fill-opacity="1"/><line x1="571.90" y1="413.70" x2="578.46" y2="402.62" stroke="#c02818" stroke-width="2.4" stroke-opacity="0.75" stroke-linecap="round"/><line x1="598.14" y1="402.62" x2="603.06" y2="414.81" stroke="#c02818" stroke-width="2.4" stroke-opacity="0.75" stroke-linecap="round"/><line x1="555.50" y1="403.73" x2="571.90" y2="395.98" stroke="#f0a020" stroke-width="1.6" stroke-opacity="0.7" stroke-linecap="round"/><path d="M568.62,405.95 C569.58,402.44 575.73,402.72 580.10,402.07 C584.47,401.42 590.49,401.42 594.86,402.07 C599.23,402.72 604.29,403.09 606.34,405.95 C608.39,408.81 608.53,415.92 607.16,419.24 C605.79,422.57 601.56,424.69 598.14,425.89 C594.72,427.09 590.62,426.91 586.66,426.45 C582.70,425.98 577.37,426.54 574.36,423.12 C571.35,419.71 567.66,409.46 568.62,405.95Z" fill="#d6d648" fill-opacity="1"/><line x1="581.74" y1="404.84" x2="580.10" y2="424.23" stroke="#88c8a8" stroke-width="1.8" stroke-opacity="0.8" stroke-linecap="round"/><line x1="601.42" y1="408.16" x2="599.78" y2="422.57" stroke="#80c8b0" stroke-width="1.6" stroke-opacity="0.7" stroke-linecap="round"/><line x1="576.82" y1="405.95" x2="573.54" y2="420.35" stroke="#e07020" stroke-width="1.4" stroke-opacity="0.6" stroke-linecap="round"/><line x1="574.36" y1="405.95" x2="580.10" y2="424.23" stroke="#80c8b0" stroke-width="1.6" stroke-opacity="0.85" stroke-linecap="round"/><line x1="596.50" y1="405.95" x2="592.40" y2="424.78" stroke="#f09a28" stroke-width="1.6" stroke-opacity="0.8" stroke-linecap="round"/><line x1="586.66" y1="403.73" x2="585.84" y2="424.23" stroke="#a8d070" stroke-width="1.4" stroke-opacity="0.7" stroke-linecap="round"/><ellipse cx="570.26" cy="373.26" rx="4.10" ry="1.66" fill="#3050c0" fill-opacity="1" transform="rotate(0 570.26 373.26)"/><ellipse cx="626.84" cy="402.07" rx="2.46" ry="2.77" fill="#3a70c8" fill-opacity="1" transform="rotate(0 626.84 402.07)"/></g><g fill="none" stroke-width="0.9" stroke-opacity="0.5" stroke-linecap="round"><path d="M590.0,419.3Q593.4,420.7 595.5,417.7" stroke="#aec43f"/><path d="M619.4,405.2Q623.1,401.9 627.6,399.8" stroke="#56b0b6"/><path d="M614.8,402.0Q616.5,399.5 619.1,398.0" stroke="#71cdba"/><path d="M569.6,386.4Q568.6,381.6 564.4,379.2" stroke="#9acf67"/><path d="M621.1,405.9Q624.1,403.8 627.0,401.6" stroke="#4dbce3"/><path d="M603.9,382.5Q607.8,380.1 611.6,377.7" stroke="#74d3c1"/><path d="M560.9,410.5Q559.0,407.6 555.6,406.7" stroke="#a71b1e"/><path d="M593.2,415.7Q595.3,413.3 596.3,410.3" stroke="#f8e71f"/><path d="M584.1,394.1Q582.2,390.5 583.1,386.5" stroke="#94c761"/><path d="M582.2,380.8Q581.4,378.3 582.1,375.8" stroke="#8bb14a"/><path d="M615.5,413.8Q617.2,410.4 618.2,406.7" stroke="#b41d1b"/><path d="M614.7,394.2Q615.4,391.3 617.5,389.0" stroke="#53bbd3"/><path d="M596.8,399.8Q600.0,396.8 604.1,395.2" stroke="#c11f20"/><path d="M590.1,384.3Q590.9,382.4 591.8,380.6" stroke="#96c75d"/><path d="M590.1,416.1Q593.4,414.5 597.0,414.0" stroke="#d9e43a"/><path d="M573.3,390.6Q574.1,387.5 572.6,384.7" stroke="#d8d52a"/><path d="M604.1,399.5Q606.4,400.9 608.8,402.2" stroke="#ab1c1f"/><path d="M595.1,398.5Q597.6,394.6 601.0,391.4" stroke="#99191e"/><path d="M595.8,382.8Q596.6,380.4 598.6,378.8" stroke="#7ab36f"/><path d="M571.0,406.9Q569.8,405.2 567.8,404.6" stroke="#c5d941"/><path d="M566.4,411.9Q564.5,408.6 561.9,405.9" stroke="#86bd6c"/><path d="M606.3,396.6Q607.3,393.0 608.9,389.6" stroke="#5bcae3"/><path d="M617.4,388.0Q619.3,384.4 621.9,381.3" stroke="#51abb7"/><path d="M600.8,396.7Q602.2,393.8 605.4,393.6" stroke="#a75d50"/><path d="M569.9,385.4Q567.8,384.0 567.0,381.7" stroke="#5ad4f8"/><path d="M584.9,414.5Q585.0,411.9 583.5,409.9" stroke="#b5ba2c"/><path d="M613.3,404.8Q613.6,401.5 615.2,398.5" stroke="#98191d"/><path d="M590.1,391.9Q591.1,389.2 591.0,386.3" stroke="#b8da50"/><path d="M595.8,413.0Q597.4,411.0 597.1,408.4" stroke="#98bd4d"/><path d="M579.8,390.0Q578.9,386.9 577.8,383.9" stroke="#d6e943"/><path d="M581.2,421.3Q577.8,419.9 574.1,420.4" stroke="#93d682"/><path d="M580.1,415.9Q576.1,418.3 571.5,417.8" stroke="#d7da30"/><path d="M585.2,410.1Q583.8,406.3 582.6,402.4" stroke="#fae71e"/><path d="M570.6,398.7Q569.5,395.6 567.7,393.0" stroke="#f84121"/><path d="M614.8,399.2Q617.0,399.3 619.2,398.7" stroke="#4cbae4"/><path d="M608.5,391.3Q610.4,389.9 612.3,388.7" stroke="#47a6e2"/><path d="M579.6,387.3Q578.9,385.1 577.3,383.4" stroke="#b8c334"/><path d="M559.1,387.2Q557.6,384.2 556.5,381.1" stroke="#9dd670"/><path d="M595.1,379.8Q595.0,377.5 595.6,375.3" stroke="#9ac352"/><path d="M564.1,388.0Q560.0,387.8 557.4,384.6" stroke="#5bb7ba"/><path d="M605.8,390.1Q606.3,387.2 608.4,385.2" stroke="#65a887"/><path d="M613.5,383.7Q616.2,380.6 615.1,376.6" stroke="#5eafa3"/><path d="M596.1,423.4Q599.2,419.7 604.0,420.6" stroke="#81b565"/><path d="M574.2,409.5Q570.9,406.6 567.6,403.5" stroke="#f6ee29"/><path d="M595.9,414.0Q597.3,410.1 599.4,406.6" stroke="#a8c648"/><path d="M617.0,385.5Q619.6,383.4 619.3,380.2" stroke="#4ab2dd"/><path d="M603.0,389.9Q605.6,385.8 608.2,381.6" stroke="#54bed8"/><path d="M572.3,404.3Q569.7,404.2 567.7,402.7" stroke="#9ebe47"/><path d="M588.2,393.3Q586.8,389.2 584.6,385.5" stroke="#81c98f"/><path d="M602.5,398.5Q602.3,393.7 604.0,389.1" stroke="#9c574b"/><path d="M570.6,398.5Q571.9,395.3 569.0,393.4" stroke="#a41b1c"/><path d="M599.4,409.9Q602.8,406.4 606.0,402.7" stroke="#8daf47"/><path d="M573.9,393.3Q571.0,390.2 568.3,387.1" stroke="#75b682"/><path d="M615.6,396.3Q615.3,393.9 616.0,391.5" stroke="#46a6db"/><path d="M569.7,392.7Q568.5,390.7 568.1,388.4" stroke="#69c9c3"/><path d="M565.4,385.8Q561.3,383.4 559.1,379.3" stroke="#6dd8db"/><path d="M565.2,396.0Q561.4,393.3 556.8,393.0" stroke="#5cc9de"/><path d="M603.7,393.3Q607.0,391.6 608.9,388.4" stroke="#55b1bb"/><path d="M590.5,425.9Q593.7,426.2 595.8,428.6" stroke="#808c47"/><path d="M578.4,417.4Q575.7,414.6 572.1,412.9" stroke="#9bb743"/><path d="M573.8,402.8Q569.8,402.2 565.8,401.7" stroke="#dc591c"/><path d="M612.1,387.3Q615.2,383.7 618.6,380.4" stroke="#55bdd3"/><path d="M573.9,418.7Q573.1,416.0 571.2,414.0" stroke="#ffcc1f"/><path d="M559.9,386.9Q557.9,385.7 556.1,384.2" stroke="#4caac0"/><path d="M578.1,396.1Q578.1,393.0 578.0,389.8" stroke="#be944b"/><path d="M573.1,413.0Q570.1,413.3 567.1,414.1" stroke="#ccdb3d"/><path d="M616.5,391.0Q617.8,388.2 620.7,387.1" stroke="#7dcfa4"/><path d="M556.9,386.7Q556.6,384.3 555.7,382.1" stroke="#56b3bc"/><path d="M596.2,389.6Q594.1,386.7 592.5,383.4" stroke="#9ec14c"/><path d="M589.6,423.8Q588.2,425.4 587.9,427.5" stroke="#8ab451"/><path d="M572.7,397.7Q571.3,393.4 567.3,391.1" stroke="#9f947f"/><path d="M571.1,401.6Q567.2,398.8 563.7,395.7" stroke="#c0241a"/><path d="M618.1,407.4Q621.5,405.8 625.2,405.5" stroke="#6db38c"/><path d="M604.2,405.8Q604.6,401.8 604.7,397.8" stroke="#9f4f2b"/><path d="M575.4,414.8Q573.4,414.1 572.1,412.5" stroke="#fff123"/><path d="M566.3,381.6Q566.6,379.1 566.0,376.5" stroke="#4dbaea"/><path d="M576.5,412.8Q572.1,413.0 567.9,411.2" stroke="#e6c618"/><path d="M573.8,403.1Q573.5,400.2 571.2,398.2" stroke="#ff6821"/><path d="M618.1,396.8Q619.9,395.7 621.7,394.7" stroke="#72b27f"/><path d="M584.8,391.2Q584.3,388.8 583.7,386.4" stroke="#c3be22"/><path d="M608.1,400.8Q612.1,399.6 612.6,395.5" stroke="#e62521"/><path d="M560.3,395.3Q556.5,396.7 553.0,394.5" stroke="#63b6a8"/><path d="M560.8,411.3Q557.7,408.6 555.0,405.6" stroke="#b21d1c"/><path d="M596.8,422.2Q601.0,420.5 605.5,421.1" stroke="#83c078"/><path d="M559.2,395.0Q557.2,393.7 555.8,391.6" stroke="#83dbb1"/><path d="M605.0,402.2Q606.2,400.3 607.9,398.9" stroke="#b11d1d"/><path d="M563.3,397.4Q560.5,394.4 557.0,392.2" stroke="#59b3b9"/><path d="M561.5,408.2Q557.9,405.8 554.7,402.8" stroke="#e62620"/><path d="M577.8,409.8Q578.8,407.3 578.2,404.6" stroke="#71c5aa"/><path d="M595.6,421.5Q598.4,420.8 601.2,419.9" stroke="#87ca86"/><path d="M606.5,384.6Q608.5,382.5 610.8,380.6" stroke="#7bc28d"/><path d="M557.5,398.7Q556.1,397.0 554.7,395.3" stroke="#45a8d0"/><path d="M611.9,386.9Q614.2,386.4 616.3,385.5" stroke="#45a7d0"/><path d="M562.7,387.0Q558.8,384.1 557.2,379.6" stroke="#46a9cb"/><path d="M598.9,399.0Q601.5,398.1 604.1,397.0" stroke="#aa1c1e"/><path d="M571.0,412.2Q568.6,409.3 565.0,408.4" stroke="#72ac72"/><path d="M554.0,407.1Q550.9,403.2 546.2,401.4" stroke="#65ac8e"/><path d="M597.6,390.1Q597.4,386.0 598.4,381.9" stroke="#a5ba3d"/><path d="M585.1,388.9Q585.1,384.0 585.3,379.2" stroke="#83ca8d"/><path d="M605.0,419.8Q608.7,417.3 613.2,417.6" stroke="#507762"/><path d="M574.6,384.3Q573.3,381.9 572.0,379.5" stroke="#96ce6d"/><path d="M618.2,406.1Q621.2,404.0 623.0,400.8" stroke="#6ed2ca"/><path d="M612.5,395.3Q614.3,390.7 617.4,386.8" stroke="#54bbd4"/><path d="M598.8,398.4Q600.2,396.5 602.1,394.9" stroke="#9d191d"/><path d="M589.9,423.4Q592.4,425.3 594.1,427.9" stroke="#c9d235"/><path d="M568.5,414.4Q567.3,410.2 565.6,406.2" stroke="#87d295"/><path d="M565.3,381.9Q563.9,378.7 561.5,376.3" stroke="#7ad1af"/><path d="M578.7,412.0Q577.2,409.5 574.8,407.7" stroke="#8fc05f"/><path d="M620.9,399.7Q622.9,397.0 623.6,393.8" stroke="#70d2c6"/><path d="M578.5,389.6Q580.5,385.3 578.2,381.1" stroke="#f9f22b"/><path d="M586.8,421.1Q590.4,423.8 594.4,425.8" stroke="#90c66a"/><path d="M583.3,416.9Q582.0,412.3 580.3,407.9" stroke="#c7cb2e"/><path d="M596.3,402.9Q595.7,399.5 595.2,396.1" stroke="#bb1e21"/><path d="M578.8,389.4Q576.8,386.4 574.1,384.0" stroke="#a2b539"/><path d="M597.0,389.8Q597.7,386.8 597.1,383.7" stroke="#7bb675"/><path d="M590.9,420.1Q586.1,418.6 581.6,416.6" stroke="#e5d219"/><path d="M607.0,384.0Q609.8,380.1 609.5,375.2" stroke="#4fbfea"/><path d="M591.9,415.7Q590.3,411.6 589.7,407.1" stroke="#e7e028"/><path d="M604.8,384.6Q605.7,380.0 604.6,375.3" stroke="#4fbfe6"/><path d="M568.5,389.4Q567.3,386.3 566.1,383.2" stroke="#5eb8b7"/><path d="M597.1,393.8Q597.7,390.5 599.6,387.8" stroke="#9bcb5c"/><path d="M579.6,379.1Q579.4,376.8 579.4,374.5" stroke="#7dcc9d"/><path d="M583.9,415.5Q581.5,411.9 578.2,409.2" stroke="#b2c43b"/><path d="M584.4,420.1Q582.5,418.1 579.7,418.3" stroke="#b4c63b"/><path d="M587.0,418.6Q588.9,415.5 591.2,412.5" stroke="#f7ed27"/><path d="M577.4,378.2Q576.9,374.8 576.6,371.4" stroke="#a3d35c"/><path d="M596.3,413.4Q596.6,411.2 597.8,409.3" stroke="#c0cb35"/><path d="M612.9,385.8Q613.5,383.7 612.8,381.6" stroke="#57c2db"/><path d="M574.7,380.5Q573.9,376.8 570.9,374.5" stroke="#adc13c"/><path d="M582.9,426.3Q579.4,424.3 576.0,426.6" stroke="#768954"/><path d="M567.4,399.3Q566.3,396.7 566.2,393.8" stroke="#ae5d44"/><path d="M592.0,397.1Q592.4,394.4 592.6,391.7" stroke="#a61b1d"/><path d="M604.1,404.9Q607.5,402.9 611.0,401.0" stroke="#a61b1f"/><path d="M606.0,383.4Q608.0,380.8 608.8,377.7" stroke="#4ebde7"/><path d="M567.6,390.8Q563.9,387.6 563.9,382.6" stroke="#54b8cc"/><path d="M610.8,414.9Q612.7,411.9 616.2,411.4" stroke="#56bbce"/><path d="M555.2,392.1Q551.1,389.6 546.2,389.7" stroke="#7bb775"/><path d="M580.1,397.1Q580.2,393.7 579.8,390.2" stroke="#ea331f"/><path d="M593.6,400.7Q591.6,398.0 591.5,394.7" stroke="#b04f3e"/><path d="M608.7,400.1Q611.7,398.4 613.2,395.3" stroke="#b1676e"/><path d="M611.4,389.2Q614.1,385.2 616.0,380.7" stroke="#47acd3"/><path d="M613.2,408.1Q615.3,405.8 618.4,405.4" stroke="#99191c"/><path d="M596.6,397.0Q595.7,394.1 596.9,391.3" stroke="#a2522f"/><path d="M624.1,392.4Q627.3,390.6 630.8,389.7" stroke="#4195d4"/><path d="M567.4,407.7Q564.6,404.1 561.6,400.7" stroke="#94181d"/><path d="M562.8,410.4Q559.3,407.1 555.4,404.2" stroke="#8a161b"/><path d="M611.7,405.5Q614.2,405.8 616.7,405.7" stroke="#e12522"/><path d="M595.2,399.6Q596.3,398.0 596.6,396.0" stroke="#ba1e20"/><path d="M605.7,383.8Q604.0,379.1 604.4,374.2" stroke="#83b159"/><path d="M591.9,410.9Q593.9,408.5 596.0,406.3" stroke="#e2d721"/><path d="M559.0,394.4Q559.3,392.2 558.6,390.1" stroke="#6bb99d"/><path d="M579.1,379.5Q577.3,377.6 576.5,375.1" stroke="#e4dc25"/><path d="M570.6,415.9Q567.3,413.1 563.6,410.8" stroke="#51c2f5"/><path d="M603.6,413.4Q605.8,412.2 608.0,411.2" stroke="#ded725"/><path d="M567.8,400.6Q564.8,398.7 562.8,395.6" stroke="#f53a21"/><path d="M605.1,385.4Q606.5,381.9 608.2,378.6" stroke="#89d291"/><path d="M592.2,412.0Q594.4,409.3 596.6,406.6" stroke="#b9d345"/><path d="M606.6,417.8Q610.0,416.8 613.3,415.8" stroke="#213632"/><path d="M555.3,392.4Q553.1,388.9 551.1,385.3" stroke="#6eb893"/><path d="M580.1,422.7Q576.9,421.1 573.7,422.8" stroke="#c7cd31"/><path d="M597.3,388.0Q595.7,383.5 592.9,379.5" stroke="#d7b117"/><path d="M605.9,412.1Q608.9,410.5 612.0,409.2" stroke="#77d7c1"/><path d="M555.3,398.2Q553.0,395.2 551.0,391.9" stroke="#63d1e0"/><path d="M588.6,397.2Q587.5,394.0 588.0,390.6" stroke="#8c171b"/><path d="M585.4,381.6Q583.7,379.4 582.7,376.7" stroke="#8cd796"/><path d="M576.6,380.5Q577.0,376.3 578.9,372.5" stroke="#b3be33"/><path d="M617.0,410.2Q619.0,409.4 620.8,408.4" stroke="#8a161b"/><path d="M592.9,405.1Q593.2,401.5 594.0,397.9" stroke="#86ca88"/><path d="M575.9,378.5Q574.2,374.5 569.9,373.7" stroke="#83b35e"/><path d="M613.6,404.2Q614.7,402.0 615.6,399.7" stroke="#a21a1c"/><path d="M606.1,411.5Q609.2,409.0 611.3,405.7" stroke="#60c5cf"/><path d="M622.4,394.5Q623.4,391.0 625.4,388.0" stroke="#4dbbe0"/><path d="M603.0,394.9Q605.7,393.0 607.5,390.2" stroke="#74be95"/><path d="M587.6,390.3Q586.6,385.5 587.4,380.7" stroke="#7ec287"/><path d="M602.0,423.9Q604.6,420.8 608.6,420.0" stroke="#8ccc7e"/><path d="M601.9,379.7Q601.4,375.1 603.4,371.0" stroke="#5fad9c"/><path d="M579.1,405.5Q578.3,403.4 578.3,401.2" stroke="#c7db41"/><path d="M596.1,403.3Q597.0,400.8 598.8,398.6" stroke="#a2bd43"/><path d="M558.8,383.9Q558.1,381.5 558.7,379.1" stroke="#419bc3"/><path d="M607.7,385.8Q610.9,383.8 612.6,380.3" stroke="#56d0fe"/><path d="M585.6,400.5Q584.1,398.0 582.4,395.6" stroke="#90171c"/><path d="M601.5,418.9Q604.7,419.0 607.9,419.1" stroke="#b4c940"/><path d="M583.9,392.0Q583.9,389.8 583.1,387.8" stroke="#75b987"/><path d="M573.9,388.2Q573.6,385.6 573.8,383.0" stroke="#8ab14c"/><path d="M557.3,396.6Q556.0,394.0 553.5,392.6" stroke="#4ebded"/><path d="M607.8,394.2Q609.8,392.2 610.1,389.5" stroke="#4098c2"/><path d="M591.3,422.2Q594.4,425.6 597.7,428.7" stroke="#828e47"/><path d="M591.0,415.3Q590.5,411.8 592.7,409.0" stroke="#c5e049"/><path d="M590.2,424.9Q586.2,426.0 582.9,428.2" stroke="#535c2d"/><path d="M585.4,408.9Q585.6,406.0 587.2,403.7" stroke="#cec621"/><path d="M611.3,413.5Q613.6,410.2 617.0,407.9" stroke="#a45e4e"/><path d="M609.3,383.2Q612.0,381.7 614.6,379.9" stroke="#5ebaba"/><path d="M589.3,384.4Q592.1,380.9 593.0,376.5" stroke="#99b744"/><path d="M555.7,397.1Q552.4,397.6 549.3,398.8" stroke="#66cbce"/><path d="M601.2,392.9Q603.9,391.2 603.0,388.1" stroke="#95dd90"/><path d="M574.7,411.0Q571.4,408.1 567.8,405.5" stroke="#b0cc47"/><path d="M563.5,381.2Q563.1,378.5 562.1,376.0" stroke="#67c0b4"/><path d="M617.3,391.6Q621.0,390.4 624.7,389.5" stroke="#4091d2"/><path d="M617.9,399.3Q619.9,395.3 623.7,393.1" stroke="#5ecee5"/><path d="M577.4,401.7Q576.1,397.3 575.4,392.8" stroke="#e1331e"/><path d="M581.2,419.2Q578.6,416.9 577.6,413.6" stroke="#6ed9da"/><path d="M571.6,406.7Q568.4,403.3 564.9,400.0" stroke="#fc811f"/><path d="M587.9,407.2Q587.9,404.7 587.0,402.4" stroke="#b8d94e"/><path d="M566.5,403.2Q567.9,399.8 565.8,396.7" stroke="#bb1e1f"/><path d="M613.8,411.3Q616.6,409.3 620.0,409.4" stroke="#aa1c1e"/><path d="M594.2,418.5Q595.4,416.9 596.5,415.2" stroke="#bdc935"/><path d="M584.1,421.6Q579.8,419.1 576.6,415.3" stroke="#89b95d"/><path d="M586.8,384.7Q587.6,382.1 589.2,379.9" stroke="#7db267"/><path d="M588.7,410.7Q590.3,408.9 589.8,406.5" stroke="#89bf69"/><path d="M592.9,410.0Q595.3,407.8 597.7,405.4" stroke="#e4e530"/><path d="M585.1,419.0Q581.9,418.3 579.0,416.9" stroke="#c0c52e"/><path d="M590.7,395.5Q594.1,391.9 595.2,387.1" stroke="#a48350"/><path d="M592.7,396.3Q595.4,394.2 596.7,391.0" stroke="#a51b20"/><path d="M581.6,393.9Q579.8,390.1 577.1,386.7" stroke="#dddc2d"/><path d="M577.2,399.4Q577.2,395.7 574.5,393.1" stroke="#9a191d"/><path d="M593.0,377.4Q595.2,374.6 595.5,371.1" stroke="#a3dc6d"/><path d="M599.2,414.0Q604.1,414.6 608.7,413.1" stroke="#aeb730"/><path d="M623.8,396.0Q626.4,397.2 629.2,397.3" stroke="#79bf8b"/><path d="M594.2,414.0Q597.8,410.8 600.9,407.2" stroke="#e4e42e"/><path d="M559.0,405.1Q557.4,403.6 555.5,402.5" stroke="#a21a1f"/><path d="M609.1,409.0Q612.6,408.1 616.2,407.9" stroke="#be1f21"/><path d="M616.4,401.4Q618.7,398.0 622.6,399.3" stroke="#93c969"/><path d="M581.9,407.4Q579.0,404.3 576.7,400.7" stroke="#7ab575"/><path d="M590.4,390.2Q591.5,388.5 592.9,387.0" stroke="#62aa91"/><path d="M556.0,385.8Q554.0,385.2 552.1,385.9" stroke="#6bc6b7"/><path d="M591.4,394.4Q589.0,390.1 587.5,385.5" stroke="#66c5bf"/><path d="M623.2,388.1Q625.0,386.9 626.6,385.5" stroke="#49b1d9"/><path d="M577.2,421.4Q574.6,420.3 572.3,418.8" stroke="#bec32d"/><path d="M623.9,402.5Q625.8,398.5 629.6,396.3" stroke="#346ac0"/><path d="M593.2,390.1Q595.9,387.0 596.9,383.0" stroke="#77ae6b"/><path d="M590.9,381.5Q592.3,379.3 593.6,377.0" stroke="#a8b938"/><path d="M585.9,420.7Q584.1,424.1 581.4,426.9" stroke="#e0e231"/><path d="M600.6,380.0Q601.1,375.9 601.6,371.8" stroke="#96c963"/><path d="M607.5,388.8Q610.0,386.4 612.8,384.3" stroke="#449fd6"/><path d="M577.3,393.4Q578.4,389.9 575.8,387.4" stroke="#94da8a"/><path d="M599.5,393.2Q602.5,390.5 603.7,386.6" stroke="#98d06c"/><path d="M570.0,382.9Q569.0,378.1 567.4,373.5" stroke="#91de99"/><path d="M602.3,410.7Q606.7,410.5 610.5,408.5" stroke="#98bf4f"/><path d="M608.4,401.8Q610.7,401.6 611.6,399.5" stroke="#90171c"/><path d="M585.7,417.6Q587.6,414.1 586.9,410.1" stroke="#daeb42"/><path d="M594.3,417.5Q593.9,413.6 596.1,410.3" stroke="#bcbe29"/><path d="M619.8,393.6Q622.9,391.5 624.2,388.1" stroke="#4aaee7"/><path d="M571.4,378.7Q567.6,376.3 564.5,373.0" stroke="#55818a"/><path d="M578.4,399.1Q574.9,395.6 573.7,390.8" stroke="#96181c"/><path d="M603.8,403.7Q604.8,400.7 605.1,397.7" stroke="#9d191e"/><path d="M616.7,389.1Q618.0,387.3 620.1,386.5" stroke="#58b1b5"/><path d="M571.1,415.0Q567.4,413.8 563.7,412.7" stroke="#8cbd60"/><path d="M610.5,397.3Q611.8,393.6 610.7,389.9" stroke="#57b0b4"/><path d="M586.8,420.4Q583.8,420.8 580.9,420.6" stroke="#c6ca2e"/><path d="M612.3,397.1Q616.0,395.7 619.5,393.8" stroke="#57bed1"/><path d="M605.1,380.8Q605.8,378.1 605.2,375.3" stroke="#70ad78"/><path d="M577.9,413.2Q575.4,411.4 572.6,410.4" stroke="#fff61c"/><path d="M609.4,399.1Q612.9,395.7 617.2,393.5" stroke="#71ccb8"/><path d="M598.1,425.5Q601.4,424.8 604.7,423.8" stroke="#7d9a60"/><path d="M600.7,420.1Q602.6,417.1 605.7,415.5" stroke="#98ca60"/><path d="M601.3,380.2Q603.3,377.2 602.8,373.7" stroke="#a6cf55"/><path d="M587.4,420.3Q587.5,416.9 586.1,413.8" stroke="#c9cc2d"/><path d="M612.4,409.0Q617.1,410.2 621.8,409.3" stroke="#a31a1d"/><path d="M597.1,402.5Q600.1,399.5 602.0,395.8" stroke="#ac633e"/><path d="M574.5,400.0Q571.2,399.0 568.8,396.6" stroke="#b91e1f"/><path d="M621.1,397.8Q624.5,396.3 628.3,395.8" stroke="#48afd5"/><path d="M580.9,414.4Q580.5,411.3 582.3,408.7" stroke="#bcdc4e"/><path d="M585.6,404.3Q587.3,400.2 586.9,395.7" stroke="#7fb467"/><path d="M619.7,412.4Q621.6,409.1 623.5,405.7" stroke="#7d9586"/><path d="M595.3,413.7Q596.8,410.8 598.2,407.9" stroke="#9ec44f"/><path d="M576.2,408.3Q572.2,409.2 570.6,405.5" stroke="#ccd434"/><path d="M582.0,402.0Q582.3,397.5 581.3,393.1" stroke="#d1221e"/><path d="M582.4,395.6Q582.9,391.3 579.1,389.3" stroke="#c3cb32"/><path d="M575.3,410.5Q576.8,406.3 578.8,402.2" stroke="#d0ce29"/><path d="M570.9,399.9Q569.4,396.8 567.4,394.0" stroke="#b71e1b"/><path d="M602.1,416.8Q606.8,416.3 609.3,412.3" stroke="#7bbc81"/><path d="M591.4,396.9Q589.5,394.9 587.9,392.6" stroke="#c01f1e"/><path d="M585.3,416.9Q582.5,415.4 580.4,413.0" stroke="#bfda49"/><path d="M608.9,393.3Q613.4,392.4 617.2,389.8" stroke="#71c3a6"/><path d="M575.7,415.5Q572.8,416.4 570.0,417.4" stroke="#b5bd2f"/><path d="M614.2,393.3Q618.4,390.9 621.0,386.8" stroke="#51c4f5"/><path d="M622.0,407.9Q624.9,405.2 628.1,402.9" stroke="#3675c1"/><path d="M571.3,413.9Q566.6,413.6 562.4,411.6" stroke="#83c786"/><path d="M566.8,413.4Q564.6,413.0 562.4,413.5" stroke="#5c9386"/><path d="M610.0,411.6Q612.2,410.9 614.4,410.5" stroke="#7cab5b"/><path d="M570.7,410.9Q567.4,410.4 565.1,408.1" stroke="#60bfc0"/><path d="M582.9,393.4Q580.5,390.0 577.6,387.1" stroke="#90be59"/><path d="M573.5,386.3Q571.5,385.9 570.1,384.5" stroke="#a0d261"/><path d="M586.3,412.8Q584.2,410.1 581.0,408.9" stroke="#c5de48"/><path d="M610.4,403.6Q611.0,401.3 613.3,401.0" stroke="#cd211f"/><path d="M598.3,380.8Q598.7,378.5 599.2,376.3" stroke="#c2c228"/><path d="M590.5,423.3Q592.8,419.2 595.1,415.1" stroke="#ddd524"/><path d="M612.1,392.8Q615.0,391.4 617.8,390.0" stroke="#49adcc"/><path d="M581.0,413.7Q578.9,412.3 577.0,410.6" stroke="#c5d840"/><path d="M562.6,384.4Q561.5,382.4 559.6,381.3" stroke="#5abac3"/><path d="M601.5,407.2Q604.2,404.3 606.5,401.1" stroke="#c1e250"/><path d="M568.8,409.7Q566.1,408.6 563.2,409.1" stroke="#85bb69"/><path d="M590.2,397.1Q592.9,393.3 593.0,388.7" stroke="#ab1c1a"/><path d="M586.6,424.6Q589.8,424.0 592.3,426.0" stroke="#8fbc56"/><path d="M614.7,381.6Q614.4,378.9 616.8,377.4" stroke="#7ed3aa"/><path d="M567.6,398.3Q566.0,395.0 564.9,391.6" stroke="#a89792"/><path d="M561.5,399.1Q557.1,398.6 552.9,397.4" stroke="#8abf67"/><path d="M610.4,398.6Q612.1,394.6 613.5,390.4" stroke="#51bcdc"/><path d="M613.5,405.3Q615.4,404.2 616.8,402.6" stroke="#e4301f"/><path d="M589.6,394.1Q584.6,393.8 583.8,388.9" stroke="#ab1c21"/><path d="M556.3,398.9Q553.8,396.0 553.0,392.2" stroke="#6cd4d3"/><path d="M616.5,400.9Q618.3,399.7 619.1,397.7" stroke="#4cb9e4"/></g></g></g>

<filter id="bl7" x="-20%" y="-20%" width="140%" height="140%"><feGaussianBlur stdDeviation="0.9" result="b"/><feTurbulence type="fractalNoise" baseFrequency="0.12" numOctaves="2" seed="7" result="t"/><feDisplacementMap in="b" in2="t" scale="5" xChannelSelector="R" yChannelSelector="G"/></filter>
<clipPath id="c7"><path d="M83.19,456.69 C84.37,456.63 84.73,454.36 87.00,453.98 C89.27,453.59 94.09,453.72 96.81,454.36 C99.53,455.01 101.62,456.11 103.35,457.86 C105.08,459.60 106.44,462.38 107.16,464.84 C107.89,467.30 107.89,470.14 107.71,472.60 C107.53,475.06 106.80,477.39 106.07,479.58 C105.35,481.78 104.89,484.11 103.35,485.79 C101.81,487.47 98.99,488.96 96.81,489.67 C94.63,490.38 91.91,490.32 90.27,490.06 C88.63,489.80 88.27,488.70 87.00,488.12 C85.73,487.54 84.09,486.57 82.64,486.57 C81.19,486.57 79.55,487.41 78.28,488.12 C77.01,488.83 76.28,490.25 75.01,490.84 C73.74,491.42 72.74,491.74 70.65,491.61 C68.56,491.48 64.65,491.29 62.47,490.06 C60.29,488.83 58.84,486.50 57.57,484.24 C56.30,481.98 55.21,479.07 54.84,476.48 C54.48,473.89 54.75,471.31 55.39,468.72 C56.03,466.13 57.02,463.16 58.66,460.96 C60.29,458.76 62.75,456.69 65.20,455.53 C67.65,454.36 70.92,454.17 73.38,453.98 C75.83,453.78 78.28,453.91 79.91,454.36 C81.55,454.82 82.00,456.76 83.19,456.69Z"/></clipPath>
<g filter="url(#rag)"><g clip-path="url(#c7)"><path d="M83.19,456.69 C84.37,456.63 84.73,454.36 87.00,453.98 C89.27,453.59 94.09,453.72 96.81,454.36 C99.53,455.01 101.62,456.11 103.35,457.86 C105.08,459.60 106.44,462.38 107.16,464.84 C107.89,467.30 107.89,470.14 107.71,472.60 C107.53,475.06 106.80,477.39 106.07,479.58 C105.35,481.78 104.89,484.11 103.35,485.79 C101.81,487.47 98.99,488.96 96.81,489.67 C94.63,490.38 91.91,490.32 90.27,490.06 C88.63,489.80 88.27,488.70 87.00,488.12 C85.73,487.54 84.09,486.57 82.64,486.57 C81.19,486.57 79.55,487.41 78.28,488.12 C77.01,488.83 76.28,490.25 75.01,490.84 C73.74,491.42 72.74,491.74 70.65,491.61 C68.56,491.48 64.65,491.29 62.47,490.06 C60.29,488.83 58.84,486.50 57.57,484.24 C56.30,481.98 55.21,479.07 54.84,476.48 C54.48,473.89 54.75,471.31 55.39,468.72 C56.03,466.13 57.02,463.16 58.66,460.96 C60.29,458.76 62.75,456.69 65.20,455.53 C67.65,454.36 70.92,454.17 73.38,453.98 C75.83,453.78 78.28,453.91 79.91,454.36 C81.55,454.82 82.00,456.76 83.19,456.69Z" fill="#84c8a8"/><g filter="url(#bl7)"><path d="M65.20,455.53 C67.29,454.36 74.28,454.11 78.83,453.98 C83.37,453.85 90.00,453.59 92.45,454.75 C94.90,455.92 95.81,459.80 93.54,460.96 C91.27,462.12 83.37,461.74 78.83,461.74 C74.28,461.74 68.56,461.99 66.29,460.96 C64.02,459.93 63.11,456.69 65.20,455.53Z" fill="#d0d84c" fill-opacity="0.9"/><line x1="59.75" y1="465.62" x2="77.19" y2="464.84" stroke="#60c0d8" stroke-width="2.6" stroke-opacity="0.9" stroke-linecap="round"/><line x1="85.91" y1="465.62" x2="106.07" y2="464.84" stroke="#60c0d8" stroke-width="2.6" stroke-opacity="0.9" stroke-linecap="round"/><path d="M78.28,455.92 C79.10,454.56 81.46,455.20 82.64,456.69 C83.82,458.18 85.55,463.03 85.36,464.84 C85.18,466.65 82.82,467.56 81.55,467.56 C80.28,467.56 78.28,466.78 77.73,464.84 C77.19,462.90 77.46,457.27 78.28,455.92Z" fill="#e03a18" fill-opacity="1"/><ellipse cx="81.55" cy="462.90" rx="1.64" ry="1.94" fill="#901808" fill-opacity="0.8" transform="rotate(0 81.55 462.90)"/><ellipse cx="98.99" cy="469.50" rx="7.63" ry="3.88" fill="#78c8b8" fill-opacity="1" transform="rotate(0 98.99 469.50)"/><path d="M55.39,471.05 C57.21,469.37 68.11,469.37 70.65,471.05 C73.19,472.73 72.47,479.45 70.65,481.14 C68.83,482.82 62.29,482.82 59.75,481.14 C57.21,479.45 53.57,472.73 55.39,471.05Z" fill="#e0d840" fill-opacity="0.95"/><path d="M70.65,471.05 C72.10,469.30 75.74,467.69 77.19,469.88 C78.64,472.08 79.55,480.94 79.37,484.24 C79.19,487.54 77.73,488.77 76.10,489.67 C74.46,490.58 70.83,491.22 69.56,489.67 C68.29,488.12 68.29,483.46 68.47,480.36 C68.65,477.26 69.20,472.79 70.65,471.05Z" fill="#ec5a1a" fill-opacity="1"/><path d="M84.82,469.50 C86.18,467.04 90.72,468.33 93.54,469.50 C96.36,470.66 100.62,473.76 101.72,476.48 C102.81,479.20 102.08,483.85 100.08,485.79 C98.08,487.73 92.18,488.38 89.72,488.12 C87.27,487.86 86.18,487.34 85.36,484.24 C84.55,481.14 83.46,471.95 84.82,469.50Z" fill="#f06a1c" fill-opacity="1"/><line x1="85.91" y1="470.27" x2="88.09" y2="486.57" stroke="#e8d040" stroke-width="1.8" stroke-opacity="0.8" stroke-linecap="round"/><line x1="81.00" y1="469.50" x2="81.00" y2="485.02" stroke="#e8c838" stroke-width="2" stroke-opacity="0.9" stroke-linecap="round"/><ellipse cx="70.65" cy="483.46" rx="1.91" ry="2.33" fill="#b02010" fill-opacity="0.8" transform="rotate(0 70.65 483.46)"/><ellipse cx="78.83" cy="485.40" rx="1.91" ry="1.94" fill="#58b8d8" fill-opacity="0.8" transform="rotate(0 78.83 485.40)"/></g><g fill="none" stroke-width="0.9" stroke-opacity="0.5" stroke-linecap="round"><path d="M63.0,475.7Q58.5,474.0 55.5,470.3" stroke="#b8c839"/><path d="M82.8,461.5Q83.9,457.2 83.3,452.8" stroke="#bfcd39"/><path d="M69.4,472.5Q68.0,468.6 64.2,466.7" stroke="#b2d34d"/><path d="M97.2,480.8Q98.1,478.7 100.2,478.0" stroke="#d06c1a"/><path d="M75.1,460.1Q76.2,456.6 76.3,452.8" stroke="#8bd696"/><path d="M76.0,478.6Q74.7,474.0 72.2,469.9" stroke="#ff9121"/><path d="M77.7,482.8Q74.8,480.9 72.1,478.7" stroke="#ec801d"/><path d="M71.6,486.9Q68.8,490.3 65.4,493.3" stroke="#8e7e59"/><path d="M83.0,462.0Q82.1,459.3 82.5,456.6" stroke="#ee6f1e"/><path d="M98.8,463.0Q100.8,459.7 102.2,456.0" stroke="#6bbfa9"/><path d="M88.5,473.1Q85.9,469.4 85.6,464.8" stroke="#9eb63d"/><path d="M74.2,466.9Q73.0,462.4 71.8,458.0" stroke="#7ed7b2"/><path d="M101.9,467.4Q104.2,468.1 106.6,468.7" stroke="#77d4bc"/><path d="M87.6,465.6Q84.8,462.1 87.8,458.8" stroke="#8bc776"/><path d="M60.1,472.6Q58.5,470.3 55.9,469.4" stroke="#b5d249"/><path d="M70.4,483.5Q67.1,484.9 63.9,486.6" stroke="#b3e05c"/><path d="M101.2,468.8Q102.8,464.5 104.9,460.4" stroke="#45a8cb"/><path d="M67.1,477.5Q65.6,479.3 63.3,479.0" stroke="#91bd54"/><path d="M65.1,482.2Q62.1,480.2 58.7,479.1" stroke="#a0d261"/><path d="M84.6,488.1Q88.3,486.8 92.1,485.8" stroke="#9b7f43"/><path d="M101.4,469.6Q104.0,467.9 107.0,467.9" stroke="#48abca"/><path d="M67.3,473.7Q64.9,470.7 63.2,467.4" stroke="#d3d832"/><path d="M100.9,463.9Q104.6,463.9 107.1,461.1" stroke="#7dd9b8"/><path d="M83.3,486.9Q87.2,486.3 91.0,484.9" stroke="#83b96a"/><path d="M81.2,481.0Q77.4,477.9 74.8,473.7" stroke="#ff8e1f"/><path d="M82.8,461.4Q82.5,458.1 81.4,455.0" stroke="#f1651f"/><path d="M89.7,487.8Q92.8,487.3 95.7,486.3" stroke="#db4a1c"/><path d="M96.3,483.8Q98.1,481.8 99.2,479.4" stroke="#ff8d1f"/><path d="M85.2,479.4Q85.0,477.1 86.0,475.0" stroke="#e9a81a"/><path d="M85.9,457.3Q86.7,454.4 86.0,451.5" stroke="#6f7e3e"/><path d="M63.4,479.6Q59.8,476.2 56.1,473.1" stroke="#b9db4f"/><path d="M72.9,465.4Q71.3,462.6 68.7,460.8" stroke="#64c7c9"/><path d="M78.9,477.7Q77.4,475.9 77.3,473.6" stroke="#ff8a1f"/><path d="M60.3,483.4Q58.1,481.8 55.6,480.9" stroke="#99d87b"/><path d="M94.1,484.3Q96.2,482.1 97.6,479.4" stroke="#db5b1c"/><path d="M64.9,473.2Q61.5,470.2 58.9,466.4" stroke="#69b89e"/><path d="M89.8,459.8Q92.4,457.2 94.9,454.5" stroke="#b4d048"/><path d="M71.2,490.1Q69.0,490.8 66.9,491.7" stroke="#453f2c"/><path d="M79.6,470.5Q78.0,467.9 76.4,465.3" stroke="#57abaa"/><path d="M71.7,486.6Q68.7,486.5 65.8,485.6" stroke="#ad653c"/><path d="M80.5,470.6Q82.5,466.5 84.6,462.5" stroke="#ca8b63"/><path d="M87.9,479.6Q91.9,477.3 96.1,475.4" stroke="#dc2420"/><path d="M69.9,478.4Q69.7,476.2 68.3,474.5" stroke="#faaf1d"/><path d="M71.9,473.0Q68.7,470.1 65.2,467.5" stroke="#90b94f"/><path d="M73.3,459.8Q74.3,457.1 75.9,454.6" stroke="#93bf53"/><path d="M94.2,455.1Q97.1,455.1 100.0,454.4" stroke="#b9dd53"/><path d="M66.4,476.5Q65.5,473.6 65.1,470.7" stroke="#e4ec39"/><path d="M95.8,461.0Q97.1,459.2 98.7,457.8" stroke="#6fb183"/><path d="M86.4,475.6Q88.8,472.7 91.2,469.8" stroke="#e07b1b"/><path d="M100.0,463.7Q102.8,462.0 106.0,461.5" stroke="#70cebe"/><path d="M60.2,467.4Q58.4,464.9 56.9,462.3" stroke="#67cdcf"/><path d="M93.4,458.5Q97.0,455.7 100.2,452.3" stroke="#7bbe86"/><path d="M79.0,457.3Q79.3,454.5 80.8,452.1" stroke="#a68637"/><path d="M65.0,477.4Q63.7,475.5 61.5,475.0" stroke="#a9d559"/><path d="M78.5,486.9Q74.7,484.6 71.0,482.0" stroke="#d43e1c"/><path d="M85.6,460.5Q87.8,458.3 88.9,455.4" stroke="#9eb73e"/><path d="M71.8,478.2Q71.4,474.6 68.5,472.3" stroke="#f88d1e"/><path d="M72.7,487.3Q71.8,484.6 69.2,483.4" stroke="#c62f1a"/><path d="M85.2,460.5Q85.4,457.6 86.9,455.1" stroke="#85c278"/><path d="M86.4,459.1Q89.6,457.7 91.6,454.8" stroke="#bad74a"/><path d="M73.8,484.7Q71.1,482.5 68.2,480.3" stroke="#d4481b"/><path d="M77.1,472.5Q76.4,468.8 78.0,465.2" stroke="#92c767"/><path d="M65.2,469.8Q62.6,468.1 61.0,465.4" stroke="#8fb74e"/><path d="M61.1,475.5Q59.3,473.1 56.7,471.6" stroke="#9dcb58"/><path d="M77.3,460.4Q76.0,455.8 75.5,451.1" stroke="#d4da33"/><path d="M71.3,484.0Q68.6,481.9 65.4,480.7" stroke="#ff8720"/><path d="M87.5,460.4Q88.2,456.9 87.6,453.3" stroke="#edeb2f"/><path d="M98.1,475.5Q99.6,473.4 101.8,471.9" stroke="#99ce66"/><path d="M79.0,489.8Q77.5,486.3 76.7,482.5" stroke="#b76145"/><path d="M82.5,480.1Q83.7,476.1 80.3,473.7" stroke="#cfd22e"/><path d="M72.1,466.5Q71.4,464.4 70.5,462.3" stroke="#9edc7a"/><path d="M72.4,486.5Q69.1,488.1 65.6,489.5" stroke="#a3734a"/><path d="M88.8,486.3Q91.7,485.6 94.7,486.1" stroke="#d7341d"/><path d="M95.1,487.3Q98.9,486.2 101.6,483.4" stroke="#7bb36e"/><path d="M71.8,461.3Q69.8,458.1 69.2,454.3" stroke="#c0e251"/><path d="M95.6,473.8Q97.9,470.6 98.6,466.7" stroke="#82b15a"/><path d="M85.9,477.5Q88.0,476.0 90.2,474.6" stroke="#e4761c"/><path d="M66.5,481.3Q62.0,480.8 57.7,481.7" stroke="#a9c242"/><path d="M91.9,468.8Q95.8,466.2 100.4,465.4" stroke="#6bb593"/><path d="M86.9,482.1Q90.0,478.9 94.1,480.3" stroke="#ff6f21"/><path d="M78.4,482.9Q79.5,480.8 78.9,478.4" stroke="#b5c438"/><path d="M95.3,466.3Q98.5,465.9 100.7,463.5" stroke="#61c4c9"/><path d="M65.9,479.6Q63.4,479.6 61.5,478.0" stroke="#8db049"/><path d="M98.1,466.6Q99.8,464.8 100.9,462.6" stroke="#64b4a2"/><path d="M96.8,481.7Q101.0,481.4 104.9,480.0" stroke="#dc701b"/><path d="M94.8,473.2Q97.7,469.9 101.8,468.4" stroke="#62c2c4"/><path d="M66.7,483.9Q63.2,482.0 59.6,480.7" stroke="#a7cd51"/><path d="M76.7,474.3Q76.6,472.1 77.5,470.0" stroke="#b88956"/><path d="M92.0,462.1Q91.3,459.2 92.4,456.5" stroke="#81bf7b"/><path d="M63.6,473.2Q61.0,469.3 56.5,468.2" stroke="#7cd4af"/><path d="M72.0,475.1Q69.4,472.8 68.1,469.7" stroke="#ffc31f"/><path d="M98.6,462.2Q102.8,459.7 104.4,455.1" stroke="#65b6a4"/><path d="M59.9,472.3Q55.4,470.5 52.6,466.5" stroke="#5d7c58"/><path d="M85.2,483.8Q87.0,481.2 87.2,478.1" stroke="#d48219"/><path d="M90.5,458.9Q91.1,455.7 91.6,452.5" stroke="#9fd66a"/><path d="M72.6,458.3Q72.1,456.4 72.9,454.5" stroke="#a4c146"/><path d="M88.9,483.0Q92.5,481.7 96.0,480.2" stroke="#da591c"/><path d="M68.3,483.3Q64.6,482.3 60.7,482.6" stroke="#80ac54"/><path d="M64.9,479.8Q61.7,480.5 59.0,478.7" stroke="#8ccb7b"/><path d="M93.3,460.1Q93.8,456.7 95.6,453.8" stroke="#b8c434"/><path d="M86.5,476.5Q88.4,472.9 89.1,468.7" stroke="#ef771e"/><path d="M101.1,468.8Q100.9,465.9 99.8,463.1" stroke="#5cd1ef"/><path d="M95.0,470.4Q98.3,468.5 101.9,467.5" stroke="#75ba89"/><path d="M82.1,486.5Q80.8,484.3 79.9,482.0" stroke="#95da88"/><path d="M94.7,470.6Q97.5,467.0 101.9,465.7" stroke="#5ebabb"/><path d="M98.3,482.9Q101.9,482.0 104.1,478.9" stroke="#a6df6d"/><path d="M103.7,474.2Q107.0,473.5 108.9,470.7" stroke="#476d5b"/><path d="M87.6,469.8Q85.8,465.7 83.4,462.0" stroke="#6eb792"/><path d="M63.6,475.3Q60.4,475.1 57.2,474.9" stroke="#e2dc29"/><path d="M84.7,485.5Q89.0,486.0 93.2,484.5" stroke="#ff7521"/><path d="M81.8,483.7Q80.0,479.3 80.3,474.5" stroke="#9fd86e"/><path d="M82.4,475.2Q85.0,473.6 85.2,470.5" stroke="#d39318"/><path d="M79.8,483.1Q79.9,479.0 81.4,475.2" stroke="#bdc834"/><path d="M65.1,468.2Q61.8,465.6 59.7,461.8" stroke="#65cacc"/><path d="M87.0,488.8Q89.6,489.2 92.0,487.9" stroke="#746c49"/><path d="M104.3,469.6Q106.5,466.3 110.4,466.0" stroke="#2d4b47"/><path d="M85.7,485.2Q86.3,483.1 88.1,481.9" stroke="#f07d1e"/><path d="M74.3,483.1Q72.5,482.0 70.8,480.8" stroke="#d23c1c"/><path d="M57.9,469.9Q56.0,468.8 53.8,468.8" stroke="#76d9c8"/><path d="M92.4,476.8Q93.7,474.2 95.4,471.7" stroke="#fd841f"/><path d="M70.0,465.9Q66.3,463.5 63.9,459.9" stroke="#87d7a0"/><path d="M78.7,487.3Q82.9,484.9 83.5,480.1" stroke="#67b69f"/><path d="M70.7,476.8Q66.2,475.0 61.8,472.9" stroke="#b6c83b"/><path d="M67.3,481.3Q64.3,480.6 61.3,480.5" stroke="#fedb1b"/><path d="M74.5,483.3Q72.1,481.1 68.9,480.1" stroke="#f95c20"/><path d="M79.4,473.2Q79.5,468.8 80.2,464.5" stroke="#c2da46"/><path d="M94.5,470.8Q97.8,469.1 99.2,465.6" stroke="#84ce93"/><path d="M97.6,462.9Q101.4,462.9 104.9,461.6" stroke="#79d8be"/><path d="M87.7,480.5Q87.1,476.5 89.6,473.3" stroke="#d19018"/><path d="M70.3,458.7Q68.9,456.5 66.9,454.7" stroke="#b5d34b"/><path d="M81.1,458.9Q82.5,456.9 83.1,454.5" stroke="#e6df27"/><path d="M72.9,475.5Q70.5,473.5 67.6,472.3" stroke="#ded01d"/><path d="M79.3,478.0Q79.3,475.8 79.3,473.6" stroke="#99bc4b"/><path d="M80.6,466.7Q79.5,463.2 79.1,459.6" stroke="#bc1f22"/><path d="M82.4,483.0Q85.3,480.0 87.9,476.7" stroke="#ffc81d"/><path d="M82.3,465.2Q81.2,463.1 79.5,461.5" stroke="#f52921"/><path d="M80.9,485.4Q81.1,483.0 79.9,480.8" stroke="#86b964"/><path d="M74.4,485.5Q70.9,485.2 67.8,483.6" stroke="#d23a1c"/><path d="M70.6,484.7Q68.6,488.4 64.6,489.5" stroke="#c58b59"/><path d="M78.3,466.4Q78.0,463.6 78.4,460.7" stroke="#f83f21"/></g></g></g>

<filter id="bl8" x="-20%" y="-20%" width="140%" height="140%"><feGaussianBlur stdDeviation="0.9" result="b"/><feTurbulence type="fractalNoise" baseFrequency="0.12" numOctaves="2" seed="8" result="t"/><feDisplacementMap in="b" in2="t" scale="5" xChannelSelector="R" yChannelSelector="G"/></filter>
<clipPath id="c8"><path d="M182.41,453.97 C185.35,453.97 187.64,452.67 190.91,452.67 C194.18,452.67 198.98,452.96 202.03,453.97 C205.08,454.98 207.48,456.57 209.22,458.74 C210.97,460.91 212.06,463.81 212.49,466.99 C212.93,470.17 212.60,474.44 211.84,477.84 C211.08,481.24 209.77,484.93 207.91,487.39 C206.06,489.85 203.88,491.73 200.72,492.60 C197.56,493.46 192.22,492.89 188.95,492.60 C185.68,492.31 183.28,491.00 181.10,490.86 C178.92,490.72 178.59,491.29 175.87,491.73 C173.14,492.16 168.24,493.97 164.75,493.46 C161.26,492.96 157.34,491.15 154.94,488.69 C152.54,486.23 151.23,482.11 150.36,478.71 C149.49,475.31 149.16,471.47 149.71,468.29 C150.25,465.11 151.67,461.93 153.63,459.61 C155.59,457.30 158.21,455.56 161.48,454.40 C164.75,453.25 169.76,452.74 173.25,452.67 C176.74,452.60 179.47,453.97 182.41,453.97Z"/></clipPath>
<g filter="url(#rag)"><g clip-path="url(#c8)"><path d="M182.41,453.97 C185.35,453.97 187.64,452.67 190.91,452.67 C194.18,452.67 198.98,452.96 202.03,453.97 C205.08,454.98 207.48,456.57 209.22,458.74 C210.97,460.91 212.06,463.81 212.49,466.99 C212.93,470.17 212.60,474.44 211.84,477.84 C211.08,481.24 209.77,484.93 207.91,487.39 C206.06,489.85 203.88,491.73 200.72,492.60 C197.56,493.46 192.22,492.89 188.95,492.60 C185.68,492.31 183.28,491.00 181.10,490.86 C178.92,490.72 178.59,491.29 175.87,491.73 C173.14,492.16 168.24,493.97 164.75,493.46 C161.26,492.96 157.34,491.15 154.94,488.69 C152.54,486.23 151.23,482.11 150.36,478.71 C149.49,475.31 149.16,471.47 149.71,468.29 C150.25,465.11 151.67,461.93 153.63,459.61 C155.59,457.30 158.21,455.56 161.48,454.40 C164.75,453.25 169.76,452.74 173.25,452.67 C176.74,452.60 179.47,453.97 182.41,453.97Z" fill="#78c4b0"/><g filter="url(#bl8)"><path d="M158.21,455.27 C161.48,453.97 170.20,453.54 177.83,453.54 C185.46,453.54 199.63,453.97 203.99,455.27 C208.35,456.57 207.81,460.19 203.99,461.35 C200.18,462.51 188.73,462.22 181.10,462.22 C173.47,462.22 162.03,462.51 158.21,461.35 C154.40,460.19 154.94,456.57 158.21,455.27Z" fill="#c6d85c" fill-opacity="0.9"/><ellipse cx="181.10" cy="459.61" rx="3.27" ry="2.60" fill="#e89030" fill-opacity="0.8" transform="rotate(0 181.10 459.61)"/><path d="M155.59,469.16 C158.86,466.85 171.62,466.12 175.21,468.29 C178.81,470.46 177.50,478.42 177.18,482.18 C176.85,485.94 175.87,489.41 173.25,490.86 C170.64,492.31 164.42,492.31 161.48,490.86 C158.54,489.41 156.57,485.80 155.59,482.18 C154.61,478.56 152.32,471.47 155.59,469.16Z" fill="#e6c036" fill-opacity="0.95"/><line x1="173.25" y1="469.16" x2="175.87" y2="480.01" stroke="#f07020" stroke-width="2.6" stroke-opacity="0.95" stroke-linecap="round"/><ellipse cx="164.75" cy="477.84" rx="5.23" ry="5.21" fill="#f09028" fill-opacity="0.8" transform="rotate(10 164.75 477.84)"/><ellipse cx="169.98" cy="474.37" rx="1.96" ry="1.74" fill="#206080" fill-opacity="0.9" transform="rotate(0 169.98 474.37)"/><path d="M158.21,486.52 C159.52,485.36 165.95,484.64 168.02,485.65 C170.09,486.66 171.94,491.44 170.64,492.60 C169.33,493.75 162.24,493.61 160.17,492.60 C158.10,491.58 156.90,487.68 158.21,486.52Z" fill="#3a88d0" fill-opacity="0.9"/><ellipse cx="154.94" cy="473.50" rx="3.92" ry="5.21" fill="#4a9cc8" fill-opacity="0.8" transform="rotate(0 154.94 473.50)"/><path d="M186.33,468.29 C188.73,465.54 198.21,467.93 202.03,469.16 C205.84,470.39 208.57,472.78 209.22,475.67 C209.88,478.56 208.24,484.28 205.95,486.52 C203.66,488.76 198.54,489.27 195.49,489.12 C192.44,488.98 189.17,489.12 187.64,485.65 C186.11,482.18 183.93,471.04 186.33,468.29Z" fill="#f08428" fill-opacity="1"/><line x1="188.95" y1="470.03" x2="194.18" y2="488.26" stroke="#e8c838" stroke-width="1.8" stroke-opacity="0.7" stroke-linecap="round"/><ellipse cx="200.72" cy="475.67" rx="4.58" ry="8.68" fill="#f06a20" fill-opacity="0.9" transform="rotate(-15 200.72 475.67)"/><line x1="181.10" y1="467.42" x2="181.10" y2="491.73" stroke="#70c0b8" stroke-width="2.6" stroke-opacity="0.95" stroke-linecap="round"/></g><g fill="none" stroke-width="0.9" stroke-opacity="0.5" stroke-linecap="round"><path d="M156.4,482.0Q152.0,479.6 147.3,477.9" stroke="#6acac2"/><path d="M184.6,471.3Q185.2,468.5 184.9,465.6" stroke="#91cb72"/><path d="M173.3,488.8Q168.8,489.0 164.4,489.7" stroke="#7bc492"/><path d="M172.5,483.8Q170.2,482.8 168.2,481.4" stroke="#ead418"/><path d="M175.8,466.1Q176.3,462.2 177.7,458.5" stroke="#81ba6f"/><path d="M195.0,471.3Q195.7,468.8 197.3,466.8" stroke="#fc841f"/><path d="M182.6,467.7Q184.8,464.8 186.6,461.5" stroke="#53b6ca"/><path d="M198.1,485.0Q200.4,480.9 197.3,477.3" stroke="#ffab1f"/><path d="M154.7,473.2Q151.5,469.9 149.5,465.8" stroke="#78cba6"/><path d="M177.9,471.3Q174.4,468.7 172.9,464.5" stroke="#a3e177"/><path d="M176.1,469.0Q177.9,465.1 180.1,461.5" stroke="#49a8c1"/><path d="M182.0,483.1Q183.7,479.3 186.3,476.2" stroke="#a9ca4b"/><path d="M152.5,471.0Q150.6,469.5 149.6,467.3" stroke="#77cdac"/><path d="M191.8,487.2Q196.1,487.5 200.4,488.4" stroke="#e6a858"/><path d="M199.8,472.8Q200.9,469.7 202.6,466.9" stroke="#d18f53"/><path d="M190.0,468.5Q193.4,465.6 193.6,461.0" stroke="#86bd6b"/><path d="M162.7,460.3Q161.0,457.0 160.4,453.3" stroke="#b1cf4a"/><path d="M185.0,487.8Q187.2,483.8 187.4,479.3" stroke="#fd7c1f"/><path d="M183.6,491.9Q186.5,490.7 189.2,489.1" stroke="#609d8d"/><path d="M200.8,480.1Q205.0,482.5 208.4,479.1" stroke="#f6c01b"/><path d="M182.9,471.7Q183.1,467.6 182.2,463.5" stroke="#7dc590"/><path d="M180.6,457.8Q180.6,454.8 180.5,451.8" stroke="#adcb49"/><path d="M157.6,485.5Q157.2,483.2 154.8,483.2" stroke="#f8f32d"/><path d="M182.2,483.0Q184.8,479.9 184.9,475.8" stroke="#8cb049"/><path d="M184.2,485.1Q187.0,481.3 188.2,476.8" stroke="#ffa21f"/><path d="M170.0,482.1Q165.6,483.4 161.3,484.9" stroke="#e1d723"/><path d="M177.0,477.0Q175.8,474.3 176.5,471.3" stroke="#8fdc9a"/><path d="M183.9,488.2Q186.1,485.3 188.2,482.3" stroke="#d0a35d"/><path d="M187.0,481.5Q191.9,481.5 192.5,476.6" stroke="#f6a21d"/><path d="M203.6,462.1Q202.5,457.6 205.4,454.1" stroke="#abbb37"/><path d="M180.3,464.4Q179.6,460.1 179.4,455.8" stroke="#a8bc3b"/><path d="M196.2,486.2Q200.3,484.8 203.9,482.3" stroke="#ea9d1b"/><path d="M195.2,488.5Q196.4,486.2 198.1,484.4" stroke="#fb8d1e"/><path d="M173.8,490.6Q169.6,490.1 165.6,491.2" stroke="#95d681"/><path d="M183.9,490.3Q183.8,487.6 185.7,485.6" stroke="#a0ca55"/><path d="M184.0,493.0Q180.0,491.0 179.1,486.6" stroke="#182926"/><path d="M172.1,494.8Q170.1,491.5 167.6,488.7" stroke="#3d544e"/><path d="M208.8,481.9Q210.5,479.7 212.3,477.6" stroke="#678067"/><path d="M156.6,469.6Q153.3,466.1 149.6,463.0" stroke="#98de88"/><path d="M191.0,470.7Q194.0,467.9 193.5,463.8" stroke="#bf8442"/><path d="M159.0,479.6Q155.7,476.4 152.7,472.8" stroke="#69ae8a"/><path d="M180.9,492.0Q181.6,489.2 180.4,486.6" stroke="#58aaa8"/><path d="M183.0,458.5Q183.8,455.9 183.8,453.2" stroke="#cedd3d"/><path d="M202.3,485.9Q206.4,484.9 210.5,486.0" stroke="#fc7d1f"/><path d="M161.3,484.9Q158.8,483.8 156.7,485.4" stroke="#83ba6c"/><path d="M184.3,467.3Q183.3,464.3 181.3,462.0" stroke="#4cb2d1"/><path d="M192.2,472.4Q192.0,469.4 192.9,466.5" stroke="#cb551a"/><path d="M172.3,471.0Q172.8,467.0 171.7,463.2" stroke="#9fd567"/><path d="M192.2,483.7Q192.5,481.2 194.8,480.5" stroke="#e39c1a"/><path d="M191.7,479.1Q195.5,478.3 199.3,477.6" stroke="#cd6419"/><path d="M192.8,470.2Q195.6,467.9 197.3,464.8" stroke="#b87d44"/><path d="M182.4,492.5Q184.0,489.1 186.1,486.0" stroke="#68b79f"/><path d="M164.3,461.4Q162.0,458.1 158.2,456.6" stroke="#b5dd57"/><path d="M188.2,488.9Q192.7,490.7 196.8,493.1" stroke="#7fb468"/><path d="M190.4,489.8Q195.2,489.9 199.9,489.1" stroke="#9bb944"/><path d="M184.8,461.1Q185.3,457.0 183.4,453.3" stroke="#d2c61c"/><path d="M167.1,485.8Q165.2,483.5 162.4,482.8" stroke="#e4b219"/><path d="M168.4,490.5Q165.7,487.1 162.0,484.8" stroke="#6abca6"/><path d="M163.6,478.5Q160.0,478.1 156.7,476.4" stroke="#d69119"/><path d="M189.6,463.9Q188.6,460.7 188.6,457.4" stroke="#8ec76f"/><path d="M202.4,470.7Q204.8,469.0 206.1,466.4" stroke="#88b251"/><path d="M195.8,464.4Q197.0,459.8 199.2,455.7" stroke="#87d79f"/><path d="M161.2,467.0Q159.8,464.7 158.9,462.1" stroke="#80ce9c"/><path d="M167.6,477.8Q167.2,475.4 165.2,474.0" stroke="#b0823c"/><path d="M175.9,482.7Q172.2,480.3 169.2,477.0" stroke="#c9d032"/><path d="M170.5,468.7Q169.5,465.8 167.1,463.9" stroke="#a2d562"/><path d="M180.3,485.1Q179.6,480.7 178.0,476.5" stroke="#4fafc3"/><path d="M183.1,476.6Q182.6,472.4 184.8,468.8" stroke="#50c1f4"/><path d="M203.5,467.0Q204.3,464.5 205.0,462.0" stroke="#64c0bb"/><path d="M203.2,465.1Q203.3,462.8 204.5,460.7" stroke="#68d4db"/><path d="M170.1,479.4Q167.6,479.4 165.1,479.2" stroke="#ffc91e"/><path d="M193.2,487.8Q197.8,488.9 200.0,493.0" stroke="#a7c345"/><path d="M179.6,464.4Q177.9,461.2 177.4,457.6" stroke="#b4c439"/><path d="M173.6,458.7Q173.2,456.3 173.4,453.9" stroke="#a0d96e"/><path d="M189.8,466.6Q190.2,463.4 191.1,460.3" stroke="#6eb997"/><path d="M189.8,471.5Q189.1,468.9 187.6,466.5" stroke="#eba21b"/><path d="M178.9,456.4Q177.1,455.4 175.3,454.4" stroke="#b4ce46"/><path d="M159.4,471.1Q159.4,467.8 159.2,464.4" stroke="#94b648"/><path d="M160.6,484.6Q159.0,483.3 157.1,482.4" stroke="#e7eb36"/><path d="M180.3,458.0Q179.2,453.9 178.9,449.7" stroke="#8fb248"/><path d="M191.3,475.0Q195.4,473.4 198.3,470.1" stroke="#ff7c21"/><path d="M182.1,467.5Q182.0,464.5 181.1,461.8" stroke="#6eb58f"/><path d="M164.5,459.9Q162.8,457.8 161.7,455.4" stroke="#8fb44b"/><path d="M186.2,485.0Q187.5,482.6 188.7,480.2" stroke="#d16a1a"/><path d="M158.1,468.0Q153.6,466.5 150.4,462.9" stroke="#9ec854"/><path d="M184.7,473.2Q186.9,470.2 188.6,466.9" stroke="#edab1b"/><path d="M198.8,463.2Q199.4,459.3 196.7,456.4" stroke="#b8dd53"/><path d="M166.3,466.0Q165.1,463.3 162.6,461.8" stroke="#69bba7"/><path d="M183.4,480.9Q185.5,477.3 185.3,473.1" stroke="#b2da56"/><path d="M180.4,470.2Q179.1,466.5 179.6,462.6" stroke="#71d4c9"/><path d="M203.1,479.7Q206.2,477.6 207.8,474.2" stroke="#ff841f"/><path d="M181.8,470.0Q182.7,466.8 183.2,463.5" stroke="#4bb4df"/><path d="M167.4,485.5Q164.5,483.2 160.9,482.2" stroke="#fff51f"/><path d="M199.5,463.1Q201.6,459.2 204.5,455.7" stroke="#93cb6d"/><path d="M167.3,476.2Q164.0,478.0 161.5,475.2" stroke="#dfa719"/><path d="M174.6,460.2Q170.5,457.7 170.0,452.9" stroke="#87b65b"/><path d="M173.5,478.3Q173.3,475.2 173.2,472.1" stroke="#d48a19"/><path d="M196.3,462.5Q196.4,458.8 197.1,455.1" stroke="#eae52b"/><path d="M203.1,477.0Q204.8,475.3 206.5,473.5" stroke="#f85020"/><path d="M171.1,474.6Q173.0,470.7 173.1,466.2" stroke="#d29b18"/><path d="M163.6,465.8Q159.9,464.6 156.1,464.3" stroke="#56bacc"/><path d="M207.3,478.4Q209.9,477.5 211.9,475.7" stroke="#5d735c"/><path d="M195.5,492.1Q197.7,491.2 200.0,491.5" stroke="#54a8a9"/><path d="M182.5,468.5Q183.4,465.9 185.5,464.1" stroke="#75b37b"/><path d="M183.8,461.2Q184.7,458.6 184.0,455.9" stroke="#a9d356"/><path d="M176.1,472.7Q175.0,468.2 171.8,464.8" stroke="#99bd4c"/><path d="M201.6,469.7Q203.5,468.9 205.5,468.1" stroke="#94d074"/><path d="M199.6,474.1Q200.8,472.4 202.4,471.0" stroke="#ff5622"/><path d="M195.8,461.4Q196.1,458.4 194.1,456.0" stroke="#65a886"/><path d="M170.1,475.0Q168.0,473.5 166.3,471.6" stroke="#a68b4e"/><path d="M189.0,487.0Q191.9,485.4 194.5,483.3" stroke="#ff9f20"/><path d="M186.8,486.8Q189.0,482.9 193.0,480.8" stroke="#f8a81d"/><path d="M184.9,471.5Q183.3,467.6 183.4,463.4" stroke="#88d79e"/><path d="M178.7,482.5Q176.6,478.6 177.0,474.2" stroke="#9acf67"/><path d="M174.3,474.5Q174.9,470.9 173.4,467.6" stroke="#bdc12c"/><path d="M172.4,478.5Q168.0,478.4 164.2,476.4" stroke="#edad1b"/><path d="M195.6,491.5Q199.2,491.1 201.9,488.5" stroke="#8dbf60"/><path d="M183.6,481.1Q184.5,479.2 186.2,478.1" stroke="#7ece9e"/><path d="M168.0,492.1Q164.1,489.6 160.0,491.5" stroke="#3780b0"/><path d="M175.4,476.8Q172.9,472.8 170.3,468.9" stroke="#d19b17"/><path d="M187.6,476.7Q188.7,473.1 188.5,469.3" stroke="#e0731c"/><path d="M175.8,476.7Q174.1,473.3 173.1,469.7" stroke="#e6561e"/><path d="M159.9,470.3Q157.7,468.9 155.2,468.2" stroke="#5dbdc3"/><path d="M171.7,469.2Q168.9,466.7 166.7,463.6" stroke="#c7e852"/><path d="M163.7,470.2Q160.5,467.6 158.4,464.0" stroke="#b2cb43"/><path d="M200.4,486.3Q203.5,485.1 206.6,484.1" stroke="#e7b519"/><path d="M196.7,460.5Q195.5,455.8 194.6,451.0" stroke="#87c57b"/><path d="M189.2,486.9Q193.5,484.8 195.6,480.5" stroke="#f99d1d"/><path d="M154.6,475.2Q150.9,473.1 149.4,469.2" stroke="#429ecc"/><path d="M187.4,470.1Q188.9,468.0 190.5,466.0" stroke="#fb891f"/><path d="M195.6,478.4Q195.6,474.2 199.1,471.9" stroke="#e3891b"/><path d="M162.4,463.0Q160.3,461.6 158.4,459.9" stroke="#81b96c"/><path d="M174.4,469.5Q172.0,467.3 172.6,464.0" stroke="#77ad69"/><path d="M155.5,473.1Q153.9,470.9 153.7,468.1" stroke="#5cd7fb"/><path d="M155.8,484.7Q153.0,482.1 149.3,480.9" stroke="#87c274"/><path d="M172.8,479.9Q169.3,476.4 164.5,476.6" stroke="#b0934f"/><path d="M189.6,484.3Q192.8,485.4 195.5,483.5" stroke="#ffd11e"/><path d="M203.8,465.9Q205.7,463.3 207.5,460.7" stroke="#6cd0cb"/><path d="M201.5,467.5Q202.3,465.4 204.5,464.8" stroke="#6cd3cf"/><path d="M165.6,482.3Q163.9,480.7 162.0,479.2" stroke="#d8851a"/><path d="M199.7,463.2Q202.4,459.2 203.4,454.5" stroke="#b3c439"/><path d="M170.9,491.7Q168.4,492.4 165.8,492.5" stroke="#45727c"/><path d="M180.5,492.7Q183.0,489.8 184.5,486.3" stroke="#51867a"/><path d="M199.8,476.3Q201.5,473.6 202.2,470.3" stroke="#ff7c20"/><path d="M166.7,488.2Q162.9,490.6 158.6,489.3" stroke="#2f65aa"/><path d="M193.5,459.6Q197.3,456.8 197.0,452.1" stroke="#a0e07c"/><path d="M172.2,455.6Q174.1,454.0 174.4,451.6" stroke="#5ab0ae"/><path d="M198.9,462.0Q202.9,459.9 206.3,457.0" stroke="#64a98a"/><path d="M159.0,476.0Q157.4,474.6 155.5,473.6" stroke="#74c099"/><path d="M166.3,467.4Q162.4,464.5 159.8,460.3" stroke="#75c5a0"/><path d="M188.4,472.3Q189.0,468.2 190.8,464.5" stroke="#ffae20"/><path d="M159.1,488.4Q157.4,485.5 154.1,486.4" stroke="#9fc14a"/><path d="M191.4,462.6Q193.7,460.4 194.4,457.3" stroke="#8fb74e"/><path d="M190.2,484.2Q193.1,481.5 195.3,478.2" stroke="#e58b1b"/><path d="M178.9,491.6Q182.2,490.4 185.6,489.8" stroke="#45746b"/><path d="M200.6,488.8Q203.5,487.1 206.5,485.6" stroke="#b88645"/><path d="M199.9,480.6Q201.4,478.6 203.4,477.1" stroke="#e2701c"/><path d="M173.2,461.0Q171.3,456.5 170.5,451.7" stroke="#8fbd58"/><path d="M167.2,473.6Q164.1,469.8 165.3,465.1" stroke="#f1f132"/><path d="M172.1,483.9Q168.4,484.6 164.7,484.0" stroke="#e6eb35"/><path d="M199.8,489.4Q202.3,491.4 205.6,491.2" stroke="#3c6258"/><path d="M177.8,483.5Q176.3,479.1 175.4,474.6" stroke="#d6a753"/><path d="M205.4,479.9Q209.1,479.4 212.8,480.0" stroke="#59c3d7"/><path d="M185.0,461.6Q184.3,457.8 182.8,454.2" stroke="#93c55f"/><path d="M182.4,457.4Q184.8,455.7 185.9,453.0" stroke="#9acd62"/><path d="M181.8,492.3Q181.3,490.1 180.9,487.9" stroke="#46766e"/><path d="M169.8,466.5Q169.4,462.0 168.6,457.6" stroke="#c4d43c"/><path d="M158.8,459.3Q158.3,457.0 157.3,454.8" stroke="#7dd9bb"/><path d="M197.5,470.4Q199.5,468.0 201.4,465.5" stroke="#91c667"/><path d="M202.3,476.7Q204.5,474.4 206.3,471.8" stroke="#ff4d22"/><path d="M179.0,473.8Q178.2,471.7 178.3,469.4" stroke="#94c055"/><path d="M171.0,491.6Q169.0,492.7 167.0,491.7" stroke="#294341"/><path d="M179.8,490.4Q177.0,487.4 173.1,486.1" stroke="#56aeb2"/><path d="M186.9,462.1Q187.7,457.8 190.1,454.1" stroke="#80c68b"/><path d="M186.9,469.3Q185.2,466.3 183.1,463.6" stroke="#76ad6e"/><path d="M182.3,485.9Q183.5,482.9 185.0,479.9" stroke="#79b271"/><path d="M192.2,472.0Q194.2,470.4 195.3,468.2" stroke="#e7691d"/><path d="M155.6,462.5Q153.5,461.4 151.6,460.1" stroke="#8fce7c"/><path d="M189.4,481.5Q191.1,479.7 192.9,478.0" stroke="#f7821e"/><path d="M197.9,488.4Q201.4,488.9 204.9,489.4" stroke="#82c98e"/><path d="M194.6,488.6Q198.7,486.0 202.9,483.5" stroke="#f4891e"/><path d="M179.7,489.8Q178.9,486.9 177.5,484.3" stroke="#8fde9d"/><path d="M205.9,484.4Q208.4,482.6 211.2,481.7" stroke="#9abe4b"/><path d="M157.2,465.5Q155.7,464.1 154.0,462.9" stroke="#72c6aa"/><path d="M190.5,462.1Q189.9,457.6 190.9,453.1" stroke="#e6e22b"/><path d="M198.5,489.0Q201.0,488.3 203.7,488.7" stroke="#a1ca54"/><path d="M202.1,477.3Q206.2,475.6 209.6,472.6" stroke="#f78c1e"/><path d="M187.8,478.4Q188.7,476.6 190.6,475.8" stroke="#fa6b20"/><path d="M196.8,465.3Q198.5,462.7 199.2,459.7" stroke="#5aa9a0"/></g></g></g>

<filter id="bl9" x="-20%" y="-20%" width="140%" height="140%"><feGaussianBlur stdDeviation="0.9" result="b"/><feTurbulence type="fractalNoise" baseFrequency="0.12" numOctaves="2" seed="9" result="t"/><feDisplacementMap in="b" in2="t" scale="5" xChannelSelector="R" yChannelSelector="G"/></filter>
<clipPath id="c9"><path d="M282.20,453.75 C285.08,453.75 287.24,452.47 290.84,452.31 C294.44,452.15 300.08,452.31 303.80,452.79 C307.52,453.27 311.00,453.59 313.16,455.18 C315.32,456.77 316.16,459.16 316.76,462.35 C317.36,465.54 316.88,470.32 316.76,474.30 C316.64,478.28 317.00,482.82 316.04,486.25 C315.08,489.68 313.64,493.10 311.00,494.85 C308.36,496.61 305.00,496.45 300.20,496.77 C295.40,497.08 288.20,496.85 282.20,496.77 C276.20,496.69 269.00,496.69 264.20,496.29 C259.40,495.89 256.04,496.05 253.40,494.38 C250.76,492.70 249.44,489.60 248.36,486.25 C247.28,482.90 247.04,478.28 246.92,474.30 C246.80,470.32 246.92,465.54 247.64,462.35 C248.36,459.16 249.08,456.85 251.24,455.18 C253.40,453.51 256.88,452.79 260.60,452.31 C264.32,451.83 269.96,452.07 273.56,452.31 C277.16,452.55 279.32,453.75 282.20,453.75Z"/></clipPath>
<g filter="url(#rag)"><g clip-path="url(#c9)"><path d="M282.20,453.75 C285.08,453.75 287.24,452.47 290.84,452.31 C294.44,452.15 300.08,452.31 303.80,452.79 C307.52,453.27 311.00,453.59 313.16,455.18 C315.32,456.77 316.16,459.16 316.76,462.35 C317.36,465.54 316.88,470.32 316.76,474.30 C316.64,478.28 317.00,482.82 316.04,486.25 C315.08,489.68 313.64,493.10 311.00,494.85 C308.36,496.61 305.00,496.45 300.20,496.77 C295.40,497.08 288.20,496.85 282.20,496.77 C276.20,496.69 269.00,496.69 264.20,496.29 C259.40,495.89 256.04,496.05 253.40,494.38 C250.76,492.70 249.44,489.60 248.36,486.25 C247.28,482.90 247.04,478.28 246.92,474.30 C246.80,470.32 246.92,465.54 247.64,462.35 C248.36,459.16 249.08,456.85 251.24,455.18 C253.40,453.51 256.88,452.79 260.60,452.31 C264.32,451.83 269.96,452.07 273.56,452.31 C277.16,452.55 279.32,453.75 282.20,453.75Z" fill="#b0d258"/><g filter="url(#bl9)"><ellipse cx="260.60" cy="456.14" rx="2.88" ry="4.78" fill="#e89030" fill-opacity="0.8" transform="rotate(20 260.60 456.14)"/><ellipse cx="295.16" cy="455.18" rx="2.88" ry="3.82" fill="#e89030" fill-opacity="0.7" transform="rotate(-20 295.16 455.18)"/><ellipse cx="278.60" cy="456.14" rx="2.52" ry="4.78" fill="#3a98e0" fill-opacity="0.9" transform="rotate(0 278.60 456.14)"/><line x1="251.96" y1="467.61" x2="313.16" y2="466.65" stroke="#62c0c8" stroke-width="3.6" stroke-opacity="0.95" stroke-linecap="round"/><line x1="267.80" y1="464.74" x2="296.60" y2="464.74" stroke="#62c0c8" stroke-width="2" stroke-opacity="0.8" stroke-linecap="round"/><ellipse cx="266.36" cy="478.12" rx="7.20" ry="10.04" fill="#48a8e0" fill-opacity="0.9" transform="rotate(-15 266.36 478.12)"/><ellipse cx="266.36" cy="479.08" rx="3.96" ry="8.13" fill="#2c40b8" fill-opacity="1" transform="rotate(-15 266.36 479.08)"/><ellipse cx="295.16" cy="478.12" rx="5.76" ry="9.08" fill="#48a8e0" fill-opacity="0.9" transform="rotate(12 295.16 478.12)"/><ellipse cx="295.16" cy="479.08" rx="2.88" ry="7.17" fill="#2c40b8" fill-opacity="1" transform="rotate(12 295.16 479.08)"/><path d="M275.72,468.56 C277.16,465.22 284.24,465.22 285.80,468.56 C287.36,471.91 286.52,485.29 285.08,488.64 C283.64,491.99 278.72,491.99 277.16,488.64 C275.60,485.29 274.28,471.91 275.72,468.56Z" fill="#eccc30" fill-opacity="1"/><line x1="280.76" y1="470.48" x2="280.76" y2="487.68" stroke="#f0a028" stroke-width="1.8" stroke-opacity="0.8" stroke-linecap="round"/><ellipse cx="254.84" cy="484.82" rx="3.60" ry="6.69" fill="#ec7a22" fill-opacity="0.95" transform="rotate(0 254.84 484.82)"/><ellipse cx="307.40" cy="480.04" rx="3.60" ry="5.74" fill="#d03a1c" fill-opacity="0.95" transform="rotate(0 307.40 480.04)"/><path d="M263.48,490.55 C269.48,489.60 294.92,489.60 300.92,490.55 C306.92,491.51 305.48,495.33 299.48,496.29 C293.48,497.24 270.92,497.24 264.92,496.29 C258.92,495.33 257.48,491.51 263.48,490.55Z" fill="#5cbcd0" fill-opacity="0.85"/><ellipse cx="275.00" cy="493.42" rx="2.52" ry="2.87" fill="#3a60c8" fill-opacity="0.8" transform="rotate(0 275.00 493.42)"/><ellipse cx="290.84" cy="493.42" rx="2.52" ry="2.87" fill="#3a60c8" fill-opacity="0.8" transform="rotate(0 290.84 493.42)"/></g><g fill="none" stroke-width="0.9" stroke-opacity="0.5" stroke-linecap="round"><path d="M280.6,468.6Q281.6,465.5 283.5,463.0" stroke="#a2c44b"/><path d="M299.9,484.3Q299.9,481.9 302.2,481.3" stroke="#71af7b"/><path d="M261.2,464.6Q257.4,462.1 253.1,460.9" stroke="#accf4f"/><path d="M298.8,473.8Q300.7,470.6 303.5,468.1" stroke="#86ca87"/><path d="M283.9,474.9Q282.0,470.3 282.7,465.4" stroke="#ffd61c"/><path d="M277.8,486.8Q277.3,483.9 278.9,481.4" stroke="#c7c021"/><path d="M306.3,470.7Q309.3,468.7 312.8,468.2" stroke="#acc541"/><path d="M276.5,464.2Q277.7,461.5 279.2,459.0" stroke="#82b35e"/><path d="M254.0,493.4Q252.6,491.7 250.5,490.8" stroke="#a6c043"/><path d="M261.3,470.6Q261.5,466.3 262.0,462.0" stroke="#64b7a9"/><path d="M300.9,483.1Q303.1,482.0 305.1,480.5" stroke="#fff01d"/><path d="M292.9,492.6Q295.5,492.9 298.1,492.4" stroke="#69aa82"/><path d="M282.1,465.4Q282.0,463.0 282.3,460.5" stroke="#83cc91"/><path d="M297.1,472.8Q297.6,469.1 299.3,465.8" stroke="#79ab61"/><path d="M290.2,494.4Q293.2,495.0 295.9,496.7" stroke="#9fcb56"/><path d="M264.9,464.1Q262.1,461.1 260.3,457.5" stroke="#cbd537"/><path d="M299.9,485.7Q303.1,482.6 307.2,480.9" stroke="#c3cd35"/><path d="M262.7,488.6Q260.0,487.2 257.4,485.4" stroke="#b5dc55"/><path d="M289.3,496.8Q293.5,494.5 298.2,494.4" stroke="#86cc8a"/><path d="M286.4,494.2Q287.2,491.2 288.3,488.3" stroke="#66ad8e"/><path d="M275.0,468.5Q274.1,464.1 270.1,462.1" stroke="#8cd38d"/><path d="M314.4,469.2Q316.3,467.1 318.0,464.9" stroke="#799648"/><path d="M260.8,472.0Q257.5,468.8 253.8,466.1" stroke="#55abb0"/><path d="M275.7,470.7Q278.1,468.6 276.8,465.7" stroke="#b2c63d"/><path d="M274.4,480.9Q275.6,477.1 274.1,473.3" stroke="#a7be3e"/><path d="M281.5,495.5Q279.3,493.4 278.6,490.5" stroke="#4db6d6"/><path d="M271.5,472.9Q271.8,470.1 270.9,467.4" stroke="#9ad573"/><path d="M268.1,485.1Q264.0,482.9 259.6,483.8" stroke="#357aac"/><path d="M305.1,487.7Q306.9,486.7 308.5,485.5" stroke="#bde254"/><path d="M268.5,495.2Q265.0,493.2 261.8,490.8" stroke="#61d3e9"/><path d="M281.5,491.1Q282.4,488.9 283.1,486.7" stroke="#9edd7b"/><path d="M289.7,489.3Q293.1,487.3 296.1,484.8" stroke="#6fbfa0"/><path d="M286.0,488.5Q288.0,486.1 290.4,483.9" stroke="#cfd22e"/><path d="M256.6,456.7Q254.8,455.2 253.1,453.6" stroke="#73b079"/><path d="M294.1,478.7Q296.1,477.6 297.4,475.7" stroke="#274e92"/><path d="M269.2,492.0Q265.5,488.8 261.0,490.4" stroke="#6fad7a"/><path d="M266.7,472.0Q264.1,469.6 263.3,466.2" stroke="#3c89c2"/><path d="M268.3,481.4Q265.9,479.4 263.0,478.2" stroke="#2b4a9b"/><path d="M306.5,464.4Q307.3,462.5 309.2,463.3" stroke="#bac433"/><path d="M278.4,463.4Q277.3,458.5 276.4,453.6" stroke="#84ca8b"/><path d="M258.6,486.7Q256.1,486.4 254.2,484.8" stroke="#ff8620"/><path d="M280.7,481.6Q281.1,477.9 279.2,474.7" stroke="#f0b91b"/><path d="M286.1,465.4Q284.6,461.3 285.0,456.8" stroke="#b2d44f"/><path d="M296.7,482.2Q300.7,480.9 303.2,477.5" stroke="#93c865"/><path d="M288.4,483.7Q291.2,479.7 290.8,474.8" stroke="#387bc0"/><path d="M279.1,483.2Q281.0,481.0 281.9,478.2" stroke="#ffa61f"/><path d="M275.9,470.1Q277.5,466.9 276.0,463.7" stroke="#76b782"/><path d="M289.0,480.4Q290.6,478.5 291.0,476.1" stroke="#377ac3"/><path d="M283.4,482.0Q281.4,479.5 278.5,478.1" stroke="#ff8920"/><path d="M283.6,467.9Q286.5,465.9 287.0,462.4" stroke="#68c6be"/><path d="M254.5,480.0Q253.7,477.2 253.3,474.4" stroke="#d7d52a"/><path d="M277.1,476.0Q276.1,473.8 275.7,471.5" stroke="#9db23b"/><path d="M307.4,466.3Q308.9,463.4 309.3,460.1" stroke="#6dbda2"/><path d="M278.0,478.9Q277.1,476.6 278.4,474.6" stroke="#d9d427"/><path d="M280.1,480.5Q277.7,477.5 274.7,475.2" stroke="#e2c518"/><path d="M311.2,470.1Q312.9,465.7 315.6,462.0" stroke="#5fc6d2"/><path d="M306.2,478.2Q310.8,478.9 315.5,478.3" stroke="#97d578"/><path d="M266.7,487.9Q264.5,485.9 262.9,483.4" stroke="#65d1dd"/><path d="M283.2,490.6Q287.0,489.5 289.0,486.2" stroke="#60c0c2"/><path d="M269.6,482.1Q267.9,480.0 266.2,478.0" stroke="#263282"/><path d="M290.1,481.8Q292.8,480.4 294.6,477.9" stroke="#2e4ba3"/><path d="M273.4,486.3Q271.0,486.7 269.4,484.9" stroke="#6eb58f"/><path d="M275.2,495.9Q272.8,494.9 270.4,495.9" stroke="#4195d8"/><path d="M308.7,460.2Q312.9,460.6 317.0,459.6" stroke="#99d371"/><path d="M280.8,462.8Q282.6,458.8 283.5,454.4" stroke="#a6cb50"/><path d="M275.2,491.8Q270.7,492.2 266.4,490.6" stroke="#7acea8"/><path d="M283.7,461.5Q284.6,457.0 283.5,452.4" stroke="#81c07d"/><path d="M270.5,493.8Q268.7,495.7 266.2,495.5" stroke="#315248"/><path d="M266.2,490.9Q262.4,492.1 258.4,492.9" stroke="#8ebc58"/><path d="M257.5,469.5Q255.2,468.7 252.9,468.2" stroke="#6cc3b1"/><path d="M267.0,492.8Q262.2,491.9 257.4,493.2" stroke="#90cd78"/><path d="M297.3,486.4Q300.4,484.4 302.8,481.6" stroke="#bbe55a"/><path d="M266.0,475.6Q264.5,472.8 263.0,470.1" stroke="#3067ad"/><path d="M257.3,489.3Q253.9,486.1 249.3,485.8" stroke="#d06b1a"/><path d="M307.0,473.1Q308.3,471.1 309.9,469.3" stroke="#8abf67"/><path d="M305.8,461.3Q306.8,457.8 309.5,455.4" stroke="#c7c324"/><path d="M281.1,459.6Q280.6,455.9 282.1,452.5" stroke="#6bad84"/><path d="M290.0,479.7Q293.1,477.6 295.9,475.1" stroke="#2a509b"/><path d="M261.0,463.9Q258.5,461.0 256.6,457.6" stroke="#9fc24b"/><path d="M313.7,490.2Q315.0,487.2 318.1,488.1" stroke="#637631"/><path d="M270.1,470.4Q271.4,467.1 273.3,464.0" stroke="#5fa893"/><path d="M272.6,455.9Q269.3,452.6 268.7,447.9" stroke="#8ac16b"/><path d="M281.3,492.3Q284.4,495.8 284.9,500.5" stroke="#3a5f51"/><path d="M298.8,493.4Q302.9,494.8 306.8,493.2" stroke="#65864d"/><path d="M265.4,487.1Q262.4,485.5 260.4,482.6" stroke="#56b5c1"/><path d="M249.7,485.1Q248.0,482.6 245.3,481.3" stroke="#879c40"/><path d="M281.9,496.4Q282.5,493.7 283.0,491.0" stroke="#64b6a6"/><path d="M302.6,477.6Q304.1,476.1 306.0,475.1" stroke="#cca146"/><path d="M302.6,475.5Q305.8,473.3 309.5,472.0" stroke="#ccea4f"/><path d="M284.4,484.6Q288.6,482.8 290.3,478.4" stroke="#afd957"/><path d="M272.8,477.3Q272.4,472.8 270.5,468.6" stroke="#92c664"/><path d="M251.1,481.0Q248.9,480.6 246.8,481.3" stroke="#82b25d"/><path d="M271.8,478.2Q268.8,476.7 265.7,475.6" stroke="#316da7"/><path d="M276.5,473.5Q274.7,470.5 275.3,467.1" stroke="#a3b538"/><path d="M259.3,472.8Q255.5,471.3 253.9,467.6" stroke="#bbd546"/><path d="M274.8,482.4Q272.8,479.8 269.9,478.3" stroke="#8dce7f"/><path d="M250.7,470.4Q249.3,468.1 247.1,466.7" stroke="#bdd645"/><path d="M258.5,461.0Q255.3,460.9 252.2,460.3" stroke="#cfc721"/><path d="M268.2,491.7Q263.8,491.3 259.4,491.7" stroke="#5fb6af"/><path d="M292.2,474.7Q291.4,470.8 292.8,467.0" stroke="#8ac26d"/><path d="M278.0,467.7Q277.6,463.5 277.9,459.2" stroke="#87bc69"/><path d="M263.2,471.4Q261.0,470.1 259.0,468.5" stroke="#49b1da"/><path d="M282.8,485.7Q285.8,484.5 286.0,481.3" stroke="#d4d832"/><path d="M291.6,492.3Q293.2,490.4 295.7,490.3" stroke="#89d597"/><path d="M306.6,461.8Q307.4,459.7 309.4,458.9" stroke="#71a96e"/><path d="M293.7,490.2Q296.7,488.7 298.3,485.8" stroke="#7fb367"/><path d="M265.4,488.5Q261.6,491.0 257.1,490.0" stroke="#63b29f"/><path d="M254.4,464.3Q253.8,460.1 250.2,457.9" stroke="#aed14f"/><path d="M286.6,476.5Q287.4,474.0 288.3,471.6" stroke="#a7c649"/><path d="M297.4,485.3Q299.1,484.2 300.9,483.1" stroke="#8bd28d"/><path d="M268.0,455.6Q266.3,453.7 264.4,452.1" stroke="#b1d956"/><path d="M261.0,467.1Q259.7,464.9 257.1,465.1" stroke="#7fd2a5"/><path d="M304.6,487.2Q307.8,487.1 310.9,486.3" stroke="#c5d53c"/><path d="M290.2,489.2Q292.4,489.7 294.6,489.8" stroke="#7fd5ad"/><path d="M270.7,472.4Q266.9,471.5 264.4,468.6" stroke="#45a4d8"/><path d="M275.2,493.6Q272.5,493.0 269.9,493.6" stroke="#367eaf"/><path d="M297.4,467.9Q300.3,466.6 301.3,463.6" stroke="#72d1c0"/><path d="M264.7,462.5Q262.5,460.6 261.2,457.9" stroke="#7eb56b"/><path d="M261.4,476.2Q260.0,472.2 257.8,468.6" stroke="#4dbce6"/><path d="M261.1,462.2Q259.5,458.5 256.8,455.5" stroke="#a5c245"/><path d="M299.0,464.2Q298.1,460.5 298.0,456.6" stroke="#7bc18b"/><path d="M275.6,466.6Q275.0,463.3 273.9,460.2" stroke="#91d88b"/><path d="M312.8,482.6Q315.0,482.3 317.2,482.5" stroke="#bccc3b"/><path d="M275.2,460.3Q271.3,459.0 269.7,455.2" stroke="#f3e927"/><path d="M298.4,493.2Q300.9,492.9 302.3,490.8" stroke="#8ad99f"/><path d="M257.4,475.5Q255.3,474.5 253.1,474.2" stroke="#a2d25c"/><path d="M278.4,492.7Q273.8,491.0 269.8,487.9" stroke="#51c3f4"/><path d="M279.6,483.4Q280.8,479.6 281.6,475.6" stroke="#d9a618"/><path d="M301.2,457.8Q301.4,454.1 299.4,450.9" stroke="#abdf65"/><path d="M274.3,490.7Q271.5,490.0 270.4,487.4" stroke="#73dacf"/><path d="M253.7,462.6Q253.1,460.3 250.8,460.2" stroke="#fff621"/><path d="M284.8,494.7Q286.8,495.9 288.7,497.1" stroke="#426c63"/><path d="M308.0,493.4Q310.8,491.7 314.0,491.8" stroke="#a9b734"/><path d="M252.7,477.8Q250.0,475.6 246.6,474.8" stroke="#76b072"/><path d="M296.9,472.7Q297.0,469.4 299.4,467.1" stroke="#64bcb3"/><path d="M267.7,467.9Q264.6,465.1 264.4,461.0" stroke="#52aeba"/><path d="M269.8,467.5Q268.3,466.0 266.9,464.4" stroke="#6acecb"/><path d="M279.5,496.0Q277.3,495.2 275.0,495.9" stroke="#82bb70"/><path d="M283.1,493.7Q287.9,492.9 292.6,493.6" stroke="#326eaf"/><path d="M299.8,468.2Q300.1,466.2 301.8,465.1" stroke="#50c1f4"/><path d="M274.0,461.5Q273.2,457.4 272.7,453.2" stroke="#7db268"/><path d="M269.4,461.0Q267.6,458.6 266.0,456.1" stroke="#78af6b"/><path d="M289.1,482.4Q289.0,479.9 289.4,477.4" stroke="#83cf97"/><path d="M278.8,492.1Q276.7,488.7 274.3,485.5" stroke="#bec935"/><path d="M271.1,469.2Q269.2,466.7 268.7,463.6" stroke="#65d6e6"/><path d="M270.8,457.6Q268.9,455.3 267.0,453.0" stroke="#8faf45"/><path d="M257.4,473.4Q254.2,472.7 250.9,472.9" stroke="#9ec44f"/><path d="M252.8,461.3Q249.7,459.7 248.1,456.6" stroke="#9fcd59"/><path d="M291.6,478.2Q291.7,475.6 291.0,473.1" stroke="#4197cd"/><path d="M270.6,477.8Q268.0,474.4 267.9,470.0" stroke="#4197d0"/><path d="M282.2,461.5Q279.8,458.4 281.3,454.8" stroke="#aab935"/><path d="M274.1,476.3Q270.5,473.7 270.3,469.2" stroke="#9ade87"/><path d="M269.4,467.1Q268.4,465.3 266.7,464.2" stroke="#7aac62"/><path d="M268.9,495.9Q266.9,496.1 265.1,497.1" stroke="#2f4f46"/><path d="M272.8,472.8Q270.6,469.5 272.9,466.3" stroke="#a1c44c"/><path d="M253.1,461.2Q249.7,459.7 246.0,459.6" stroke="#c6c629"/><path d="M294.9,479.6Q296.9,476.2 300.2,474.3" stroke="#326eab"/><path d="M299.7,479.6Q301.8,477.1 304.9,475.7" stroke="#a4ba3c"/><path d="M272.3,469.1Q271.8,467.1 272.9,465.3" stroke="#75bf94"/><path d="M266.1,477.2Q265.8,473.1 263.7,469.6" stroke="#2d54a3"/><path d="M279.9,494.7Q276.4,494.0 272.9,493.9" stroke="#336bbb"/><path d="M311.5,476.9Q311.6,474.7 313.9,474.3" stroke="#ced534"/><path d="M309.7,477.4Q312.0,478.1 313.9,476.6" stroke="#83d29d"/><path d="M296.8,468.9Q299.1,466.8 301.9,465.6" stroke="#75d5c0"/><path d="M278.9,495.7Q275.7,491.9 271.1,489.9" stroke="#367caf"/><path d="M261.1,457.6Q259.3,456.4 257.2,455.6" stroke="#e8c619"/><path d="M272.6,458.5Q271.3,456.9 270.8,455.0" stroke="#abbb37"/><path d="M284.4,493.4Q287.3,491.6 289.7,489.3" stroke="#5cc7d9"/><path d="M272.2,483.9Q271.5,481.0 269.6,478.9" stroke="#45a7d2"/><path d="M269.4,481.6Q265.5,481.4 261.7,480.9" stroke="#2e64a6"/><path d="M273.1,476.5Q270.5,472.3 268.1,468.0" stroke="#5fbbba"/><path d="M251.2,473.7Q248.4,471.1 245.9,468.3" stroke="#93d37e"/><path d="M277.3,456.5Q277.2,454.4 277.4,452.3" stroke="#4ab3db"/><path d="M271.2,488.8Q270.0,485.6 267.5,483.2" stroke="#6db28b"/><path d="M254.6,480.2Q253.6,475.7 249.4,473.7" stroke="#a3d45e"/><path d="M291.9,460.1Q295.5,456.7 299.2,453.3" stroke="#e9e42a"/><path d="M287.2,488.1Q290.5,484.5 294.2,481.4" stroke="#68ab85"/><path d="M308.4,463.5Q310.9,461.5 313.9,460.2" stroke="#b4d24a"/><path d="M252.7,482.9Q249.5,482.1 246.4,483.4" stroke="#a5b637"/><path d="M259.3,480.4Q256.9,479.1 254.7,477.6" stroke="#b5ce44"/><path d="M285.0,485.9Q282.7,482.5 279.6,479.7" stroke="#cbd031"/><path d="M312.4,467.2Q316.7,468.4 321.0,467.3" stroke="#3d491f"/><path d="M292.1,486.1Q295.5,485.7 298.4,483.9" stroke="#4bb5dd"/><path d="M300.3,488.6Q302.9,487.8 305.0,486.0" stroke="#a0c24b"/><path d="M301.5,479.1Q303.0,477.7 304.9,476.8" stroke="#a07f36"/><path d="M272.8,495.1Q269.1,494.4 265.4,494.2" stroke="#72d7cc"/><path d="M273.9,468.8Q271.3,467.4 269.6,465.1" stroke="#51a6ad"/><path d="M272.5,473.1Q270.7,469.4 269.2,465.7" stroke="#68c5bd"/><path d="M275.3,476.8Q275.5,474.7 276.5,472.8" stroke="#f8e71e"/><path d="M268.4,459.2Q266.0,457.9 264.1,456.1" stroke="#90c362"/><path d="M299.5,472.4Q303.6,470.3 307.9,468.4" stroke="#c7ce32"/><path d="M275.8,478.5Q273.0,475.9 271.0,472.5" stroke="#70c3a8"/><path d="M275.6,489.3Q274.5,487.2 273.1,485.5" stroke="#cdce2b"/><path d="M279.7,482.3Q281.7,479.6 282.7,476.3" stroke="#ffda1d"/><path d="M269.8,460.2Q268.4,457.2 266.7,454.3" stroke="#cae64c"/><path d="M293.1,491.7Q297.5,492.4 301.1,489.9" stroke="#74ceb7"/><path d="M253.7,472.2Q249.7,469.4 245.0,467.8" stroke="#ccde40"/><path d="M256.5,485.3Q252.0,483.5 248.2,480.3" stroke="#e1ad19"/><path d="M304.8,483.8Q306.9,484.4 308.8,483.6" stroke="#ec881c"/><path d="M281.4,462.7Q282.0,459.9 284.0,457.9" stroke="#7bad63"/><path d="M262.0,465.6Q259.9,463.5 257.9,461.3" stroke="#94d278"/><path d="M264.8,486.9Q262.0,488.5 258.8,488.9" stroke="#b5d74f"/><path d="M282.4,487.5Q285.9,485.1 287.5,481.1" stroke="#fff922"/><path d="M302.1,469.9Q301.7,465.0 305.1,461.5" stroke="#76d4bf"/><path d="M260.0,484.5Q257.2,482.5 254.1,480.9" stroke="#f2961d"/><path d="M286.4,490.4Q290.0,492.8 294.0,491.3" stroke="#4aaee4"/><path d="M256.8,489.9Q254.6,491.3 252.2,491.8" stroke="#9bb641"/><path d="M265.4,476.8Q262.7,472.9 262.3,468.1" stroke="#377cbb"/><path d="M304.1,479.2Q308.4,477.2 310.8,473.2" stroke="#fc5f20"/><path d="M284.8,491.0Q287.0,489.1 289.3,487.3" stroke="#78b271"/><path d="M300.2,492.1Q303.2,493.0 306.4,492.5" stroke="#7fdbb9"/><path d="M293.1,457.8Q293.7,455.0 293.2,452.3" stroke="#fff31c"/><path d="M263.6,488.0Q259.4,487.0 255.1,485.8" stroke="#c8ce31"/><path d="M290.1,464.3Q289.8,460.6 289.3,457.0" stroke="#5db2ac"/><path d="M301.6,488.3Q303.7,489.6 306.1,490.4" stroke="#91b449"/><path d="M310.9,486.7Q314.4,484.9 316.6,481.7" stroke="#efe323"/><path d="M294.2,490.3Q294.5,487.7 296.6,486.0" stroke="#bddf51"/><path d="M296.1,489.2Q300.1,490.2 304.3,490.8" stroke="#a7d65c"/><path d="M278.1,491.8Q276.1,492.3 274.2,493.1" stroke="#5bc2d2"/><path d="M307.9,479.9Q311.7,476.9 316.3,475.6" stroke="#edc31a"/><path d="M264.9,482.4Q262.3,482.2 260.2,480.7" stroke="#4ea7b6"/><path d="M307.8,483.1Q309.1,478.6 309.5,473.8" stroke="#b27634"/><path d="M285.8,481.6Q288.8,479.2 291.9,476.7" stroke="#79c291"/><path d="M301.7,478.9Q304.3,478.0 305.2,475.5" stroke="#db5f1c"/><path d="M287.1,495.6Q290.2,494.7 293.4,494.3" stroke="#3061b3"/><path d="M264.6,488.8Q260.9,488.8 257.2,489.0" stroke="#82c98e"/><path d="M311.4,485.5Q315.1,482.5 319.7,481.2" stroke="#cee345"/><path d="M292.6,493.8Q295.9,494.4 299.2,494.2" stroke="#6acac2"/><path d="M263.8,475.3Q261.6,472.6 260.3,469.4" stroke="#2f60af"/></g></g></g>

<filter id="bl10" x="-20%" y="-20%" width="140%" height="140%"><feGaussianBlur stdDeviation="0.9" result="b"/><feTurbulence type="fractalNoise" baseFrequency="0.12" numOctaves="2" seed="10" result="t"/><feDisplacementMap in="b" in2="t" scale="5" xChannelSelector="R" yChannelSelector="G"/></filter>
<clipPath id="c10"><path d="M383.45,451.59 C386.27,451.59 387.69,449.00 391.92,448.82 C396.16,448.63 404.06,449.00 408.86,450.48 C413.66,451.96 418.04,455.00 420.72,457.68 C423.40,460.36 424.67,462.85 424.95,466.54 C425.24,470.24 423.96,475.59 422.41,479.84 C420.86,484.09 418.46,488.80 415.64,492.03 C412.81,495.26 409.14,497.94 405.47,499.23 C401.80,500.52 397.28,500.25 393.61,499.78 C389.94,499.32 386.84,496.46 383.45,496.46 C380.06,496.46 376.96,499.32 373.29,499.78 C369.62,500.25 365.10,500.52 361.43,499.23 C357.76,497.94 354.09,495.26 351.26,492.03 C348.44,488.80 346.04,484.09 344.49,479.84 C342.94,475.59 341.66,470.24 341.95,466.54 C342.23,462.85 343.50,460.36 346.18,457.68 C348.86,455.00 353.24,451.96 358.04,450.48 C362.84,449.00 370.75,448.63 374.98,448.82 C379.22,449.00 380.63,451.59 383.45,451.59Z"/></clipPath>
<g filter="url(#rag)"><g clip-path="url(#c10)"><path d="M383.45,451.59 C386.27,451.59 387.69,449.00 391.92,448.82 C396.16,448.63 404.06,449.00 408.86,450.48 C413.66,451.96 418.04,455.00 420.72,457.68 C423.40,460.36 424.67,462.85 424.95,466.54 C425.24,470.24 423.96,475.59 422.41,479.84 C420.86,484.09 418.46,488.80 415.64,492.03 C412.81,495.26 409.14,497.94 405.47,499.23 C401.80,500.52 397.28,500.25 393.61,499.78 C389.94,499.32 386.84,496.46 383.45,496.46 C380.06,496.46 376.96,499.32 373.29,499.78 C369.62,500.25 365.10,500.52 361.43,499.23 C357.76,497.94 354.09,495.26 351.26,492.03 C348.44,488.80 346.04,484.09 344.49,479.84 C342.94,475.59 341.66,470.24 341.95,466.54 C342.23,462.85 343.50,460.36 346.18,457.68 C348.86,455.00 353.24,451.96 358.04,450.48 C362.84,449.00 370.75,448.63 374.98,448.82 C379.22,449.00 380.63,451.59 383.45,451.59Z" fill="#b2d058"/><g filter="url(#bl10)"><polygon points="372.44,452.14 394.46,452.14 385.14,462.67 381.76,462.67" fill="#2a4cc0" fill-opacity="1"/><line x1="366.51" y1="454.91" x2="400.39" y2="454.91" stroke="#3aa0e0" stroke-width="2.2" stroke-opacity="0.7" stroke-linecap="round"/><ellipse cx="366.51" cy="464.88" rx="8.47" ry="3.60" fill="#e87a28" fill-opacity="0.95" transform="rotate(0 366.51 464.88)"/><ellipse cx="397.00" cy="464.88" rx="7.62" ry="4.15" fill="#e8521c" fill-opacity="1" transform="rotate(0 397.00 464.88)"/><line x1="349.57" y1="469.87" x2="368.20" y2="470.42" stroke="#50b8e0" stroke-width="2.6" stroke-opacity="0.8" stroke-linecap="round"/><line x1="398.70" y1="470.42" x2="417.33" y2="469.31" stroke="#50b8e0" stroke-width="2.6" stroke-opacity="0.8" stroke-linecap="round"/><polygon points="358.04,472.08 368.20,472.08 380.06,492.03 374.98,496.46" fill="#4ab0e0" fill-opacity="0.85"/><polygon points="361.43,474.30 366.51,474.30 378.37,492.03 373.29,494.24" fill="#1e30a0" fill-opacity="1"/><polygon points="408.86,472.08 398.70,472.08 386.84,492.03 391.92,496.46" fill="#4ab0e0" fill-opacity="0.85"/><polygon points="405.47,474.30 400.39,474.30 388.53,492.03 393.61,494.24" fill="#1e30a0" fill-opacity="1"/><line x1="383.45" y1="463.22" x2="383.45" y2="497.57" stroke="#eec030" stroke-width="2.8" stroke-opacity="0.95" stroke-linecap="round"/><ellipse cx="352.11" cy="486.49" rx="6.35" ry="8.31" fill="#e84a1c" fill-opacity="1" transform="rotate(0 352.11 486.49)"/><ellipse cx="413.94" cy="487.60" rx="4.66" ry="7.20" fill="#eca030" fill-opacity="0.9" transform="rotate(0 413.94 487.60)"/></g><g fill="none" stroke-width="0.9" stroke-opacity="0.5" stroke-linecap="round"><path d="M382.2,488.8Q380.2,485.6 379.1,482.2" stroke="#9cbf4a"/><path d="M371.9,462.6Q368.9,460.9 367.5,457.7" stroke="#99dc83"/><path d="M348.9,476.3Q346.7,474.4 343.9,473.6" stroke="#bfe657"/><path d="M400.8,490.7Q404.8,489.1 409.0,488.1" stroke="#8cb048"/><path d="M357.5,479.7Q354.8,479.6 352.0,480.1" stroke="#d6611b"/><path d="M401.3,453.7Q405.2,451.1 406.5,446.6" stroke="#d5cd22"/><path d="M417.2,472.2Q421.8,473.0 425.5,470.1" stroke="#89b04c"/><path d="M401.9,458.2Q401.0,453.4 402.4,448.6" stroke="#9ed264"/><path d="M402.0,461.0Q402.5,457.8 405.4,456.2" stroke="#ade063"/><path d="M395.9,472.0Q395.1,469.5 397.1,467.7" stroke="#a0c049"/><path d="M376.8,477.2Q376.7,475.1 377.4,473.1" stroke="#88b04d"/><path d="M371.9,473.3Q370.8,471.3 369.9,469.2" stroke="#89cd87"/><path d="M373.0,482.6Q369.5,480.0 368.5,475.8" stroke="#3474b2"/><path d="M388.1,465.8Q389.7,464.2 390.0,461.8" stroke="#ff7721"/><path d="M417.4,463.5Q419.7,461.7 421.8,459.5" stroke="#aac443"/><path d="M402.7,458.2Q404.8,455.9 407.1,453.8" stroke="#8ebd5a"/><path d="M378.0,491.7Q374.3,489.5 370.5,487.7" stroke="#294a94"/><path d="M405.6,486.8Q409.3,486.3 411.2,483.0" stroke="#e6ed39"/><path d="M385.5,496.7Q385.3,491.9 387.9,487.8" stroke="#6faf7f"/><path d="M358.8,494.7Q355.6,491.4 350.9,491.0" stroke="#ff8321"/><path d="M401.0,486.8Q403.0,485.8 405.2,485.3" stroke="#f6f02b"/><path d="M407.0,455.0Q406.5,451.5 406.1,448.1" stroke="#b6bf31"/><path d="M387.3,458.5Q389.4,455.3 387.1,452.3" stroke="#3881b9"/><path d="M376.5,484.6Q374.2,483.8 371.7,483.3" stroke="#73b888"/><path d="M381.9,492.1Q380.3,488.5 380.3,484.5" stroke="#9cd46c"/><path d="M399.4,480.2Q401.9,477.1 402.8,473.2" stroke="#3164b5"/><path d="M390.7,476.9Q391.9,475.0 392.4,472.8" stroke="#b5c336"/><path d="M402.9,488.7Q405.8,487.5 408.9,486.9" stroke="#87bc66"/><path d="M403.9,484.6Q407.1,484.7 409.8,482.9" stroke="#a4bc3f"/><path d="M403.7,452.6Q406.4,450.5 408.7,447.9" stroke="#6a7c34"/><path d="M384.6,477.5Q384.0,474.6 382.8,471.8" stroke="#e9cc19"/><path d="M371.8,474.2Q370.4,472.7 370.6,470.6" stroke="#82d6aa"/><path d="M379.6,461.9Q377.8,459.1 376.2,456.3" stroke="#2f5bac"/><path d="M377.6,455.1Q377.4,452.6 378.2,450.2" stroke="#4197d0"/><path d="M420.3,470.8Q423.0,469.9 425.6,468.6" stroke="#97d373"/><path d="M414.7,474.7Q415.6,471.1 415.2,467.4" stroke="#81b05b"/><path d="M391.1,494.1Q393.1,492.7 395.2,491.5" stroke="#46a7d7"/><path d="M366.0,478.4Q363.7,476.6 360.9,475.9" stroke="#294c95"/><path d="M398.7,475.0Q399.4,473.0 400.6,471.3" stroke="#4cb9e0"/><path d="M361.1,490.5Q359.1,490.4 357.2,489.6" stroke="#91bb50"/><path d="M388.9,486.0Q390.4,481.8 394.0,479.1" stroke="#65bdb4"/><path d="M385.0,494.4Q385.2,492.3 385.4,490.3" stroke="#b0d855"/><path d="M357.3,456.5Q355.2,456.4 353.6,455.1" stroke="#a3c44a"/><path d="M362.4,456.8Q360.1,454.0 358.4,450.8" stroke="#a9cf52"/><path d="M415.3,462.8Q417.6,462.1 420.1,461.9" stroke="#72ab71"/><path d="M364.9,470.0Q364.4,466.0 362.6,462.3" stroke="#f9b31c"/><path d="M392.0,455.1Q392.2,452.6 392.2,450.0" stroke="#3271ad"/><path d="M402.9,467.3Q403.9,465.1 404.8,462.8" stroke="#d8a742"/><path d="M390.0,495.8Q394.2,493.7 398.9,494.4" stroke="#87c272"/><path d="M390.2,457.4Q390.1,452.9 392.3,449.0" stroke="#2d60a2"/><path d="M389.3,466.7Q387.8,462.4 386.4,458.1" stroke="#a1c74f"/><path d="M354.5,479.8Q350.6,479.5 346.7,479.2" stroke="#ff8f1f"/><path d="M416.6,477.9Q421.4,478.3 425.3,475.2" stroke="#a2b83d"/><path d="M372.9,459.4Q371.6,457.0 372.1,454.3" stroke="#a0ce59"/><path d="M393.9,474.6Q394.8,472.7 395.6,470.8" stroke="#cce549"/><path d="M416.2,485.5Q418.8,483.5 420.7,480.8" stroke="#6aaa7f"/><path d="M377.9,473.3Q374.6,470.4 374.6,466.1" stroke="#98cc63"/><path d="M359.4,484.4Q357.4,482.6 355.7,480.6" stroke="#c9411a"/><path d="M366.4,481.3Q362.8,479.5 360.6,476.1" stroke="#71ccb6"/><path d="M360.5,493.5Q358.9,491.7 356.9,490.2" stroke="#82b768"/><path d="M390.9,480.1Q391.0,475.5 393.1,471.3" stroke="#90bf5a"/><path d="M402.8,489.9Q406.9,489.0 411.0,488.3" stroke="#7bad63"/><path d="M387.7,470.1Q390.0,466.5 391.9,462.6" stroke="#f0731e"/><path d="M358.3,466.7Q357.2,464.9 357.4,462.8" stroke="#d8e942"/><path d="M373.9,465.4Q372.8,461.9 371.4,458.5" stroke="#c7da41"/><path d="M370.4,495.2Q368.4,492.4 365.3,490.8" stroke="#8bbb5b"/><path d="M416.4,471.3Q420.6,469.7 422.6,465.6" stroke="#96c65b"/><path d="M374.2,498.7Q369.5,498.8 364.9,499.7" stroke="#768a3a"/><path d="M405.0,481.4Q408.7,480.6 412.3,481.5" stroke="#9cd56f"/><path d="M360.1,493.9Q357.1,490.4 353.7,487.3" stroke="#e86d1d"/><path d="M387.6,485.3Q390.3,483.1 391.4,479.7" stroke="#82be76"/><path d="M378.7,468.4Q377.6,464.9 375.9,461.8" stroke="#bddb4c"/><path d="M401.2,466.9Q403.4,463.2 405.7,459.5" stroke="#ff8920"/><path d="M380.7,488.8Q381.5,485.0 382.6,481.3" stroke="#d5cb20"/><path d="M393.6,483.0Q397.7,480.3 400.0,475.9" stroke="#2f4ba6"/><path d="M355.9,465.9Q356.8,462.8 355.2,460.0" stroke="#88b556"/><path d="M352.6,480.1Q349.2,478.7 345.9,480.3" stroke="#dba743"/><path d="M398.7,475.4Q400.3,473.3 401.0,470.7" stroke="#4199c9"/><path d="M354.3,489.9Q351.8,489.2 349.5,487.8" stroke="#d12f1c"/><path d="M356.9,489.3Q355.3,487.6 353.0,487.9" stroke="#ed2721"/><path d="M375.4,473.4Q372.5,469.8 369.4,466.4" stroke="#c3cd35"/><path d="M412.5,479.7Q415.6,478.3 418.4,476.3" stroke="#abca4a"/><path d="M405.4,491.1Q409.0,490.5 412.1,488.5" stroke="#80d0a1"/><path d="M351.2,478.2Q347.4,476.8 344.8,473.6" stroke="#94b244"/><path d="M384.4,477.2Q385.2,474.4 385.1,471.4" stroke="#b1db58"/><path d="M371.6,484.5Q369.1,481.4 365.7,479.2" stroke="#3e8bd3"/><path d="M391.2,457.1Q392.3,453.4 395.0,450.6" stroke="#3578af"/><path d="M380.9,494.5Q377.9,493.8 375.0,492.6" stroke="#6cc2ae"/><path d="M376.7,491.0Q373.3,490.7 370.0,489.9" stroke="#263987"/><path d="M392.8,458.6Q391.6,456.9 391.9,454.8" stroke="#e6ec37"/><path d="M364.7,498.1Q362.1,495.6 358.5,496.1" stroke="#96b242"/><path d="M361.7,456.6Q361.0,453.9 358.6,452.5" stroke="#99b440"/><path d="M372.2,472.8Q370.1,470.2 370.6,466.9" stroke="#89c271"/><path d="M422.0,471.0Q423.6,469.1 424.8,467.0" stroke="#7b903c"/><path d="M371.1,465.5Q370.1,463.2 369.2,460.8" stroke="#fb781f"/><path d="M362.3,479.9Q359.1,478.2 356.8,475.6" stroke="#6bc1ac"/><path d="M372.5,482.5Q370.2,480.4 368.1,478.1" stroke="#419dc7"/><path d="M402.3,475.2Q405.4,473.9 408.6,473.3" stroke="#70cdbe"/><path d="M369.2,490.1Q366.0,487.8 362.3,486.9" stroke="#76bb8a"/><path d="M359.7,480.8Q358.3,477.6 356.7,474.4" stroke="#ddd524"/><path d="M393.8,494.3Q396.6,493.9 398.1,491.4" stroke="#b1d450"/><path d="M374.4,481.3Q370.6,478.1 370.2,473.2" stroke="#7bd7b9"/><path d="M348.4,474.4Q347.0,470.0 344.5,466.2" stroke="#9ad573"/><path d="M377.0,491.2Q378.1,487.8 377.3,484.2" stroke="#6ad7de"/><path d="M357.0,466.9Q355.5,463.7 354.6,460.3" stroke="#f5ed28"/><path d="M357.7,459.8Q355.4,457.9 354.1,455.3" stroke="#a0b63d"/><path d="M379.3,488.9Q379.5,484.2 377.0,480.1" stroke="#c4df49"/><path d="M390.0,479.3Q390.7,476.2 391.9,473.3" stroke="#9bc351"/><path d="M402.4,490.8Q404.3,489.4 406.5,488.4" stroke="#c1e655"/><path d="M390.0,495.1Q393.7,494.7 394.4,491.1" stroke="#92d17c"/><path d="M407.5,485.6Q412.3,485.0 416.7,482.9" stroke="#ffec1b"/><path d="M407.7,476.2Q409.5,475.4 411.5,474.9" stroke="#a6dd69"/><path d="M408.4,454.1Q409.4,452.3 408.9,450.2" stroke="#f9f42e"/><path d="M380.3,465.1Q381.3,462.4 380.8,459.6" stroke="#6ecabb"/><path d="M395.7,459.1Q395.1,454.8 395.7,450.5" stroke="#c1e554"/><path d="M367.6,464.6Q366.1,461.2 365.0,457.7" stroke="#b2da56"/><path d="M371.2,490.7Q369.2,489.8 367.6,488.3" stroke="#5eac9e"/><path d="M377.4,469.9Q375.8,466.0 371.7,464.9" stroke="#ced837"/><path d="M356.4,466.3Q352.8,463.5 348.7,461.6" stroke="#b4b92c"/><path d="M385.8,493.7Q388.5,492.3 390.8,490.5" stroke="#6eb38b"/><path d="M391.8,461.3Q393.4,459.4 395.2,457.7" stroke="#9dd165"/><path d="M368.8,497.5Q366.8,493.0 361.9,492.2" stroke="#aebf39"/><path d="M409.4,490.6Q412.5,488.2 416.0,486.8" stroke="#fa921e"/><path d="M381.1,481.7Q379.0,479.5 378.3,476.5" stroke="#98bc4b"/><path d="M372.3,495.5Q369.0,495.1 365.9,494.3" stroke="#8cca79"/><path d="M378.0,454.1Q377.3,451.3 378.8,448.9" stroke="#b3de59"/><path d="M362.2,495.9Q357.9,495.7 353.7,496.6" stroke="#cde143"/><path d="M385.8,497.1Q384.6,492.9 386.3,488.8" stroke="#9ccb5a"/><path d="M403.0,467.6Q404.8,466.3 406.5,465.0" stroke="#e1d925"/><path d="M346.2,476.6Q344.2,475.5 342.2,476.5" stroke="#99d16b"/><path d="M352.6,483.2Q349.8,480.9 346.7,479.2" stroke="#dc501c"/><path d="M403.1,479.2Q403.8,477.0 405.3,475.3" stroke="#6cb89a"/><path d="M398.7,475.3Q401.5,472.0 405.5,470.3" stroke="#48a9e2"/><path d="M396.1,458.9Q397.0,456.2 396.5,453.5" stroke="#92cb6f"/><path d="M377.2,493.9Q376.9,490.3 376.3,486.6" stroke="#367cae"/><path d="M403.1,470.8Q405.4,470.2 407.3,468.8" stroke="#7ab97c"/><path d="M383.3,495.1Q384.8,492.8 385.8,490.2" stroke="#e5ee3a"/><path d="M377.5,478.3Q375.4,474.1 371.4,471.7" stroke="#90b145"/><path d="M405.8,474.2Q409.1,473.2 412.5,473.2" stroke="#abcb4a"/><path d="M395.3,487.7Q397.5,484.1 399.0,480.1" stroke="#3361ba"/><path d="M413.2,484.6Q416.0,481.5 419.1,478.8" stroke="#e7eb34"/><path d="M373.3,465.3Q371.5,462.4 370.4,459.3" stroke="#ffb31e"/><path d="M395.8,481.5Q399.9,478.7 401.8,474.1" stroke="#2d60a8"/><path d="M393.6,490.9Q397.6,491.6 401.1,493.6" stroke="#dde032"/><path d="M375.2,463.5Q373.2,461.6 372.4,458.9" stroke="#e8e62e"/><path d="M361.4,473.3Q360.2,470.0 358.3,467.1" stroke="#9dd369"/><path d="M397.6,481.5Q400.1,477.6 403.4,474.2" stroke="#28438f"/><path d="M387.6,481.9Q387.4,478.0 387.6,474.1" stroke="#b7bd2d"/><path d="M421.5,469.9Q423.5,467.8 426.3,467.3" stroke="#91c25e"/><path d="M355.3,476.9Q352.4,474.3 349.0,472.4" stroke="#97ce6c"/><path d="M393.7,482.7Q397.4,480.0 400.4,476.5" stroke="#2b3993"/><path d="M386.6,499.5Q390.6,498.5 394.5,499.6" stroke="#6b7e36"/><path d="M384.0,475.3Q385.0,472.5 386.0,469.7" stroke="#d0e241"/><path d="M350.7,476.4Q348.8,474.5 348.0,471.9" stroke="#c5e44e"/><path d="M396.6,500.0Q401.3,499.3 405.5,501.5" stroke="#80963f"/><path d="M389.5,494.3Q392.1,494.3 394.7,493.8" stroke="#81c586"/><path d="M355.3,488.5Q353.3,487.0 350.9,486.1" stroke="#dd461d"/><path d="M381.6,480.7Q382.8,477.1 383.7,473.4" stroke="#f2e927"/><path d="M348.8,484.0Q346.5,481.5 343.0,481.2" stroke="#e25d1d"/><path d="M391.2,489.9Q392.3,487.1 394.3,485.0" stroke="#3476b0"/><path d="M361.6,461.3Q362.1,456.9 360.2,452.9" stroke="#85b359"/><path d="M383.0,458.8Q381.4,456.7 381.7,454.2" stroke="#3168b1"/><path d="M358.3,494.3Q353.8,493.1 349.3,492.3" stroke="#9e6528"/><path d="M405.8,492.8Q409.0,493.5 412.0,494.9" stroke="#9fd466"/><path d="M365.7,493.4Q365.1,489.7 362.5,486.9" stroke="#a5dc6a"/><path d="M413.5,462.9Q415.4,461.1 417.9,461.4" stroke="#cfe849"/><path d="M353.9,488.6Q351.2,486.9 348.0,487.1" stroke="#f33d20"/><path d="M386.4,458.4Q387.2,454.0 388.3,449.7" stroke="#2f5dae"/><path d="M389.9,486.6Q389.6,483.0 388.7,479.4" stroke="#7eac59"/><path d="M358.8,462.2Q357.7,459.7 356.4,457.4" stroke="#96bc4e"/><path d="M396.7,467.4Q398.5,464.0 399.6,460.4" stroke="#f5721f"/><path d="M410.4,490.6Q413.2,490.4 415.0,488.3" stroke="#ff8720"/><path d="M367.8,498.8Q364.7,497.8 361.5,498.3" stroke="#80c282"/><path d="M382.7,495.0Q378.5,494.7 375.1,492.3" stroke="#80b364"/><path d="M346.2,464.4Q344.3,462.5 342.0,461.2" stroke="#b1d34f"/><path d="M399.0,455.1Q399.6,450.4 398.6,445.7" stroke="#9dd770"/><path d="M418.4,466.1Q419.9,464.0 420.2,461.4" stroke="#88af4c"/><path d="M371.2,457.3Q369.6,455.1 367.6,453.3" stroke="#deea3d"/><path d="M375.4,456.7Q372.8,452.6 369.4,449.2" stroke="#54b1be"/><path d="M382.0,495.5Q382.1,492.5 381.0,489.7" stroke="#c0d33f"/><path d="M355.1,463.8Q352.8,460.1 349.7,457.1" stroke="#a0d363"/><path d="M378.0,461.8Q378.1,458.1 376.5,454.7" stroke="#4aaee8"/><path d="M384.3,469.7Q382.8,468.0 382.3,465.9" stroke="#c6c528"/><path d="M409.8,495.8Q413.6,493.1 417.8,491.1" stroke="#534116"/><path d="M410.1,467.9Q409.6,465.8 410.1,463.7" stroke="#81d09e"/><path d="M412.1,473.4Q413.2,469.2 416.0,465.9" stroke="#86b559"/><path d="M387.9,483.7Q389.5,480.2 391.7,477.1" stroke="#d1da36"/><path d="M406.8,465.3Q408.5,460.8 413.1,459.2" stroke="#e3dc26"/><path d="M357.3,458.0Q355.8,456.0 354.8,453.7" stroke="#7ab069"/><path d="M392.4,484.8Q395.2,482.9 398.2,481.3" stroke="#2a308e"/><path d="M405.5,494.2Q408.4,494.7 411.2,495.2" stroke="#a8d65b"/><path d="M414.3,462.3Q416.7,458.3 417.7,453.8" stroke="#aabc3a"/><path d="M368.1,484.5Q364.8,482.9 361.5,481.1" stroke="#7ab675"/><path d="M391.2,464.2Q391.0,459.3 389.2,454.7" stroke="#cae94f"/><path d="M361.0,455.8Q360.0,451.5 357.2,448.0" stroke="#b2ba2e"/><path d="M369.0,476.0Q366.2,472.3 364.5,467.8" stroke="#82d3a2"/><path d="M408.2,457.8Q409.6,453.6 407.2,449.7" stroke="#c3e34f"/><path d="M359.5,487.0Q355.8,486.3 352.0,486.9" stroke="#da581c"/><path d="M406.3,490.2Q410.6,489.8 414.7,488.5" stroke="#ebc019"/><path d="M387.4,484.6Q388.7,480.4 391.1,476.7" stroke="#a0d362"/><path d="M383.2,468.6Q382.9,465.7 382.3,462.8" stroke="#f4e723"/><path d="M371.2,486.7Q366.3,487.4 361.3,487.1" stroke="#8ec66e"/><path d="M391.0,499.6Q394.2,497.6 397.9,497.3" stroke="#60b8b4"/><path d="M370.6,478.9Q370.2,474.9 369.4,471.1" stroke="#68ad8a"/><path d="M359.0,491.7Q355.0,490.7 350.9,490.2" stroke="#cb431a"/><path d="M352.6,465.1Q348.8,465.7 346.5,462.5" stroke="#93ca6b"/><path d="M386.9,486.9Q386.6,484.5 388.2,482.7" stroke="#9ec24d"/><path d="M391.5,470.2Q391.8,466.4 394.7,463.8" stroke="#df641c"/><path d="M368.9,491.2Q364.5,489.2 360.5,486.6" stroke="#8eb64e"/><path d="M387.7,485.9Q388.5,482.6 390.6,479.9" stroke="#9ece5c"/><path d="M383.9,488.7Q380.6,488.1 381.1,484.8" stroke="#a6c74b"/><path d="M392.0,489.2Q392.3,486.6 393.7,484.3" stroke="#3674c2"/><path d="M356.5,482.1Q354.3,481.5 352.3,480.7" stroke="#fb6120"/><path d="M369.1,498.2Q365.4,495.3 361.8,492.2" stroke="#8fc05f"/><path d="M364.6,473.1Q362.1,469.4 360.0,465.5" stroke="#72bf99"/><path d="M361.4,475.0Q358.5,473.5 357.1,470.6" stroke="#90c76a"/><path d="M357.8,455.3Q357.1,452.0 354.3,450.0" stroke="#a3c147"/><path d="M362.5,493.8Q360.4,491.6 358.0,489.9" stroke="#bace3e"/><path d="M398.6,470.7Q398.9,466.5 397.8,462.5" stroke="#e37a54"/><path d="M352.2,475.9Q348.8,472.6 344.8,470.1" stroke="#b3be32"/><path d="M412.8,481.7Q417.2,482.7 421.5,483.8" stroke="#e0e12f"/><path d="M356.6,490.3Q354.3,488.9 351.6,488.8" stroke="#c7211b"/><path d="M399.4,459.7Q399.7,454.8 397.0,450.8" stroke="#7eaf5f"/><path d="M409.4,488.2Q412.6,489.0 415.9,488.8" stroke="#dd8a1a"/><path d="M348.0,466.0Q345.1,465.0 342.4,463.4" stroke="#b4db54"/><path d="M349.5,474.3Q347.0,470.2 343.4,467.3" stroke="#b1d44f"/><path d="M351.6,472.8Q352.4,470.6 351.1,468.7" stroke="#69cbc6"/><path d="M388.2,494.5Q390.4,495.5 392.8,495.4" stroke="#8dc46b"/><path d="M356.5,464.2Q352.2,461.9 347.5,462.1" stroke="#bbd03f"/><path d="M400.1,484.9Q401.0,482.7 403.1,481.6" stroke="#a6bc3d"/><path d="M357.6,490.8Q354.0,491.1 350.4,491.2" stroke="#d62e1d"/><path d="M362.8,493.1Q359.5,490.9 355.7,489.8" stroke="#d0da38"/><path d="M357.3,493.1Q353.0,491.8 348.5,492.8" stroke="#ff6f21"/><path d="M399.4,493.0Q399.9,490.9 401.5,489.4" stroke="#d3e23e"/><path d="M357.5,492.7Q355.5,493.1 353.8,491.9" stroke="#eea51b"/><path d="M412.5,459.1Q413.6,454.9 412.8,450.5" stroke="#b9c93a"/><path d="M396.6,459.0Q399.0,454.9 403.2,452.6" stroke="#66c8c6"/><path d="M371.4,467.0Q371.4,463.3 372.7,459.9" stroke="#d17b19"/><path d="M350.1,481.8Q345.9,479.4 341.1,479.6" stroke="#d4d730"/><path d="M363.9,489.1Q360.2,487.6 356.2,487.9" stroke="#8bbe63"/><path d="M353.7,484.9Q351.9,483.4 350.9,481.2" stroke="#e44f1e"/><path d="M399.8,483.1Q401.0,479.9 401.4,476.6" stroke="#2d62a2"/><path d="M411.8,459.1Q413.6,456.3 416.4,454.7" stroke="#efda19"/><path d="M375.6,474.9Q374.3,472.5 372.2,470.9" stroke="#bde457"/><path d="M402.4,462.8Q401.9,459.8 403.3,457.2" stroke="#a2c84f"/><path d="M412.7,488.0Q416.8,487.7 420.9,487.1" stroke="#916e25"/><path d="M363.9,463.4Q360.6,461.9 359.0,458.5" stroke="#c9e349"/><path d="M400.7,463.9Q400.3,461.1 400.6,458.4" stroke="#85ac4c"/><path d="M348.0,471.7Q345.7,470.3 343.3,468.9" stroke="#81ac53"/><path d="M408.8,477.6Q413.2,477.7 417.7,477.9" stroke="#adb932"/><path d="M399.2,480.4Q399.9,478.3 401.2,476.5" stroke="#27428c"/><path d="M364.7,470.2Q360.9,468.9 357.2,467.1" stroke="#5cbdc5"/><path d="M366.6,489.5Q364.6,488.4 363.0,486.7" stroke="#a2b538"/><path d="M410.8,465.7Q411.6,461.3 413.7,457.4" stroke="#bebc25"/><path d="M382.2,485.4Q379.0,482.4 376.2,479.0" stroke="#9dbf4b"/><path d="M365.2,472.9Q364.3,470.3 362.5,468.1" stroke="#44a3c2"/><path d="M366.4,459.8Q363.1,456.1 358.9,453.4" stroke="#59aba6"/><path d="M372.5,489.4Q368.9,489.7 366.2,487.3" stroke="#85b65e"/><path d="M375.7,459.9Q377.0,455.9 374.3,452.7" stroke="#419acf"/><path d="M369.2,460.6Q369.6,457.2 369.5,453.8" stroke="#fdf62b"/><path d="M375.9,463.8Q377.7,460.2 376.6,456.2" stroke="#99d473"/><path d="M379.8,485.2Q377.5,481.0 374.8,477.0" stroke="#c8d438"/><path d="M360.9,457.8Q359.3,455.5 357.7,453.2" stroke="#78c395"/><path d="M380.3,463.8Q378.4,461.9 376.9,459.7" stroke="#a6b839"/><path d="M363.3,481.7Q359.9,480.9 356.6,481.8" stroke="#aed553"/><path d="M407.7,467.1Q408.8,463.6 412.6,463.6" stroke="#7dbb7b"/><path d="M384.4,495.6Q381.4,492.6 378.7,489.3" stroke="#a0bb42"/><path d="M366.2,486.7Q362.3,484.9 358.4,483.3" stroke="#c0e454"/><path d="M417.1,479.2Q419.3,474.8 420.4,470.1" stroke="#ffd51c"/><path d="M376.4,475.5Q376.5,471.2 373.0,468.7" stroke="#cfe849"/><path d="M354.1,487.7Q352.5,485.8 350.2,485.2" stroke="#df4b1d"/><path d="M378.3,466.6Q377.3,463.5 376.0,460.5" stroke="#8ed287"/><path d="M412.3,484.3Q414.1,483.3 416.1,483.4" stroke="#da711b"/><path d="M398.8,452.8Q402.1,450.7 405.1,448.2" stroke="#c5ca2f"/><path d="M411.2,489.7Q414.9,489.9 418.5,490.5" stroke="#ff931f"/><path d="M378.3,456.5Q374.9,454.3 371.9,451.5" stroke="#2f68a6"/><path d="M409.0,460.2Q411.1,457.4 412.8,454.5" stroke="#eeda19"/><path d="M390.9,484.3Q391.4,481.3 393.7,479.2" stroke="#76d6c2"/><path d="M414.2,488.5Q417.8,487.6 421.3,486.6" stroke="#4c3d15"/><path d="M355.0,477.5Q350.8,476.2 346.5,474.9" stroke="#a6de6c"/><path d="M413.1,460.1Q415.1,456.9 414.9,453.1" stroke="#bbc635"/><path d="M387.4,492.9Q388.4,490.2 388.8,487.3" stroke="#5aada9"/><path d="M369.1,469.6Q367.0,469.4 365.3,468.3" stroke="#a4d45c"/><path d="M379.9,490.0Q378.8,486.9 377.4,484.0" stroke="#c1d23d"/><path d="M352.1,482.7Q349.4,480.6 346.6,478.8" stroke="#f45220"/><path d="M358.9,480.6Q357.4,478.4 354.9,477.3" stroke="#92b245"/><path d="M351.7,476.8Q348.4,473.0 344.9,469.5" stroke="#a7df6b"/><path d="M345.7,465.2Q343.4,464.6 341.2,463.7" stroke="#a1d05b"/><path d="M390.9,471.2Q392.6,468.0 393.5,464.5" stroke="#d7e33b"/><path d="M406.9,468.6Q409.1,466.5 410.7,464.0" stroke="#9ec855"/><path d="M409.8,461.2Q411.9,458.1 411.2,454.4" stroke="#a5c94f"/><path d="M362.9,487.9Q359.8,485.7 356.1,485.8" stroke="#9ecc58"/><path d="M379.0,480.9Q379.8,477.7 378.2,474.9" stroke="#e8da1f"/><path d="M392.5,492.3Q394.9,492.4 397.3,492.5" stroke="#3057af"/><path d="M393.9,491.3Q396.8,491.5 398.9,489.5" stroke="#e7e32b"/><path d="M371.6,493.7Q371.8,489.6 372.0,485.6" stroke="#2e329a"/><path d="M361.6,495.3Q356.8,494.3 351.9,495.2" stroke="#9dda76"/><path d="M387.8,479.2Q390.0,477.5 391.0,475.0" stroke="#a8dc65"/><path d="M415.5,488.5Q417.6,487.0 419.4,485.2" stroke="#826c26"/><path d="M396.1,462.9Q397.0,459.5 396.3,456.0" stroke="#a8d95e"/><path d="M349.5,463.1Q347.0,461.1 344.2,459.7" stroke="#d3d630"/><path d="M380.0,479.8Q377.5,477.9 377.3,474.8" stroke="#efeb2c"/><path d="M350.4,482.3Q347.5,481.3 345.7,478.9" stroke="#e45a1d"/><path d="M398.4,471.3Q397.5,468.0 398.0,464.7" stroke="#a9735a"/><path d="M371.5,483.1Q370.4,480.8 369.4,478.5" stroke="#3478ad"/><path d="M367.4,481.9Q365.7,480.6 364.2,478.9" stroke="#2f60ad"/><path d="M416.5,482.3Q419.0,479.8 419.3,476.3" stroke="#b9c02f"/><path d="M385.1,453.7Q386.6,450.7 388.0,447.7" stroke="#6e8c65"/><path d="M370.5,458.1Q369.3,456.2 367.8,454.5" stroke="#6cd8dc"/><path d="M400.9,500.2Q402.7,497.0 406.1,495.7" stroke="#eadf23"/><path d="M392.9,497.6Q397.4,496.5 401.7,495.1" stroke="#90bd54"/><path d="M410.3,489.0Q412.4,488.4 414.5,487.7" stroke="#ef891d"/></g></g></g>

<filter id="bl11" x="-20%" y="-20%" width="140%" height="140%"><feGaussianBlur stdDeviation="0.9" result="b"/><feTurbulence type="fractalNoise" baseFrequency="0.12" numOctaves="2" seed="11" result="t"/><feDisplacementMap in="b" in2="t" scale="5" xChannelSelector="R" yChannelSelector="G"/></filter>
<clipPath id="c11"><path d="M487.75,451.35 C490.09,451.35 492.15,448.67 494.78,448.02 C497.42,447.37 500.35,447.10 503.57,447.47 C506.80,447.84 510.90,448.85 514.12,450.24 C517.34,451.63 520.42,453.02 522.91,455.79 C525.40,458.56 528.04,463.00 529.06,466.89 C530.09,470.77 530.09,475.22 529.06,479.10 C528.04,482.99 525.40,487.24 522.91,490.20 C520.42,493.16 517.34,495.47 514.12,496.86 C510.90,498.25 506.80,498.43 503.57,498.52 C500.35,498.62 497.42,497.32 494.78,497.42 C492.15,497.51 490.39,499.08 487.75,499.08 C485.11,499.08 481.89,497.60 478.96,497.42 C476.03,497.23 473.39,498.43 470.17,497.97 C466.95,497.51 462.85,496.31 459.62,494.64 C456.40,492.97 453.18,490.94 450.83,487.98 C448.49,485.02 446.29,480.58 445.56,476.88 C444.83,473.18 445.26,469.30 446.44,465.78 C447.61,462.27 450.10,458.38 452.59,455.79 C455.08,453.20 458.16,451.63 461.38,450.24 C464.60,448.85 468.70,447.84 471.93,447.47 C475.15,447.10 478.08,447.37 480.72,448.02 C483.36,448.67 485.41,451.35 487.75,451.35Z"/></clipPath>
<g filter="url(#rag)"><g clip-path="url(#c11)"><path d="M487.75,451.35 C490.09,451.35 492.15,448.67 494.78,448.02 C497.42,447.37 500.35,447.10 503.57,447.47 C506.80,447.84 510.90,448.85 514.12,450.24 C517.34,451.63 520.42,453.02 522.91,455.79 C525.40,458.56 528.04,463.00 529.06,466.89 C530.09,470.77 530.09,475.22 529.06,479.10 C528.04,482.99 525.40,487.24 522.91,490.20 C520.42,493.16 517.34,495.47 514.12,496.86 C510.90,498.25 506.80,498.43 503.57,498.52 C500.35,498.62 497.42,497.32 494.78,497.42 C492.15,497.51 490.39,499.08 487.75,499.08 C485.11,499.08 481.89,497.60 478.96,497.42 C476.03,497.23 473.39,498.43 470.17,497.97 C466.95,497.51 462.85,496.31 459.62,494.64 C456.40,492.97 453.18,490.94 450.83,487.98 C448.49,485.02 446.29,480.58 445.56,476.88 C444.83,473.18 445.26,469.30 446.44,465.78 C447.61,462.27 450.10,458.38 452.59,455.79 C455.08,453.20 458.16,451.63 461.38,450.24 C464.60,448.85 468.70,447.84 471.93,447.47 C475.15,447.10 478.08,447.37 480.72,448.02 C483.36,448.67 485.41,451.35 487.75,451.35Z" fill="#a8d060"/><g filter="url(#bl11)"><path d="M454.35,462.45 C456.25,460.23 460.65,459.77 463.14,460.23 C465.63,460.69 468.27,462.08 469.29,465.23 C470.32,468.37 469.58,474.75 469.29,479.10 C469.00,483.45 468.85,489.27 467.53,491.31 C466.21,493.35 463.58,492.42 461.38,491.31 C459.18,490.20 455.96,487.61 454.35,484.65 C452.74,481.69 451.71,477.25 451.71,473.55 C451.71,469.85 452.44,464.67 454.35,462.45Z" fill="#e8601c" fill-opacity="1"/><ellipse cx="459.62" cy="474.66" rx="4.40" ry="9.99" fill="#e03818" fill-opacity="0.9" transform="rotate(0 459.62 474.66)"/><path d="M521.15,462.45 C519.25,460.23 514.85,459.77 512.36,460.23 C509.87,460.69 507.23,462.08 506.21,465.23 C505.18,468.37 505.92,474.75 506.21,479.10 C506.50,483.45 506.65,489.27 507.97,491.31 C509.29,493.35 511.92,492.42 514.12,491.31 C516.32,490.20 519.54,487.61 521.15,484.65 C522.76,481.69 523.79,477.25 523.79,473.55 C523.79,469.85 523.06,464.67 521.15,462.45Z" fill="#ea6a1c" fill-opacity="1"/><ellipse cx="515.88" cy="474.66" rx="4.40" ry="8.88" fill="#e04a18" fill-opacity="0.9" transform="rotate(0 515.88 474.66)"/><path d="M470.17,458.01 C471.93,455.05 477.79,455.79 480.72,455.79 C483.65,455.79 485.41,458.01 487.75,458.01 C490.09,458.01 491.85,455.79 494.78,455.79 C497.71,455.79 503.57,455.05 505.33,458.01 C507.09,460.97 506.06,468.00 505.33,473.55 C504.60,479.10 502.84,487.06 500.94,491.31 C499.03,495.56 497.13,497.79 493.90,499.08 C490.68,500.38 484.82,500.38 481.60,499.08 C478.37,497.79 476.47,495.56 474.56,491.31 C472.66,487.06 470.90,479.10 470.17,473.55 C469.44,468.00 468.41,460.97 470.17,458.01Z" fill="#2c50c8" fill-opacity="1"/><ellipse cx="487.75" cy="462.45" rx="15.82" ry="4.44" fill="#3a78d8" fill-opacity="0.8" transform="rotate(0 487.75 462.45)"/><line x1="468.41" y1="457.45" x2="507.09" y2="457.45" stroke="#40a8e0" stroke-width="2.4" stroke-opacity="0.9" stroke-linecap="round"/><line x1="478.96" y1="462.45" x2="475.44" y2="492.98" stroke="#4a90e0" stroke-width="1.3" stroke-opacity="0.6" stroke-linecap="round"/><line x1="496.54" y1="462.45" x2="500.06" y2="492.98" stroke="#4a90e0" stroke-width="1.3" stroke-opacity="0.6" stroke-linecap="round"/><line x1="487.75" y1="466.89" x2="487.75" y2="490.20" stroke="#c8d850" stroke-width="2.6" stroke-opacity="0.95" stroke-linecap="round"/><ellipse cx="490.39" cy="452.46" rx="3.52" ry="2.78" fill="#e8701c" fill-opacity="0.9" transform="rotate(0 490.39 452.46)"/><ellipse cx="482.48" cy="452.46" rx="4.40" ry="2.78" fill="#40a0e0" fill-opacity="0.8" transform="rotate(0 482.48 452.46)"/><ellipse cx="487.75" cy="497.42" rx="10.55" ry="2.22" fill="#1e2c98" fill-opacity="0.8" transform="rotate(0 487.75 497.42)"/></g><g fill="none" stroke-width="0.9" stroke-opacity="0.5" stroke-linecap="round"><path d="M516.1,489.9Q520.5,488.4 525.0,488.6" stroke="#fff71f"/><path d="M483.0,487.4Q482.5,484.4 483.9,481.6" stroke="#295597"/><path d="M486.4,488.5Q484.3,484.9 482.5,481.1" stroke="#3256b2"/><path d="M519.8,479.3Q523.4,479.0 526.5,477.0" stroke="#99de88"/><path d="M509.5,467.8Q512.3,465.9 515.6,464.8" stroke="#ff5d21"/><path d="M452.7,479.0Q451.7,475.2 449.4,471.9" stroke="#ed761d"/><path d="M484.0,458.3Q483.7,456.3 483.4,454.3" stroke="#62d0e0"/><path d="M488.5,475.8Q487.4,471.8 488.8,467.8" stroke="#5bc9e0"/><path d="M485.2,492.6Q481.0,494.3 476.5,494.2" stroke="#2f5cac"/><path d="M488.3,485.8Q490.1,481.6 492.9,478.0" stroke="#2a549c"/><path d="M471.8,470.7Q469.4,469.2 467.8,466.8" stroke="#bd6477"/><path d="M495.2,460.5Q491.0,459.3 490.4,454.9" stroke="#46a4de"/><path d="M509.5,478.4Q513.5,477.2 517.0,474.9" stroke="#fc6220"/><path d="M497.0,488.9Q499.3,485.1 499.4,480.6" stroke="#2f51a8"/><path d="M514.9,465.8Q516.5,463.2 517.3,460.3" stroke="#c3281a"/><path d="M457.5,466.6Q455.2,464.0 453.1,461.2" stroke="#ff7121"/><path d="M495.4,451.6Q495.3,449.2 494.5,446.9" stroke="#dbe437"/><path d="M485.3,495.4Q480.7,493.9 477.3,490.4" stroke="#2d59a6"/><path d="M472.4,489.6Q470.2,488.2 467.6,488.7" stroke="#e0d824"/><path d="M521.3,463.3Q524.4,459.9 526.2,455.7" stroke="#a2d867"/><path d="M481.2,482.9Q481.3,479.8 480.5,476.8" stroke="#2e50a7"/><path d="M476.2,467.8Q475.5,465.6 473.9,464.0" stroke="#3168b8"/><path d="M506.6,484.3Q510.8,483.5 515.0,482.7" stroke="#e6741c"/><path d="M451.7,478.0Q447.7,480.5 443.7,478.0" stroke="#b5da52"/><path d="M497.5,496.6Q500.2,496.6 502.8,497.1" stroke="#769347"/><path d="M504.9,493.9Q506.7,491.9 509.4,491.9" stroke="#9bba46"/><path d="M457.5,458.7Q455.4,458.4 454.9,456.3" stroke="#97c85d"/><path d="M496.9,487.3Q498.0,484.2 498.6,481.0" stroke="#285296"/><path d="M486.3,494.0Q485.8,498.6 483.8,502.8" stroke="#19212d"/><path d="M514.7,465.6Q516.6,462.6 517.8,459.2" stroke="#c9411a"/><path d="M492.2,470.2Q492.6,467.8 492.1,465.4" stroke="#367cb4"/><path d="M506.4,472.6Q509.5,472.4 510.0,469.3" stroke="#db801a"/><path d="M490.2,481.0Q490.8,476.9 489.7,473.0" stroke="#2d54a5"/><path d="M479.7,451.5Q479.7,449.2 481.0,447.3" stroke="#73bb8f"/><path d="M493.2,451.3Q495.0,448.6 495.7,445.6" stroke="#8db24a"/><path d="M500.9,490.8Q503.9,488.4 507.7,487.2" stroke="#a3e179"/><path d="M516.3,486.5Q518.2,484.3 520.7,482.8" stroke="#ee611e"/><path d="M474.2,485.7Q470.0,484.2 465.7,485.2" stroke="#d5dd36"/><path d="M521.6,478.3Q525.7,478.0 529.4,476.4" stroke="#91c96d"/><path d="M504.7,465.9Q504.0,461.2 504.6,456.4" stroke="#2c5ba4"/><path d="M493.4,485.8Q494.2,481.1 493.4,476.4" stroke="#305aad"/><path d="M469.2,460.7Q470.0,458.3 469.3,455.8" stroke="#3e8dcd"/><path d="M495.4,454.4Q495.6,451.0 496.7,447.8" stroke="#b3d34c"/><path d="M458.7,476.8Q456.5,477.6 454.4,478.7" stroke="#ff6321"/><path d="M482.7,477.1Q481.9,473.0 480.3,469.2" stroke="#336abc"/><path d="M471.2,489.8Q469.3,489.3 468.3,487.5" stroke="#cae84f"/><path d="M488.9,460.0Q488.5,455.1 491.4,451.1" stroke="#48afd8"/><path d="M507.7,468.3Q509.5,466.7 510.8,464.7" stroke="#ea4c1f"/><path d="M475.2,465.9Q476.1,461.9 474.3,458.2" stroke="#397fc1"/><path d="M498.0,475.3Q500.8,472.4 504.7,471.4" stroke="#2a549b"/><path d="M508.2,461.7Q509.6,458.6 509.4,455.2" stroke="#d4dd36"/><path d="M490.9,455.8Q493.5,453.7 494.6,450.5" stroke="#75b989"/><path d="M501.7,483.6Q505.8,484.2 507.5,480.5" stroke="#aa873d"/><path d="M495.5,449.8Q497.3,448.1 498.0,445.7" stroke="#7c9a47"/><path d="M473.4,485.8Q470.7,485.3 469.6,482.8" stroke="#9fce5b"/><path d="M483.7,468.7Q483.8,464.9 484.1,461.1" stroke="#377bbd"/><path d="M473.7,495.9Q469.8,493.7 466.5,490.7" stroke="#a4de6f"/><path d="M459.1,477.3Q455.7,477.9 452.9,476.0" stroke="#db2421"/><path d="M454.2,489.6Q452.2,488.7 450.0,488.4" stroke="#50632d"/><path d="M505.7,466.3Q505.0,461.8 508.5,458.9" stroke="#3373a9"/><path d="M524.5,477.7Q526.3,475.0 529.3,473.8" stroke="#a6c94d"/><path d="M479.7,472.7Q480.1,468.3 477.4,464.9" stroke="#3057af"/><path d="M474.6,474.3Q471.2,471.1 469.0,467.0" stroke="#2d4ea2"/><path d="M452.7,479.3Q450.2,479.6 447.8,478.6" stroke="#b6d046"/><path d="M484.1,472.7Q484.2,470.6 484.3,468.5" stroke="#3a82c3"/><path d="M447.5,473.5Q446.6,471.3 444.3,470.7" stroke="#9ec24c"/><path d="M480.9,489.9Q476.9,491.6 472.9,489.8" stroke="#263683"/><path d="M516.3,464.8Q518.0,463.4 519.9,462.4" stroke="#cb521a"/><path d="M468.1,453.9Q465.6,452.5 463.3,450.6" stroke="#bfd644"/><path d="M458.0,460.1Q457.2,457.1 456.2,454.2" stroke="#a4c146"/><path d="M510.2,487.0Q512.0,483.6 514.4,480.5" stroke="#e26a1c"/><path d="M486.4,454.6Q487.2,451.8 488.1,449.0" stroke="#74bc91"/><path d="M487.1,468.1Q487.6,465.6 488.3,463.2" stroke="#70c4aa"/><path d="M506.2,488.2Q508.0,486.9 509.7,485.5" stroke="#e4821c"/><path d="M456.1,460.8Q455.2,458.0 455.1,455.1" stroke="#a1bd44"/><path d="M512.1,472.7Q512.2,470.2 513.2,467.9" stroke="#ee5e1e"/><path d="M454.5,485.2Q452.3,484.5 450.0,484.3" stroke="#cee142"/><path d="M494.5,478.8Q497.9,476.9 500.9,474.4" stroke="#2c5aa5"/><path d="M495.3,464.9Q495.5,462.8 496.2,460.8" stroke="#2d5fa2"/><path d="M510.4,484.9Q511.8,483.2 513.6,481.8" stroke="#ee781d"/><path d="M517.8,491.1Q520.3,490.3 522.9,489.7" stroke="#99b744"/><path d="M476.6,488.0Q473.9,484.7 470.0,482.9" stroke="#326bb1"/><path d="M497.5,492.3Q500.4,490.5 503.7,489.4" stroke="#3270a7"/><path d="M497.9,464.6Q497.1,462.6 496.5,460.7" stroke="#2e52a7"/><path d="M456.8,457.7Q454.4,457.4 453.5,455.1" stroke="#97bb4b"/><path d="M519.6,463.0Q520.3,459.0 523.5,456.4" stroke="#7bba7d"/><path d="M477.6,478.6Q476.0,477.3 474.4,476.0" stroke="#3883b5"/><path d="M469.7,458.2Q467.1,456.0 465.0,453.2" stroke="#7aab60"/><path d="M504.3,467.6Q506.4,465.3 507.7,462.4" stroke="#a15e6c"/><path d="M517.3,487.4Q520.2,487.4 522.6,485.8" stroke="#90c86c"/><path d="M478.0,452.7Q478.2,449.7 476.3,447.3" stroke="#68bcaa"/><path d="M504.0,490.4Q506.0,487.8 509.0,486.9" stroke="#97b13f"/><path d="M514.2,491.9Q518.9,493.2 523.6,494.7" stroke="#4c5f2b"/><path d="M486.0,488.8Q484.0,488.2 483.9,486.1" stroke="#2d59a5"/><path d="M462.0,458.3Q460.1,454.7 458.5,451.0" stroke="#90b950"/><path d="M483.8,484.9Q479.9,482.3 477.7,478.2" stroke="#2a5098"/><path d="M519.1,461.9Q518.6,459.9 520.1,458.4" stroke="#b8e158"/><path d="M473.7,480.3Q473.8,477.7 474.6,475.2" stroke="#2d60a8"/><path d="M492.8,492.8Q497.1,491.3 500.2,487.9" stroke="#316da5"/><path d="M515.1,453.2Q513.9,450.7 516.0,448.7" stroke="#98cd68"/><path d="M474.6,493.6Q470.9,495.1 466.9,495.4" stroke="#b4cf46"/><path d="M466.7,481.8Q464.3,480.3 461.5,479.7" stroke="#fd3a22"/><path d="M505.7,468.0Q507.9,465.8 509.1,462.8" stroke="#d03d1b"/><path d="M465.7,479.9Q463.2,476.9 462.9,473.0" stroke="#e8411f"/><path d="M505.6,478.3Q507.7,473.9 511.7,471.1" stroke="#e04c1d"/><path d="M487.4,481.7Q489.1,477.4 486.1,473.9" stroke="#95d175"/><path d="M503.3,492.0Q504.5,487.2 506.2,482.6" stroke="#b1d855"/><path d="M487.7,474.4Q486.9,470.7 486.3,467.0" stroke="#84d6a3"/><path d="M455.9,472.4Q453.3,472.1 451.2,470.3" stroke="#ff8f1f"/><path d="M514.0,478.6Q516.0,477.7 518.0,476.8" stroke="#db4c1c"/><path d="M481.3,465.9Q482.2,464.0 481.9,461.8" stroke="#316caa"/><path d="M494.0,483.2Q496.2,480.0 497.8,476.4" stroke="#2d53a3"/><path d="M455.6,479.4Q453.2,478.4 450.8,477.5" stroke="#ff9120"/><path d="M477.7,494.9Q475.1,490.8 470.7,488.9" stroke="#2b59a0"/><path d="M499.7,485.0Q504.6,484.8 509.3,483.2" stroke="#abd85b"/><path d="M463.9,472.7Q461.9,471.3 460.4,469.3" stroke="#e3561d"/><path d="M465.2,485.5Q462.3,483.7 459.4,481.8" stroke="#ef631e"/><path d="M489.1,494.7Q491.9,493.2 494.1,490.7" stroke="#3d8dc5"/><path d="M519.8,457.7Q518.9,453.5 519.9,449.3" stroke="#65d7e7"/><path d="M491.8,468.9Q494.6,465.1 493.6,460.5" stroke="#3167b8"/><path d="M459.9,483.4Q457.7,481.8 455.6,480.1" stroke="#eb551e"/><path d="M511.8,462.2Q515.3,459.1 518.7,455.9" stroke="#c5e34e"/><path d="M469.4,451.4Q470.8,447.9 471.2,444.3" stroke="#84a34b"/><path d="M504.3,478.6Q504.0,476.2 504.6,473.8" stroke="#3255b3"/><path d="M466.6,460.1Q464.3,458.4 463.0,455.8" stroke="#89bc63"/><path d="M476.9,483.5Q474.2,480.9 471.6,478.2" stroke="#3577b2"/><path d="M489.7,461.7Q490.7,459.5 491.9,457.4" stroke="#4bb4e5"/><path d="M495.3,492.2Q498.0,490.7 501.0,491.4" stroke="#2e59a9"/><path d="M483.3,492.0Q478.5,490.9 473.8,489.3" stroke="#304da9"/><path d="M518.9,470.6Q520.9,467.3 523.3,464.2" stroke="#f7791f"/><path d="M492.4,456.7Q493.7,454.3 493.2,451.6" stroke="#88ddaa"/><path d="M472.7,457.3Q472.2,455.2 471.9,453.0" stroke="#83ba6b"/><path d="M502.5,497.1Q504.9,495.1 507.8,495.9" stroke="#83cb8d"/><path d="M461.2,467.4Q459.5,465.2 458.5,462.6" stroke="#f86520"/><path d="M478.9,454.9Q478.5,450.6 478.1,446.3" stroke="#86bb67"/><path d="M500.0,487.1Q501.8,483.9 504.5,481.4" stroke="#3159b2"/><path d="M469.5,459.3Q469.2,455.2 466.9,451.8" stroke="#64c4c3"/><path d="M473.7,487.8Q470.6,485.0 467.9,481.9" stroke="#a4be42"/><path d="M492.2,455.6Q491.8,451.2 490.2,447.0" stroke="#e37e1c"/><path d="M484.2,460.2Q484.2,455.4 486.9,451.5" stroke="#5aa79b"/><path d="M447.7,477.4Q445.9,474.7 442.5,474.6" stroke="#98c95f"/><path d="M467.8,453.3Q466.8,451.3 465.9,449.2" stroke="#96b94a"/><path d="M507.1,473.5Q511.2,471.9 514.8,469.5" stroke="#e66c1d"/><path d="M512.2,471.1Q516.9,469.6 520.4,466.2" stroke="#d0341c"/><path d="M459.9,487.7Q455.6,488.0 451.5,486.6" stroke="#c7d136"/><path d="M475.2,470.1Q475.4,467.8 476.4,465.8" stroke="#2a579e"/><path d="M490.0,487.1Q490.9,483.6 491.7,480.0" stroke="#3880b7"/><path d="M518.0,489.3Q521.9,486.6 526.7,486.6" stroke="#a4bf42"/><path d="M472.6,451.3Q472.3,448.5 470.5,446.2" stroke="#b2b92d"/><path d="M485.2,489.6Q481.3,488.6 478.0,486.4" stroke="#336cba"/><path d="M476.3,485.5Q476.7,482.3 475.2,479.4" stroke="#397ec3"/><path d="M472.6,471.4Q473.2,467.1 470.0,464.3" stroke="#336fb5"/><path d="M507.0,473.3Q506.6,468.4 509.1,464.2" stroke="#dc6f6a"/><path d="M449.3,477.7Q447.2,476.7 445.0,477.0" stroke="#94b345"/><path d="M510.3,497.3Q512.8,496.5 515.3,497.2" stroke="#181d0d"/><path d="M476.9,463.5Q478.0,458.8 477.8,453.9" stroke="#3e92c5"/><path d="M502.2,478.1Q506.7,477.9 510.6,475.7" stroke="#ae713e"/><path d="M473.4,468.8Q470.9,466.1 468.1,463.8" stroke="#6154a7"/><path d="M457.5,482.4Q454.2,478.7 449.7,477.0" stroke="#cd5d1a"/><path d="M467.2,464.6Q468.9,462.0 467.1,459.5" stroke="#646894"/><path d="M476.4,466.4Q476.2,462.5 476.3,458.7" stroke="#3d93bc"/><path d="M477.1,458.5Q474.4,455.6 472.4,452.0" stroke="#3475b0"/><path d="M462.5,488.5Q459.7,487.2 457.8,484.8" stroke="#eb731d"/><path d="M506.9,464.4Q505.4,460.9 507.3,457.5" stroke="#3673c5"/><path d="M466.5,488.5Q462.5,487.1 458.5,488.4" stroke="#eb531e"/><path d="M488.0,476.5Q489.7,472.2 490.7,467.7" stroke="#335bb7"/><path d="M475.6,451.7Q474.7,448.9 474.1,446.0" stroke="#83bc6f"/><path d="M496.9,466.7Q496.4,461.8 497.6,457.0" stroke="#2a569c"/><path d="M518.1,486.6Q520.6,486.2 522.4,484.3" stroke="#9eb53d"/><path d="M483.2,497.0Q478.4,495.8 473.4,495.0" stroke="#263384"/><path d="M480.3,488.5Q478.1,485.8 477.1,482.5" stroke="#294d97"/><path d="M476.9,496.9Q475.0,495.8 473.1,494.7" stroke="#a4c145"/><path d="M457.8,467.6Q456.4,464.6 455.4,461.4" stroke="#f2831e"/><path d="M516.7,485.3Q521.2,485.2 524.8,482.5" stroke="#d8e33b"/><path d="M479.9,494.8Q477.8,492.9 475.0,493.3" stroke="#274b90"/><path d="M480.1,464.5Q478.7,462.8 477.3,461.2" stroke="#306aa4"/><path d="M477.3,467.2Q477.1,463.3 474.5,460.4" stroke="#3053ae"/><path d="M495.1,495.2Q499.7,495.6 504.2,495.5" stroke="#78af6b"/><path d="M508.4,478.9Q509.8,475.4 512.2,472.5" stroke="#d9491c"/><path d="M516.2,475.5Q519.0,473.3 521.6,470.8" stroke="#f85d20"/><path d="M503.7,477.5Q505.2,476.2 505.8,474.3" stroke="#6c6a96"/><path d="M502.9,485.5Q505.4,484.0 508.0,482.6" stroke="#bcdc4e"/><path d="M488.3,492.3Q491.6,490.4 493.6,487.1" stroke="#3a80cd"/><path d="M461.3,461.0Q458.8,459.5 456.5,457.7" stroke="#e3671c"/><path d="M454.5,473.4Q449.9,474.4 445.1,474.6" stroke="#b7c233"/><path d="M511.6,491.1Q515.4,492.1 518.9,490.6" stroke="#c8e74f"/><path d="M506.1,452.1Q510.5,449.9 514.9,447.8" stroke="#73bb91"/><path d="M516.5,483.3Q518.0,481.4 520.2,480.3" stroke="#ff7321"/><path d="M484.0,474.2Q483.7,471.4 484.6,468.8" stroke="#367ab2"/><path d="M463.9,486.7Q460.1,484.8 455.9,484.5" stroke="#f35220"/><path d="M485.0,490.9Q482.7,487.1 480.4,483.1" stroke="#335fb8"/><path d="M495.8,453.2Q495.4,450.6 495.9,448.1" stroke="#a9cb4d"/><path d="M500.7,453.7Q502.1,450.1 504.8,447.3" stroke="#8ddb9b"/><path d="M459.2,488.9Q455.2,489.8 451.4,488.5" stroke="#8db24a"/><path d="M521.8,470.7Q525.4,470.9 528.7,469.9" stroke="#75ab6a"/><path d="M510.4,471.8Q513.5,468.3 517.4,465.9" stroke="#ea771d"/><path d="M498.0,466.9Q496.8,463.0 497.4,458.9" stroke="#3f93c8"/><path d="M499.1,472.4Q500.7,468.2 500.8,463.6" stroke="#2d60a2"/><path d="M493.2,483.6Q494.7,479.9 497.3,476.8" stroke="#294892"/><path d="M515.6,491.9Q517.5,492.8 519.6,493.3" stroke="#b4bb2e"/><path d="M502.7,498.4Q505.8,496.5 509.4,496.6" stroke="#93b345"/><path d="M504.1,454.2Q505.4,452.4 504.0,450.5" stroke="#c2d540"/><path d="M512.3,452.4Q514.5,450.8 514.8,448.2" stroke="#7dc58e"/><path d="M514.8,482.3Q517.5,482.6 520.3,482.6" stroke="#f3541f"/><path d="M461.3,462.2Q457.5,459.1 455.8,454.4" stroke="#aec945"/><path d="M495.1,486.7Q497.2,483.7 500.4,481.8" stroke="#3983bf"/><path d="M525.0,481.3Q527.0,480.6 528.5,479.3" stroke="#69823c"/><path d="M481.4,494.4Q478.6,494.1 476.1,493.0" stroke="#3066b1"/><path d="M504.5,463.2Q504.7,459.9 505.6,456.7" stroke="#2e58a7"/><path d="M465.2,465.5Q465.0,462.1 464.7,458.8" stroke="#db7b1b"/><path d="M461.0,465.1Q456.7,463.0 453.0,459.9" stroke="#ff9021"/><path d="M466.5,455.7Q465.0,453.2 464.3,450.4" stroke="#84b158"/><path d="M483.3,457.8Q483.1,452.9 484.1,448.1" stroke="#81c589"/><path d="M472.6,473.1Q470.0,471.2 468.2,468.6" stroke="#7f5e9c"/><path d="M519.7,478.3Q523.3,476.1 526.7,473.8" stroke="#ffb620"/><path d="M500.8,476.6Q502.2,473.4 502.8,470.0" stroke="#3e8ccd"/><path d="M484.9,497.9Q484.2,495.0 481.8,493.2" stroke="#2f379d"/><path d="M502.6,485.5Q506.6,484.3 509.7,481.6" stroke="#fb931e"/><path d="M455.8,483.1Q453.7,482.5 451.6,482.4" stroke="#fe841f"/><path d="M499.3,483.1Q500.9,481.1 501.5,478.6" stroke="#2d479f"/><path d="M499.1,466.6Q499.7,463.6 501.2,460.9" stroke="#48abde"/><path d="M472.4,458.2Q473.0,456.3 473.2,454.3" stroke="#45a0de"/><path d="M501.4,477.6Q504.0,478.6 506.6,477.7" stroke="#4297d7"/><path d="M504.8,468.2Q508.3,464.7 511.3,460.9" stroke="#f4811e"/><path d="M455.6,460.4Q452.6,459.3 449.5,458.5" stroke="#81b86c"/><path d="M521.7,477.4Q524.1,477.6 526.4,477.3" stroke="#dbe438"/><path d="M497.8,457.4Q499.1,454.1 499.9,450.6" stroke="#73ad73"/><path d="M467.6,484.9Q465.9,480.5 461.4,479.3" stroke="#e85c1e"/><path d="M485.1,475.3Q484.5,471.6 484.0,467.8" stroke="#2d55a4"/><path d="M458.2,484.7Q456.8,480.6 452.9,478.9" stroke="#db291e"/><path d="M526.2,482.3Q528.2,480.2 531.0,479.6" stroke="#435326"/><path d="M514.2,471.3Q516.1,468.6 519.3,467.6" stroke="#d23a1c"/><path d="M485.4,460.4Q487.0,456.9 487.8,453.1" stroke="#46a9d6"/><path d="M497.1,481.5Q496.7,478.6 495.0,476.2" stroke="#3d8bc8"/><path d="M514.8,490.0Q517.0,487.3 519.8,485.1" stroke="#df751b"/><path d="M466.3,465.7Q465.9,462.5 464.5,459.5" stroke="#e2944c"/><path d="M481.5,459.1Q478.8,458.0 478.2,455.2" stroke="#4399db"/><path d="M470.4,461.2Q469.7,459.0 469.2,456.7" stroke="#4ebaee"/><path d="M483.7,452.3Q482.9,449.6 482.9,446.7" stroke="#528b86"/><path d="M461.1,476.8Q458.6,475.0 456.0,473.4" stroke="#fa4721"/><path d="M462.5,484.0Q460.3,483.4 458.6,482.0" stroke="#d1381c"/><path d="M524.8,470.0Q526.8,465.9 526.2,461.3" stroke="#7db063"/><path d="M478.4,457.2Q475.1,455.4 473.3,452.1" stroke="#53aeba"/><path d="M462.7,487.8Q459.8,484.2 459.5,479.7" stroke="#ce441b"/><path d="M455.4,471.7Q454.5,469.7 453.9,467.5" stroke="#ca2f1b"/><path d="M490.2,474.1Q490.9,469.5 491.2,464.8" stroke="#3050ab"/><path d="M485.3,493.4Q488.2,490.4 489.0,486.2" stroke="#687d9a"/><path d="M469.7,468.2Q468.6,464.1 466.5,460.6" stroke="#88628e"/><path d="M514.5,491.0Q516.4,489.7 518.2,488.1" stroke="#9fb940"/><path d="M456.3,467.9Q453.7,467.5 451.8,465.6" stroke="#d14c1b"/><path d="M490.1,469.3Q487.6,465.7 488.8,461.5" stroke="#86c478"/><path d="M496.0,483.6Q498.0,481.9 500.7,481.5" stroke="#3d8bcb"/><path d="M499.8,463.2Q499.1,461.0 498.4,458.8" stroke="#4094d1"/><path d="M513.8,466.4Q514.1,463.9 514.2,461.4" stroke="#ea551e"/><path d="M483.5,486.8Q481.0,482.7 477.3,479.7" stroke="#326eaa"/><path d="M492.3,459.5Q493.1,455.6 491.8,451.9" stroke="#3882b4"/><path d="M495.3,495.3Q499.7,497.7 504.5,498.8" stroke="#364420"/><path d="M490.4,494.6Q494.4,492.9 497.9,490.2" stroke="#3056af"/><path d="M504.7,490.5Q508.2,488.0 512.5,488.9" stroke="#ff9420"/><path d="M484.5,469.4Q483.4,466.6 484.5,463.8" stroke="#3d88cd"/><path d="M483.2,459.2Q482.4,455.9 481.7,452.6" stroke="#2f64a9"/><path d="M482.8,469.0Q482.9,465.6 485.4,463.2" stroke="#4096cd"/><path d="M456.7,484.8Q453.9,482.9 452.3,480.0" stroke="#c84f1a"/><path d="M514.4,463.4Q515.4,461.7 517.3,461.0" stroke="#ff7c20"/><path d="M505.5,483.4Q508.0,481.5 511.1,480.9" stroke="#ffab21"/><path d="M487.6,458.6Q488.2,455.2 489.0,451.8" stroke="#52c8f2"/><path d="M487.5,460.1Q488.2,455.4 487.3,450.8" stroke="#5cada3"/><path d="M477.2,451.9Q475.3,448.0 472.1,445.1" stroke="#87be6b"/><path d="M485.0,454.1Q485.7,450.6 487.7,447.8" stroke="#4c7d80"/><path d="M508.3,498.1Q511.3,496.4 514.1,494.5" stroke="#77be8d"/><path d="M483.3,494.2Q479.3,493.5 476.3,490.9" stroke="#295299"/><path d="M501.8,481.5Q505.3,479.3 508.4,476.6" stroke="#919d99"/><path d="M493.6,496.9Q495.8,496.5 497.8,497.7" stroke="#293743"/><path d="M486.8,491.8Q488.3,489.4 488.0,486.6" stroke="#6a7e91"/><path d="M481.8,470.8Q482.0,466.3 480.9,462.0" stroke="#47a6e2"/><path d="M473.3,454.7Q473.5,452.1 472.5,449.7" stroke="#93bd52"/><path d="M518.8,489.4Q522.4,486.2 525.4,482.5" stroke="#a4c64b"/><path d="M461.4,476.5Q460.5,473.4 459.2,470.4" stroke="#a41b1b"/><path d="M468.5,487.9Q466.4,488.2 464.2,488.5" stroke="#ee5f1e"/><path d="M463.6,462.9Q461.0,460.2 460.7,456.4" stroke="#de5b1c"/><path d="M505.8,457.8Q509.5,455.1 509.7,450.5" stroke="#8ed389"/><path d="M487.9,496.8Q487.1,493.0 487.8,489.2" stroke="#346fc0"/><path d="M507.1,471.3Q507.9,466.9 507.4,462.6" stroke="#eb551e"/><path d="M501.5,479.2Q504.7,477.2 506.7,474.0" stroke="#757796"/><path d="M490.0,483.4Q493.1,479.7 494.9,475.2" stroke="#2f55ab"/><path d="M460.1,469.5Q457.8,467.1 455.2,465.0" stroke="#d5461c"/><path d="M507.4,466.2Q511.3,463.5 513.7,459.4" stroke="#df731b"/><path d="M517.7,471.5Q518.9,469.9 519.0,467.8" stroke="#e77c1c"/><path d="M519.2,489.6Q521.8,490.0 524.4,490.2" stroke="#495a29"/><path d="M484.5,456.9Q484.5,452.3 483.3,447.8" stroke="#49a5bd"/><path d="M524.4,477.0Q524.8,474.9 526.7,473.7" stroke="#b5e45f"/><path d="M481.9,462.6Q482.8,459.6 481.8,456.6" stroke="#3570c1"/><path d="M482.7,481.7Q484.9,479.5 487.0,477.2" stroke="#3370b4"/><path d="M489.2,481.0Q490.8,478.2 492.2,475.2" stroke="#4092d1"/><path d="M472.0,462.0Q470.8,459.9 469.8,457.8" stroke="#2d4da1"/><path d="M457.9,461.9Q453.8,459.1 449.0,458.1" stroke="#97cf6d"/><path d="M476.8,469.4Q477.1,466.0 476.7,462.7" stroke="#346fbf"/><path d="M475.4,486.4Q473.1,482.6 471.4,478.4" stroke="#3778c5"/><path d="M462.0,492.9Q459.1,492.4 456.1,492.4" stroke="#b5c337"/><path d="M500.4,481.8Q502.6,479.6 504.9,477.5" stroke="#2e56a8"/><path d="M521.5,464.1Q524.9,464.3 527.9,462.8" stroke="#7bdbc0"/><path d="M512.2,478.9Q513.2,476.5 514.6,474.4" stroke="#c2301a"/><path d="M491.4,497.1Q493.4,494.0 495.4,490.9" stroke="#3364bc"/><path d="M485.5,498.5Q483.2,496.0 479.9,495.2" stroke="#3252b1"/><path d="M510.4,486.8Q512.1,482.4 516.8,481.5" stroke="#f34f20"/><path d="M503.3,491.7Q505.9,492.0 508.4,491.4" stroke="#afd14d"/><path d="M520.0,474.7Q521.2,471.4 524.0,469.2" stroke="#c74b1a"/><path d="M482.0,476.5Q482.4,472.8 481.5,469.3" stroke="#3776c7"/><path d="M480.0,479.4Q478.3,476.9 476.2,474.7" stroke="#2a5999"/><path d="M481.2,492.1Q477.9,491.9 475.4,489.9" stroke="#2b589f"/><path d="M453.3,482.8Q450.6,480.5 447.6,478.6" stroke="#c1d641"/><path d="M469.9,497.0Q466.4,494.4 462.6,492.2" stroke="#93b244"/><path d="M500.8,456.7Q503.8,456.5 506.7,455.5" stroke="#46a5d9"/><path d="M448.9,472.4Q446.6,472.4 445.3,470.4" stroke="#adda5b"/><path d="M494.6,483.8Q496.9,481.2 497.7,477.8" stroke="#3c87c8"/><path d="M458.8,472.6Q456.4,471.2 453.6,470.8" stroke="#cc581a"/><path d="M471.8,471.2Q471.5,467.9 469.1,465.7" stroke="#3e8cd0"/><path d="M506.8,481.8Q509.9,480.6 512.5,478.8" stroke="#ec3c1f"/><path d="M501.9,491.0Q503.6,487.7 506.5,485.4" stroke="#8aae48"/><path d="M506.4,460.9Q506.9,456.9 508.4,453.1" stroke="#59b0b0"/><path d="M479.4,496.5Q477.1,496.0 474.8,496.1" stroke="#536e74"/><path d="M504.5,496.0Q507.2,496.5 509.9,496.4" stroke="#718c40"/><path d="M480.8,464.9Q481.8,461.7 479.4,459.3" stroke="#3f92cd"/><path d="M481.8,478.6Q480.1,474.5 478.6,470.3" stroke="#284e93"/><path d="M516.5,483.1Q520.3,481.5 524.3,481.2" stroke="#d8561c"/></g></g></g>

<filter id="bl12" x="-20%" y="-20%" width="140%" height="140%"><feGaussianBlur stdDeviation="1.0" result="b"/><feTurbulence type="fractalNoise" baseFrequency="0.12" numOctaves="2" seed="12" result="t"/><feDisplacementMap in="b" in2="t" scale="5" xChannelSelector="R" yChannelSelector="G"/></filter>
<clipPath id="c12"><path d="M571.64,449.20 C577.26,448.15 582.10,447.10 588.41,447.10 C594.72,447.10 603.54,447.45 609.51,449.20 C615.49,450.96 620.99,454.46 624.24,457.62 C627.48,460.79 628.45,464.70 628.98,468.21 C629.51,471.71 628.93,475.88 627.43,478.68 C625.93,481.47 622.62,483.24 619.98,484.99 C617.35,486.75 614.09,487.10 611.64,489.20 C609.19,491.31 607.73,495.58 605.26,497.62 C602.79,499.66 600.69,500.81 596.83,501.45 C592.98,502.08 586.31,502.08 582.11,501.45 C577.91,500.81 574.45,499.66 571.64,497.62 C568.83,495.58 567.73,491.66 565.26,489.20 C562.79,486.75 559.47,485.33 556.83,482.89 C554.20,480.44 550.84,477.69 549.47,474.52 C548.11,471.35 547.78,467.40 548.65,463.88 C549.53,460.37 550.88,455.86 554.71,453.41 C558.54,450.97 566.02,450.26 571.64,449.20Z"/></clipPath>
<g filter="url(#rag)"><g clip-path="url(#c12)"><path d="M571.64,449.20 C577.26,448.15 582.10,447.10 588.41,447.10 C594.72,447.10 603.54,447.45 609.51,449.20 C615.49,450.96 620.99,454.46 624.24,457.62 C627.48,460.79 628.45,464.70 628.98,468.21 C629.51,471.71 628.93,475.88 627.43,478.68 C625.93,481.47 622.62,483.24 619.98,484.99 C617.35,486.75 614.09,487.10 611.64,489.20 C609.19,491.31 607.73,495.58 605.26,497.62 C602.79,499.66 600.69,500.81 596.83,501.45 C592.98,502.08 586.31,502.08 582.11,501.45 C577.91,500.81 574.45,499.66 571.64,497.62 C568.83,495.58 567.73,491.66 565.26,489.20 C562.79,486.75 559.47,485.33 556.83,482.89 C554.20,480.44 550.84,477.69 549.47,474.52 C548.11,471.35 547.78,467.40 548.65,463.88 C549.53,460.37 550.88,455.86 554.71,453.41 C558.54,450.97 566.02,450.26 571.64,449.20Z" fill="#e85a1e"/><g filter="url(#bl12)"><ellipse cx="561.09" cy="467.65" rx="10.63" ry="12.19" fill="#e03a18" fill-opacity="1" transform="rotate(0 561.09 467.65)"/><ellipse cx="616.71" cy="467.65" rx="10.63" ry="12.19" fill="#e03a18" fill-opacity="1" transform="rotate(0 616.71 467.65)"/><ellipse cx="587.26" cy="464.88" rx="11.45" ry="3.88" fill="#f0a030" fill-opacity="0.9" transform="rotate(0 587.26 464.88)"/><line x1="603.62" y1="451.03" x2="606.90" y2="474.30" stroke="#e8c838" stroke-width="2" stroke-opacity="0.8" stroke-linecap="round"/><line x1="572.54" y1="451.03" x2="570.09" y2="471.53" stroke="#e8b030" stroke-width="1.8" stroke-opacity="0.7" stroke-linecap="round"/><path d="M556.18,477.07 C558.36,475.41 567.09,472.73 572.54,471.53 C577.99,470.33 583.45,469.87 588.90,469.87 C594.35,469.87 599.81,470.33 605.26,471.53 C610.71,472.73 619.44,475.41 621.62,477.07 C623.80,478.73 621.07,481.59 618.35,481.50 C615.62,481.41 610.17,477.62 605.26,476.52 C600.35,475.41 594.35,474.85 588.90,474.85 C583.45,474.85 577.45,475.41 572.54,476.52 C567.63,477.62 562.18,481.41 559.45,481.50 C556.73,481.59 554.00,478.73 556.18,477.07Z" fill="#d4d048" fill-opacity="1"/><ellipse cx="559.45" cy="482.06" rx="5.73" ry="4.43" fill="#e8b030" fill-opacity="0.9" transform="rotate(0 559.45 482.06)"/><ellipse cx="618.35" cy="480.95" rx="4.91" ry="3.88" fill="#d8d040" fill-opacity="0.9" transform="rotate(0 618.35 480.95)"/><path d="M566.00,480.95 C567.22,477.72 572.81,477.90 576.63,477.07 C580.45,476.24 584.81,475.96 588.90,475.96 C592.99,475.96 597.35,476.24 601.17,477.07 C604.99,477.90 610.58,477.72 611.80,480.95 C613.03,484.18 610.99,492.95 608.53,496.46 C606.08,499.97 601.72,501.08 597.08,502.00 C592.44,502.92 585.36,502.92 580.72,502.00 C576.08,501.08 571.72,499.97 569.27,496.46 C566.81,492.95 564.77,484.18 566.00,480.95Z" fill="#4a9ad8" fill-opacity="1"/><path d="M572.54,493.69 C573.90,491.29 583.45,487.60 588.90,487.60 C594.35,487.60 603.90,491.29 605.26,493.69 C606.62,496.09 601.17,500.62 597.08,502.00 C592.99,503.38 584.81,503.38 580.72,502.00 C576.63,500.62 571.18,496.09 572.54,493.69Z" fill="#2c4cbc" fill-opacity="0.9"/><line x1="574.99" y1="479.84" x2="579.08" y2="499.23" stroke="#70c8e0" stroke-width="1.4" stroke-opacity="0.8" stroke-linecap="round"/><line x1="598.72" y1="479.84" x2="597.08" y2="499.23" stroke="#70c8e0" stroke-width="1.4" stroke-opacity="0.7" stroke-linecap="round"/><line x1="588.90" y1="478.73" x2="587.26" y2="490.92" stroke="#80c8d0" stroke-width="1.4" stroke-opacity="0.6" stroke-linecap="round"/></g><g fill="none" stroke-width="0.9" stroke-opacity="0.5" stroke-linecap="round"><path d="M607.5,482.3Q611.2,484.3 615.5,483.8" stroke="#ad8a89"/><path d="M588.4,497.6Q587.8,495.2 587.1,492.9" stroke="#397cc9"/><path d="M592.9,470.6Q593.9,466.2 595.9,462.2" stroke="#faaa1d"/><path d="M617.1,470.9Q619.7,470.0 622.0,468.6" stroke="#f06a1e"/><path d="M580.6,484.0Q578.2,483.3 576.2,481.9" stroke="#51c4f1"/><path d="M591.1,498.4Q591.4,494.7 592.4,491.1" stroke="#295699"/><path d="M618.8,478.5Q622.4,476.7 626.4,476.2" stroke="#ff8421"/><path d="M619.1,461.9Q619.7,458.0 623.1,455.9" stroke="#cd301b"/><path d="M579.4,460.5Q578.3,455.8 575.6,451.8" stroke="#e1631c"/><path d="M597.9,472.1Q598.7,467.5 600.0,462.9" stroke="#d8621b"/><path d="M574.5,487.9Q569.6,488.6 565.2,486.1" stroke="#3b8abc"/><path d="M598.8,491.7Q601.8,490.5 603.7,488.0" stroke="#2a549c"/><path d="M579.2,455.7Q574.8,453.6 570.6,450.9" stroke="#f6671f"/><path d="M594.6,458.2Q594.4,453.6 597.2,449.8" stroke="#ce581a"/><path d="M588.0,454.2Q587.8,451.5 589.1,449.1" stroke="#ce511a"/><path d="M616.2,485.6Q618.7,484.9 621.0,483.8" stroke="#643310"/><path d="M574.1,475.3Q573.2,470.6 573.2,465.7" stroke="#e8781c"/><path d="M587.3,455.3Q586.2,451.8 583.3,449.6" stroke="#ff8221"/><path d="M568.9,467.8Q568.2,463.8 567.0,460.0" stroke="#e5641d"/><path d="M623.0,466.1Q626.3,466.5 629.6,465.7" stroke="#f83721"/><path d="M591.5,454.4Q594.4,451.0 595.1,446.6" stroke="#da511c"/><path d="M589.1,481.3Q590.7,479.0 591.3,476.2" stroke="#3b8db8"/><path d="M614.2,462.3Q616.0,459.3 617.8,456.3" stroke="#f22e21"/><path d="M617.3,479.9Q620.8,479.5 622.5,476.4" stroke="#e7ec36"/><path d="M583.0,490.6Q580.9,489.9 578.8,489.1" stroke="#2b539d"/><path d="M598.9,479.5Q600.6,475.2 604.4,472.5" stroke="#ad9060"/><path d="M577.9,461.2Q580.1,457.5 577.3,454.1" stroke="#c3301a"/><path d="M577.4,471.7Q576.9,467.5 573.1,465.6" stroke="#f5761e"/><path d="M593.5,454.4Q594.0,451.6 596.2,449.8" stroke="#d4481b"/><path d="M585.2,455.7Q584.2,453.3 584.4,450.7" stroke="#e34c1e"/><path d="M609.3,464.7Q611.0,462.8 610.7,460.2" stroke="#e12520"/><path d="M616.9,474.3Q618.9,472.7 620.4,470.5" stroke="#f1691e"/><path d="M557.5,470.9Q553.4,469.7 549.2,470.7" stroke="#f65f20"/><path d="M617.9,472.2Q620.3,471.8 622.7,471.4" stroke="#d1511b"/><path d="M604.3,455.6Q606.8,452.5 606.0,448.6" stroke="#ff6a22"/><path d="M569.2,461.1Q565.0,459.8 561.5,457.1" stroke="#d0221c"/><path d="M577.7,477.4Q575.8,472.9 574.6,468.1" stroke="#aecf4d"/><path d="M575.2,473.2Q573.9,471.6 573.5,469.6" stroke="#ccdf42"/><path d="M599.1,473.5Q600.7,470.4 602.3,467.3" stroke="#f15e1f"/><path d="M618.1,468.7Q621.2,465.2 624.8,462.0" stroke="#e93c1f"/><path d="M592.0,459.7Q591.6,455.3 590.0,451.1" stroke="#ec581e"/><path d="M568.9,456.5Q566.8,454.9 564.5,453.3" stroke="#e7771c"/><path d="M580.4,461.2Q580.2,457.8 579.2,454.5" stroke="#cc4d1a"/><path d="M551.9,480.3Q552.2,477.6 551.6,475.0" stroke="#99191e"/><path d="M602.6,460.8Q603.5,456.7 604.4,452.7" stroke="#e15f1c"/><path d="M594.9,461.7Q592.8,458.5 594.4,455.0" stroke="#fa8b1e"/><path d="M573.1,494.0Q569.3,493.8 566.5,496.5" stroke="#2a4997"/><path d="M556.5,458.7Q554.4,455.0 553.9,450.7" stroke="#e1331e"/><path d="M581.5,498.0Q577.3,498.5 573.1,498.6" stroke="#3b87c6"/><path d="M604.1,479.0Q607.0,478.2 608.8,475.7" stroke="#5aafad"/><path d="M598.3,469.3Q599.1,466.1 600.6,463.2" stroke="#e0611c"/><path d="M582.5,496.7Q577.8,497.4 573.4,498.8" stroke="#4cb4ec"/><path d="M553.7,477.1Q551.1,473.9 547.2,472.7" stroke="#ef6c1e"/><path d="M591.2,455.7Q594.4,452.4 597.4,449.0" stroke="#b71e1b"/><path d="M617.5,469.5Q620.0,467.5 622.3,465.2" stroke="#db511c"/><path d="M617.6,459.8Q622.1,458.4 626.5,456.8" stroke="#99191a"/><path d="M600.7,493.3Q602.2,491.8 604.2,491.1" stroke="#326eab"/><path d="M589.1,489.9Q588.8,485.1 589.4,480.4" stroke="#4faab9"/><path d="M562.6,463.9Q560.3,460.3 559.1,456.1" stroke="#fb6220"/><path d="M561.7,460.1Q562.6,457.8 561.6,455.6" stroke="#be1f1a"/><path d="M586.6,485.0Q585.2,482.4 583.8,479.7" stroke="#3879c9"/><path d="M591.4,493.6Q589.7,489.4 589.9,484.9" stroke="#367db2"/><path d="M579.8,500.3Q576.6,499.3 573.7,501.1" stroke="#263784"/><path d="M564.9,455.6Q564.8,451.0 566.1,446.5" stroke="#c2301a"/><path d="M576.1,464.5Q575.5,460.7 572.9,457.9" stroke="#f73e21"/><path d="M602.4,477.4Q604.9,474.3 605.9,470.4" stroke="#d6e13b"/><path d="M582.2,497.1Q579.4,496.1 576.5,495.6" stroke="#3068ae"/><path d="M571.1,460.2Q568.2,457.4 566.2,453.8" stroke="#ff5221"/><path d="M565.0,458.9Q562.4,459.0 559.8,458.9" stroke="#d7541b"/><path d="M598.8,469.8Q599.6,466.2 599.8,462.5" stroke="#f22721"/><path d="M599.5,495.6Q603.5,494.1 607.6,493.9" stroke="#294f95"/><path d="M592.3,494.5Q592.9,489.8 589.2,486.9" stroke="#3882b6"/><path d="M619.3,468.0Q620.5,464.4 623.3,461.9" stroke="#e6501e"/><path d="M581.1,474.3Q582.3,471.3 585.2,469.8" stroke="#d1df3c"/><path d="M564.6,473.3Q560.3,471.9 557.6,468.4" stroke="#d0321c"/><path d="M598.0,472.2Q600.0,469.7 603.1,468.9" stroke="#df541d"/><path d="M591.0,471.2Q592.9,469.3 593.7,466.8" stroke="#e9871c"/><path d="M606.2,468.2Q610.4,465.5 615.0,463.7" stroke="#c73d1a"/><path d="M599.8,461.5Q602.2,458.7 605.5,457.3" stroke="#df501d"/><path d="M577.4,457.8Q574.2,454.5 570.4,451.8" stroke="#ff5d21"/><path d="M576.4,495.3Q573.5,493.2 570.2,491.5" stroke="#3168b4"/><path d="M569.2,471.3Q568.3,466.7 567.8,462.1" stroke="#de3f1d"/><path d="M601.4,489.8Q605.4,487.3 609.2,484.5" stroke="#3573bd"/><path d="M602.2,456.6Q602.1,452.5 602.6,448.5" stroke="#ff8820"/><path d="M581.5,500.2Q579.3,496.0 574.7,494.8" stroke="#3266b8"/><path d="M584.8,476.5Q583.0,472.5 581.5,468.4" stroke="#e7d81e"/><path d="M608.2,487.3Q611.7,486.3 614.3,483.9" stroke="#df411d"/><path d="M610.0,481.2Q612.3,479.4 612.2,476.4" stroke="#c1bd23"/><path d="M581.7,475.6Q580.7,471.2 578.3,467.5" stroke="#d4dd37"/><path d="M598.9,464.5Q597.7,460.4 600.9,457.7" stroke="#ef541f"/><path d="M609.0,483.8Q613.1,481.9 617.0,479.5" stroke="#fb841f"/><path d="M606.6,482.2Q610.3,480.2 612.3,476.5" stroke="#858e9e"/><path d="M557.3,462.5Q554.2,459.8 550.8,457.6" stroke="#c5291b"/><path d="M571.7,482.7Q569.9,481.6 567.8,481.5" stroke="#449edb"/><path d="M574.3,464.0Q573.6,461.8 572.9,459.7" stroke="#db7a1b"/><path d="M565.9,489.4Q562.5,486.5 559.3,483.3" stroke="#49220b"/><path d="M587.7,468.2Q589.6,466.4 590.9,464.1" stroke="#e59a1b"/><path d="M609.7,470.1Q612.0,467.6 614.8,465.6" stroke="#bb1e1c"/><path d="M592.0,480.0Q590.7,476.5 588.3,473.5" stroke="#83838b"/><path d="M557.7,464.1Q556.7,461.4 556.2,458.7" stroke="#b61e1c"/><path d="M608.3,472.2Q609.2,469.7 611.2,468.0" stroke="#c6251b"/><path d="M590.3,472.7Q590.4,467.8 591.0,463.0" stroke="#ebb51a"/><path d="M596.8,491.5Q595.2,487.8 596.4,484.0" stroke="#387ac8"/><path d="M614.6,479.8Q619.5,479.5 624.2,478.0" stroke="#bee355"/><path d="M594.9,497.7Q599.5,497.7 602.6,501.1" stroke="#3982c0"/><path d="M594.7,493.3Q596.0,490.6 598.6,489.0" stroke="#326db5"/><path d="M614.5,484.8Q617.6,484.2 620.7,483.3" stroke="#d14d1b"/><path d="M614.3,476.0Q615.1,474.1 616.5,472.5" stroke="#e7a01a"/><path d="M569.0,458.8Q567.8,456.5 566.7,454.1" stroke="#f92f22"/><path d="M560.2,457.7Q556.1,455.5 552.2,452.8" stroke="#cc581a"/><path d="M598.1,468.4Q598.4,464.4 598.0,460.4" stroke="#d2581b"/><path d="M564.3,482.9Q561.1,481.1 557.4,481.5" stroke="#f1a01c"/><path d="M574.2,477.3Q569.4,477.6 565.4,474.7" stroke="#6fc6af"/><path d="M562.5,475.9Q560.7,474.5 558.6,473.8" stroke="#ffb81f"/><path d="M561.0,475.7Q560.0,472.6 556.7,471.7" stroke="#d96f1b"/><path d="M570.7,488.5Q569.1,486.6 568.4,484.2" stroke="#51c3f3"/><path d="M562.3,475.0Q560.2,473.4 557.7,472.9" stroke="#e9861c"/><path d="M587.0,453.0Q586.1,450.1 587.6,447.5" stroke="#d53f1c"/><path d="M593.6,461.2Q593.2,458.7 591.7,456.7" stroke="#da4c1c"/><path d="M595.1,460.9Q594.8,458.9 595.3,456.8" stroke="#d85a1b"/><path d="M618.9,462.5Q622.3,460.4 625.7,458.4" stroke="#de361e"/><path d="M574.2,484.9Q571.1,484.7 568.0,484.7" stroke="#4099c1"/><path d="M620.9,477.8Q625.3,478.5 629.8,477.6" stroke="#ca5519"/><path d="M593.1,461.2Q590.4,457.6 590.2,453.0" stroke="#ff5921"/><path d="M579.9,485.9Q578.9,481.9 579.1,477.7" stroke="#5cc4d5"/><path d="M566.9,480.5Q563.5,482.2 560.3,480.3" stroke="#ce6a19"/><path d="M595.3,490.1Q596.7,488.0 597.2,485.5" stroke="#45a1df"/><path d="M585.5,474.5Q582.9,470.3 585.7,466.3" stroke="#d18319"/><path d="M591.8,472.0Q591.1,467.9 590.6,463.9" stroke="#ff9321"/><path d="M568.7,464.7Q566.5,463.5 564.9,461.5" stroke="#fa5321"/><path d="M569.7,482.8Q567.2,482.8 564.7,482.8" stroke="#4cb8e6"/><path d="M566.3,455.4Q566.5,453.1 565.8,451.0" stroke="#f24f20"/><path d="M574.8,475.3Q571.2,474.0 568.3,471.6" stroke="#84b967"/><path d="M595.9,474.6Q594.3,471.2 596.1,467.8" stroke="#c0c12a"/><path d="M556.3,469.7Q553.2,468.9 552.2,465.8" stroke="#cf221d"/><path d="M583.6,489.2Q580.8,487.1 578.1,485.1" stroke="#3e90c8"/><path d="M621.3,482.9Q623.6,481.7 625.0,479.6" stroke="#3e1d09"/><path d="M603.6,490.4Q606.5,488.5 608.5,485.7" stroke="#4ebeea"/><path d="M594.3,496.7Q597.0,499.5 600.8,500.5" stroke="#284491"/><path d="M614.1,469.5Q616.7,466.7 618.5,463.3" stroke="#d03b1b"/><path d="M586.6,453.7Q588.3,450.5 588.8,447.0" stroke="#fe6021"/><path d="M557.5,476.6Q555.6,475.6 553.9,474.3" stroke="#d87d1a"/><path d="M619.6,481.5Q622.6,480.1 625.9,480.8" stroke="#ff8021"/><path d="M577.7,467.0Q580.0,462.6 578.9,457.7" stroke="#f18d1d"/><path d="M571.8,483.0Q570.0,478.8 567.3,475.0" stroke="#45a3d9"/><path d="M585.1,480.7Q582.5,477.9 579.5,475.5" stroke="#4dbce6"/><path d="M599.8,467.3Q601.8,465.5 603.2,463.3" stroke="#ff9321"/><path d="M591.7,487.2Q595.0,483.5 594.9,478.5" stroke="#3f90d3"/><path d="M615.8,479.0Q617.0,477.2 619.0,476.3" stroke="#a5bf42"/><path d="M575.2,465.9Q572.4,462.2 570.0,458.2" stroke="#e96a1d"/><path d="M558.6,478.1Q558.4,475.6 557.7,473.2" stroke="#f4951d"/><path d="M582.1,465.8Q583.5,463.3 584.2,460.5" stroke="#ef5e1f"/><path d="M574.3,487.0Q570.7,485.7 566.8,485.4" stroke="#3474b3"/><path d="M585.2,474.9Q585.0,471.0 585.7,467.1" stroke="#f8c41b"/><path d="M622.8,473.8Q623.5,471.0 625.1,468.6" stroke="#eb481f"/><path d="M555.9,458.9Q554.4,457.3 552.9,455.6" stroke="#fa781f"/><path d="M580.9,474.9Q578.4,471.6 579.0,467.4" stroke="#bebf28"/><path d="M588.3,460.9Q592.0,458.9 595.6,456.7" stroke="#df5e1c"/><path d="M563.5,477.0Q562.6,473.6 560.0,471.3" stroke="#ffa61e"/><path d="M568.1,489.2Q564.4,487.1 560.6,485.2" stroke="#8b492e"/><path d="M568.5,485.8Q563.7,486.2 558.9,485.5" stroke="#ffa61f"/><path d="M600.1,458.1Q601.7,455.2 601.7,452.0" stroke="#f14020"/><path d="M593.5,497.9Q596.8,500.1 600.2,502.0" stroke="#2c3997"/><path d="M576.2,476.9Q577.5,472.2 578.7,467.5" stroke="#e2e02d"/><path d="M584.2,474.4Q583.0,472.4 582.5,470.3" stroke="#b0c63f"/><path d="M608.8,469.7Q609.9,466.7 612.6,465.0" stroke="#ff7020"/><path d="M578.0,477.6Q578.9,474.3 580.0,471.0" stroke="#82be77"/><path d="M603.3,484.0Q604.8,479.4 609.1,477.3" stroke="#54ccfb"/><path d="M578.2,460.5Q578.7,456.5 577.8,452.5" stroke="#fd6420"/><path d="M589.2,459.7Q589.8,456.0 589.1,452.3" stroke="#fe5321"/><path d="M584.5,473.9Q582.0,471.7 581.3,468.5" stroke="#f0cb1a"/><path d="M606.0,469.3Q605.6,466.7 606.4,464.1" stroke="#dc581c"/><path d="M568.5,470.8Q564.1,470.2 561.0,466.9" stroke="#d44d1b"/><path d="M586.4,491.2Q583.2,489.7 580.7,487.3" stroke="#3881b6"/><path d="M580.8,492.4Q578.4,491.1 576.0,489.8" stroke="#2b5c9d"/><path d="M573.8,484.7Q571.5,482.5 568.3,482.0" stroke="#3f97bf"/><path d="M602.3,454.8Q603.2,450.1 606.6,446.7" stroke="#cf681a"/><path d="M618.0,458.1Q620.1,455.5 621.3,452.4" stroke="#d85c1b"/><path d="M611.8,470.6Q611.3,467.6 612.8,464.9" stroke="#cc331b"/><path d="M607.6,484.9Q608.7,482.0 609.1,479.0" stroke="#54ccf9"/><path d="M597.0,488.6Q598.0,486.5 599.7,485.0" stroke="#49ade6"/><path d="M588.4,481.9Q590.1,479.2 589.4,476.1" stroke="#419bcb"/><path d="M584.2,499.6Q581.0,499.4 578.5,497.3" stroke="#2b4398"/><path d="M590.4,483.2Q591.1,479.5 592.4,475.9" stroke="#3c89ca"/><path d="M590.3,491.5Q591.7,487.8 593.1,484.1" stroke="#4ab2de"/><path d="M587.0,488.9Q585.7,486.3 583.8,484.2" stroke="#439fce"/><path d="M604.6,486.0Q605.5,483.1 606.9,480.5" stroke="#63d4e5"/><path d="M598.5,458.0Q600.5,455.9 601.2,453.1" stroke="#fa4f21"/><path d="M557.9,469.7Q555.2,467.0 553.8,463.5" stroke="#f25e1f"/><path d="M616.6,457.4Q617.0,454.9 617.8,452.6" stroke="#f5841e"/><path d="M582.5,460.6Q579.2,458.1 578.2,454.0" stroke="#f7831e"/><path d="M577.9,485.8Q572.9,485.5 568.4,483.5" stroke="#43a1c7"/><path d="M602.9,490.7Q607.0,492.7 610.8,494.9" stroke="#3d88cf"/><path d="M597.6,484.5Q597.1,480.6 598.0,476.8" stroke="#3e8ecd"/><path d="M601.7,489.6Q602.3,486.0 606.0,485.7" stroke="#4093d6"/><path d="M590.0,475.4Q588.2,472.7 589.5,469.7" stroke="#e3de29"/><path d="M565.9,478.5Q563.9,477.1 561.6,476.2" stroke="#b4ce45"/><path d="M561.1,457.9Q561.3,455.3 559.7,453.3" stroke="#ff4422"/><path d="M590.9,484.6Q591.6,481.3 592.9,478.2" stroke="#2d63a1"/><path d="M559.0,467.6Q560.2,462.8 556.4,459.8" stroke="#d1221d"/><path d="M622.7,461.6Q624.7,459.1 625.2,455.9" stroke="#d82322"/><path d="M602.5,459.9Q605.5,456.5 607.8,452.7" stroke="#fb7b1f"/><path d="M591.3,487.8Q593.6,485.0 594.9,481.7" stroke="#47acd7"/><path d="M616.9,466.8Q618.7,465.0 620.3,463.1" stroke="#cb211e"/><path d="M572.6,471.4Q570.7,469.5 569.7,467.1" stroke="#d48819"/><path d="M576.5,488.8Q572.6,488.1 569.9,485.1" stroke="#3981bb"/><path d="M607.9,452.2Q608.6,449.9 607.2,448.0" stroke="#e3411e"/><path d="M584.9,452.1Q587.2,449.3 584.6,446.8" stroke="#eb2e20"/><path d="M564.4,470.3Q563.3,468.0 562.0,465.9" stroke="#fa2d22"/><path d="M579.3,456.6Q579.3,452.7 577.0,449.5" stroke="#f66b1f"/><path d="M601.3,473.7Q602.1,471.4 603.6,469.5" stroke="#ffd21e"/><path d="M613.8,466.4Q614.8,463.1 614.9,459.6" stroke="#f45e1f"/><path d="M575.2,491.3Q572.6,489.1 569.8,487.5" stroke="#69d7e1"/><path d="M569.3,474.3Q565.1,472.4 560.6,472.0" stroke="#fda91d"/><path d="M617.2,473.7Q621.4,471.9 624.8,468.9" stroke="#f22e21"/><path d="M591.8,482.3Q591.2,478.0 589.9,473.8" stroke="#306aa9"/><path d="M600.5,484.9Q601.8,481.8 604.2,479.5" stroke="#3c8fba"/><path d="M586.8,456.6Q587.2,452.0 584.8,448.1" stroke="#cf521a"/><path d="M601.4,457.0Q601.3,452.9 604.2,450.1" stroke="#d6681b"/><path d="M558.3,464.8Q556.6,463.1 555.0,461.2" stroke="#c83b1a"/><path d="M603.1,477.1Q607.8,475.2 611.1,471.5" stroke="#87d69e"/><path d="M580.0,484.7Q577.5,482.7 575.9,479.9" stroke="#4dbbe5"/><path d="M586.7,464.4Q585.6,460.5 586.5,456.5" stroke="#ff5f21"/><path d="M625.8,479.8Q627.3,477.7 629.7,476.4" stroke="#59220a"/><path d="M589.4,494.1Q588.9,490.6 586.7,487.9" stroke="#294792"/><path d="M554.1,470.3Q552.3,469.4 550.4,468.3" stroke="#c9351b"/><path d="M587.4,495.8Q584.7,494.2 581.7,493.8" stroke="#2d63a1"/><path d="M554.7,470.9Q554.7,468.7 554.0,466.6" stroke="#d62320"/><path d="M600.0,457.2Q598.9,454.0 598.0,450.8" stroke="#cd6519"/><path d="M596.0,468.2Q597.1,464.5 600.8,463.3" stroke="#c94b1a"/><path d="M588.0,482.4Q587.4,477.9 583.3,475.9" stroke="#42a1c8"/><path d="M619.1,478.1Q621.1,476.7 622.2,474.5" stroke="#fc7520"/><path d="M567.9,458.6Q565.6,455.7 563.6,452.5" stroke="#f66b1f"/><path d="M607.6,483.9Q610.5,481.9 611.4,478.5" stroke="#9c7c74"/><path d="M603.2,461.7Q603.5,458.2 606.6,456.5" stroke="#dc901a"/><path d="M589.1,494.4Q591.3,490.2 592.6,485.6" stroke="#3261b7"/><path d="M589.9,454.1Q589.5,450.0 587.5,446.4" stroke="#df341e"/><path d="M584.1,455.1Q582.5,452.4 581.8,449.4" stroke="#b01d1a"/><path d="M553.0,468.1Q550.1,465.2 547.0,462.4" stroke="#dd2420"/><path d="M608.8,484.7Q610.2,480.8 614.3,480.1" stroke="#707b8f"/><path d="M618.7,479.5Q621.7,479.0 624.2,477.2" stroke="#d59718"/><path d="M601.4,498.5Q604.1,497.4 607.0,496.5" stroke="#27488f"/><path d="M578.0,476.4Q577.8,473.1 576.2,470.2" stroke="#c8db40"/><path d="M567.2,464.6Q567.7,459.9 564.6,456.5" stroke="#ff8c20"/><path d="M600.4,491.5Q604.0,489.4 607.8,487.6" stroke="#48a9e0"/><path d="M568.6,471.8Q567.7,467.5 564.4,464.5" stroke="#eb451f"/><path d="M585.8,495.4Q586.3,491.2 584.0,487.7" stroke="#44a1d3"/><path d="M615.4,476.5Q617.4,475.0 617.4,472.5" stroke="#d77d1a"/><path d="M578.4,460.4Q576.5,457.5 575.2,454.3" stroke="#ff7920"/><path d="M607.1,491.7Q609.3,490.1 612.0,490.2" stroke="#306da3"/><path d="M574.8,473.8Q572.3,471.6 571.8,468.3" stroke="#dcd221"/><path d="M582.7,497.8Q580.2,496.2 578.0,498.1" stroke="#2e66a1"/><path d="M615.3,470.4Q617.4,467.6 619.2,464.6" stroke="#f85420"/><path d="M566.8,474.8Q565.6,470.9 565.1,466.7" stroke="#f2921d"/><path d="M621.8,478.1Q625.4,477.2 628.9,475.9" stroke="#da6a1b"/><path d="M605.9,458.9Q604.5,456.0 604.1,452.7" stroke="#ef5e1e"/><path d="M582.1,460.4Q581.8,458.0 582.3,455.6" stroke="#ff8c20"/><path d="M579.5,494.6Q575.3,496.0 570.9,495.2" stroke="#3880ba"/><path d="M554.7,477.3Q551.9,473.7 548.1,471.2" stroke="#da521c"/><path d="M584.2,483.7Q581.5,481.3 578.9,478.7" stroke="#429cc9"/><path d="M606.6,469.8Q609.1,466.4 612.3,463.7" stroke="#e1341e"/><path d="M591.6,497.3Q593.9,495.0 597.1,494.0" stroke="#3579af"/><path d="M566.3,470.3Q563.1,468.7 560.5,466.0" stroke="#ed3520"/><path d="M570.7,480.9Q567.3,478.5 563.7,476.4" stroke="#69b08d"/><path d="M577.2,487.5Q574.4,485.6 571.2,484.5" stroke="#3a81c7"/><path d="M599.8,455.0Q597.3,452.6 596.5,449.2" stroke="#ff7021"/><path d="M570.1,492.6Q567.4,492.0 564.6,492.3" stroke="#2c3c4c"/><path d="M584.3,479.5Q581.8,475.8 584.0,472.0" stroke="#818187"/><path d="M582.2,476.0Q581.3,474.1 580.5,472.1" stroke="#9ab642"/><path d="M563.2,474.2Q564.3,469.9 560.6,467.5" stroke="#ff7221"/><path d="M586.9,499.8Q582.5,499.8 578.1,499.4" stroke="#28378b"/><path d="M597.4,485.1Q597.6,482.3 597.4,479.5" stroke="#3e94bf"/><path d="M576.3,472.8Q573.6,468.9 571.4,464.6" stroke="#e2981a"/><path d="M623.6,460.0Q624.5,458.2 626.2,457.1" stroke="#9b191b"/><path d="M552.9,461.6Q550.6,460.7 548.3,459.7" stroke="#d94a1c"/><path d="M597.3,469.7Q597.4,467.7 597.7,465.7" stroke="#dd581c"/><path d="M589.3,452.7Q587.6,450.4 588.2,447.6" stroke="#d3521b"/><path d="M589.6,492.4Q593.7,490.7 598.1,490.6" stroke="#3b86c0"/><path d="M582.8,494.2Q581.1,492.5 579.9,490.5" stroke="#2d3d9b"/><path d="M582.7,466.2Q581.6,463.9 580.8,461.4" stroke="#e1751c"/><path d="M577.0,491.2Q574.4,489.1 571.1,488.7" stroke="#3d92bc"/><path d="M585.3,495.0Q583.6,498.3 579.9,498.3" stroke="#2a589d"/><path d="M560.1,479.2Q555.7,477.0 550.7,477.0" stroke="#db721b"/><path d="M586.8,462.1Q585.7,457.3 586.5,452.4" stroke="#f65420"/><path d="M566.4,469.3Q563.7,468.8 561.3,467.6" stroke="#de5a1c"/><path d="M562.5,475.7Q558.8,472.5 555.0,469.6" stroke="#ce381b"/><path d="M597.3,487.6Q601.1,485.1 605.5,484.2" stroke="#3f94c8"/><path d="M602.5,498.5Q605.6,496.0 609.5,495.3" stroke="#1f3851"/><path d="M612.4,481.6Q615.0,478.6 617.8,476.0" stroke="#fcea1f"/><path d="M607.1,482.5Q607.9,480.6 609.7,479.5" stroke="#3b8bbb"/><path d="M591.0,466.3Q592.9,462.7 590.8,459.2" stroke="#d2671a"/><path d="M577.8,496.5Q574.1,496.2 571.4,493.8" stroke="#3e92c5"/><path d="M561.0,457.3Q559.7,455.0 559.5,452.3" stroke="#ea471f"/><path d="M563.5,463.4Q562.3,460.9 560.8,458.5" stroke="#e94c1e"/><path d="M617.6,468.5Q618.6,465.2 621.9,464.6" stroke="#da241f"/><path d="M562.5,470.6Q560.6,469.8 559.1,468.4" stroke="#ce2c1c"/><path d="M608.4,469.9Q608.2,466.9 610.0,464.5" stroke="#de491d"/><path d="M564.5,470.2Q563.0,466.4 559.7,463.8" stroke="#e82620"/><path d="M571.2,460.5Q569.7,455.9 570.3,451.1" stroke="#ffaf20"/><path d="M569.5,463.4Q567.3,462.6 566.7,460.3" stroke="#d63f1c"/><path d="M606.0,457.1Q609.6,454.5 612.9,451.6" stroke="#d3411c"/><path d="M608.1,479.4Q610.2,478.7 611.7,477.1" stroke="#81dcb7"/></g></g></g>
</g>
<text x="28.00" y="367.60" font-size="12.5" textLength="3.13" lengthAdjust="spacingAndGlyphs" fill="#f2f2f2" >I</text>
<text x="19.50" y="404.50" font-size="12.5" textLength="13.10" lengthAdjust="spacingAndGlyphs" fill="#f2f2f2" >FA</text>
<text x="19.90" y="478.20" font-size="12.6" textLength="18.60" lengthAdjust="spacingAndGlyphs" fill="#f2f2f2" >MD</text>
<defs><linearGradient id="jet" x1="0" y1="0" x2="0" y2="1">
<stop offset="0" stop-color="#9e1a1f"/><stop offset="0.12" stop-color="#e0251f"/>
<stop offset="0.3" stop-color="#f6921e"/><stop offset="0.42" stop-color="#f7e21a"/>
<stop offset="0.55" stop-color="#9ccb5a"/><stop offset="0.7" stop-color="#4fc0e8"/>
<stop offset="0.85" stop-color="#2f62ae"/><stop offset="1" stop-color="#2b2f8f"/></linearGradient></defs>
<rect x="655.20" y="367.70" width="7.20" height="58.70" fill="url(#jet)"/>
<rect x="655.20" y="448.00" width="7.20" height="58.80" fill="url(#jet)"/>
<rect x="655.2" y="367.7" width="7.2" height="58.7" fill="none" stroke="#777" stroke-width="0.5"/>
<rect x="655.2" y="448.0" width="7.2" height="58.8" fill="none" stroke="#777" stroke-width="0.5"/>
<text x="653.90" y="360.80" font-size="9.4" textLength="9.10" lengthAdjust="spacingAndGlyphs" fill="#eee" >FA</text>
<text x="651.40" y="442.10" font-size="10.6" textLength="13.90" lengthAdjust="spacingAndGlyphs" fill="#eee" >MD</text>
<text x="664.90" y="369.80" font-size="7.2" textLength="8.80" lengthAdjust="spacingAndGlyphs" fill="#eee" >0.2</text>
<text x="664.90" y="428.40" font-size="7.2" textLength="8.80" lengthAdjust="spacingAndGlyphs" fill="#eee" >0.0</text>
<text x="664.90" y="450.40" font-size="7.2" textLength="8.80" lengthAdjust="spacingAndGlyphs" fill="#eee" >1.0</text>
<text x="664.90" y="509.00" font-size="7.2" textLength="8.80" lengthAdjust="spacingAndGlyphs" fill="#eee" >0.2</text>
<text x="7.70" y="535.30" font-size="15.2" textLength="6.11" lengthAdjust="spacingAndGlyphs" fill="#231f20" stroke="#231f20" stroke-width="0.1">J</text>
<rect x="60.00" y="627.57" width="5.70" height="33.63" fill="#ed7d31"/>
<rect x="67.10" y="621.27" width="5.40" height="39.93" fill="#5b9bd5"/>
<line x1="62.85" y1="626.52" x2="62.85" y2="628.62" stroke="#222" stroke-width="0.8" />
<line x1="61.35" y1="626.52" x2="64.35" y2="626.52" stroke="#222" stroke-width="0.8" />
<line x1="61.35" y1="628.62" x2="64.35" y2="628.62" stroke="#222" stroke-width="0.8" />
<line x1="69.80" y1="617.49" x2="69.80" y2="625.05" stroke="#222" stroke-width="0.8" />
<line x1="68.30" y1="617.49" x2="71.30" y2="617.49" stroke="#222" stroke-width="0.8" />
<line x1="68.30" y1="625.05" x2="71.30" y2="625.05" stroke="#222" stroke-width="0.8" />
<text x="66.30" y="673.00" font-size="10.3" text-anchor="middle" textLength="13.39" lengthAdjust="spacingAndGlyphs" fill="#231f20" stroke="#231f20" stroke-width="0.22" >CC</text>
<rect x="84.15" y="564.10" width="5.70" height="97.10" fill="#ed7d31"/>
<rect x="91.25" y="567.68" width="5.40" height="93.52" fill="#5b9bd5"/>
<line x1="87.00" y1="553.59" x2="87.00" y2="574.61" stroke="#222" stroke-width="0.8" />
<line x1="85.50" y1="553.59" x2="88.50" y2="553.59" stroke="#222" stroke-width="0.8" />
<line x1="85.50" y1="574.61" x2="88.50" y2="574.61" stroke="#222" stroke-width="0.8" />
<line x1="93.95" y1="559.27" x2="93.95" y2="576.08" stroke="#222" stroke-width="0.8" />
<line x1="92.45" y1="559.27" x2="95.45" y2="559.27" stroke="#222" stroke-width="0.8" />
<line x1="92.45" y1="576.08" x2="95.45" y2="576.08" stroke="#222" stroke-width="0.8" />
<text x="90.45" y="673.00" font-size="10.3" text-anchor="middle" textLength="12.88" lengthAdjust="spacingAndGlyphs" fill="#231f20" stroke="#231f20" stroke-width="0.22" >CP</text>
<rect x="108.30" y="582.39" width="5.70" height="78.81" fill="#ed7d31"/>
<rect x="115.40" y="572.93" width="5.40" height="88.27" fill="#5b9bd5"/>
<line x1="111.15" y1="579.24" x2="111.15" y2="585.54" stroke="#222" stroke-width="0.8" />
<line x1="109.65" y1="579.24" x2="112.65" y2="579.24" stroke="#222" stroke-width="0.8" />
<line x1="109.65" y1="585.54" x2="112.65" y2="585.54" stroke="#222" stroke-width="0.8" />
<line x1="118.10" y1="566.62" x2="118.10" y2="579.24" stroke="#222" stroke-width="0.8" />
<line x1="116.60" y1="566.62" x2="119.60" y2="566.62" stroke="#222" stroke-width="0.8" />
<line x1="116.60" y1="579.24" x2="119.60" y2="579.24" stroke="#222" stroke-width="0.8" />
<text x="114.60" y="673.00" font-size="10.3" text-anchor="middle" textLength="9.27" lengthAdjust="spacingAndGlyphs" fill="#231f20" stroke="#231f20" stroke-width="0.22" >IC</text>
<rect x="132.45" y="639.13" width="5.70" height="22.07" fill="#ed7d31"/>
<rect x="139.55" y="638.50" width="5.40" height="22.70" fill="#5b9bd5"/>
<line x1="135.30" y1="635.35" x2="135.30" y2="642.92" stroke="#222" stroke-width="0.8" />
<line x1="133.80" y1="635.35" x2="136.80" y2="635.35" stroke="#222" stroke-width="0.8" />
<line x1="133.80" y1="642.92" x2="136.80" y2="642.92" stroke="#222" stroke-width="0.8" />
<line x1="142.25" y1="636.40" x2="142.25" y2="640.60" stroke="#222" stroke-width="0.8" />
<line x1="140.75" y1="636.40" x2="143.75" y2="636.40" stroke="#222" stroke-width="0.8" />
<line x1="140.75" y1="640.60" x2="143.75" y2="640.60" stroke="#222" stroke-width="0.8" />
<text x="138.75" y="673.00" font-size="10.3" text-anchor="middle" textLength="12.88" lengthAdjust="spacingAndGlyphs" fill="#231f20" stroke="#231f20" stroke-width="0.22" >AC</text>
<rect x="156.60" y="650.90" width="5.70" height="10.30" fill="#ed7d31"/>
<rect x="163.70" y="648.80" width="5.40" height="12.40" fill="#5b9bd5"/>
<line x1="159.45" y1="649.85" x2="159.45" y2="651.95" stroke="#222" stroke-width="0.8" />
<line x1="157.95" y1="649.85" x2="160.95" y2="649.85" stroke="#222" stroke-width="0.8" />
<line x1="157.95" y1="651.95" x2="160.95" y2="651.95" stroke="#222" stroke-width="0.8" />
<line x1="166.40" y1="646.70" x2="166.40" y2="650.90" stroke="#222" stroke-width="0.8" />
<line x1="164.90" y1="646.70" x2="167.90" y2="646.70" stroke="#222" stroke-width="0.8" />
<line x1="164.90" y1="650.90" x2="167.90" y2="650.90" stroke="#222" stroke-width="0.8" />
<text x="162.90" y="673.00" font-size="10.3" text-anchor="middle" textLength="18.03" lengthAdjust="spacingAndGlyphs" fill="#231f20" stroke="#231f20" stroke-width="0.22" >CPu</text>
<rect x="180.75" y="653.00" width="5.70" height="8.20" fill="#ed7d31"/>
<rect x="187.85" y="650.06" width="5.40" height="11.14" fill="#5b9bd5"/>
<line x1="183.60" y1="652.16" x2="183.60" y2="653.84" stroke="#222" stroke-width="0.8" />
<line x1="182.10" y1="652.16" x2="185.10" y2="652.16" stroke="#222" stroke-width="0.8" />
<line x1="182.10" y1="653.84" x2="185.10" y2="653.84" stroke="#222" stroke-width="0.8" />
<line x1="190.55" y1="647.96" x2="190.55" y2="652.16" stroke="#222" stroke-width="0.8" />
<line x1="189.05" y1="647.96" x2="192.05" y2="647.96" stroke="#222" stroke-width="0.8" />
<line x1="189.05" y1="652.16" x2="192.05" y2="652.16" stroke="#222" stroke-width="0.8" />
<text x="187.05" y="673.00" font-size="10.3" text-anchor="middle" textLength="19.07" lengthAdjust="spacingAndGlyphs" fill="#231f20" stroke="#231f20" stroke-width="0.22" >dHip</text>
<rect x="204.90" y="650.90" width="5.70" height="10.30" fill="#ed7d31"/>
<rect x="212.00" y="650.06" width="5.40" height="11.14" fill="#5b9bd5"/>
<line x1="207.75" y1="649.85" x2="207.75" y2="651.95" stroke="#222" stroke-width="0.8" />
<line x1="206.25" y1="649.85" x2="209.25" y2="649.85" stroke="#222" stroke-width="0.8" />
<line x1="206.25" y1="651.95" x2="209.25" y2="651.95" stroke="#222" stroke-width="0.8" />
<line x1="214.70" y1="647.96" x2="214.70" y2="652.16" stroke="#222" stroke-width="0.8" />
<line x1="213.20" y1="647.96" x2="216.20" y2="647.96" stroke="#222" stroke-width="0.8" />
<line x1="213.20" y1="652.16" x2="216.20" y2="652.16" stroke="#222" stroke-width="0.8" />
<text x="211.20" y="673.00" font-size="10.3" text-anchor="middle" textLength="18.54" lengthAdjust="spacingAndGlyphs" fill="#231f20" stroke="#231f20" stroke-width="0.22" >vHip</text>
<rect x="229.05" y="625.89" width="5.70" height="35.31" fill="#ed7d31"/>
<rect x="236.15" y="625.05" width="5.40" height="36.15" fill="#5b9bd5"/>
<line x1="231.90" y1="621.69" x2="231.90" y2="630.10" stroke="#222" stroke-width="0.8" />
<line x1="230.40" y1="621.69" x2="233.40" y2="621.69" stroke="#222" stroke-width="0.8" />
<line x1="230.40" y1="630.10" x2="233.40" y2="630.10" stroke="#222" stroke-width="0.8" />
<line x1="238.85" y1="621.27" x2="238.85" y2="628.83" stroke="#222" stroke-width="0.8" />
<line x1="237.35" y1="621.27" x2="240.35" y2="621.27" stroke="#222" stroke-width="0.8" />
<line x1="237.35" y1="628.83" x2="240.35" y2="628.83" stroke="#222" stroke-width="0.8" />
<text x="235.35" y="673.00" font-size="10.3" text-anchor="middle" textLength="14.94" lengthAdjust="spacingAndGlyphs" fill="#231f20" stroke="#231f20" stroke-width="0.22" >Mid</text>
<rect x="253.20" y="646.07" width="5.70" height="15.13" fill="#ed7d31"/>
<rect x="260.30" y="646.49" width="5.40" height="14.71" fill="#5b9bd5"/>
<line x1="256.05" y1="643.97" x2="256.05" y2="648.17" stroke="#222" stroke-width="0.8" />
<line x1="254.55" y1="643.97" x2="257.55" y2="643.97" stroke="#222" stroke-width="0.8" />
<line x1="254.55" y1="648.17" x2="257.55" y2="648.17" stroke="#222" stroke-width="0.8" />
<line x1="263.00" y1="645.02" x2="263.00" y2="647.96" stroke="#222" stroke-width="0.8" />
<line x1="261.50" y1="645.02" x2="264.50" y2="645.02" stroke="#222" stroke-width="0.8" />
<line x1="261.50" y1="647.96" x2="264.50" y2="647.96" stroke="#222" stroke-width="0.8" />
<text x="259.50" y="673.00" font-size="10.3" text-anchor="middle" textLength="18.54" lengthAdjust="spacingAndGlyphs" fill="#231f20" stroke="#231f20" stroke-width="0.22" >CTX</text>
<rect x="277.35" y="635.14" width="5.70" height="26.06" fill="#ed7d31"/>
<rect x="284.45" y="635.77" width="5.40" height="25.43" fill="#5b9bd5"/>
<line x1="280.20" y1="629.89" x2="280.20" y2="640.39" stroke="#222" stroke-width="0.8" />
<line x1="278.70" y1="629.89" x2="281.70" y2="629.89" stroke="#222" stroke-width="0.8" />
<line x1="278.70" y1="640.39" x2="281.70" y2="640.39" stroke="#222" stroke-width="0.8" />
<line x1="287.15" y1="633.67" x2="287.15" y2="637.87" stroke="#222" stroke-width="0.8" />
<line x1="285.65" y1="633.67" x2="288.65" y2="633.67" stroke="#222" stroke-width="0.8" />
<line x1="285.65" y1="637.87" x2="288.65" y2="637.87" stroke="#222" stroke-width="0.8" />
<text x="283.65" y="673.00" font-size="10.3" text-anchor="middle" textLength="16.49" lengthAdjust="spacingAndGlyphs" fill="#231f20" stroke="#231f20" stroke-width="0.22" >Sub</text>
<rect x="301.50" y="635.14" width="5.70" height="26.06" fill="#ed7d31"/>
<rect x="308.60" y="631.99" width="5.40" height="29.21" fill="#5b9bd5"/>
<line x1="304.35" y1="631.36" x2="304.35" y2="638.92" stroke="#222" stroke-width="0.8" />
<line x1="302.85" y1="631.36" x2="305.85" y2="631.36" stroke="#222" stroke-width="0.8" />
<line x1="302.85" y1="638.92" x2="305.85" y2="638.92" stroke="#222" stroke-width="0.8" />
<line x1="311.30" y1="627.36" x2="311.30" y2="636.61" stroke="#222" stroke-width="0.8" />
<line x1="309.80" y1="627.36" x2="312.80" y2="627.36" stroke="#222" stroke-width="0.8" />
<line x1="309.80" y1="636.61" x2="312.80" y2="636.61" stroke="#222" stroke-width="0.8" />
<text x="307.80" y="673.00" font-size="10.3" text-anchor="middle" textLength="25.25" lengthAdjust="spacingAndGlyphs" fill="#231f20" stroke="#231f20" stroke-width="0.22" >Cereb</text>
<line x1="54.00" y1="535.10" x2="54.00" y2="661.20" stroke="#bbb" stroke-width="1.0" />
<line x1="51.40" y1="661.20" x2="54.00" y2="661.20" stroke="#bbb" stroke-width="1.0" />
<text x="49.40" y="664.80" font-size="10.2" text-anchor="end" textLength="5.11" lengthAdjust="spacingAndGlyphs" fill="#231f20" stroke="#231f20" stroke-width="0.22" >0</text>
<line x1="51.40" y1="640.18" x2="54.00" y2="640.18" stroke="#bbb" stroke-width="1.0" />
<text x="49.40" y="643.78" font-size="10.2" text-anchor="end" textLength="12.76" lengthAdjust="spacingAndGlyphs" fill="#231f20" stroke="#231f20" stroke-width="0.22" >0.1</text>
<line x1="51.40" y1="619.17" x2="54.00" y2="619.17" stroke="#bbb" stroke-width="1.0" />
<text x="49.40" y="622.77" font-size="10.2" text-anchor="end" textLength="12.76" lengthAdjust="spacingAndGlyphs" fill="#231f20" stroke="#231f20" stroke-width="0.22" >0.2</text>
<line x1="51.40" y1="598.15" x2="54.00" y2="598.15" stroke="#bbb" stroke-width="1.0" />
<text x="49.40" y="601.75" font-size="10.2" text-anchor="end" textLength="12.76" lengthAdjust="spacingAndGlyphs" fill="#231f20" stroke="#231f20" stroke-width="0.22" >0.3</text>
<line x1="51.40" y1="577.13" x2="54.00" y2="577.13" stroke="#bbb" stroke-width="1.0" />
<text x="49.40" y="580.73" font-size="10.2" text-anchor="end" textLength="12.76" lengthAdjust="spacingAndGlyphs" fill="#231f20" stroke="#231f20" stroke-width="0.22" >0.4</text>
<line x1="51.40" y1="556.12" x2="54.00" y2="556.12" stroke="#bbb" stroke-width="1.0" />
<text x="49.40" y="559.72" font-size="10.2" text-anchor="end" textLength="12.76" lengthAdjust="spacingAndGlyphs" fill="#231f20" stroke="#231f20" stroke-width="0.22" >0.5</text>
<line x1="51.40" y1="535.10" x2="54.00" y2="535.10" stroke="#bbb" stroke-width="1.0" />
<text x="49.40" y="538.70" font-size="10.2" text-anchor="end" textLength="12.76" lengthAdjust="spacingAndGlyphs" fill="#231f20" stroke="#231f20" stroke-width="0.22" >0.6</text>
<line x1="54.00" y1="661.20" x2="320.20" y2="661.20" stroke="#bbb" stroke-width="1.0" />
<text transform="translate(27.70,598.50) rotate(-90)" x="0" y="0" font-size="10.0" text-anchor="middle" textLength="9.60" lengthAdjust="spacingAndGlyphs" fill="#231f20" stroke="#231f20" stroke-width="0.22">FA</text>
<text x="323.90" y="536.90" font-size="15.2" textLength="8.98" lengthAdjust="spacingAndGlyphs" fill="#231f20" stroke="#231f20" stroke-width="0.1">K</text>
<rect x="377.50" y="607.82" width="5.30" height="53.38" fill="#ed7d31"/>
<rect x="384.40" y="613.05" width="5.30" height="48.15" fill="#5b9bd5"/>
<line x1="380.15" y1="605.73" x2="380.15" y2="609.91" stroke="#222" stroke-width="0.8" />
<line x1="378.65" y1="605.73" x2="381.65" y2="605.73" stroke="#222" stroke-width="0.8" />
<line x1="378.65" y1="609.91" x2="381.65" y2="609.91" stroke="#222" stroke-width="0.8" />
<line x1="387.05" y1="610.44" x2="387.05" y2="615.67" stroke="#222" stroke-width="0.8" />
<line x1="385.55" y1="610.44" x2="388.55" y2="610.44" stroke="#222" stroke-width="0.8" />
<line x1="385.55" y1="615.67" x2="388.55" y2="615.67" stroke="#222" stroke-width="0.8" />
<text x="383.60" y="673.00" font-size="10.3" text-anchor="middle" textLength="13.39" lengthAdjust="spacingAndGlyphs" fill="#231f20" stroke="#231f20" stroke-width="0.22" >CC</text>
<rect x="401.60" y="627.18" width="5.30" height="34.02" fill="#ed7d31"/>
<rect x="408.50" y="626.66" width="5.30" height="34.54" fill="#5b9bd5"/>
<line x1="404.25" y1="625.93" x2="404.25" y2="628.44" stroke="#222" stroke-width="0.8" />
<line x1="402.75" y1="625.93" x2="405.75" y2="625.93" stroke="#222" stroke-width="0.8" />
<line x1="402.75" y1="628.44" x2="405.75" y2="628.44" stroke="#222" stroke-width="0.8" />
<line x1="411.15" y1="624.57" x2="411.15" y2="628.75" stroke="#222" stroke-width="0.8" />
<line x1="409.65" y1="624.57" x2="412.65" y2="624.57" stroke="#222" stroke-width="0.8" />
<line x1="409.65" y1="628.75" x2="412.65" y2="628.75" stroke="#222" stroke-width="0.8" />
<text x="407.70" y="673.00" font-size="10.3" text-anchor="middle" textLength="12.88" lengthAdjust="spacingAndGlyphs" fill="#231f20" stroke="#231f20" stroke-width="0.22" >CP</text>
<rect x="425.70" y="621.95" width="5.30" height="39.25" fill="#ed7d31"/>
<rect x="432.60" y="624.57" width="5.30" height="36.63" fill="#5b9bd5"/>
<line x1="428.35" y1="621.43" x2="428.35" y2="622.47" stroke="#222" stroke-width="0.8" />
<line x1="426.85" y1="621.43" x2="429.85" y2="621.43" stroke="#222" stroke-width="0.8" />
<line x1="426.85" y1="622.47" x2="429.85" y2="622.47" stroke="#222" stroke-width="0.8" />
<line x1="435.25" y1="623.31" x2="435.25" y2="625.82" stroke="#222" stroke-width="0.8" />
<line x1="433.75" y1="623.31" x2="436.75" y2="623.31" stroke="#222" stroke-width="0.8" />
<line x1="433.75" y1="625.82" x2="436.75" y2="625.82" stroke="#222" stroke-width="0.8" />
<text x="431.80" y="673.00" font-size="10.3" text-anchor="middle" textLength="9.27" lengthAdjust="spacingAndGlyphs" fill="#231f20" stroke="#231f20" stroke-width="0.22" >IC</text>
<rect x="449.80" y="579.56" width="5.30" height="81.64" fill="#ed7d31"/>
<rect x="456.70" y="583.22" width="5.30" height="77.98" fill="#5b9bd5"/>
<line x1="452.45" y1="577.47" x2="452.45" y2="581.65" stroke="#222" stroke-width="0.8" />
<line x1="450.95" y1="577.47" x2="453.95" y2="577.47" stroke="#222" stroke-width="0.8" />
<line x1="450.95" y1="581.65" x2="453.95" y2="581.65" stroke="#222" stroke-width="0.8" />
<line x1="459.35" y1="581.34" x2="459.35" y2="585.11" stroke="#222" stroke-width="0.8" />
<line x1="457.85" y1="581.34" x2="460.85" y2="581.34" stroke="#222" stroke-width="0.8" />
<line x1="457.85" y1="585.11" x2="460.85" y2="585.11" stroke="#222" stroke-width="0.8" />
<text x="455.90" y="673.00" font-size="10.3" text-anchor="middle" textLength="12.88" lengthAdjust="spacingAndGlyphs" fill="#231f20" stroke="#231f20" stroke-width="0.22" >AC</text>
<rect x="473.90" y="572.23" width="5.30" height="88.97" fill="#ed7d31"/>
<rect x="480.80" y="577.47" width="5.30" height="83.73" fill="#5b9bd5"/>
<line x1="476.55" y1="569.62" x2="476.55" y2="574.85" stroke="#222" stroke-width="0.8" />
<line x1="475.05" y1="569.62" x2="478.05" y2="569.62" stroke="#222" stroke-width="0.8" />
<line x1="475.05" y1="574.85" x2="478.05" y2="574.85" stroke="#222" stroke-width="0.8" />
<line x1="483.45" y1="575.90" x2="483.45" y2="579.04" stroke="#222" stroke-width="0.8" />
<line x1="481.95" y1="575.90" x2="484.95" y2="575.90" stroke="#222" stroke-width="0.8" />
<line x1="481.95" y1="579.04" x2="484.95" y2="579.04" stroke="#222" stroke-width="0.8" />
<text x="480.00" y="673.00" font-size="10.3" text-anchor="middle" textLength="18.03" lengthAdjust="spacingAndGlyphs" fill="#231f20" stroke="#231f20" stroke-width="0.22" >CPu</text>
<rect x="498.00" y="565.95" width="5.30" height="95.25" fill="#ed7d31"/>
<rect x="504.90" y="572.76" width="5.30" height="88.44" fill="#5b9bd5"/>
<line x1="500.65" y1="564.38" x2="500.65" y2="567.52" stroke="#222" stroke-width="0.8" />
<line x1="499.15" y1="564.38" x2="502.15" y2="564.38" stroke="#222" stroke-width="0.8" />
<line x1="499.15" y1="567.52" x2="502.15" y2="567.52" stroke="#222" stroke-width="0.8" />
<line x1="507.55" y1="570.14" x2="507.55" y2="575.37" stroke="#222" stroke-width="0.8" />
<line x1="506.05" y1="570.14" x2="509.05" y2="570.14" stroke="#222" stroke-width="0.8" />
<line x1="506.05" y1="575.37" x2="509.05" y2="575.37" stroke="#222" stroke-width="0.8" />
<text x="504.10" y="673.00" font-size="10.3" text-anchor="middle" textLength="19.07" lengthAdjust="spacingAndGlyphs" fill="#231f20" stroke="#231f20" stroke-width="0.22" >dHip</text>
<rect x="522.10" y="562.29" width="5.30" height="98.91" fill="#ed7d31"/>
<rect x="529.00" y="564.91" width="5.30" height="96.29" fill="#5b9bd5"/>
<line x1="524.75" y1="561.24" x2="524.75" y2="563.34" stroke="#222" stroke-width="0.8" />
<line x1="523.25" y1="561.24" x2="526.25" y2="561.24" stroke="#222" stroke-width="0.8" />
<line x1="523.25" y1="563.34" x2="526.25" y2="563.34" stroke="#222" stroke-width="0.8" />
<line x1="531.65" y1="562.81" x2="531.65" y2="567.00" stroke="#222" stroke-width="0.8" />
<line x1="530.15" y1="562.81" x2="533.15" y2="562.81" stroke="#222" stroke-width="0.8" />
<line x1="530.15" y1="567.00" x2="533.15" y2="567.00" stroke="#222" stroke-width="0.8" />
<text x="528.20" y="673.00" font-size="10.3" text-anchor="middle" textLength="18.54" lengthAdjust="spacingAndGlyphs" fill="#231f20" stroke="#231f20" stroke-width="0.22" >vHip</text>
<rect x="546.20" y="609.39" width="5.30" height="51.81" fill="#ed7d31"/>
<rect x="553.10" y="609.39" width="5.30" height="51.81" fill="#5b9bd5"/>
<line x1="548.85" y1="608.55" x2="548.85" y2="610.23" stroke="#222" stroke-width="0.8" />
<line x1="547.35" y1="608.55" x2="550.35" y2="608.55" stroke="#222" stroke-width="0.8" />
<line x1="547.35" y1="610.23" x2="550.35" y2="610.23" stroke="#222" stroke-width="0.8" />
<line x1="555.75" y1="608.55" x2="555.75" y2="610.23" stroke="#222" stroke-width="0.8" />
<line x1="554.25" y1="608.55" x2="557.25" y2="608.55" stroke="#222" stroke-width="0.8" />
<line x1="554.25" y1="610.23" x2="557.25" y2="610.23" stroke="#222" stroke-width="0.8" />
<text x="552.30" y="673.00" font-size="10.3" text-anchor="middle" textLength="14.94" lengthAdjust="spacingAndGlyphs" fill="#231f20" stroke="#231f20" stroke-width="0.22" >Mid</text>
<rect x="570.30" y="572.76" width="5.30" height="88.44" fill="#ed7d31"/>
<rect x="577.20" y="574.85" width="5.30" height="86.35" fill="#5b9bd5"/>
<line x1="572.95" y1="570.66" x2="572.95" y2="574.85" stroke="#222" stroke-width="0.8" />
<line x1="571.45" y1="570.66" x2="574.45" y2="570.66" stroke="#222" stroke-width="0.8" />
<line x1="571.45" y1="574.85" x2="574.45" y2="574.85" stroke="#222" stroke-width="0.8" />
<line x1="579.85" y1="572.23" x2="579.85" y2="577.47" stroke="#222" stroke-width="0.8" />
<line x1="578.35" y1="572.23" x2="581.35" y2="572.23" stroke="#222" stroke-width="0.8" />
<line x1="578.35" y1="577.47" x2="581.35" y2="577.47" stroke="#222" stroke-width="0.8" />
<text x="576.40" y="673.00" font-size="10.3" text-anchor="middle" textLength="18.54" lengthAdjust="spacingAndGlyphs" fill="#231f20" stroke="#231f20" stroke-width="0.22" >CTX</text>
<rect x="594.40" y="587.93" width="5.30" height="73.27" fill="#ed7d31"/>
<rect x="601.30" y="590.55" width="5.30" height="70.65" fill="#5b9bd5"/>
<line x1="597.05" y1="587.10" x2="597.05" y2="588.77" stroke="#222" stroke-width="0.8" />
<line x1="595.55" y1="587.10" x2="598.55" y2="587.10" stroke="#222" stroke-width="0.8" />
<line x1="595.55" y1="588.77" x2="598.55" y2="588.77" stroke="#222" stroke-width="0.8" />
<line x1="603.95" y1="589.50" x2="603.95" y2="591.60" stroke="#222" stroke-width="0.8" />
<line x1="602.45" y1="589.50" x2="605.45" y2="589.50" stroke="#222" stroke-width="0.8" />
<line x1="602.45" y1="591.60" x2="605.45" y2="591.60" stroke="#222" stroke-width="0.8" />
<text x="600.50" y="673.00" font-size="10.3" text-anchor="middle" textLength="16.49" lengthAdjust="spacingAndGlyphs" fill="#231f20" stroke="#231f20" stroke-width="0.22" >Sub</text>
<rect x="618.50" y="579.56" width="5.30" height="81.64" fill="#ed7d31"/>
<rect x="625.40" y="578.51" width="5.30" height="82.69" fill="#5b9bd5"/>
<line x1="621.15" y1="578.72" x2="621.15" y2="580.40" stroke="#222" stroke-width="0.8" />
<line x1="619.65" y1="578.72" x2="622.65" y2="578.72" stroke="#222" stroke-width="0.8" />
<line x1="619.65" y1="580.40" x2="622.65" y2="580.40" stroke="#222" stroke-width="0.8" />
<line x1="628.05" y1="576.94" x2="628.05" y2="580.08" stroke="#222" stroke-width="0.8" />
<line x1="626.55" y1="576.94" x2="629.55" y2="576.94" stroke="#222" stroke-width="0.8" />
<line x1="626.55" y1="580.08" x2="629.55" y2="580.08" stroke="#222" stroke-width="0.8" />
<text x="624.60" y="673.00" font-size="10.3" text-anchor="middle" textLength="25.25" lengthAdjust="spacingAndGlyphs" fill="#231f20" stroke="#231f20" stroke-width="0.22" >Cereb</text>
<line x1="371.30" y1="535.60" x2="371.30" y2="661.20" stroke="#bbb" stroke-width="1.0" />
<line x1="368.70" y1="661.20" x2="371.30" y2="661.20" stroke="#bbb" stroke-width="1.0" />
<text x="366.40" y="664.80" font-size="10.2" text-anchor="end" textLength="5.11" lengthAdjust="spacingAndGlyphs" fill="#231f20" stroke="#231f20" stroke-width="0.22" >0</text>
<line x1="368.70" y1="640.27" x2="371.30" y2="640.27" stroke="#bbb" stroke-width="1.0" />
<text x="366.40" y="643.87" font-size="10.2" text-anchor="end" textLength="12.76" lengthAdjust="spacingAndGlyphs" fill="#231f20" stroke="#231f20" stroke-width="0.22" >0.2</text>
<line x1="368.70" y1="619.33" x2="371.30" y2="619.33" stroke="#bbb" stroke-width="1.0" />
<text x="366.40" y="622.93" font-size="10.2" text-anchor="end" textLength="12.76" lengthAdjust="spacingAndGlyphs" fill="#231f20" stroke="#231f20" stroke-width="0.22" >0.4</text>
<line x1="368.70" y1="598.40" x2="371.30" y2="598.40" stroke="#bbb" stroke-width="1.0" />
<text x="366.40" y="602.00" font-size="10.2" text-anchor="end" textLength="12.76" lengthAdjust="spacingAndGlyphs" fill="#231f20" stroke="#231f20" stroke-width="0.22" >0.6</text>
<line x1="368.70" y1="577.47" x2="371.30" y2="577.47" stroke="#bbb" stroke-width="1.0" />
<text x="366.40" y="581.07" font-size="10.2" text-anchor="end" textLength="12.76" lengthAdjust="spacingAndGlyphs" fill="#231f20" stroke="#231f20" stroke-width="0.22" >0.8</text>
<line x1="368.70" y1="556.53" x2="371.30" y2="556.53" stroke="#bbb" stroke-width="1.0" />
<text x="366.40" y="560.13" font-size="10.2" text-anchor="end" textLength="12.76" lengthAdjust="spacingAndGlyphs" fill="#231f20" stroke="#231f20" stroke-width="0.22" >1.0</text>
<line x1="368.70" y1="535.60" x2="371.30" y2="535.60" stroke="#bbb" stroke-width="1.0" />
<text x="366.40" y="539.20" font-size="10.2" text-anchor="end" textLength="12.76" lengthAdjust="spacingAndGlyphs" fill="#231f20" stroke="#231f20" stroke-width="0.22" >1.2</text>
<line x1="371.30" y1="661.20" x2="635.90" y2="661.20" stroke="#bbb" stroke-width="1.0" />
<text transform="translate(345.70,598.00) rotate(-90)" x="0" y="0" font-size="10.0" text-anchor="middle" textLength="67.20" lengthAdjust="spacingAndGlyphs" fill="#231f20" stroke="#231f20" stroke-width="0.22">MD (10<tspan font-size="6" dy="-3">-3</tspan><tspan dy="3"> mm</tspan><tspan font-size="6" dy="-3">2</tspan><tspan dy="3">/s)</tspan></text>
<rect x="626.70" y="536.60" width="6.30" height="6.30" fill="#ed7d31"/>
<text x="636.30" y="542.90" font-size="10.3" textLength="13.00" lengthAdjust="spacingAndGlyphs" fill="#231f20" stroke="#231f20" stroke-width="0.22" >WT</text>
<rect x="626.70" y="550.00" width="6.30" height="6.20" fill="#5b9bd5"/>
<text x="636.30" y="556.20" font-size="10.3" textLength="29.50" lengthAdjust="spacingAndGlyphs" fill="#231f20" stroke="#231f20" stroke-width="0.22" >Ndufs4</text>
<text x="666.20" y="552.90" font-size="5.4" textLength="15.60" lengthAdjust="spacingAndGlyphs" fill="#231f20" stroke="#231f20" stroke-width="0.22" >GT/GT</text>
</svg></body></html>
